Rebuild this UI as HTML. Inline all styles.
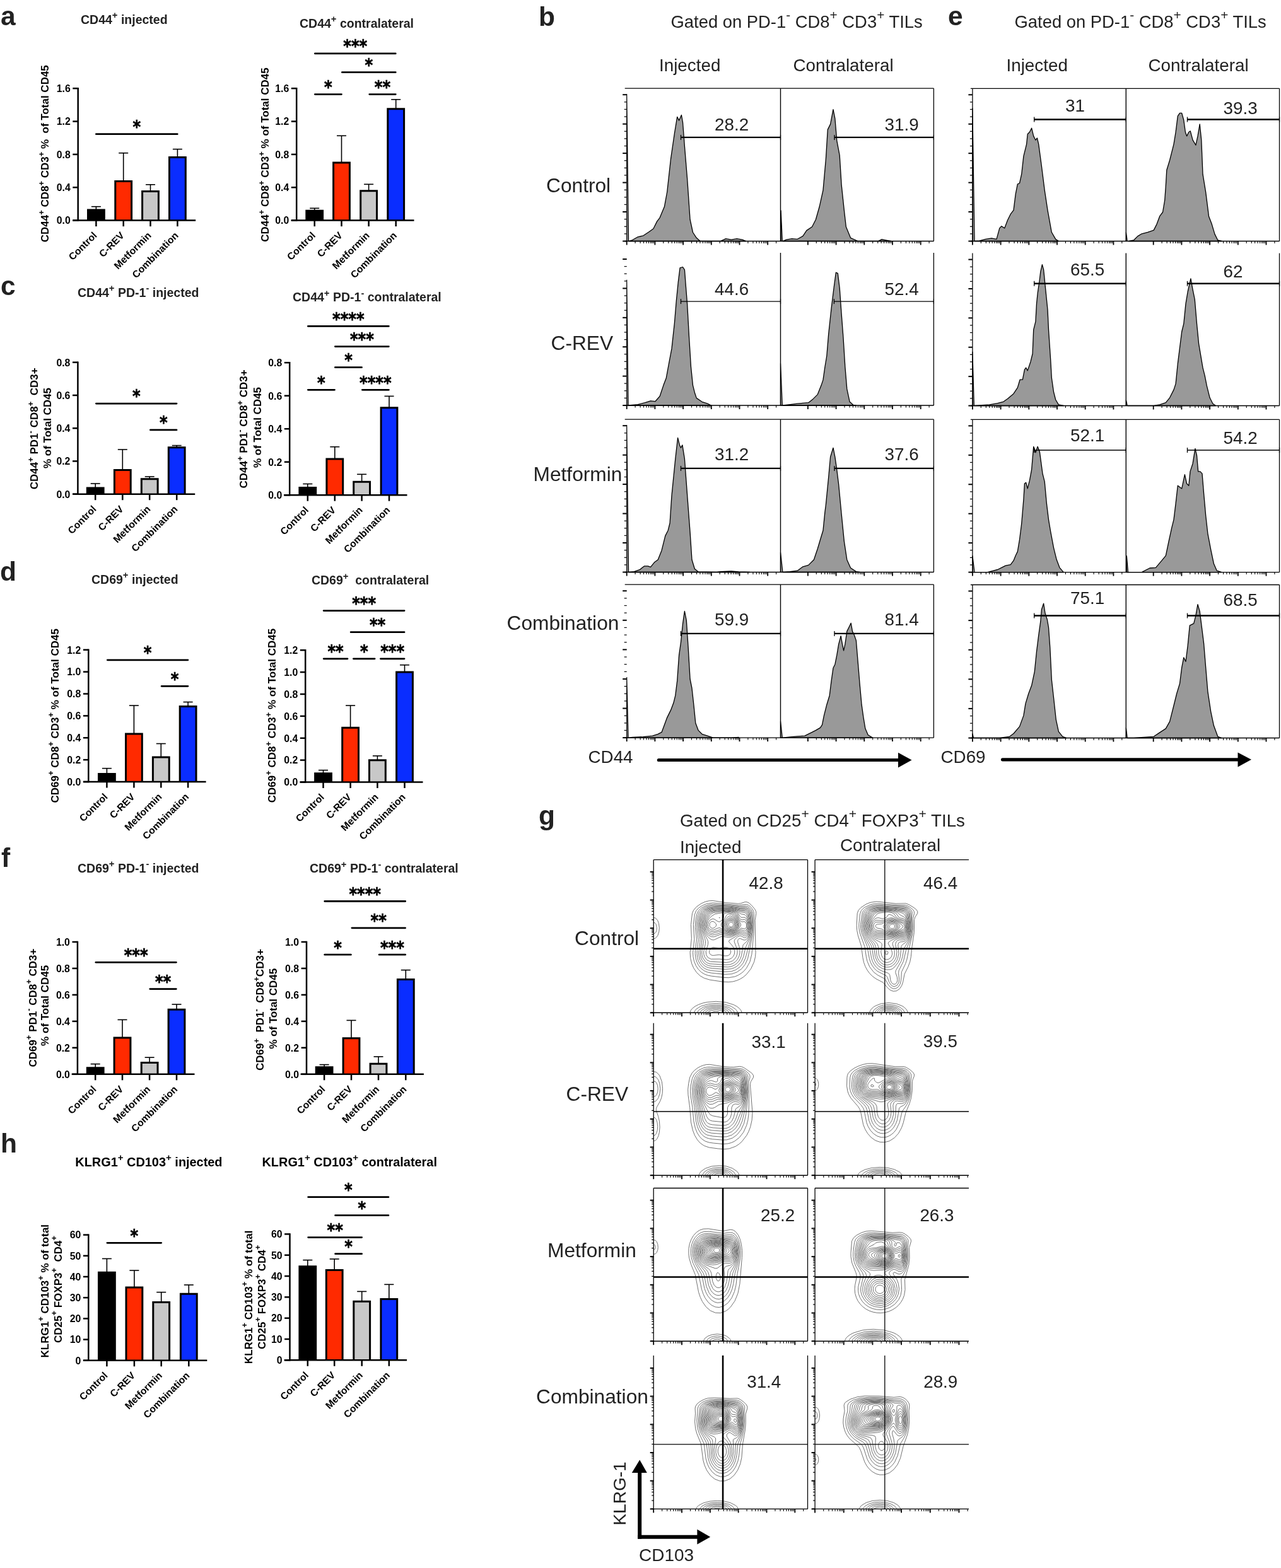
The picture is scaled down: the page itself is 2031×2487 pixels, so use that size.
<!DOCTYPE html><html><head><meta charset="utf-8"><title>Figure</title>
<style>html,body{margin:0;padding:0;background:#fff;}svg{display:block;}text{font-family:"Liberation Sans", Arial, sans-serif;white-space:pre;}</style></head><body>
<svg width="2031" height="2487" viewBox="0 0 2031 2487">
<rect width="2031" height="2487" fill="#fff"/>
<line x1="152.40" y1="327.70" x2="152.40" y2="335.00" stroke="#000" stroke-width="1.6" stroke-linecap="butt"/>
<line x1="144.90" y1="327.70" x2="159.90" y2="327.70" stroke="#000" stroke-width="1.6" stroke-linecap="butt"/>
<path d="M139.50,349.60 V333.00 H165.30 V349.60" fill="#000000" stroke="#000" stroke-width="3.0" stroke-linejoin="miter"/>
<line x1="195.70" y1="242.70" x2="195.70" y2="289.50" stroke="#000" stroke-width="1.6" stroke-linecap="butt"/>
<line x1="188.20" y1="242.70" x2="203.20" y2="242.70" stroke="#000" stroke-width="1.6" stroke-linecap="butt"/>
<path d="M182.80,349.60 V287.50 H208.60 V349.60" fill="#ff2a00" stroke="#000" stroke-width="3.0" stroke-linejoin="miter"/>
<line x1="238.50" y1="292.80" x2="238.50" y2="305.60" stroke="#000" stroke-width="1.6" stroke-linecap="butt"/>
<line x1="231.00" y1="292.80" x2="246.00" y2="292.80" stroke="#000" stroke-width="1.6" stroke-linecap="butt"/>
<path d="M225.60,349.60 V303.60 H251.40 V349.60" fill="#c8c8c8" stroke="#000" stroke-width="3.0" stroke-linejoin="miter"/>
<line x1="281.40" y1="236.60" x2="281.40" y2="251.50" stroke="#000" stroke-width="1.6" stroke-linecap="butt"/>
<line x1="273.90" y1="236.60" x2="288.90" y2="236.60" stroke="#000" stroke-width="1.6" stroke-linecap="butt"/>
<path d="M268.50,349.60 V249.50 H294.30 V349.60" fill="#0a2dff" stroke="#000" stroke-width="3.0" stroke-linejoin="miter"/>
<line x1="123.70" y1="139.00" x2="123.70" y2="350.80" stroke="#000" stroke-width="2.5" stroke-linecap="butt"/>
<line x1="115.30" y1="349.60" x2="310.20" y2="349.60" stroke="#000" stroke-width="2.5" stroke-linecap="butt"/>
<line x1="115.30" y1="349.60" x2="123.70" y2="349.60" stroke="#000" stroke-width="2.5" stroke-linecap="butt"/>
<text x="111.70" y="355.40" font-size="15.8" font-weight="bold" fill="#000" text-anchor="end">0.0</text>
<line x1="115.30" y1="297.25" x2="123.70" y2="297.25" stroke="#000" stroke-width="2.5" stroke-linecap="butt"/>
<text x="111.70" y="303.05" font-size="15.8" font-weight="bold" fill="#000" text-anchor="end">0.4</text>
<line x1="115.30" y1="244.90" x2="123.70" y2="244.90" stroke="#000" stroke-width="2.5" stroke-linecap="butt"/>
<text x="111.70" y="250.70" font-size="15.8" font-weight="bold" fill="#000" text-anchor="end">0.8</text>
<line x1="115.30" y1="192.55" x2="123.70" y2="192.55" stroke="#000" stroke-width="2.5" stroke-linecap="butt"/>
<text x="111.70" y="198.35" font-size="15.8" font-weight="bold" fill="#000" text-anchor="end">1.2</text>
<line x1="115.30" y1="140.20" x2="123.70" y2="140.20" stroke="#000" stroke-width="2.5" stroke-linecap="butt"/>
<text x="111.70" y="146.00" font-size="15.8" font-weight="bold" fill="#000" text-anchor="end">1.6</text>
<line x1="152.40" y1="349.60" x2="152.40" y2="359.10" stroke="#000" stroke-width="2.5" stroke-linecap="butt"/>
<text x="154.70" y="374.40" font-size="15.7" font-weight="bold" fill="#000" text-anchor="end" transform="rotate(-45 154.70 374.40)">Control</text>
<line x1="195.70" y1="349.60" x2="195.70" y2="359.10" stroke="#000" stroke-width="2.5" stroke-linecap="butt"/>
<text x="198.00" y="374.40" font-size="15.7" font-weight="bold" fill="#000" text-anchor="end" transform="rotate(-45 198.00 374.40)">C-REV</text>
<line x1="238.50" y1="349.60" x2="238.50" y2="359.10" stroke="#000" stroke-width="2.5" stroke-linecap="butt"/>
<text x="240.80" y="374.40" font-size="15.7" font-weight="bold" fill="#000" text-anchor="end" transform="rotate(-45 240.80 374.40)">Metformin</text>
<line x1="281.40" y1="349.60" x2="281.40" y2="359.10" stroke="#000" stroke-width="2.5" stroke-linecap="butt"/>
<text x="283.70" y="374.40" font-size="15.7" font-weight="bold" fill="#000" text-anchor="end" transform="rotate(-45 283.70 374.40)">Combination</text>
<line x1="152.40" y1="212.70" x2="281.20" y2="212.70" stroke="#000" stroke-width="2.8" stroke-linecap="round"/>
<text x="216.80" y="211.00" style="font-family:'DejaVu Sans',sans-serif" font-size="27.5" font-weight="bold" text-anchor="middle" textLength="12.65" lengthAdjust="spacingAndGlyphs" stroke="#000" stroke-width="0.7">*</text>
<text x="128.00" y="37.50" font-size="19.5" font-weight="bold" fill="#222" text-anchor="start">CD44<tspan dy="-8.58" font-size="14.82">+</tspan><tspan dy="8.58">​</tspan> injected</text>
<text x="77.40" y="243.75" font-size="17.0" font-weight="bold" fill="#000" text-anchor="middle" transform="rotate(-90 77.40 243.75)">CD44<tspan dy="-7.48" font-size="12.92">+</tspan><tspan dy="7.48">​</tspan> CD8<tspan dy="-7.48" font-size="12.92">+</tspan><tspan dy="7.48">​</tspan> CD3<tspan dy="-7.48" font-size="12.92">+</tspan><tspan dy="7.48">​</tspan> %  of Total CD45</text>
<line x1="498.70" y1="330.30" x2="498.70" y2="336.20" stroke="#000" stroke-width="1.6" stroke-linecap="butt"/>
<line x1="491.20" y1="330.30" x2="506.20" y2="330.30" stroke="#000" stroke-width="1.6" stroke-linecap="butt"/>
<path d="M485.80,349.60 V334.20 H511.60 V349.60" fill="#000000" stroke="#000" stroke-width="3.0" stroke-linejoin="miter"/>
<line x1="541.50" y1="215.30" x2="541.50" y2="260.00" stroke="#000" stroke-width="1.6" stroke-linecap="butt"/>
<line x1="534.00" y1="215.30" x2="549.00" y2="215.30" stroke="#000" stroke-width="1.6" stroke-linecap="butt"/>
<path d="M528.60,349.60 V258.00 H554.40 V349.60" fill="#ff2a00" stroke="#000" stroke-width="3.0" stroke-linejoin="miter"/>
<line x1="584.60" y1="292.30" x2="584.60" y2="304.70" stroke="#000" stroke-width="1.6" stroke-linecap="butt"/>
<line x1="577.10" y1="292.30" x2="592.10" y2="292.30" stroke="#000" stroke-width="1.6" stroke-linecap="butt"/>
<path d="M571.70,349.60 V302.70 H597.50 V349.60" fill="#c8c8c8" stroke="#000" stroke-width="3.0" stroke-linejoin="miter"/>
<line x1="627.70" y1="157.80" x2="627.70" y2="174.80" stroke="#000" stroke-width="1.6" stroke-linecap="butt"/>
<line x1="620.20" y1="157.80" x2="635.20" y2="157.80" stroke="#000" stroke-width="1.6" stroke-linecap="butt"/>
<path d="M614.80,349.60 V172.80 H640.60 V349.60" fill="#0a2dff" stroke="#000" stroke-width="3.0" stroke-linejoin="miter"/>
<line x1="470.20" y1="139.00" x2="470.20" y2="350.80" stroke="#000" stroke-width="2.5" stroke-linecap="butt"/>
<line x1="461.70" y1="349.60" x2="656.50" y2="349.60" stroke="#000" stroke-width="2.5" stroke-linecap="butt"/>
<line x1="461.80" y1="349.60" x2="470.20" y2="349.60" stroke="#000" stroke-width="2.5" stroke-linecap="butt"/>
<text x="458.20" y="355.40" font-size="15.8" font-weight="bold" fill="#000" text-anchor="end">0.0</text>
<line x1="461.80" y1="297.25" x2="470.20" y2="297.25" stroke="#000" stroke-width="2.5" stroke-linecap="butt"/>
<text x="458.20" y="303.05" font-size="15.8" font-weight="bold" fill="#000" text-anchor="end">0.4</text>
<line x1="461.80" y1="244.90" x2="470.20" y2="244.90" stroke="#000" stroke-width="2.5" stroke-linecap="butt"/>
<text x="458.20" y="250.70" font-size="15.8" font-weight="bold" fill="#000" text-anchor="end">0.8</text>
<line x1="461.80" y1="192.55" x2="470.20" y2="192.55" stroke="#000" stroke-width="2.5" stroke-linecap="butt"/>
<text x="458.20" y="198.35" font-size="15.8" font-weight="bold" fill="#000" text-anchor="end">1.2</text>
<line x1="461.80" y1="140.20" x2="470.20" y2="140.20" stroke="#000" stroke-width="2.5" stroke-linecap="butt"/>
<text x="458.20" y="146.00" font-size="15.8" font-weight="bold" fill="#000" text-anchor="end">1.6</text>
<line x1="498.70" y1="349.60" x2="498.70" y2="359.10" stroke="#000" stroke-width="2.5" stroke-linecap="butt"/>
<text x="501.00" y="374.40" font-size="15.7" font-weight="bold" fill="#000" text-anchor="end" transform="rotate(-45 501.00 374.40)">Control</text>
<line x1="541.50" y1="349.60" x2="541.50" y2="359.10" stroke="#000" stroke-width="2.5" stroke-linecap="butt"/>
<text x="543.80" y="374.40" font-size="15.7" font-weight="bold" fill="#000" text-anchor="end" transform="rotate(-45 543.80 374.40)">C-REV</text>
<line x1="584.60" y1="349.60" x2="584.60" y2="359.10" stroke="#000" stroke-width="2.5" stroke-linecap="butt"/>
<text x="586.90" y="374.40" font-size="15.7" font-weight="bold" fill="#000" text-anchor="end" transform="rotate(-45 586.90 374.40)">Metformin</text>
<line x1="627.70" y1="349.60" x2="627.70" y2="359.10" stroke="#000" stroke-width="2.5" stroke-linecap="butt"/>
<text x="630.00" y="374.40" font-size="15.7" font-weight="bold" fill="#000" text-anchor="end" transform="rotate(-45 630.00 374.40)">Combination</text>
<line x1="499.40" y1="84.90" x2="627.20" y2="84.90" stroke="#000" stroke-width="2.8" stroke-linecap="round"/>
<text x="563.30" y="83.20" style="font-family:'DejaVu Sans',sans-serif" font-size="27.5" font-weight="bold" text-anchor="middle" textLength="37.95" lengthAdjust="spacingAndGlyphs" stroke="#000" stroke-width="0.7">***</text>
<line x1="542.40" y1="114.70" x2="627.20" y2="114.70" stroke="#000" stroke-width="2.8" stroke-linecap="round"/>
<text x="584.80" y="113.00" style="font-family:'DejaVu Sans',sans-serif" font-size="27.5" font-weight="bold" text-anchor="middle" textLength="12.65" lengthAdjust="spacingAndGlyphs" stroke="#000" stroke-width="0.7">*</text>
<line x1="499.40" y1="149.60" x2="541.40" y2="149.60" stroke="#000" stroke-width="2.8" stroke-linecap="round"/>
<text x="520.40" y="147.90" style="font-family:'DejaVu Sans',sans-serif" font-size="27.5" font-weight="bold" text-anchor="middle" textLength="12.65" lengthAdjust="spacingAndGlyphs" stroke="#000" stroke-width="0.7">*</text>
<line x1="585.80" y1="149.60" x2="627.20" y2="149.60" stroke="#000" stroke-width="2.8" stroke-linecap="round"/>
<text x="606.50" y="147.90" style="font-family:'DejaVu Sans',sans-serif" font-size="27.5" font-weight="bold" text-anchor="middle" textLength="25.30" lengthAdjust="spacingAndGlyphs" stroke="#000" stroke-width="0.7">**</text>
<text x="475.00" y="43.50" font-size="19.5" font-weight="bold" fill="#222" text-anchor="start">CD44<tspan dy="-8.58" font-size="14.82">+</tspan><tspan dy="8.58">​</tspan> contralateral</text>
<text x="426.10" y="245.50" font-size="17.0" font-weight="bold" fill="#000" text-anchor="middle" transform="rotate(-90 426.10 245.50)">CD44<tspan dy="-7.48" font-size="12.92">+</tspan><tspan dy="7.48">​</tspan> CD8<tspan dy="-7.48" font-size="12.92">+</tspan><tspan dy="7.48">​</tspan> CD3<tspan dy="-7.48" font-size="12.92">+</tspan><tspan dy="7.48">​</tspan> % of Total CD45</text>
<line x1="151.20" y1="767.00" x2="151.20" y2="775.90" stroke="#000" stroke-width="1.6" stroke-linecap="butt"/>
<line x1="143.70" y1="767.00" x2="158.70" y2="767.00" stroke="#000" stroke-width="1.6" stroke-linecap="butt"/>
<path d="M138.30,783.70 V773.90 H164.10 V783.70" fill="#000000" stroke="#000" stroke-width="3.0" stroke-linejoin="miter"/>
<line x1="194.30" y1="713.00" x2="194.30" y2="747.50" stroke="#000" stroke-width="1.6" stroke-linecap="butt"/>
<line x1="186.80" y1="713.00" x2="201.80" y2="713.00" stroke="#000" stroke-width="1.6" stroke-linecap="butt"/>
<path d="M181.40,783.70 V745.50 H207.20 V783.70" fill="#ff2a00" stroke="#000" stroke-width="3.0" stroke-linejoin="miter"/>
<line x1="237.20" y1="756.00" x2="237.20" y2="761.80" stroke="#000" stroke-width="1.6" stroke-linecap="butt"/>
<line x1="229.70" y1="756.00" x2="244.70" y2="756.00" stroke="#000" stroke-width="1.6" stroke-linecap="butt"/>
<path d="M224.30,783.70 V759.80 H250.10 V783.70" fill="#c8c8c8" stroke="#000" stroke-width="3.0" stroke-linejoin="miter"/>
<line x1="280.20" y1="706.60" x2="280.20" y2="711.70" stroke="#000" stroke-width="1.6" stroke-linecap="butt"/>
<line x1="272.70" y1="706.60" x2="287.70" y2="706.60" stroke="#000" stroke-width="1.6" stroke-linecap="butt"/>
<path d="M267.30,783.70 V709.70 H293.10 V783.70" fill="#0a2dff" stroke="#000" stroke-width="3.0" stroke-linejoin="miter"/>
<line x1="123.40" y1="573.50" x2="123.40" y2="784.90" stroke="#000" stroke-width="2.5" stroke-linecap="butt"/>
<line x1="115.00" y1="783.70" x2="309.20" y2="783.70" stroke="#000" stroke-width="2.5" stroke-linecap="butt"/>
<line x1="115.00" y1="783.70" x2="123.40" y2="783.70" stroke="#000" stroke-width="2.5" stroke-linecap="butt"/>
<text x="111.40" y="789.50" font-size="15.8" font-weight="bold" fill="#000" text-anchor="end">0.0</text>
<line x1="115.00" y1="731.45" x2="123.40" y2="731.45" stroke="#000" stroke-width="2.5" stroke-linecap="butt"/>
<text x="111.40" y="737.25" font-size="15.8" font-weight="bold" fill="#000" text-anchor="end">0.2</text>
<line x1="115.00" y1="679.20" x2="123.40" y2="679.20" stroke="#000" stroke-width="2.5" stroke-linecap="butt"/>
<text x="111.40" y="685.00" font-size="15.8" font-weight="bold" fill="#000" text-anchor="end">0.4</text>
<line x1="115.00" y1="626.95" x2="123.40" y2="626.95" stroke="#000" stroke-width="2.5" stroke-linecap="butt"/>
<text x="111.40" y="632.75" font-size="15.8" font-weight="bold" fill="#000" text-anchor="end">0.6</text>
<line x1="115.00" y1="574.70" x2="123.40" y2="574.70" stroke="#000" stroke-width="2.5" stroke-linecap="butt"/>
<text x="111.40" y="580.50" font-size="15.8" font-weight="bold" fill="#000" text-anchor="end">0.8</text>
<line x1="151.20" y1="783.70" x2="151.20" y2="793.20" stroke="#000" stroke-width="2.5" stroke-linecap="butt"/>
<text x="153.50" y="808.50" font-size="15.7" font-weight="bold" fill="#000" text-anchor="end" transform="rotate(-45 153.50 808.50)">Control</text>
<line x1="194.30" y1="783.70" x2="194.30" y2="793.20" stroke="#000" stroke-width="2.5" stroke-linecap="butt"/>
<text x="196.60" y="808.50" font-size="15.7" font-weight="bold" fill="#000" text-anchor="end" transform="rotate(-45 196.60 808.50)">C-REV</text>
<line x1="237.20" y1="783.70" x2="237.20" y2="793.20" stroke="#000" stroke-width="2.5" stroke-linecap="butt"/>
<text x="239.50" y="808.50" font-size="15.7" font-weight="bold" fill="#000" text-anchor="end" transform="rotate(-45 239.50 808.50)">Metformin</text>
<line x1="280.20" y1="783.70" x2="280.20" y2="793.20" stroke="#000" stroke-width="2.5" stroke-linecap="butt"/>
<text x="282.50" y="808.50" font-size="15.7" font-weight="bold" fill="#000" text-anchor="end" transform="rotate(-45 282.50 808.50)">Combination</text>
<line x1="152.40" y1="640.10" x2="280.00" y2="640.10" stroke="#000" stroke-width="2.8" stroke-linecap="round"/>
<text x="216.20" y="638.40" style="font-family:'DejaVu Sans',sans-serif" font-size="27.5" font-weight="bold" text-anchor="middle" textLength="12.65" lengthAdjust="spacingAndGlyphs" stroke="#000" stroke-width="0.7">*</text>
<line x1="238.40" y1="681.90" x2="280.00" y2="681.90" stroke="#000" stroke-width="2.8" stroke-linecap="round"/>
<text x="259.20" y="680.20" style="font-family:'DejaVu Sans',sans-serif" font-size="27.5" font-weight="bold" text-anchor="middle" textLength="12.65" lengthAdjust="spacingAndGlyphs" stroke="#000" stroke-width="0.7">*</text>
<text x="123.00" y="471.00" font-size="19.5" font-weight="bold" fill="#222" text-anchor="start">CD44<tspan dy="-8.58" font-size="14.82">+</tspan><tspan dy="8.58">​</tspan> PD-1<tspan dy="-8.58" font-size="14.82">-</tspan><tspan dy="8.58">​</tspan> injected</text>
<text x="60.00" y="679.80" font-size="17.0" font-weight="bold" fill="#000" text-anchor="middle" transform="rotate(-90 60.00 679.80)">CD44<tspan dy="-7.48" font-size="12.92">+</tspan><tspan dy="7.48">​</tspan> PD1<tspan dy="-7.48" font-size="12.92">-</tspan><tspan dy="7.48">​</tspan> CD8<tspan dy="-7.48" font-size="12.92">+</tspan><tspan dy="7.48">​</tspan>  CD3+</text>
<text x="80.90" y="679.00" font-size="17.0" font-weight="bold" fill="#000" text-anchor="middle" transform="rotate(-90 80.90 679.00)">% of Total CD45</text>
<line x1="487.80" y1="767.50" x2="487.80" y2="775.40" stroke="#000" stroke-width="1.6" stroke-linecap="butt"/>
<line x1="480.30" y1="767.50" x2="495.30" y2="767.50" stroke="#000" stroke-width="1.6" stroke-linecap="butt"/>
<path d="M474.90,785.20 V773.40 H500.70 V785.20" fill="#000000" stroke="#000" stroke-width="3.0" stroke-linejoin="miter"/>
<line x1="530.80" y1="708.70" x2="530.80" y2="729.90" stroke="#000" stroke-width="1.6" stroke-linecap="butt"/>
<line x1="523.30" y1="708.70" x2="538.30" y2="708.70" stroke="#000" stroke-width="1.6" stroke-linecap="butt"/>
<path d="M517.90,785.20 V727.90 H543.70 V785.20" fill="#ff2a00" stroke="#000" stroke-width="3.0" stroke-linejoin="miter"/>
<line x1="573.60" y1="752.30" x2="573.60" y2="766.20" stroke="#000" stroke-width="1.6" stroke-linecap="butt"/>
<line x1="566.10" y1="752.30" x2="581.10" y2="752.30" stroke="#000" stroke-width="1.6" stroke-linecap="butt"/>
<path d="M560.70,785.20 V764.20 H586.50 V785.20" fill="#c8c8c8" stroke="#000" stroke-width="3.0" stroke-linejoin="miter"/>
<line x1="617.00" y1="628.40" x2="617.00" y2="648.80" stroke="#000" stroke-width="1.6" stroke-linecap="butt"/>
<line x1="609.50" y1="628.40" x2="624.50" y2="628.40" stroke="#000" stroke-width="1.6" stroke-linecap="butt"/>
<path d="M604.10,785.20 V646.80 H629.90 V785.20" fill="#0a2dff" stroke="#000" stroke-width="3.0" stroke-linejoin="miter"/>
<line x1="459.20" y1="574.00" x2="459.20" y2="786.40" stroke="#000" stroke-width="2.5" stroke-linecap="butt"/>
<line x1="450.00" y1="785.20" x2="645.50" y2="785.20" stroke="#000" stroke-width="2.5" stroke-linecap="butt"/>
<line x1="450.80" y1="785.20" x2="459.20" y2="785.20" stroke="#000" stroke-width="2.5" stroke-linecap="butt"/>
<text x="447.20" y="791.00" font-size="15.8" font-weight="bold" fill="#000" text-anchor="end">0.0</text>
<line x1="450.80" y1="732.70" x2="459.20" y2="732.70" stroke="#000" stroke-width="2.5" stroke-linecap="butt"/>
<text x="447.20" y="738.50" font-size="15.8" font-weight="bold" fill="#000" text-anchor="end">0.2</text>
<line x1="450.80" y1="680.20" x2="459.20" y2="680.20" stroke="#000" stroke-width="2.5" stroke-linecap="butt"/>
<text x="447.20" y="686.00" font-size="15.8" font-weight="bold" fill="#000" text-anchor="end">0.4</text>
<line x1="450.80" y1="627.70" x2="459.20" y2="627.70" stroke="#000" stroke-width="2.5" stroke-linecap="butt"/>
<text x="447.20" y="633.50" font-size="15.8" font-weight="bold" fill="#000" text-anchor="end">0.6</text>
<line x1="450.80" y1="575.20" x2="459.20" y2="575.20" stroke="#000" stroke-width="2.5" stroke-linecap="butt"/>
<text x="447.20" y="581.00" font-size="15.8" font-weight="bold" fill="#000" text-anchor="end">0.8</text>
<line x1="487.80" y1="785.20" x2="487.80" y2="794.70" stroke="#000" stroke-width="2.5" stroke-linecap="butt"/>
<text x="490.10" y="810.00" font-size="15.7" font-weight="bold" fill="#000" text-anchor="end" transform="rotate(-45 490.10 810.00)">Control</text>
<line x1="530.80" y1="785.20" x2="530.80" y2="794.70" stroke="#000" stroke-width="2.5" stroke-linecap="butt"/>
<text x="533.10" y="810.00" font-size="15.7" font-weight="bold" fill="#000" text-anchor="end" transform="rotate(-45 533.10 810.00)">C-REV</text>
<line x1="573.60" y1="785.20" x2="573.60" y2="794.70" stroke="#000" stroke-width="2.5" stroke-linecap="butt"/>
<text x="575.90" y="810.00" font-size="15.7" font-weight="bold" fill="#000" text-anchor="end" transform="rotate(-45 575.90 810.00)">Metformin</text>
<line x1="617.00" y1="785.20" x2="617.00" y2="794.70" stroke="#000" stroke-width="2.5" stroke-linecap="butt"/>
<text x="619.30" y="810.00" font-size="15.7" font-weight="bold" fill="#000" text-anchor="end" transform="rotate(-45 619.30 810.00)">Combination</text>
<line x1="488.40" y1="517.40" x2="616.30" y2="517.40" stroke="#000" stroke-width="2.8" stroke-linecap="round"/>
<text x="552.35" y="515.70" style="font-family:'DejaVu Sans',sans-serif" font-size="27.5" font-weight="bold" text-anchor="middle" textLength="50.60" lengthAdjust="spacingAndGlyphs" stroke="#000" stroke-width="0.7">****</text>
<line x1="531.40" y1="549.60" x2="616.30" y2="549.60" stroke="#000" stroke-width="2.8" stroke-linecap="round"/>
<text x="573.85" y="547.90" style="font-family:'DejaVu Sans',sans-serif" font-size="27.5" font-weight="bold" text-anchor="middle" textLength="37.95" lengthAdjust="spacingAndGlyphs" stroke="#000" stroke-width="0.7">***</text>
<line x1="531.40" y1="582.70" x2="573.50" y2="582.70" stroke="#000" stroke-width="2.8" stroke-linecap="round"/>
<text x="552.45" y="581.00" style="font-family:'DejaVu Sans',sans-serif" font-size="27.5" font-weight="bold" text-anchor="middle" textLength="12.65" lengthAdjust="spacingAndGlyphs" stroke="#000" stroke-width="0.7">*</text>
<line x1="488.40" y1="618.30" x2="530.40" y2="618.30" stroke="#000" stroke-width="2.8" stroke-linecap="round"/>
<text x="509.40" y="616.60" style="font-family:'DejaVu Sans',sans-serif" font-size="27.5" font-weight="bold" text-anchor="middle" textLength="12.65" lengthAdjust="spacingAndGlyphs" stroke="#000" stroke-width="0.7">*</text>
<line x1="574.40" y1="618.30" x2="616.30" y2="618.30" stroke="#000" stroke-width="2.8" stroke-linecap="round"/>
<text x="595.35" y="616.60" style="font-family:'DejaVu Sans',sans-serif" font-size="27.5" font-weight="bold" text-anchor="middle" textLength="50.60" lengthAdjust="spacingAndGlyphs" stroke="#000" stroke-width="0.7">****</text>
<text x="464.00" y="478.40" font-size="19.5" font-weight="bold" fill="#222" text-anchor="start">CD44<tspan dy="-8.58" font-size="14.82">+</tspan><tspan dy="8.58">​</tspan> PD-1<tspan dy="-8.58" font-size="14.82">-</tspan><tspan dy="8.58">​</tspan> contralateral</text>
<text x="392.20" y="680.45" font-size="17.0" font-weight="bold" fill="#000" text-anchor="middle" transform="rotate(-90 392.20 680.45)">CD44<tspan dy="-7.48" font-size="12.92">+</tspan><tspan dy="7.48">​</tspan> PD1<tspan dy="-7.48" font-size="12.92">-</tspan><tspan dy="7.48">​</tspan> CD8<tspan dy="-7.48" font-size="12.92">+</tspan><tspan dy="7.48">​</tspan> CD3+</text>
<text x="414.20" y="678.00" font-size="17.0" font-weight="bold" fill="#000" text-anchor="middle" transform="rotate(-90 414.20 678.00)">% of Total CD45</text>
<line x1="169.40" y1="1218.70" x2="169.40" y2="1229.50" stroke="#000" stroke-width="1.6" stroke-linecap="butt"/>
<line x1="161.90" y1="1218.70" x2="176.90" y2="1218.70" stroke="#000" stroke-width="1.6" stroke-linecap="butt"/>
<path d="M156.50,1240.00 V1227.50 H182.30 V1240.00" fill="#000000" stroke="#000" stroke-width="3.0" stroke-linejoin="miter"/>
<line x1="212.40" y1="1119.00" x2="212.40" y2="1166.10" stroke="#000" stroke-width="1.6" stroke-linecap="butt"/>
<line x1="204.90" y1="1119.00" x2="219.90" y2="1119.00" stroke="#000" stroke-width="1.6" stroke-linecap="butt"/>
<path d="M199.50,1240.00 V1164.10 H225.30 V1240.00" fill="#ff2a00" stroke="#000" stroke-width="3.0" stroke-linejoin="miter"/>
<line x1="255.30" y1="1179.50" x2="255.30" y2="1202.90" stroke="#000" stroke-width="1.6" stroke-linecap="butt"/>
<line x1="247.80" y1="1179.50" x2="262.80" y2="1179.50" stroke="#000" stroke-width="1.6" stroke-linecap="butt"/>
<path d="M242.40,1240.00 V1200.90 H268.20 V1240.00" fill="#c8c8c8" stroke="#000" stroke-width="3.0" stroke-linejoin="miter"/>
<line x1="298.10" y1="1113.50" x2="298.10" y2="1122.50" stroke="#000" stroke-width="1.6" stroke-linecap="butt"/>
<line x1="290.60" y1="1113.50" x2="305.60" y2="1113.50" stroke="#000" stroke-width="1.6" stroke-linecap="butt"/>
<path d="M285.20,1240.00 V1120.50 H311.00 V1240.00" fill="#0a2dff" stroke="#000" stroke-width="3.0" stroke-linejoin="miter"/>
<line x1="140.30" y1="1029.50" x2="140.30" y2="1241.20" stroke="#000" stroke-width="2.5" stroke-linecap="butt"/>
<line x1="131.90" y1="1240.00" x2="326.60" y2="1240.00" stroke="#000" stroke-width="2.5" stroke-linecap="butt"/>
<line x1="131.90" y1="1240.00" x2="140.30" y2="1240.00" stroke="#000" stroke-width="2.5" stroke-linecap="butt"/>
<text x="128.30" y="1245.80" font-size="15.8" font-weight="bold" fill="#000" text-anchor="end">0.0</text>
<line x1="131.90" y1="1205.12" x2="140.30" y2="1205.12" stroke="#000" stroke-width="2.5" stroke-linecap="butt"/>
<text x="128.30" y="1210.92" font-size="15.8" font-weight="bold" fill="#000" text-anchor="end">0.2</text>
<line x1="131.90" y1="1170.23" x2="140.30" y2="1170.23" stroke="#000" stroke-width="2.5" stroke-linecap="butt"/>
<text x="128.30" y="1176.03" font-size="15.8" font-weight="bold" fill="#000" text-anchor="end">0.4</text>
<line x1="131.90" y1="1135.35" x2="140.30" y2="1135.35" stroke="#000" stroke-width="2.5" stroke-linecap="butt"/>
<text x="128.30" y="1141.15" font-size="15.8" font-weight="bold" fill="#000" text-anchor="end">0.6</text>
<line x1="131.90" y1="1100.47" x2="140.30" y2="1100.47" stroke="#000" stroke-width="2.5" stroke-linecap="butt"/>
<text x="128.30" y="1106.27" font-size="15.8" font-weight="bold" fill="#000" text-anchor="end">0.8</text>
<line x1="131.90" y1="1065.58" x2="140.30" y2="1065.58" stroke="#000" stroke-width="2.5" stroke-linecap="butt"/>
<text x="128.30" y="1071.38" font-size="15.8" font-weight="bold" fill="#000" text-anchor="end">1.0</text>
<line x1="131.90" y1="1030.70" x2="140.30" y2="1030.70" stroke="#000" stroke-width="2.5" stroke-linecap="butt"/>
<text x="128.30" y="1036.50" font-size="15.8" font-weight="bold" fill="#000" text-anchor="end">1.2</text>
<line x1="169.40" y1="1240.00" x2="169.40" y2="1249.50" stroke="#000" stroke-width="2.5" stroke-linecap="butt"/>
<text x="171.70" y="1264.80" font-size="15.7" font-weight="bold" fill="#000" text-anchor="end" transform="rotate(-45 171.70 1264.80)">Control</text>
<line x1="212.40" y1="1240.00" x2="212.40" y2="1249.50" stroke="#000" stroke-width="2.5" stroke-linecap="butt"/>
<text x="214.70" y="1264.80" font-size="15.7" font-weight="bold" fill="#000" text-anchor="end" transform="rotate(-45 214.70 1264.80)">C-REV</text>
<line x1="255.30" y1="1240.00" x2="255.30" y2="1249.50" stroke="#000" stroke-width="2.5" stroke-linecap="butt"/>
<text x="257.60" y="1264.80" font-size="15.7" font-weight="bold" fill="#000" text-anchor="end" transform="rotate(-45 257.60 1264.80)">Metformin</text>
<line x1="298.10" y1="1240.00" x2="298.10" y2="1249.50" stroke="#000" stroke-width="2.5" stroke-linecap="butt"/>
<text x="300.40" y="1264.80" font-size="15.7" font-weight="bold" fill="#000" text-anchor="end" transform="rotate(-45 300.40 1264.80)">Combination</text>
<line x1="170.30" y1="1046.80" x2="297.90" y2="1046.80" stroke="#000" stroke-width="2.8" stroke-linecap="round"/>
<text x="234.10" y="1045.10" style="font-family:'DejaVu Sans',sans-serif" font-size="27.5" font-weight="bold" text-anchor="middle" textLength="12.65" lengthAdjust="spacingAndGlyphs" stroke="#000" stroke-width="0.7">*</text>
<line x1="256.20" y1="1088.30" x2="297.90" y2="1088.30" stroke="#000" stroke-width="2.8" stroke-linecap="round"/>
<text x="277.05" y="1086.60" style="font-family:'DejaVu Sans',sans-serif" font-size="27.5" font-weight="bold" text-anchor="middle" textLength="12.65" lengthAdjust="spacingAndGlyphs" stroke="#000" stroke-width="0.7">*</text>
<text x="145.00" y="926.00" font-size="19.5" font-weight="bold" fill="#222" text-anchor="start">CD69<tspan dy="-8.58" font-size="14.82">+</tspan><tspan dy="8.58">​</tspan> injected</text>
<text x="92.70" y="1135.30" font-size="17.0" font-weight="bold" fill="#000" text-anchor="middle" transform="rotate(-90 92.70 1135.30)">CD69<tspan dy="-7.48" font-size="12.92">+</tspan><tspan dy="7.48">​</tspan> CD8<tspan dy="-7.48" font-size="12.92">+</tspan><tspan dy="7.48">​</tspan> CD3<tspan dy="-7.48" font-size="12.92">+</tspan><tspan dy="7.48">​</tspan> % of Total CD45</text>
<line x1="512.50" y1="1221.60" x2="512.50" y2="1228.80" stroke="#000" stroke-width="1.6" stroke-linecap="butt"/>
<line x1="505.00" y1="1221.60" x2="520.00" y2="1221.60" stroke="#000" stroke-width="1.6" stroke-linecap="butt"/>
<path d="M499.60,1240.50 V1226.80 H525.40 V1240.50" fill="#000000" stroke="#000" stroke-width="3.0" stroke-linejoin="miter"/>
<line x1="555.60" y1="1119.00" x2="555.60" y2="1156.20" stroke="#000" stroke-width="1.6" stroke-linecap="butt"/>
<line x1="548.10" y1="1119.00" x2="563.10" y2="1119.00" stroke="#000" stroke-width="1.6" stroke-linecap="butt"/>
<path d="M542.70,1240.50 V1154.20 H568.50 V1240.50" fill="#ff2a00" stroke="#000" stroke-width="3.0" stroke-linejoin="miter"/>
<line x1="598.40" y1="1198.90" x2="598.40" y2="1207.70" stroke="#000" stroke-width="1.6" stroke-linecap="butt"/>
<line x1="590.90" y1="1198.90" x2="605.90" y2="1198.90" stroke="#000" stroke-width="1.6" stroke-linecap="butt"/>
<path d="M585.50,1240.50 V1205.70 H611.30 V1240.50" fill="#c8c8c8" stroke="#000" stroke-width="3.0" stroke-linejoin="miter"/>
<line x1="641.50" y1="1054.70" x2="641.50" y2="1067.90" stroke="#000" stroke-width="1.6" stroke-linecap="butt"/>
<line x1="634.00" y1="1054.70" x2="649.00" y2="1054.70" stroke="#000" stroke-width="1.6" stroke-linecap="butt"/>
<path d="M628.60,1240.50 V1065.90 H654.40 V1240.50" fill="#0a2dff" stroke="#000" stroke-width="3.0" stroke-linejoin="miter"/>
<line x1="484.20" y1="1030.00" x2="484.20" y2="1241.70" stroke="#000" stroke-width="2.5" stroke-linecap="butt"/>
<line x1="475.50" y1="1240.50" x2="670.50" y2="1240.50" stroke="#000" stroke-width="2.5" stroke-linecap="butt"/>
<line x1="475.80" y1="1240.50" x2="484.20" y2="1240.50" stroke="#000" stroke-width="2.5" stroke-linecap="butt"/>
<text x="472.20" y="1246.30" font-size="15.8" font-weight="bold" fill="#000" text-anchor="end">0.0</text>
<line x1="475.80" y1="1205.62" x2="484.20" y2="1205.62" stroke="#000" stroke-width="2.5" stroke-linecap="butt"/>
<text x="472.20" y="1211.42" font-size="15.8" font-weight="bold" fill="#000" text-anchor="end">0.2</text>
<line x1="475.80" y1="1170.73" x2="484.20" y2="1170.73" stroke="#000" stroke-width="2.5" stroke-linecap="butt"/>
<text x="472.20" y="1176.53" font-size="15.8" font-weight="bold" fill="#000" text-anchor="end">0.4</text>
<line x1="475.80" y1="1135.85" x2="484.20" y2="1135.85" stroke="#000" stroke-width="2.5" stroke-linecap="butt"/>
<text x="472.20" y="1141.65" font-size="15.8" font-weight="bold" fill="#000" text-anchor="end">0.6</text>
<line x1="475.80" y1="1100.97" x2="484.20" y2="1100.97" stroke="#000" stroke-width="2.5" stroke-linecap="butt"/>
<text x="472.20" y="1106.77" font-size="15.8" font-weight="bold" fill="#000" text-anchor="end">0.8</text>
<line x1="475.80" y1="1066.08" x2="484.20" y2="1066.08" stroke="#000" stroke-width="2.5" stroke-linecap="butt"/>
<text x="472.20" y="1071.88" font-size="15.8" font-weight="bold" fill="#000" text-anchor="end">1.0</text>
<line x1="475.80" y1="1031.20" x2="484.20" y2="1031.20" stroke="#000" stroke-width="2.5" stroke-linecap="butt"/>
<text x="472.20" y="1037.00" font-size="15.8" font-weight="bold" fill="#000" text-anchor="end">1.2</text>
<line x1="512.50" y1="1240.50" x2="512.50" y2="1250.00" stroke="#000" stroke-width="2.5" stroke-linecap="butt"/>
<text x="514.80" y="1265.30" font-size="15.7" font-weight="bold" fill="#000" text-anchor="end" transform="rotate(-45 514.80 1265.30)">Control</text>
<line x1="555.60" y1="1240.50" x2="555.60" y2="1250.00" stroke="#000" stroke-width="2.5" stroke-linecap="butt"/>
<text x="557.90" y="1265.30" font-size="15.7" font-weight="bold" fill="#000" text-anchor="end" transform="rotate(-45 557.90 1265.30)">C-REV</text>
<line x1="598.40" y1="1240.50" x2="598.40" y2="1250.00" stroke="#000" stroke-width="2.5" stroke-linecap="butt"/>
<text x="600.70" y="1265.30" font-size="15.7" font-weight="bold" fill="#000" text-anchor="end" transform="rotate(-45 600.70 1265.30)">Metformin</text>
<line x1="641.50" y1="1240.50" x2="641.50" y2="1250.00" stroke="#000" stroke-width="2.5" stroke-linecap="butt"/>
<text x="643.80" y="1265.30" font-size="15.7" font-weight="bold" fill="#000" text-anchor="end" transform="rotate(-45 643.80 1265.30)">Combination</text>
<line x1="513.20" y1="968.60" x2="641.00" y2="968.60" stroke="#000" stroke-width="2.8" stroke-linecap="round"/>
<text x="577.10" y="966.90" style="font-family:'DejaVu Sans',sans-serif" font-size="27.5" font-weight="bold" text-anchor="middle" textLength="37.95" lengthAdjust="spacingAndGlyphs" stroke="#000" stroke-width="0.7">***</text>
<line x1="556.20" y1="1002.70" x2="641.00" y2="1002.70" stroke="#000" stroke-width="2.8" stroke-linecap="round"/>
<text x="598.60" y="1001.00" style="font-family:'DejaVu Sans',sans-serif" font-size="27.5" font-weight="bold" text-anchor="middle" textLength="25.30" lengthAdjust="spacingAndGlyphs" stroke="#000" stroke-width="0.7">**</text>
<line x1="513.20" y1="1044.80" x2="551.00" y2="1044.80" stroke="#000" stroke-width="2.8" stroke-linecap="round"/>
<text x="532.10" y="1043.10" style="font-family:'DejaVu Sans',sans-serif" font-size="27.5" font-weight="bold" text-anchor="middle" textLength="25.30" lengthAdjust="spacingAndGlyphs" stroke="#000" stroke-width="0.7">**</text>
<line x1="560.40" y1="1044.80" x2="594.10" y2="1044.80" stroke="#000" stroke-width="2.8" stroke-linecap="round"/>
<text x="577.25" y="1043.10" style="font-family:'DejaVu Sans',sans-serif" font-size="27.5" font-weight="bold" text-anchor="middle" textLength="12.65" lengthAdjust="spacingAndGlyphs" stroke="#000" stroke-width="0.7">*</text>
<line x1="603.40" y1="1044.80" x2="641.00" y2="1044.80" stroke="#000" stroke-width="2.8" stroke-linecap="round"/>
<text x="622.20" y="1043.10" style="font-family:'DejaVu Sans',sans-serif" font-size="27.5" font-weight="bold" text-anchor="middle" textLength="37.95" lengthAdjust="spacingAndGlyphs" stroke="#000" stroke-width="0.7">***</text>
<text x="493.90" y="927.20" font-size="19.5" font-weight="bold" fill="#222" text-anchor="start">CD69<tspan dy="-8.58" font-size="14.82">+</tspan><tspan dy="8.58">​</tspan>  contralateral</text>
<text x="437.00" y="1135.00" font-size="17.0" font-weight="bold" fill="#000" text-anchor="middle" transform="rotate(-90 437.00 1135.00)">CD69<tspan dy="-7.48" font-size="12.92">+</tspan><tspan dy="7.48">​</tspan> CD8<tspan dy="-7.48" font-size="12.92">+</tspan><tspan dy="7.48">​</tspan> CD3<tspan dy="-7.48" font-size="12.92">+</tspan><tspan dy="7.48">​</tspan> % of Total CD45</text>
<line x1="151.20" y1="1687.60" x2="151.20" y2="1695.70" stroke="#000" stroke-width="1.6" stroke-linecap="butt"/>
<line x1="143.70" y1="1687.60" x2="158.70" y2="1687.60" stroke="#000" stroke-width="1.6" stroke-linecap="butt"/>
<path d="M138.30,1703.80 V1693.70 H164.10 V1703.80" fill="#000000" stroke="#000" stroke-width="3.0" stroke-linejoin="miter"/>
<line x1="194.00" y1="1617.40" x2="194.00" y2="1648.00" stroke="#000" stroke-width="1.6" stroke-linecap="butt"/>
<line x1="186.50" y1="1617.40" x2="201.50" y2="1617.40" stroke="#000" stroke-width="1.6" stroke-linecap="butt"/>
<path d="M181.10,1703.80 V1646.00 H206.90 V1703.80" fill="#ff2a00" stroke="#000" stroke-width="3.0" stroke-linejoin="miter"/>
<line x1="237.10" y1="1677.20" x2="237.10" y2="1687.50" stroke="#000" stroke-width="1.6" stroke-linecap="butt"/>
<line x1="229.60" y1="1677.20" x2="244.60" y2="1677.20" stroke="#000" stroke-width="1.6" stroke-linecap="butt"/>
<path d="M224.20,1703.80 V1685.50 H250.00 V1703.80" fill="#c8c8c8" stroke="#000" stroke-width="3.0" stroke-linejoin="miter"/>
<line x1="280.00" y1="1593.00" x2="280.00" y2="1603.30" stroke="#000" stroke-width="1.6" stroke-linecap="butt"/>
<line x1="272.50" y1="1593.00" x2="287.50" y2="1593.00" stroke="#000" stroke-width="1.6" stroke-linecap="butt"/>
<path d="M267.10,1703.80 V1601.30 H292.90 V1703.80" fill="#0a2dff" stroke="#000" stroke-width="3.0" stroke-linejoin="miter"/>
<line x1="122.90" y1="1492.80" x2="122.90" y2="1705.00" stroke="#000" stroke-width="2.5" stroke-linecap="butt"/>
<line x1="113.70" y1="1703.80" x2="308.50" y2="1703.80" stroke="#000" stroke-width="2.5" stroke-linecap="butt"/>
<line x1="114.50" y1="1703.80" x2="122.90" y2="1703.80" stroke="#000" stroke-width="2.5" stroke-linecap="butt"/>
<text x="110.90" y="1709.60" font-size="15.8" font-weight="bold" fill="#000" text-anchor="end">0.0</text>
<line x1="114.50" y1="1661.84" x2="122.90" y2="1661.84" stroke="#000" stroke-width="2.5" stroke-linecap="butt"/>
<text x="110.90" y="1667.64" font-size="15.8" font-weight="bold" fill="#000" text-anchor="end">0.2</text>
<line x1="114.50" y1="1619.88" x2="122.90" y2="1619.88" stroke="#000" stroke-width="2.5" stroke-linecap="butt"/>
<text x="110.90" y="1625.68" font-size="15.8" font-weight="bold" fill="#000" text-anchor="end">0.4</text>
<line x1="114.50" y1="1577.92" x2="122.90" y2="1577.92" stroke="#000" stroke-width="2.5" stroke-linecap="butt"/>
<text x="110.90" y="1583.72" font-size="15.8" font-weight="bold" fill="#000" text-anchor="end">0.6</text>
<line x1="114.50" y1="1535.96" x2="122.90" y2="1535.96" stroke="#000" stroke-width="2.5" stroke-linecap="butt"/>
<text x="110.90" y="1541.76" font-size="15.8" font-weight="bold" fill="#000" text-anchor="end">0.8</text>
<line x1="114.50" y1="1494.00" x2="122.90" y2="1494.00" stroke="#000" stroke-width="2.5" stroke-linecap="butt"/>
<text x="110.90" y="1499.80" font-size="15.8" font-weight="bold" fill="#000" text-anchor="end">1.0</text>
<line x1="151.20" y1="1703.80" x2="151.20" y2="1713.30" stroke="#000" stroke-width="2.5" stroke-linecap="butt"/>
<text x="153.50" y="1728.60" font-size="15.7" font-weight="bold" fill="#000" text-anchor="end" transform="rotate(-45 153.50 1728.60)">Control</text>
<line x1="194.00" y1="1703.80" x2="194.00" y2="1713.30" stroke="#000" stroke-width="2.5" stroke-linecap="butt"/>
<text x="196.30" y="1728.60" font-size="15.7" font-weight="bold" fill="#000" text-anchor="end" transform="rotate(-45 196.30 1728.60)">C-REV</text>
<line x1="237.10" y1="1703.80" x2="237.10" y2="1713.30" stroke="#000" stroke-width="2.5" stroke-linecap="butt"/>
<text x="239.40" y="1728.60" font-size="15.7" font-weight="bold" fill="#000" text-anchor="end" transform="rotate(-45 239.40 1728.60)">Metformin</text>
<line x1="280.00" y1="1703.80" x2="280.00" y2="1713.30" stroke="#000" stroke-width="2.5" stroke-linecap="butt"/>
<text x="282.30" y="1728.60" font-size="15.7" font-weight="bold" fill="#000" text-anchor="end" transform="rotate(-45 282.30 1728.60)">Combination</text>
<line x1="151.90" y1="1526.30" x2="279.30" y2="1526.30" stroke="#000" stroke-width="2.8" stroke-linecap="round"/>
<text x="215.60" y="1524.60" style="font-family:'DejaVu Sans',sans-serif" font-size="27.5" font-weight="bold" text-anchor="middle" textLength="37.95" lengthAdjust="spacingAndGlyphs" stroke="#000" stroke-width="0.7">***</text>
<line x1="237.80" y1="1568.60" x2="279.30" y2="1568.60" stroke="#000" stroke-width="2.8" stroke-linecap="round"/>
<text x="258.55" y="1566.90" style="font-family:'DejaVu Sans',sans-serif" font-size="27.5" font-weight="bold" text-anchor="middle" textLength="25.30" lengthAdjust="spacingAndGlyphs" stroke="#000" stroke-width="0.7">**</text>
<text x="123.00" y="1383.70" font-size="19.5" font-weight="bold" fill="#222" text-anchor="start">CD69<tspan dy="-8.58" font-size="14.82">+</tspan><tspan dy="8.58">​</tspan> PD-1<tspan dy="-8.58" font-size="14.82">-</tspan><tspan dy="8.58">​</tspan> injected</text>
<text x="57.60" y="1598.55" font-size="17.0" font-weight="bold" fill="#000" text-anchor="middle" transform="rotate(-90 57.60 1598.55)">CD69<tspan dy="-7.48" font-size="12.92">+</tspan><tspan dy="7.48">​</tspan> PD1<tspan dy="-7.48" font-size="12.92">-</tspan><tspan dy="7.48">​</tspan> CD8<tspan dy="-7.48" font-size="12.92">+</tspan><tspan dy="7.48">​</tspan> CD3+</text>
<text x="77.20" y="1594.80" font-size="17.0" font-weight="bold" fill="#000" text-anchor="middle" transform="rotate(-90 77.20 1594.80)">% of Total CD45</text>
<line x1="514.10" y1="1688.60" x2="514.10" y2="1694.70" stroke="#000" stroke-width="1.6" stroke-linecap="butt"/>
<line x1="506.60" y1="1688.60" x2="521.60" y2="1688.60" stroke="#000" stroke-width="1.6" stroke-linecap="butt"/>
<path d="M501.20,1703.80 V1692.70 H527.00 V1703.80" fill="#000000" stroke="#000" stroke-width="3.0" stroke-linejoin="miter"/>
<line x1="557.00" y1="1618.40" x2="557.00" y2="1648.80" stroke="#000" stroke-width="1.6" stroke-linecap="butt"/>
<line x1="549.50" y1="1618.40" x2="564.50" y2="1618.40" stroke="#000" stroke-width="1.6" stroke-linecap="butt"/>
<path d="M544.10,1703.80 V1646.80 H569.90 V1703.80" fill="#ff2a00" stroke="#000" stroke-width="3.0" stroke-linejoin="miter"/>
<line x1="600.00" y1="1676.00" x2="600.00" y2="1689.20" stroke="#000" stroke-width="1.6" stroke-linecap="butt"/>
<line x1="592.50" y1="1676.00" x2="607.50" y2="1676.00" stroke="#000" stroke-width="1.6" stroke-linecap="butt"/>
<path d="M587.10,1703.80 V1687.20 H612.90 V1703.80" fill="#c8c8c8" stroke="#000" stroke-width="3.0" stroke-linejoin="miter"/>
<line x1="643.30" y1="1538.60" x2="643.30" y2="1555.40" stroke="#000" stroke-width="1.6" stroke-linecap="butt"/>
<line x1="635.80" y1="1538.60" x2="650.80" y2="1538.60" stroke="#000" stroke-width="1.6" stroke-linecap="butt"/>
<path d="M630.40,1703.80 V1553.40 H656.20 V1703.80" fill="#0a2dff" stroke="#000" stroke-width="3.0" stroke-linejoin="miter"/>
<line x1="486.00" y1="1492.80" x2="486.00" y2="1705.00" stroke="#000" stroke-width="2.5" stroke-linecap="butt"/>
<line x1="476.60" y1="1703.80" x2="671.90" y2="1703.80" stroke="#000" stroke-width="2.5" stroke-linecap="butt"/>
<line x1="477.60" y1="1703.80" x2="486.00" y2="1703.80" stroke="#000" stroke-width="2.5" stroke-linecap="butt"/>
<text x="474.00" y="1709.60" font-size="15.8" font-weight="bold" fill="#000" text-anchor="end">0.0</text>
<line x1="477.60" y1="1661.84" x2="486.00" y2="1661.84" stroke="#000" stroke-width="2.5" stroke-linecap="butt"/>
<text x="474.00" y="1667.64" font-size="15.8" font-weight="bold" fill="#000" text-anchor="end">0.2</text>
<line x1="477.60" y1="1619.88" x2="486.00" y2="1619.88" stroke="#000" stroke-width="2.5" stroke-linecap="butt"/>
<text x="474.00" y="1625.68" font-size="15.8" font-weight="bold" fill="#000" text-anchor="end">0.4</text>
<line x1="477.60" y1="1577.92" x2="486.00" y2="1577.92" stroke="#000" stroke-width="2.5" stroke-linecap="butt"/>
<text x="474.00" y="1583.72" font-size="15.8" font-weight="bold" fill="#000" text-anchor="end">0.6</text>
<line x1="477.60" y1="1535.96" x2="486.00" y2="1535.96" stroke="#000" stroke-width="2.5" stroke-linecap="butt"/>
<text x="474.00" y="1541.76" font-size="15.8" font-weight="bold" fill="#000" text-anchor="end">0.8</text>
<line x1="477.60" y1="1494.00" x2="486.00" y2="1494.00" stroke="#000" stroke-width="2.5" stroke-linecap="butt"/>
<text x="474.00" y="1499.80" font-size="15.8" font-weight="bold" fill="#000" text-anchor="end">1.0</text>
<line x1="514.10" y1="1703.80" x2="514.10" y2="1713.30" stroke="#000" stroke-width="2.5" stroke-linecap="butt"/>
<text x="516.40" y="1728.60" font-size="15.7" font-weight="bold" fill="#000" text-anchor="end" transform="rotate(-45 516.40 1728.60)">Control</text>
<line x1="557.00" y1="1703.80" x2="557.00" y2="1713.30" stroke="#000" stroke-width="2.5" stroke-linecap="butt"/>
<text x="559.30" y="1728.60" font-size="15.7" font-weight="bold" fill="#000" text-anchor="end" transform="rotate(-45 559.30 1728.60)">C-REV</text>
<line x1="600.00" y1="1703.80" x2="600.00" y2="1713.30" stroke="#000" stroke-width="2.5" stroke-linecap="butt"/>
<text x="602.30" y="1728.60" font-size="15.7" font-weight="bold" fill="#000" text-anchor="end" transform="rotate(-45 602.30 1728.60)">Metformin</text>
<line x1="643.30" y1="1703.80" x2="643.30" y2="1713.30" stroke="#000" stroke-width="2.5" stroke-linecap="butt"/>
<text x="645.60" y="1728.60" font-size="15.7" font-weight="bold" fill="#000" text-anchor="end" transform="rotate(-45 645.60 1728.60)">Combination</text>
<line x1="514.80" y1="1429.50" x2="642.60" y2="1429.50" stroke="#000" stroke-width="2.8" stroke-linecap="round"/>
<text x="578.70" y="1427.80" style="font-family:'DejaVu Sans',sans-serif" font-size="27.5" font-weight="bold" text-anchor="middle" textLength="50.60" lengthAdjust="spacingAndGlyphs" stroke="#000" stroke-width="0.7">****</text>
<line x1="557.90" y1="1471.80" x2="642.60" y2="1471.80" stroke="#000" stroke-width="2.8" stroke-linecap="round"/>
<text x="600.25" y="1470.10" style="font-family:'DejaVu Sans',sans-serif" font-size="27.5" font-weight="bold" text-anchor="middle" textLength="25.30" lengthAdjust="spacingAndGlyphs" stroke="#000" stroke-width="0.7">**</text>
<line x1="514.80" y1="1514.20" x2="556.30" y2="1514.20" stroke="#000" stroke-width="2.8" stroke-linecap="round"/>
<text x="535.55" y="1512.50" style="font-family:'DejaVu Sans',sans-serif" font-size="27.5" font-weight="bold" text-anchor="middle" textLength="12.65" lengthAdjust="spacingAndGlyphs" stroke="#000" stroke-width="0.7">*</text>
<line x1="601.20" y1="1514.20" x2="642.60" y2="1514.20" stroke="#000" stroke-width="2.8" stroke-linecap="round"/>
<text x="621.90" y="1512.50" style="font-family:'DejaVu Sans',sans-serif" font-size="27.5" font-weight="bold" text-anchor="middle" textLength="37.95" lengthAdjust="spacingAndGlyphs" stroke="#000" stroke-width="0.7">***</text>
<text x="491.00" y="1384.40" font-size="19.5" font-weight="bold" fill="#222" text-anchor="start">CD69<tspan dy="-8.58" font-size="14.82">+</tspan><tspan dy="8.58">​</tspan> PD-1<tspan dy="-8.58" font-size="14.82">-</tspan><tspan dy="8.58">​</tspan> contralateral</text>
<text x="418.50" y="1601.60" font-size="17.0" font-weight="bold" fill="#000" text-anchor="middle" transform="rotate(-90 418.50 1601.60)">CD69<tspan dy="-7.48" font-size="12.92">+</tspan><tspan dy="7.48">​</tspan>  PD1<tspan dy="-7.48" font-size="12.92">-</tspan><tspan dy="7.48">​</tspan>  CD8<tspan dy="-7.48" font-size="12.92">+</tspan><tspan dy="7.48">​</tspan>CD3+</text>
<text x="439.40" y="1599.80" font-size="17.0" font-weight="bold" fill="#000" text-anchor="middle" transform="rotate(-90 439.40 1599.80)">% of Total CD45</text>
<line x1="169.40" y1="1996.40" x2="169.40" y2="2020.20" stroke="#000" stroke-width="1.6" stroke-linecap="butt"/>
<line x1="161.90" y1="1996.40" x2="176.90" y2="1996.40" stroke="#000" stroke-width="1.6" stroke-linecap="butt"/>
<path d="M156.50,2157.80 V2018.20 H182.30 V2157.80" fill="#000000" stroke="#000" stroke-width="3.0" stroke-linejoin="miter"/>
<line x1="212.90" y1="2015.00" x2="212.90" y2="2043.90" stroke="#000" stroke-width="1.6" stroke-linecap="butt"/>
<line x1="205.40" y1="2015.00" x2="220.40" y2="2015.00" stroke="#000" stroke-width="1.6" stroke-linecap="butt"/>
<path d="M200.00,2157.80 V2041.90 H225.80 V2157.80" fill="#ff2a00" stroke="#000" stroke-width="3.0" stroke-linejoin="miter"/>
<line x1="255.70" y1="2049.60" x2="255.70" y2="2067.60" stroke="#000" stroke-width="1.6" stroke-linecap="butt"/>
<line x1="248.20" y1="2049.60" x2="263.20" y2="2049.60" stroke="#000" stroke-width="1.6" stroke-linecap="butt"/>
<path d="M242.80,2157.80 V2065.60 H268.60 V2157.80" fill="#c8c8c8" stroke="#000" stroke-width="3.0" stroke-linejoin="miter"/>
<line x1="299.30" y1="2038.00" x2="299.30" y2="2054.30" stroke="#000" stroke-width="1.6" stroke-linecap="butt"/>
<line x1="291.80" y1="2038.00" x2="306.80" y2="2038.00" stroke="#000" stroke-width="1.6" stroke-linecap="butt"/>
<path d="M286.40,2157.80 V2052.30 H312.20 V2157.80" fill="#0a2dff" stroke="#000" stroke-width="3.0" stroke-linejoin="miter"/>
<line x1="140.30" y1="1957.40" x2="140.30" y2="2159.00" stroke="#000" stroke-width="2.5" stroke-linecap="butt"/>
<line x1="131.90" y1="2157.80" x2="328.30" y2="2157.80" stroke="#000" stroke-width="2.5" stroke-linecap="butt"/>
<line x1="131.90" y1="2157.80" x2="140.30" y2="2157.80" stroke="#000" stroke-width="2.5" stroke-linecap="butt"/>
<text x="128.30" y="2163.60" font-size="15.8" font-weight="bold" fill="#000" text-anchor="end">0</text>
<line x1="131.90" y1="2124.60" x2="140.30" y2="2124.60" stroke="#000" stroke-width="2.5" stroke-linecap="butt"/>
<text x="128.30" y="2130.40" font-size="15.8" font-weight="bold" fill="#000" text-anchor="end">10</text>
<line x1="131.90" y1="2091.40" x2="140.30" y2="2091.40" stroke="#000" stroke-width="2.5" stroke-linecap="butt"/>
<text x="128.30" y="2097.20" font-size="15.8" font-weight="bold" fill="#000" text-anchor="end">20</text>
<line x1="131.90" y1="2058.20" x2="140.30" y2="2058.20" stroke="#000" stroke-width="2.5" stroke-linecap="butt"/>
<text x="128.30" y="2064.00" font-size="15.8" font-weight="bold" fill="#000" text-anchor="end">30</text>
<line x1="131.90" y1="2025.00" x2="140.30" y2="2025.00" stroke="#000" stroke-width="2.5" stroke-linecap="butt"/>
<text x="128.30" y="2030.80" font-size="15.8" font-weight="bold" fill="#000" text-anchor="end">40</text>
<line x1="131.90" y1="1991.80" x2="140.30" y2="1991.80" stroke="#000" stroke-width="2.5" stroke-linecap="butt"/>
<text x="128.30" y="1997.60" font-size="15.8" font-weight="bold" fill="#000" text-anchor="end">50</text>
<line x1="131.90" y1="1958.60" x2="140.30" y2="1958.60" stroke="#000" stroke-width="2.5" stroke-linecap="butt"/>
<text x="128.30" y="1964.40" font-size="15.8" font-weight="bold" fill="#000" text-anchor="end">60</text>
<line x1="169.40" y1="2157.80" x2="169.40" y2="2167.30" stroke="#000" stroke-width="2.5" stroke-linecap="butt"/>
<text x="171.70" y="2182.60" font-size="15.7" font-weight="bold" fill="#000" text-anchor="end" transform="rotate(-45 171.70 2182.60)">Control</text>
<line x1="212.90" y1="2157.80" x2="212.90" y2="2167.30" stroke="#000" stroke-width="2.5" stroke-linecap="butt"/>
<text x="215.20" y="2182.60" font-size="15.7" font-weight="bold" fill="#000" text-anchor="end" transform="rotate(-45 215.20 2182.60)">C-REV</text>
<line x1="255.70" y1="2157.80" x2="255.70" y2="2167.30" stroke="#000" stroke-width="2.5" stroke-linecap="butt"/>
<text x="258.00" y="2182.60" font-size="15.7" font-weight="bold" fill="#000" text-anchor="end" transform="rotate(-45 258.00 2182.60)">Metformin</text>
<line x1="299.30" y1="2157.80" x2="299.30" y2="2167.30" stroke="#000" stroke-width="2.5" stroke-linecap="butt"/>
<text x="301.60" y="2182.60" font-size="15.7" font-weight="bold" fill="#000" text-anchor="end" transform="rotate(-45 301.60 2182.60)">Combination</text>
<line x1="170.00" y1="1971.30" x2="255.60" y2="1971.30" stroke="#000" stroke-width="2.8" stroke-linecap="round"/>
<text x="212.80" y="1969.60" style="font-family:'DejaVu Sans',sans-serif" font-size="27.5" font-weight="bold" text-anchor="middle" textLength="12.65" lengthAdjust="spacingAndGlyphs" stroke="#000" stroke-width="0.7">*</text>
<text x="119.30" y="1850.10" font-size="19.9" font-weight="bold" fill="#000" text-anchor="start">KLRG1<tspan dy="-8.76" font-size="15.12">+</tspan><tspan dy="8.76">​</tspan> CD103<tspan dy="-8.76" font-size="15.12">+</tspan><tspan dy="8.76">​</tspan> injected</text>
<text x="76.90" y="2047.70" font-size="17.0" font-weight="bold" fill="#000" text-anchor="middle" transform="rotate(-90 76.90 2047.70)">KLRG1<tspan dy="-7.48" font-size="12.92">+</tspan><tspan dy="7.48">​</tspan> CD103<tspan dy="-7.48" font-size="12.92">+</tspan><tspan dy="7.48">​</tspan> % of total</text>
<text x="97.80" y="2045.00" font-size="17.0" font-weight="bold" fill="#000" text-anchor="middle" transform="rotate(-90 97.80 2045.00)">CD25<tspan dy="-7.48" font-size="12.92">+</tspan><tspan dy="7.48">​</tspan> FOXP3<tspan dy="-7.48" font-size="12.92">+</tspan><tspan dy="7.48">​</tspan>  CD4<tspan dy="-7.48" font-size="12.92">+</tspan><tspan dy="7.48">​</tspan></text>
<line x1="487.80" y1="1998.60" x2="487.80" y2="2010.80" stroke="#000" stroke-width="1.6" stroke-linecap="butt"/>
<line x1="480.30" y1="1998.60" x2="495.30" y2="1998.60" stroke="#000" stroke-width="1.6" stroke-linecap="butt"/>
<path d="M474.90,2157.30 V2008.80 H500.70 V2157.30" fill="#000000" stroke="#000" stroke-width="3.0" stroke-linejoin="miter"/>
<line x1="530.20" y1="1996.90" x2="530.20" y2="2016.60" stroke="#000" stroke-width="1.6" stroke-linecap="butt"/>
<line x1="522.70" y1="1996.90" x2="537.70" y2="1996.90" stroke="#000" stroke-width="1.6" stroke-linecap="butt"/>
<path d="M517.30,2157.30 V2014.60 H543.10 V2157.30" fill="#ff2a00" stroke="#000" stroke-width="3.0" stroke-linejoin="miter"/>
<line x1="573.70" y1="2048.40" x2="573.70" y2="2066.20" stroke="#000" stroke-width="1.6" stroke-linecap="butt"/>
<line x1="566.20" y1="2048.40" x2="581.20" y2="2048.40" stroke="#000" stroke-width="1.6" stroke-linecap="butt"/>
<path d="M560.80,2157.30 V2064.20 H586.60 V2157.30" fill="#c8c8c8" stroke="#000" stroke-width="3.0" stroke-linejoin="miter"/>
<line x1="616.80" y1="2037.30" x2="616.80" y2="2062.50" stroke="#000" stroke-width="1.6" stroke-linecap="butt"/>
<line x1="609.30" y1="2037.30" x2="624.30" y2="2037.30" stroke="#000" stroke-width="1.6" stroke-linecap="butt"/>
<path d="M603.90,2157.30 V2060.50 H629.70 V2157.30" fill="#0a2dff" stroke="#000" stroke-width="3.0" stroke-linejoin="miter"/>
<line x1="459.50" y1="1956.20" x2="459.50" y2="2158.50" stroke="#000" stroke-width="2.5" stroke-linecap="butt"/>
<line x1="450.60" y1="2157.30" x2="645.10" y2="2157.30" stroke="#000" stroke-width="2.5" stroke-linecap="butt"/>
<line x1="451.10" y1="2157.30" x2="459.50" y2="2157.30" stroke="#000" stroke-width="2.5" stroke-linecap="butt"/>
<text x="447.50" y="2163.10" font-size="15.8" font-weight="bold" fill="#000" text-anchor="end">0</text>
<line x1="451.10" y1="2123.98" x2="459.50" y2="2123.98" stroke="#000" stroke-width="2.5" stroke-linecap="butt"/>
<text x="447.50" y="2129.78" font-size="15.8" font-weight="bold" fill="#000" text-anchor="end">10</text>
<line x1="451.10" y1="2090.67" x2="459.50" y2="2090.67" stroke="#000" stroke-width="2.5" stroke-linecap="butt"/>
<text x="447.50" y="2096.47" font-size="15.8" font-weight="bold" fill="#000" text-anchor="end">20</text>
<line x1="451.10" y1="2057.35" x2="459.50" y2="2057.35" stroke="#000" stroke-width="2.5" stroke-linecap="butt"/>
<text x="447.50" y="2063.15" font-size="15.8" font-weight="bold" fill="#000" text-anchor="end">30</text>
<line x1="451.10" y1="2024.03" x2="459.50" y2="2024.03" stroke="#000" stroke-width="2.5" stroke-linecap="butt"/>
<text x="447.50" y="2029.83" font-size="15.8" font-weight="bold" fill="#000" text-anchor="end">40</text>
<line x1="451.10" y1="1990.72" x2="459.50" y2="1990.72" stroke="#000" stroke-width="2.5" stroke-linecap="butt"/>
<text x="447.50" y="1996.52" font-size="15.8" font-weight="bold" fill="#000" text-anchor="end">50</text>
<line x1="451.10" y1="1957.40" x2="459.50" y2="1957.40" stroke="#000" stroke-width="2.5" stroke-linecap="butt"/>
<text x="447.50" y="1963.20" font-size="15.8" font-weight="bold" fill="#000" text-anchor="end">60</text>
<line x1="487.80" y1="2157.30" x2="487.80" y2="2166.80" stroke="#000" stroke-width="2.5" stroke-linecap="butt"/>
<text x="490.10" y="2182.10" font-size="15.7" font-weight="bold" fill="#000" text-anchor="end" transform="rotate(-45 490.10 2182.10)">Control</text>
<line x1="530.20" y1="2157.30" x2="530.20" y2="2166.80" stroke="#000" stroke-width="2.5" stroke-linecap="butt"/>
<text x="532.50" y="2182.10" font-size="15.7" font-weight="bold" fill="#000" text-anchor="end" transform="rotate(-45 532.50 2182.10)">C-REV</text>
<line x1="573.70" y1="2157.30" x2="573.70" y2="2166.80" stroke="#000" stroke-width="2.5" stroke-linecap="butt"/>
<text x="576.00" y="2182.10" font-size="15.7" font-weight="bold" fill="#000" text-anchor="end" transform="rotate(-45 576.00 2182.10)">Metformin</text>
<line x1="616.80" y1="2157.30" x2="616.80" y2="2166.80" stroke="#000" stroke-width="2.5" stroke-linecap="butt"/>
<text x="619.10" y="2182.10" font-size="15.7" font-weight="bold" fill="#000" text-anchor="end" transform="rotate(-45 619.10 2182.10)">Combination</text>
<line x1="488.70" y1="1898.70" x2="615.90" y2="1898.70" stroke="#000" stroke-width="2.8" stroke-linecap="round"/>
<text x="552.30" y="1897.00" style="font-family:'DejaVu Sans',sans-serif" font-size="27.5" font-weight="bold" text-anchor="middle" textLength="12.65" lengthAdjust="spacingAndGlyphs" stroke="#000" stroke-width="0.7">*</text>
<line x1="531.60" y1="1927.70" x2="615.90" y2="1927.70" stroke="#000" stroke-width="2.8" stroke-linecap="round"/>
<text x="573.75" y="1926.00" style="font-family:'DejaVu Sans',sans-serif" font-size="27.5" font-weight="bold" text-anchor="middle" textLength="12.65" lengthAdjust="spacingAndGlyphs" stroke="#000" stroke-width="0.7">*</text>
<line x1="488.70" y1="1962.60" x2="573.60" y2="1962.60" stroke="#000" stroke-width="2.8" stroke-linecap="round"/>
<text x="531.15" y="1960.90" style="font-family:'DejaVu Sans',sans-serif" font-size="27.5" font-weight="bold" text-anchor="middle" textLength="25.30" lengthAdjust="spacingAndGlyphs" stroke="#000" stroke-width="0.7">**</text>
<line x1="531.60" y1="1988.70" x2="573.60" y2="1988.70" stroke="#000" stroke-width="2.8" stroke-linecap="round"/>
<text x="552.60" y="1987.00" style="font-family:'DejaVu Sans',sans-serif" font-size="27.5" font-weight="bold" text-anchor="middle" textLength="12.65" lengthAdjust="spacingAndGlyphs" stroke="#000" stroke-width="0.7">*</text>
<text x="415.50" y="1850.10" font-size="19.9" font-weight="bold" fill="#000" text-anchor="start">KLRG1<tspan dy="-8.76" font-size="15.12">+</tspan><tspan dy="8.76">​</tspan> CD103<tspan dy="-8.76" font-size="15.12">+</tspan><tspan dy="8.76">​</tspan> contralateral</text>
<text x="399.70" y="2057.35" font-size="17.0" font-weight="bold" fill="#000" text-anchor="middle" transform="rotate(-90 399.70 2057.35)">KLRG1<tspan dy="-7.48" font-size="12.92">+</tspan><tspan dy="7.48">​</tspan> CD103<tspan dy="-7.48" font-size="12.92">+</tspan><tspan dy="7.48">​</tspan> % of total</text>
<text x="420.60" y="2057.35" font-size="17.0" font-weight="bold" fill="#000" text-anchor="middle" transform="rotate(-90 420.60 2057.35)">CD25<tspan dy="-7.48" font-size="12.92">+</tspan><tspan dy="7.48">​</tspan> FOXP3<tspan dy="-7.48" font-size="12.92">+</tspan><tspan dy="7.48">​</tspan> CD4<tspan dy="-7.48" font-size="12.92">+</tspan><tspan dy="7.48">​</tspan></text>
<path d="M993.7,148.9 L996.6,382.5 L993.7,382.5 Z" fill="#999" stroke="#000" stroke-width="1.2"/>
<path d="M996.6,382.5 L996.6,382.5 L1002.5,380.8 L1011.2,375.8 L1019.9,373.8 L1028.6,368.0 L1035.9,362.7 L1041.7,351.1 L1046.1,345.3 L1053.4,327.8 L1057.7,304.5 L1063.5,252.2 L1069.4,211.5 L1073.7,185.3 L1076.6,191.1 L1080.4,182.4 L1082.5,194.0 L1085.4,231.8 L1089.7,284.2 L1094.1,348.2 L1098.5,368.5 L1104.3,377.3 L1110.1,382.5 L1142.1,382.5 L1150.8,378.7 L1159.5,380.2 L1168.3,378.7 L1177.0,380.2 L1182.8,382.5 L1182.8,382.5 Z" fill="#999" stroke="#000" stroke-width="1.3" stroke-linejoin="round"/>
<path d="M1238.1,333.6 L1240.4,382.5 L1238.1,382.5 Z" fill="#999" stroke="#000" stroke-width="1.2"/>
<path d="M1241.0,382.5 L1241.0,382.5 L1246.8,380.2 L1255.5,378.7 L1264.3,379.3 L1273.0,374.4 L1278.8,365.6 L1287.5,359.8 L1293.4,348.2 L1299.2,327.8 L1305.0,301.6 L1309.4,252.2 L1312.3,205.6 L1316.6,196.9 L1321.0,173.6 L1323.9,188.2 L1326.8,223.1 L1331.2,246.4 L1334.1,292.9 L1338.4,333.6 L1341.4,359.8 L1348.6,377.3 L1360.3,382.5 L1392.3,382.5 L1398.1,379.6 L1403.9,380.8 L1412.6,382.5 L1412.6,382.5 Z" fill="#999" stroke="#000" stroke-width="1.3" stroke-linejoin="round"/>
<line x1="990.70" y1="140.20" x2="1480.40" y2="140.20" stroke="#000" stroke-width="1.3" stroke-linecap="butt"/>
<line x1="990.70" y1="382.50" x2="1480.40" y2="382.50" stroke="#000" stroke-width="1.4" stroke-linecap="butt"/>
<line x1="1237.50" y1="140.20" x2="1237.50" y2="382.50" stroke="#000" stroke-width="1.4" stroke-linecap="butt"/>
<line x1="1480.40" y1="140.20" x2="1480.40" y2="382.50" stroke="#000" stroke-width="1.3" stroke-linecap="butt"/>
<line x1="987.20" y1="382.50" x2="993.70" y2="382.50" stroke="#000" stroke-width="2.0" stroke-linecap="butt"/>
<line x1="989.70" y1="370.88" x2="993.70" y2="370.88" stroke="#000" stroke-width="1.2" stroke-linecap="butt"/>
<line x1="989.70" y1="359.27" x2="993.70" y2="359.27" stroke="#000" stroke-width="1.2" stroke-linecap="butt"/>
<line x1="989.70" y1="347.65" x2="993.70" y2="347.65" stroke="#000" stroke-width="1.2" stroke-linecap="butt"/>
<line x1="987.20" y1="336.04" x2="993.70" y2="336.04" stroke="#000" stroke-width="2.0" stroke-linecap="butt"/>
<line x1="989.70" y1="324.43" x2="993.70" y2="324.43" stroke="#000" stroke-width="1.2" stroke-linecap="butt"/>
<line x1="989.70" y1="312.81" x2="993.70" y2="312.81" stroke="#000" stroke-width="1.2" stroke-linecap="butt"/>
<line x1="989.70" y1="301.20" x2="993.70" y2="301.20" stroke="#000" stroke-width="1.2" stroke-linecap="butt"/>
<line x1="987.20" y1="289.58" x2="993.70" y2="289.58" stroke="#000" stroke-width="2.0" stroke-linecap="butt"/>
<line x1="989.70" y1="277.96" x2="993.70" y2="277.96" stroke="#000" stroke-width="1.2" stroke-linecap="butt"/>
<line x1="989.70" y1="266.35" x2="993.70" y2="266.35" stroke="#000" stroke-width="1.2" stroke-linecap="butt"/>
<line x1="989.70" y1="254.73" x2="993.70" y2="254.73" stroke="#000" stroke-width="1.2" stroke-linecap="butt"/>
<line x1="987.20" y1="243.12" x2="993.70" y2="243.12" stroke="#000" stroke-width="2.0" stroke-linecap="butt"/>
<line x1="989.70" y1="231.50" x2="993.70" y2="231.50" stroke="#000" stroke-width="1.2" stroke-linecap="butt"/>
<line x1="989.70" y1="219.89" x2="993.70" y2="219.89" stroke="#000" stroke-width="1.2" stroke-linecap="butt"/>
<line x1="989.70" y1="208.27" x2="993.70" y2="208.27" stroke="#000" stroke-width="1.2" stroke-linecap="butt"/>
<line x1="987.20" y1="196.66" x2="993.70" y2="196.66" stroke="#000" stroke-width="2.0" stroke-linecap="butt"/>
<line x1="989.70" y1="185.04" x2="993.70" y2="185.04" stroke="#000" stroke-width="1.2" stroke-linecap="butt"/>
<line x1="989.70" y1="173.43" x2="993.70" y2="173.43" stroke="#000" stroke-width="1.2" stroke-linecap="butt"/>
<line x1="989.70" y1="161.81" x2="993.70" y2="161.81" stroke="#000" stroke-width="1.2" stroke-linecap="butt"/>
<line x1="987.20" y1="150.20" x2="993.70" y2="150.20" stroke="#000" stroke-width="2.0" stroke-linecap="butt"/>
<line x1="993.70" y1="382.50" x2="993.70" y2="388.50" stroke="#000" stroke-width="1.8" stroke-linecap="butt"/>
<line x1="1007.11" y1="382.50" x2="1007.11" y2="386.00" stroke="#000" stroke-width="1.1" stroke-linecap="butt"/>
<line x1="1015.16" y1="382.50" x2="1015.16" y2="386.00" stroke="#000" stroke-width="1.1" stroke-linecap="butt"/>
<line x1="1020.52" y1="382.50" x2="1020.52" y2="386.00" stroke="#000" stroke-width="1.1" stroke-linecap="butt"/>
<line x1="1024.99" y1="382.50" x2="1024.99" y2="386.00" stroke="#000" stroke-width="1.1" stroke-linecap="butt"/>
<line x1="1028.57" y1="382.50" x2="1028.57" y2="386.00" stroke="#000" stroke-width="1.1" stroke-linecap="butt"/>
<line x1="1031.70" y1="382.50" x2="1031.70" y2="386.00" stroke="#000" stroke-width="1.1" stroke-linecap="butt"/>
<line x1="1033.93" y1="382.50" x2="1033.93" y2="386.00" stroke="#000" stroke-width="1.1" stroke-linecap="butt"/>
<line x1="1036.17" y1="382.50" x2="1036.17" y2="386.00" stroke="#000" stroke-width="1.1" stroke-linecap="butt"/>
<line x1="1038.40" y1="382.50" x2="1038.40" y2="388.50" stroke="#000" stroke-width="1.8" stroke-linecap="butt"/>
<line x1="1051.81" y1="382.50" x2="1051.81" y2="386.00" stroke="#000" stroke-width="1.1" stroke-linecap="butt"/>
<line x1="1059.86" y1="382.50" x2="1059.86" y2="386.00" stroke="#000" stroke-width="1.1" stroke-linecap="butt"/>
<line x1="1065.22" y1="382.50" x2="1065.22" y2="386.00" stroke="#000" stroke-width="1.1" stroke-linecap="butt"/>
<line x1="1069.69" y1="382.50" x2="1069.69" y2="386.00" stroke="#000" stroke-width="1.1" stroke-linecap="butt"/>
<line x1="1073.27" y1="382.50" x2="1073.27" y2="386.00" stroke="#000" stroke-width="1.1" stroke-linecap="butt"/>
<line x1="1076.40" y1="382.50" x2="1076.40" y2="386.00" stroke="#000" stroke-width="1.1" stroke-linecap="butt"/>
<line x1="1078.63" y1="382.50" x2="1078.63" y2="386.00" stroke="#000" stroke-width="1.1" stroke-linecap="butt"/>
<line x1="1080.87" y1="382.50" x2="1080.87" y2="386.00" stroke="#000" stroke-width="1.1" stroke-linecap="butt"/>
<line x1="1083.10" y1="382.50" x2="1083.10" y2="388.50" stroke="#000" stroke-width="1.8" stroke-linecap="butt"/>
<line x1="1096.51" y1="382.50" x2="1096.51" y2="386.00" stroke="#000" stroke-width="1.1" stroke-linecap="butt"/>
<line x1="1104.56" y1="382.50" x2="1104.56" y2="386.00" stroke="#000" stroke-width="1.1" stroke-linecap="butt"/>
<line x1="1109.92" y1="382.50" x2="1109.92" y2="386.00" stroke="#000" stroke-width="1.1" stroke-linecap="butt"/>
<line x1="1114.39" y1="382.50" x2="1114.39" y2="386.00" stroke="#000" stroke-width="1.1" stroke-linecap="butt"/>
<line x1="1117.97" y1="382.50" x2="1117.97" y2="386.00" stroke="#000" stroke-width="1.1" stroke-linecap="butt"/>
<line x1="1121.10" y1="382.50" x2="1121.10" y2="386.00" stroke="#000" stroke-width="1.1" stroke-linecap="butt"/>
<line x1="1123.33" y1="382.50" x2="1123.33" y2="386.00" stroke="#000" stroke-width="1.1" stroke-linecap="butt"/>
<line x1="1125.57" y1="382.50" x2="1125.57" y2="386.00" stroke="#000" stroke-width="1.1" stroke-linecap="butt"/>
<line x1="1127.80" y1="382.50" x2="1127.80" y2="388.50" stroke="#000" stroke-width="1.8" stroke-linecap="butt"/>
<line x1="1141.21" y1="382.50" x2="1141.21" y2="386.00" stroke="#000" stroke-width="1.1" stroke-linecap="butt"/>
<line x1="1149.26" y1="382.50" x2="1149.26" y2="386.00" stroke="#000" stroke-width="1.1" stroke-linecap="butt"/>
<line x1="1154.62" y1="382.50" x2="1154.62" y2="386.00" stroke="#000" stroke-width="1.1" stroke-linecap="butt"/>
<line x1="1159.09" y1="382.50" x2="1159.09" y2="386.00" stroke="#000" stroke-width="1.1" stroke-linecap="butt"/>
<line x1="1162.67" y1="382.50" x2="1162.67" y2="386.00" stroke="#000" stroke-width="1.1" stroke-linecap="butt"/>
<line x1="1165.80" y1="382.50" x2="1165.80" y2="386.00" stroke="#000" stroke-width="1.1" stroke-linecap="butt"/>
<line x1="1168.03" y1="382.50" x2="1168.03" y2="386.00" stroke="#000" stroke-width="1.1" stroke-linecap="butt"/>
<line x1="1170.27" y1="382.50" x2="1170.27" y2="386.00" stroke="#000" stroke-width="1.1" stroke-linecap="butt"/>
<line x1="1172.50" y1="382.50" x2="1172.50" y2="388.50" stroke="#000" stroke-width="1.8" stroke-linecap="butt"/>
<line x1="1185.91" y1="382.50" x2="1185.91" y2="386.00" stroke="#000" stroke-width="1.1" stroke-linecap="butt"/>
<line x1="1193.96" y1="382.50" x2="1193.96" y2="386.00" stroke="#000" stroke-width="1.1" stroke-linecap="butt"/>
<line x1="1199.32" y1="382.50" x2="1199.32" y2="386.00" stroke="#000" stroke-width="1.1" stroke-linecap="butt"/>
<line x1="1203.79" y1="382.50" x2="1203.79" y2="386.00" stroke="#000" stroke-width="1.1" stroke-linecap="butt"/>
<line x1="1207.37" y1="382.50" x2="1207.37" y2="386.00" stroke="#000" stroke-width="1.1" stroke-linecap="butt"/>
<line x1="1210.50" y1="382.50" x2="1210.50" y2="386.00" stroke="#000" stroke-width="1.1" stroke-linecap="butt"/>
<line x1="1212.73" y1="382.50" x2="1212.73" y2="386.00" stroke="#000" stroke-width="1.1" stroke-linecap="butt"/>
<line x1="1214.97" y1="382.50" x2="1214.97" y2="386.00" stroke="#000" stroke-width="1.1" stroke-linecap="butt"/>
<line x1="1217.20" y1="382.50" x2="1217.20" y2="388.50" stroke="#000" stroke-width="1.8" stroke-linecap="butt"/>
<line x1="1230.61" y1="382.50" x2="1230.61" y2="386.00" stroke="#000" stroke-width="1.1" stroke-linecap="butt"/>
<line x1="1280.90" y1="382.50" x2="1280.90" y2="388.50" stroke="#000" stroke-width="1.8" stroke-linecap="butt"/>
<line x1="1294.31" y1="382.50" x2="1294.31" y2="386.00" stroke="#000" stroke-width="1.1" stroke-linecap="butt"/>
<line x1="1302.36" y1="382.50" x2="1302.36" y2="386.00" stroke="#000" stroke-width="1.1" stroke-linecap="butt"/>
<line x1="1307.72" y1="382.50" x2="1307.72" y2="386.00" stroke="#000" stroke-width="1.1" stroke-linecap="butt"/>
<line x1="1312.19" y1="382.50" x2="1312.19" y2="386.00" stroke="#000" stroke-width="1.1" stroke-linecap="butt"/>
<line x1="1315.77" y1="382.50" x2="1315.77" y2="386.00" stroke="#000" stroke-width="1.1" stroke-linecap="butt"/>
<line x1="1318.90" y1="382.50" x2="1318.90" y2="386.00" stroke="#000" stroke-width="1.1" stroke-linecap="butt"/>
<line x1="1321.13" y1="382.50" x2="1321.13" y2="386.00" stroke="#000" stroke-width="1.1" stroke-linecap="butt"/>
<line x1="1323.37" y1="382.50" x2="1323.37" y2="386.00" stroke="#000" stroke-width="1.1" stroke-linecap="butt"/>
<line x1="1325.60" y1="382.50" x2="1325.60" y2="388.50" stroke="#000" stroke-width="1.8" stroke-linecap="butt"/>
<line x1="1339.01" y1="382.50" x2="1339.01" y2="386.00" stroke="#000" stroke-width="1.1" stroke-linecap="butt"/>
<line x1="1347.06" y1="382.50" x2="1347.06" y2="386.00" stroke="#000" stroke-width="1.1" stroke-linecap="butt"/>
<line x1="1352.42" y1="382.50" x2="1352.42" y2="386.00" stroke="#000" stroke-width="1.1" stroke-linecap="butt"/>
<line x1="1356.89" y1="382.50" x2="1356.89" y2="386.00" stroke="#000" stroke-width="1.1" stroke-linecap="butt"/>
<line x1="1360.47" y1="382.50" x2="1360.47" y2="386.00" stroke="#000" stroke-width="1.1" stroke-linecap="butt"/>
<line x1="1363.60" y1="382.50" x2="1363.60" y2="386.00" stroke="#000" stroke-width="1.1" stroke-linecap="butt"/>
<line x1="1365.83" y1="382.50" x2="1365.83" y2="386.00" stroke="#000" stroke-width="1.1" stroke-linecap="butt"/>
<line x1="1368.07" y1="382.50" x2="1368.07" y2="386.00" stroke="#000" stroke-width="1.1" stroke-linecap="butt"/>
<line x1="1370.30" y1="382.50" x2="1370.30" y2="388.50" stroke="#000" stroke-width="1.8" stroke-linecap="butt"/>
<line x1="1383.71" y1="382.50" x2="1383.71" y2="386.00" stroke="#000" stroke-width="1.1" stroke-linecap="butt"/>
<line x1="1391.76" y1="382.50" x2="1391.76" y2="386.00" stroke="#000" stroke-width="1.1" stroke-linecap="butt"/>
<line x1="1397.12" y1="382.50" x2="1397.12" y2="386.00" stroke="#000" stroke-width="1.1" stroke-linecap="butt"/>
<line x1="1401.59" y1="382.50" x2="1401.59" y2="386.00" stroke="#000" stroke-width="1.1" stroke-linecap="butt"/>
<line x1="1405.17" y1="382.50" x2="1405.17" y2="386.00" stroke="#000" stroke-width="1.1" stroke-linecap="butt"/>
<line x1="1408.30" y1="382.50" x2="1408.30" y2="386.00" stroke="#000" stroke-width="1.1" stroke-linecap="butt"/>
<line x1="1410.53" y1="382.50" x2="1410.53" y2="386.00" stroke="#000" stroke-width="1.1" stroke-linecap="butt"/>
<line x1="1412.77" y1="382.50" x2="1412.77" y2="386.00" stroke="#000" stroke-width="1.1" stroke-linecap="butt"/>
<line x1="1415.00" y1="382.50" x2="1415.00" y2="388.50" stroke="#000" stroke-width="1.8" stroke-linecap="butt"/>
<line x1="1428.41" y1="382.50" x2="1428.41" y2="386.00" stroke="#000" stroke-width="1.1" stroke-linecap="butt"/>
<line x1="1436.46" y1="382.50" x2="1436.46" y2="386.00" stroke="#000" stroke-width="1.1" stroke-linecap="butt"/>
<line x1="1441.82" y1="382.50" x2="1441.82" y2="386.00" stroke="#000" stroke-width="1.1" stroke-linecap="butt"/>
<line x1="1446.29" y1="382.50" x2="1446.29" y2="386.00" stroke="#000" stroke-width="1.1" stroke-linecap="butt"/>
<line x1="1449.87" y1="382.50" x2="1449.87" y2="386.00" stroke="#000" stroke-width="1.1" stroke-linecap="butt"/>
<line x1="1453.00" y1="382.50" x2="1453.00" y2="386.00" stroke="#000" stroke-width="1.1" stroke-linecap="butt"/>
<line x1="1455.23" y1="382.50" x2="1455.23" y2="386.00" stroke="#000" stroke-width="1.1" stroke-linecap="butt"/>
<line x1="1457.47" y1="382.50" x2="1457.47" y2="386.00" stroke="#000" stroke-width="1.1" stroke-linecap="butt"/>
<line x1="1459.70" y1="382.50" x2="1459.70" y2="388.50" stroke="#000" stroke-width="1.8" stroke-linecap="butt"/>
<line x1="1473.11" y1="382.50" x2="1473.11" y2="386.00" stroke="#000" stroke-width="1.1" stroke-linecap="butt"/>
<line x1="1079.50" y1="217.90" x2="1237.50" y2="217.90" stroke="#000" stroke-width="2.4" stroke-linecap="butt"/>
<line x1="1079.50" y1="213.90" x2="1079.50" y2="221.90" stroke="#000" stroke-width="1.3" stroke-linecap="butt"/>
<line x1="1237.50" y1="213.90" x2="1237.50" y2="221.90" stroke="#000" stroke-width="1.3" stroke-linecap="butt"/>
<line x1="1323.00" y1="217.90" x2="1480.40" y2="217.90" stroke="#000" stroke-width="2.4" stroke-linecap="butt"/>
<line x1="1323.00" y1="213.90" x2="1323.00" y2="221.90" stroke="#000" stroke-width="1.3" stroke-linecap="butt"/>
<line x1="1480.40" y1="213.90" x2="1480.40" y2="221.90" stroke="#000" stroke-width="1.3" stroke-linecap="butt"/>
<text x="1133.00" y="207.10" font-size="27.8" font-weight="normal" fill="#222" text-anchor="start">28.2</text>
<text x="1402.50" y="207.10" font-size="27.8" font-weight="normal" fill="#222" text-anchor="start">31.9</text>
<path d="M993.7,443.8 L996.1,643.0 L993.7,643.0 Z" fill="#999" stroke="#000" stroke-width="1.2"/>
<path d="M996.1,643.0 L996.1,643.0 L1011.2,641.6 L1022.8,638.7 L1031.5,635.8 L1038.8,636.7 L1046.1,628.5 L1051.9,611.1 L1056.3,599.4 L1060.6,576.2 L1065.0,552.9 L1069.4,512.2 L1072.3,477.3 L1075.2,448.2 L1078.1,424.9 L1082.5,423.5 L1085.4,427.8 L1087.4,454.0 L1089.7,483.1 L1092.6,535.5 L1095.5,582.0 L1098.5,611.1 L1101.4,622.7 L1104.3,631.4 L1113.0,637.3 L1121.7,640.2 L1127.5,643.0 L1127.5,643.0 Z" fill="#999" stroke="#000" stroke-width="1.3" stroke-linejoin="round"/>
<path d="M1237.5,576.2 L1240.4,643.0 L1237.5,643.0 Z" fill="#999" stroke="#000" stroke-width="1.2"/>
<path d="M1241.0,643.0 L1241.0,643.0 L1252.6,641.6 L1264.3,640.2 L1281.7,638.7 L1289.0,632.9 L1296.3,625.6 L1302.1,611.1 L1305.0,602.4 L1307.9,582.0 L1310.8,564.5 L1313.7,529.6 L1318.1,488.9 L1322.4,454.0 L1325.4,432.2 L1328.3,433.6 L1331.2,456.9 L1334.1,497.6 L1337.0,535.5 L1339.9,582.0 L1342.8,616.9 L1347.2,637.3 L1353.0,642.5 L1357.4,643.0 L1357.4,643.0 Z" fill="#999" stroke="#000" stroke-width="1.3" stroke-linejoin="round"/>
<line x1="990.70" y1="643.00" x2="1480.40" y2="643.00" stroke="#000" stroke-width="1.4" stroke-linecap="butt"/>
<line x1="1237.50" y1="401.00" x2="1237.50" y2="643.00" stroke="#000" stroke-width="1.4" stroke-linecap="butt"/>
<line x1="1480.40" y1="401.00" x2="1480.40" y2="643.00" stroke="#000" stroke-width="1.3" stroke-linecap="butt"/>
<line x1="987.20" y1="643.00" x2="993.70" y2="643.00" stroke="#000" stroke-width="2.0" stroke-linecap="butt"/>
<line x1="989.70" y1="631.40" x2="993.70" y2="631.40" stroke="#000" stroke-width="1.2" stroke-linecap="butt"/>
<line x1="989.70" y1="619.80" x2="993.70" y2="619.80" stroke="#000" stroke-width="1.2" stroke-linecap="butt"/>
<line x1="989.70" y1="608.20" x2="993.70" y2="608.20" stroke="#000" stroke-width="1.2" stroke-linecap="butt"/>
<line x1="987.20" y1="596.60" x2="993.70" y2="596.60" stroke="#000" stroke-width="2.0" stroke-linecap="butt"/>
<line x1="989.70" y1="585.00" x2="993.70" y2="585.00" stroke="#000" stroke-width="1.2" stroke-linecap="butt"/>
<line x1="989.70" y1="573.40" x2="993.70" y2="573.40" stroke="#000" stroke-width="1.2" stroke-linecap="butt"/>
<line x1="989.70" y1="561.80" x2="993.70" y2="561.80" stroke="#000" stroke-width="1.2" stroke-linecap="butt"/>
<line x1="987.20" y1="550.20" x2="993.70" y2="550.20" stroke="#000" stroke-width="2.0" stroke-linecap="butt"/>
<line x1="989.70" y1="538.60" x2="993.70" y2="538.60" stroke="#000" stroke-width="1.2" stroke-linecap="butt"/>
<line x1="989.70" y1="527.00" x2="993.70" y2="527.00" stroke="#000" stroke-width="1.2" stroke-linecap="butt"/>
<line x1="989.70" y1="515.40" x2="993.70" y2="515.40" stroke="#000" stroke-width="1.2" stroke-linecap="butt"/>
<line x1="987.20" y1="503.80" x2="993.70" y2="503.80" stroke="#000" stroke-width="2.0" stroke-linecap="butt"/>
<line x1="989.70" y1="492.20" x2="993.70" y2="492.20" stroke="#000" stroke-width="1.2" stroke-linecap="butt"/>
<line x1="989.70" y1="480.60" x2="993.70" y2="480.60" stroke="#000" stroke-width="1.2" stroke-linecap="butt"/>
<line x1="989.70" y1="469.00" x2="993.70" y2="469.00" stroke="#000" stroke-width="1.2" stroke-linecap="butt"/>
<line x1="987.20" y1="457.40" x2="993.70" y2="457.40" stroke="#000" stroke-width="2.0" stroke-linecap="butt"/>
<line x1="989.70" y1="445.80" x2="993.70" y2="445.80" stroke="#000" stroke-width="1.2" stroke-linecap="butt"/>
<line x1="989.70" y1="434.20" x2="993.70" y2="434.20" stroke="#000" stroke-width="1.2" stroke-linecap="butt"/>
<line x1="989.70" y1="422.60" x2="993.70" y2="422.60" stroke="#000" stroke-width="1.2" stroke-linecap="butt"/>
<line x1="987.20" y1="411.00" x2="993.70" y2="411.00" stroke="#000" stroke-width="2.0" stroke-linecap="butt"/>
<line x1="993.70" y1="643.00" x2="993.70" y2="649.00" stroke="#000" stroke-width="1.8" stroke-linecap="butt"/>
<line x1="1007.11" y1="643.00" x2="1007.11" y2="646.50" stroke="#000" stroke-width="1.1" stroke-linecap="butt"/>
<line x1="1015.16" y1="643.00" x2="1015.16" y2="646.50" stroke="#000" stroke-width="1.1" stroke-linecap="butt"/>
<line x1="1020.52" y1="643.00" x2="1020.52" y2="646.50" stroke="#000" stroke-width="1.1" stroke-linecap="butt"/>
<line x1="1024.99" y1="643.00" x2="1024.99" y2="646.50" stroke="#000" stroke-width="1.1" stroke-linecap="butt"/>
<line x1="1028.57" y1="643.00" x2="1028.57" y2="646.50" stroke="#000" stroke-width="1.1" stroke-linecap="butt"/>
<line x1="1031.70" y1="643.00" x2="1031.70" y2="646.50" stroke="#000" stroke-width="1.1" stroke-linecap="butt"/>
<line x1="1033.93" y1="643.00" x2="1033.93" y2="646.50" stroke="#000" stroke-width="1.1" stroke-linecap="butt"/>
<line x1="1036.17" y1="643.00" x2="1036.17" y2="646.50" stroke="#000" stroke-width="1.1" stroke-linecap="butt"/>
<line x1="1038.40" y1="643.00" x2="1038.40" y2="649.00" stroke="#000" stroke-width="1.8" stroke-linecap="butt"/>
<line x1="1051.81" y1="643.00" x2="1051.81" y2="646.50" stroke="#000" stroke-width="1.1" stroke-linecap="butt"/>
<line x1="1059.86" y1="643.00" x2="1059.86" y2="646.50" stroke="#000" stroke-width="1.1" stroke-linecap="butt"/>
<line x1="1065.22" y1="643.00" x2="1065.22" y2="646.50" stroke="#000" stroke-width="1.1" stroke-linecap="butt"/>
<line x1="1069.69" y1="643.00" x2="1069.69" y2="646.50" stroke="#000" stroke-width="1.1" stroke-linecap="butt"/>
<line x1="1073.27" y1="643.00" x2="1073.27" y2="646.50" stroke="#000" stroke-width="1.1" stroke-linecap="butt"/>
<line x1="1076.40" y1="643.00" x2="1076.40" y2="646.50" stroke="#000" stroke-width="1.1" stroke-linecap="butt"/>
<line x1="1078.63" y1="643.00" x2="1078.63" y2="646.50" stroke="#000" stroke-width="1.1" stroke-linecap="butt"/>
<line x1="1080.87" y1="643.00" x2="1080.87" y2="646.50" stroke="#000" stroke-width="1.1" stroke-linecap="butt"/>
<line x1="1083.10" y1="643.00" x2="1083.10" y2="649.00" stroke="#000" stroke-width="1.8" stroke-linecap="butt"/>
<line x1="1096.51" y1="643.00" x2="1096.51" y2="646.50" stroke="#000" stroke-width="1.1" stroke-linecap="butt"/>
<line x1="1104.56" y1="643.00" x2="1104.56" y2="646.50" stroke="#000" stroke-width="1.1" stroke-linecap="butt"/>
<line x1="1109.92" y1="643.00" x2="1109.92" y2="646.50" stroke="#000" stroke-width="1.1" stroke-linecap="butt"/>
<line x1="1114.39" y1="643.00" x2="1114.39" y2="646.50" stroke="#000" stroke-width="1.1" stroke-linecap="butt"/>
<line x1="1117.97" y1="643.00" x2="1117.97" y2="646.50" stroke="#000" stroke-width="1.1" stroke-linecap="butt"/>
<line x1="1121.10" y1="643.00" x2="1121.10" y2="646.50" stroke="#000" stroke-width="1.1" stroke-linecap="butt"/>
<line x1="1123.33" y1="643.00" x2="1123.33" y2="646.50" stroke="#000" stroke-width="1.1" stroke-linecap="butt"/>
<line x1="1125.57" y1="643.00" x2="1125.57" y2="646.50" stroke="#000" stroke-width="1.1" stroke-linecap="butt"/>
<line x1="1127.80" y1="643.00" x2="1127.80" y2="649.00" stroke="#000" stroke-width="1.8" stroke-linecap="butt"/>
<line x1="1141.21" y1="643.00" x2="1141.21" y2="646.50" stroke="#000" stroke-width="1.1" stroke-linecap="butt"/>
<line x1="1149.26" y1="643.00" x2="1149.26" y2="646.50" stroke="#000" stroke-width="1.1" stroke-linecap="butt"/>
<line x1="1154.62" y1="643.00" x2="1154.62" y2="646.50" stroke="#000" stroke-width="1.1" stroke-linecap="butt"/>
<line x1="1159.09" y1="643.00" x2="1159.09" y2="646.50" stroke="#000" stroke-width="1.1" stroke-linecap="butt"/>
<line x1="1162.67" y1="643.00" x2="1162.67" y2="646.50" stroke="#000" stroke-width="1.1" stroke-linecap="butt"/>
<line x1="1165.80" y1="643.00" x2="1165.80" y2="646.50" stroke="#000" stroke-width="1.1" stroke-linecap="butt"/>
<line x1="1168.03" y1="643.00" x2="1168.03" y2="646.50" stroke="#000" stroke-width="1.1" stroke-linecap="butt"/>
<line x1="1170.27" y1="643.00" x2="1170.27" y2="646.50" stroke="#000" stroke-width="1.1" stroke-linecap="butt"/>
<line x1="1172.50" y1="643.00" x2="1172.50" y2="649.00" stroke="#000" stroke-width="1.8" stroke-linecap="butt"/>
<line x1="1185.91" y1="643.00" x2="1185.91" y2="646.50" stroke="#000" stroke-width="1.1" stroke-linecap="butt"/>
<line x1="1193.96" y1="643.00" x2="1193.96" y2="646.50" stroke="#000" stroke-width="1.1" stroke-linecap="butt"/>
<line x1="1199.32" y1="643.00" x2="1199.32" y2="646.50" stroke="#000" stroke-width="1.1" stroke-linecap="butt"/>
<line x1="1203.79" y1="643.00" x2="1203.79" y2="646.50" stroke="#000" stroke-width="1.1" stroke-linecap="butt"/>
<line x1="1207.37" y1="643.00" x2="1207.37" y2="646.50" stroke="#000" stroke-width="1.1" stroke-linecap="butt"/>
<line x1="1210.50" y1="643.00" x2="1210.50" y2="646.50" stroke="#000" stroke-width="1.1" stroke-linecap="butt"/>
<line x1="1212.73" y1="643.00" x2="1212.73" y2="646.50" stroke="#000" stroke-width="1.1" stroke-linecap="butt"/>
<line x1="1214.97" y1="643.00" x2="1214.97" y2="646.50" stroke="#000" stroke-width="1.1" stroke-linecap="butt"/>
<line x1="1217.20" y1="643.00" x2="1217.20" y2="649.00" stroke="#000" stroke-width="1.8" stroke-linecap="butt"/>
<line x1="1230.61" y1="643.00" x2="1230.61" y2="646.50" stroke="#000" stroke-width="1.1" stroke-linecap="butt"/>
<line x1="1280.90" y1="643.00" x2="1280.90" y2="649.00" stroke="#000" stroke-width="1.8" stroke-linecap="butt"/>
<line x1="1294.31" y1="643.00" x2="1294.31" y2="646.50" stroke="#000" stroke-width="1.1" stroke-linecap="butt"/>
<line x1="1302.36" y1="643.00" x2="1302.36" y2="646.50" stroke="#000" stroke-width="1.1" stroke-linecap="butt"/>
<line x1="1307.72" y1="643.00" x2="1307.72" y2="646.50" stroke="#000" stroke-width="1.1" stroke-linecap="butt"/>
<line x1="1312.19" y1="643.00" x2="1312.19" y2="646.50" stroke="#000" stroke-width="1.1" stroke-linecap="butt"/>
<line x1="1315.77" y1="643.00" x2="1315.77" y2="646.50" stroke="#000" stroke-width="1.1" stroke-linecap="butt"/>
<line x1="1318.90" y1="643.00" x2="1318.90" y2="646.50" stroke="#000" stroke-width="1.1" stroke-linecap="butt"/>
<line x1="1321.13" y1="643.00" x2="1321.13" y2="646.50" stroke="#000" stroke-width="1.1" stroke-linecap="butt"/>
<line x1="1323.37" y1="643.00" x2="1323.37" y2="646.50" stroke="#000" stroke-width="1.1" stroke-linecap="butt"/>
<line x1="1325.60" y1="643.00" x2="1325.60" y2="649.00" stroke="#000" stroke-width="1.8" stroke-linecap="butt"/>
<line x1="1339.01" y1="643.00" x2="1339.01" y2="646.50" stroke="#000" stroke-width="1.1" stroke-linecap="butt"/>
<line x1="1347.06" y1="643.00" x2="1347.06" y2="646.50" stroke="#000" stroke-width="1.1" stroke-linecap="butt"/>
<line x1="1352.42" y1="643.00" x2="1352.42" y2="646.50" stroke="#000" stroke-width="1.1" stroke-linecap="butt"/>
<line x1="1356.89" y1="643.00" x2="1356.89" y2="646.50" stroke="#000" stroke-width="1.1" stroke-linecap="butt"/>
<line x1="1360.47" y1="643.00" x2="1360.47" y2="646.50" stroke="#000" stroke-width="1.1" stroke-linecap="butt"/>
<line x1="1363.60" y1="643.00" x2="1363.60" y2="646.50" stroke="#000" stroke-width="1.1" stroke-linecap="butt"/>
<line x1="1365.83" y1="643.00" x2="1365.83" y2="646.50" stroke="#000" stroke-width="1.1" stroke-linecap="butt"/>
<line x1="1368.07" y1="643.00" x2="1368.07" y2="646.50" stroke="#000" stroke-width="1.1" stroke-linecap="butt"/>
<line x1="1370.30" y1="643.00" x2="1370.30" y2="649.00" stroke="#000" stroke-width="1.8" stroke-linecap="butt"/>
<line x1="1383.71" y1="643.00" x2="1383.71" y2="646.50" stroke="#000" stroke-width="1.1" stroke-linecap="butt"/>
<line x1="1391.76" y1="643.00" x2="1391.76" y2="646.50" stroke="#000" stroke-width="1.1" stroke-linecap="butt"/>
<line x1="1397.12" y1="643.00" x2="1397.12" y2="646.50" stroke="#000" stroke-width="1.1" stroke-linecap="butt"/>
<line x1="1401.59" y1="643.00" x2="1401.59" y2="646.50" stroke="#000" stroke-width="1.1" stroke-linecap="butt"/>
<line x1="1405.17" y1="643.00" x2="1405.17" y2="646.50" stroke="#000" stroke-width="1.1" stroke-linecap="butt"/>
<line x1="1408.30" y1="643.00" x2="1408.30" y2="646.50" stroke="#000" stroke-width="1.1" stroke-linecap="butt"/>
<line x1="1410.53" y1="643.00" x2="1410.53" y2="646.50" stroke="#000" stroke-width="1.1" stroke-linecap="butt"/>
<line x1="1412.77" y1="643.00" x2="1412.77" y2="646.50" stroke="#000" stroke-width="1.1" stroke-linecap="butt"/>
<line x1="1415.00" y1="643.00" x2="1415.00" y2="649.00" stroke="#000" stroke-width="1.8" stroke-linecap="butt"/>
<line x1="1428.41" y1="643.00" x2="1428.41" y2="646.50" stroke="#000" stroke-width="1.1" stroke-linecap="butt"/>
<line x1="1436.46" y1="643.00" x2="1436.46" y2="646.50" stroke="#000" stroke-width="1.1" stroke-linecap="butt"/>
<line x1="1441.82" y1="643.00" x2="1441.82" y2="646.50" stroke="#000" stroke-width="1.1" stroke-linecap="butt"/>
<line x1="1446.29" y1="643.00" x2="1446.29" y2="646.50" stroke="#000" stroke-width="1.1" stroke-linecap="butt"/>
<line x1="1449.87" y1="643.00" x2="1449.87" y2="646.50" stroke="#000" stroke-width="1.1" stroke-linecap="butt"/>
<line x1="1453.00" y1="643.00" x2="1453.00" y2="646.50" stroke="#000" stroke-width="1.1" stroke-linecap="butt"/>
<line x1="1455.23" y1="643.00" x2="1455.23" y2="646.50" stroke="#000" stroke-width="1.1" stroke-linecap="butt"/>
<line x1="1457.47" y1="643.00" x2="1457.47" y2="646.50" stroke="#000" stroke-width="1.1" stroke-linecap="butt"/>
<line x1="1459.70" y1="643.00" x2="1459.70" y2="649.00" stroke="#000" stroke-width="1.8" stroke-linecap="butt"/>
<line x1="1473.11" y1="643.00" x2="1473.11" y2="646.50" stroke="#000" stroke-width="1.1" stroke-linecap="butt"/>
<line x1="1079.50" y1="478.10" x2="1237.50" y2="478.10" stroke="#000" stroke-width="1.4" stroke-linecap="butt"/>
<line x1="1079.50" y1="474.10" x2="1079.50" y2="482.10" stroke="#000" stroke-width="1.3" stroke-linecap="butt"/>
<line x1="1237.50" y1="474.10" x2="1237.50" y2="482.10" stroke="#000" stroke-width="1.3" stroke-linecap="butt"/>
<line x1="1322.40" y1="478.10" x2="1480.40" y2="478.10" stroke="#000" stroke-width="1.4" stroke-linecap="butt"/>
<line x1="1322.40" y1="474.10" x2="1322.40" y2="482.10" stroke="#000" stroke-width="1.3" stroke-linecap="butt"/>
<line x1="1480.40" y1="474.10" x2="1480.40" y2="482.10" stroke="#000" stroke-width="1.3" stroke-linecap="butt"/>
<text x="1133.00" y="468.00" font-size="27.8" font-weight="normal" fill="#222" text-anchor="start">44.6</text>
<text x="1402.50" y="468.00" font-size="27.8" font-weight="normal" fill="#222" text-anchor="start">52.4</text>
<path d="M993.7,673.9 L996.6,907.5 L993.7,907.5 Z" fill="#999" stroke="#000" stroke-width="1.2"/>
<path d="M996.6,907.5 L996.6,907.5 L1005.4,906.6 L1014.1,903.7 L1021.4,897.9 L1027.2,897.9 L1031.5,899.4 L1037.4,892.1 L1043.2,887.7 L1049.0,873.2 L1054.8,849.9 L1059.2,841.2 L1062.1,829.5 L1065.0,785.9 L1067.9,756.8 L1070.8,727.7 L1074.6,694.3 L1077.5,705.9 L1079.5,710.3 L1081.9,705.9 L1085.4,727.7 L1089.7,785.9 L1094.1,844.1 L1097.0,887.7 L1101.4,902.3 L1107.2,906.9 L1136.3,907.5 L1142.1,906.6 L1159.5,905.8 L1171.2,906.9 L1188.6,907.5 L1188.6,907.5 Z" fill="#999" stroke="#000" stroke-width="1.3" stroke-linejoin="round"/>
<path d="M1237.5,876.1 L1241.0,907.5 L1237.5,907.5 Z" fill="#999" stroke="#000" stroke-width="1.2"/>
<path d="M1241.0,907.5 L1241.0,907.5 L1252.6,906.6 L1264.3,905.2 L1273.0,898.8 L1281.7,896.4 L1290.4,887.7 L1296.3,870.3 L1300.6,855.7 L1305.0,841.2 L1307.9,812.1 L1309.4,800.5 L1313.7,756.8 L1316.6,724.8 L1321.0,710.3 L1323.9,724.8 L1326.8,745.2 L1329.7,768.5 L1334.1,815.0 L1338.4,858.6 L1342.8,887.7 L1348.6,900.8 L1357.4,906.6 L1363.2,907.5 L1363.2,907.5 Z" fill="#999" stroke="#000" stroke-width="1.3" stroke-linejoin="round"/>
<line x1="990.70" y1="665.20" x2="1480.40" y2="665.20" stroke="#000" stroke-width="1.3" stroke-linecap="butt"/>
<line x1="990.70" y1="907.50" x2="1480.40" y2="907.50" stroke="#000" stroke-width="1.4" stroke-linecap="butt"/>
<line x1="1237.50" y1="665.20" x2="1237.50" y2="907.50" stroke="#000" stroke-width="1.4" stroke-linecap="butt"/>
<line x1="1480.40" y1="665.20" x2="1480.40" y2="907.50" stroke="#000" stroke-width="1.3" stroke-linecap="butt"/>
<line x1="987.20" y1="907.50" x2="993.70" y2="907.50" stroke="#000" stroke-width="2.0" stroke-linecap="butt"/>
<line x1="989.70" y1="895.88" x2="993.70" y2="895.88" stroke="#000" stroke-width="1.2" stroke-linecap="butt"/>
<line x1="989.70" y1="884.27" x2="993.70" y2="884.27" stroke="#000" stroke-width="1.2" stroke-linecap="butt"/>
<line x1="989.70" y1="872.65" x2="993.70" y2="872.65" stroke="#000" stroke-width="1.2" stroke-linecap="butt"/>
<line x1="987.20" y1="861.04" x2="993.70" y2="861.04" stroke="#000" stroke-width="2.0" stroke-linecap="butt"/>
<line x1="989.70" y1="849.42" x2="993.70" y2="849.42" stroke="#000" stroke-width="1.2" stroke-linecap="butt"/>
<line x1="989.70" y1="837.81" x2="993.70" y2="837.81" stroke="#000" stroke-width="1.2" stroke-linecap="butt"/>
<line x1="989.70" y1="826.19" x2="993.70" y2="826.19" stroke="#000" stroke-width="1.2" stroke-linecap="butt"/>
<line x1="987.20" y1="814.58" x2="993.70" y2="814.58" stroke="#000" stroke-width="2.0" stroke-linecap="butt"/>
<line x1="989.70" y1="802.97" x2="993.70" y2="802.97" stroke="#000" stroke-width="1.2" stroke-linecap="butt"/>
<line x1="989.70" y1="791.35" x2="993.70" y2="791.35" stroke="#000" stroke-width="1.2" stroke-linecap="butt"/>
<line x1="989.70" y1="779.74" x2="993.70" y2="779.74" stroke="#000" stroke-width="1.2" stroke-linecap="butt"/>
<line x1="987.20" y1="768.12" x2="993.70" y2="768.12" stroke="#000" stroke-width="2.0" stroke-linecap="butt"/>
<line x1="989.70" y1="756.50" x2="993.70" y2="756.50" stroke="#000" stroke-width="1.2" stroke-linecap="butt"/>
<line x1="989.70" y1="744.89" x2="993.70" y2="744.89" stroke="#000" stroke-width="1.2" stroke-linecap="butt"/>
<line x1="989.70" y1="733.27" x2="993.70" y2="733.27" stroke="#000" stroke-width="1.2" stroke-linecap="butt"/>
<line x1="987.20" y1="721.66" x2="993.70" y2="721.66" stroke="#000" stroke-width="2.0" stroke-linecap="butt"/>
<line x1="989.70" y1="710.05" x2="993.70" y2="710.05" stroke="#000" stroke-width="1.2" stroke-linecap="butt"/>
<line x1="989.70" y1="698.43" x2="993.70" y2="698.43" stroke="#000" stroke-width="1.2" stroke-linecap="butt"/>
<line x1="989.70" y1="686.82" x2="993.70" y2="686.82" stroke="#000" stroke-width="1.2" stroke-linecap="butt"/>
<line x1="987.20" y1="675.20" x2="993.70" y2="675.20" stroke="#000" stroke-width="2.0" stroke-linecap="butt"/>
<line x1="993.70" y1="907.50" x2="993.70" y2="913.50" stroke="#000" stroke-width="1.8" stroke-linecap="butt"/>
<line x1="1007.11" y1="907.50" x2="1007.11" y2="911.00" stroke="#000" stroke-width="1.1" stroke-linecap="butt"/>
<line x1="1015.16" y1="907.50" x2="1015.16" y2="911.00" stroke="#000" stroke-width="1.1" stroke-linecap="butt"/>
<line x1="1020.52" y1="907.50" x2="1020.52" y2="911.00" stroke="#000" stroke-width="1.1" stroke-linecap="butt"/>
<line x1="1024.99" y1="907.50" x2="1024.99" y2="911.00" stroke="#000" stroke-width="1.1" stroke-linecap="butt"/>
<line x1="1028.57" y1="907.50" x2="1028.57" y2="911.00" stroke="#000" stroke-width="1.1" stroke-linecap="butt"/>
<line x1="1031.70" y1="907.50" x2="1031.70" y2="911.00" stroke="#000" stroke-width="1.1" stroke-linecap="butt"/>
<line x1="1033.93" y1="907.50" x2="1033.93" y2="911.00" stroke="#000" stroke-width="1.1" stroke-linecap="butt"/>
<line x1="1036.17" y1="907.50" x2="1036.17" y2="911.00" stroke="#000" stroke-width="1.1" stroke-linecap="butt"/>
<line x1="1038.40" y1="907.50" x2="1038.40" y2="913.50" stroke="#000" stroke-width="1.8" stroke-linecap="butt"/>
<line x1="1051.81" y1="907.50" x2="1051.81" y2="911.00" stroke="#000" stroke-width="1.1" stroke-linecap="butt"/>
<line x1="1059.86" y1="907.50" x2="1059.86" y2="911.00" stroke="#000" stroke-width="1.1" stroke-linecap="butt"/>
<line x1="1065.22" y1="907.50" x2="1065.22" y2="911.00" stroke="#000" stroke-width="1.1" stroke-linecap="butt"/>
<line x1="1069.69" y1="907.50" x2="1069.69" y2="911.00" stroke="#000" stroke-width="1.1" stroke-linecap="butt"/>
<line x1="1073.27" y1="907.50" x2="1073.27" y2="911.00" stroke="#000" stroke-width="1.1" stroke-linecap="butt"/>
<line x1="1076.40" y1="907.50" x2="1076.40" y2="911.00" stroke="#000" stroke-width="1.1" stroke-linecap="butt"/>
<line x1="1078.63" y1="907.50" x2="1078.63" y2="911.00" stroke="#000" stroke-width="1.1" stroke-linecap="butt"/>
<line x1="1080.87" y1="907.50" x2="1080.87" y2="911.00" stroke="#000" stroke-width="1.1" stroke-linecap="butt"/>
<line x1="1083.10" y1="907.50" x2="1083.10" y2="913.50" stroke="#000" stroke-width="1.8" stroke-linecap="butt"/>
<line x1="1096.51" y1="907.50" x2="1096.51" y2="911.00" stroke="#000" stroke-width="1.1" stroke-linecap="butt"/>
<line x1="1104.56" y1="907.50" x2="1104.56" y2="911.00" stroke="#000" stroke-width="1.1" stroke-linecap="butt"/>
<line x1="1109.92" y1="907.50" x2="1109.92" y2="911.00" stroke="#000" stroke-width="1.1" stroke-linecap="butt"/>
<line x1="1114.39" y1="907.50" x2="1114.39" y2="911.00" stroke="#000" stroke-width="1.1" stroke-linecap="butt"/>
<line x1="1117.97" y1="907.50" x2="1117.97" y2="911.00" stroke="#000" stroke-width="1.1" stroke-linecap="butt"/>
<line x1="1121.10" y1="907.50" x2="1121.10" y2="911.00" stroke="#000" stroke-width="1.1" stroke-linecap="butt"/>
<line x1="1123.33" y1="907.50" x2="1123.33" y2="911.00" stroke="#000" stroke-width="1.1" stroke-linecap="butt"/>
<line x1="1125.57" y1="907.50" x2="1125.57" y2="911.00" stroke="#000" stroke-width="1.1" stroke-linecap="butt"/>
<line x1="1127.80" y1="907.50" x2="1127.80" y2="913.50" stroke="#000" stroke-width="1.8" stroke-linecap="butt"/>
<line x1="1141.21" y1="907.50" x2="1141.21" y2="911.00" stroke="#000" stroke-width="1.1" stroke-linecap="butt"/>
<line x1="1149.26" y1="907.50" x2="1149.26" y2="911.00" stroke="#000" stroke-width="1.1" stroke-linecap="butt"/>
<line x1="1154.62" y1="907.50" x2="1154.62" y2="911.00" stroke="#000" stroke-width="1.1" stroke-linecap="butt"/>
<line x1="1159.09" y1="907.50" x2="1159.09" y2="911.00" stroke="#000" stroke-width="1.1" stroke-linecap="butt"/>
<line x1="1162.67" y1="907.50" x2="1162.67" y2="911.00" stroke="#000" stroke-width="1.1" stroke-linecap="butt"/>
<line x1="1165.80" y1="907.50" x2="1165.80" y2="911.00" stroke="#000" stroke-width="1.1" stroke-linecap="butt"/>
<line x1="1168.03" y1="907.50" x2="1168.03" y2="911.00" stroke="#000" stroke-width="1.1" stroke-linecap="butt"/>
<line x1="1170.27" y1="907.50" x2="1170.27" y2="911.00" stroke="#000" stroke-width="1.1" stroke-linecap="butt"/>
<line x1="1172.50" y1="907.50" x2="1172.50" y2="913.50" stroke="#000" stroke-width="1.8" stroke-linecap="butt"/>
<line x1="1185.91" y1="907.50" x2="1185.91" y2="911.00" stroke="#000" stroke-width="1.1" stroke-linecap="butt"/>
<line x1="1193.96" y1="907.50" x2="1193.96" y2="911.00" stroke="#000" stroke-width="1.1" stroke-linecap="butt"/>
<line x1="1199.32" y1="907.50" x2="1199.32" y2="911.00" stroke="#000" stroke-width="1.1" stroke-linecap="butt"/>
<line x1="1203.79" y1="907.50" x2="1203.79" y2="911.00" stroke="#000" stroke-width="1.1" stroke-linecap="butt"/>
<line x1="1207.37" y1="907.50" x2="1207.37" y2="911.00" stroke="#000" stroke-width="1.1" stroke-linecap="butt"/>
<line x1="1210.50" y1="907.50" x2="1210.50" y2="911.00" stroke="#000" stroke-width="1.1" stroke-linecap="butt"/>
<line x1="1212.73" y1="907.50" x2="1212.73" y2="911.00" stroke="#000" stroke-width="1.1" stroke-linecap="butt"/>
<line x1="1214.97" y1="907.50" x2="1214.97" y2="911.00" stroke="#000" stroke-width="1.1" stroke-linecap="butt"/>
<line x1="1217.20" y1="907.50" x2="1217.20" y2="913.50" stroke="#000" stroke-width="1.8" stroke-linecap="butt"/>
<line x1="1230.61" y1="907.50" x2="1230.61" y2="911.00" stroke="#000" stroke-width="1.1" stroke-linecap="butt"/>
<line x1="1280.90" y1="907.50" x2="1280.90" y2="913.50" stroke="#000" stroke-width="1.8" stroke-linecap="butt"/>
<line x1="1294.31" y1="907.50" x2="1294.31" y2="911.00" stroke="#000" stroke-width="1.1" stroke-linecap="butt"/>
<line x1="1302.36" y1="907.50" x2="1302.36" y2="911.00" stroke="#000" stroke-width="1.1" stroke-linecap="butt"/>
<line x1="1307.72" y1="907.50" x2="1307.72" y2="911.00" stroke="#000" stroke-width="1.1" stroke-linecap="butt"/>
<line x1="1312.19" y1="907.50" x2="1312.19" y2="911.00" stroke="#000" stroke-width="1.1" stroke-linecap="butt"/>
<line x1="1315.77" y1="907.50" x2="1315.77" y2="911.00" stroke="#000" stroke-width="1.1" stroke-linecap="butt"/>
<line x1="1318.90" y1="907.50" x2="1318.90" y2="911.00" stroke="#000" stroke-width="1.1" stroke-linecap="butt"/>
<line x1="1321.13" y1="907.50" x2="1321.13" y2="911.00" stroke="#000" stroke-width="1.1" stroke-linecap="butt"/>
<line x1="1323.37" y1="907.50" x2="1323.37" y2="911.00" stroke="#000" stroke-width="1.1" stroke-linecap="butt"/>
<line x1="1325.60" y1="907.50" x2="1325.60" y2="913.50" stroke="#000" stroke-width="1.8" stroke-linecap="butt"/>
<line x1="1339.01" y1="907.50" x2="1339.01" y2="911.00" stroke="#000" stroke-width="1.1" stroke-linecap="butt"/>
<line x1="1347.06" y1="907.50" x2="1347.06" y2="911.00" stroke="#000" stroke-width="1.1" stroke-linecap="butt"/>
<line x1="1352.42" y1="907.50" x2="1352.42" y2="911.00" stroke="#000" stroke-width="1.1" stroke-linecap="butt"/>
<line x1="1356.89" y1="907.50" x2="1356.89" y2="911.00" stroke="#000" stroke-width="1.1" stroke-linecap="butt"/>
<line x1="1360.47" y1="907.50" x2="1360.47" y2="911.00" stroke="#000" stroke-width="1.1" stroke-linecap="butt"/>
<line x1="1363.60" y1="907.50" x2="1363.60" y2="911.00" stroke="#000" stroke-width="1.1" stroke-linecap="butt"/>
<line x1="1365.83" y1="907.50" x2="1365.83" y2="911.00" stroke="#000" stroke-width="1.1" stroke-linecap="butt"/>
<line x1="1368.07" y1="907.50" x2="1368.07" y2="911.00" stroke="#000" stroke-width="1.1" stroke-linecap="butt"/>
<line x1="1370.30" y1="907.50" x2="1370.30" y2="913.50" stroke="#000" stroke-width="1.8" stroke-linecap="butt"/>
<line x1="1383.71" y1="907.50" x2="1383.71" y2="911.00" stroke="#000" stroke-width="1.1" stroke-linecap="butt"/>
<line x1="1391.76" y1="907.50" x2="1391.76" y2="911.00" stroke="#000" stroke-width="1.1" stroke-linecap="butt"/>
<line x1="1397.12" y1="907.50" x2="1397.12" y2="911.00" stroke="#000" stroke-width="1.1" stroke-linecap="butt"/>
<line x1="1401.59" y1="907.50" x2="1401.59" y2="911.00" stroke="#000" stroke-width="1.1" stroke-linecap="butt"/>
<line x1="1405.17" y1="907.50" x2="1405.17" y2="911.00" stroke="#000" stroke-width="1.1" stroke-linecap="butt"/>
<line x1="1408.30" y1="907.50" x2="1408.30" y2="911.00" stroke="#000" stroke-width="1.1" stroke-linecap="butt"/>
<line x1="1410.53" y1="907.50" x2="1410.53" y2="911.00" stroke="#000" stroke-width="1.1" stroke-linecap="butt"/>
<line x1="1412.77" y1="907.50" x2="1412.77" y2="911.00" stroke="#000" stroke-width="1.1" stroke-linecap="butt"/>
<line x1="1415.00" y1="907.50" x2="1415.00" y2="913.50" stroke="#000" stroke-width="1.8" stroke-linecap="butt"/>
<line x1="1428.41" y1="907.50" x2="1428.41" y2="911.00" stroke="#000" stroke-width="1.1" stroke-linecap="butt"/>
<line x1="1436.46" y1="907.50" x2="1436.46" y2="911.00" stroke="#000" stroke-width="1.1" stroke-linecap="butt"/>
<line x1="1441.82" y1="907.50" x2="1441.82" y2="911.00" stroke="#000" stroke-width="1.1" stroke-linecap="butt"/>
<line x1="1446.29" y1="907.50" x2="1446.29" y2="911.00" stroke="#000" stroke-width="1.1" stroke-linecap="butt"/>
<line x1="1449.87" y1="907.50" x2="1449.87" y2="911.00" stroke="#000" stroke-width="1.1" stroke-linecap="butt"/>
<line x1="1453.00" y1="907.50" x2="1453.00" y2="911.00" stroke="#000" stroke-width="1.1" stroke-linecap="butt"/>
<line x1="1455.23" y1="907.50" x2="1455.23" y2="911.00" stroke="#000" stroke-width="1.1" stroke-linecap="butt"/>
<line x1="1457.47" y1="907.50" x2="1457.47" y2="911.00" stroke="#000" stroke-width="1.1" stroke-linecap="butt"/>
<line x1="1459.70" y1="907.50" x2="1459.70" y2="913.50" stroke="#000" stroke-width="1.8" stroke-linecap="butt"/>
<line x1="1473.11" y1="907.50" x2="1473.11" y2="911.00" stroke="#000" stroke-width="1.1" stroke-linecap="butt"/>
<line x1="1079.50" y1="742.90" x2="1237.50" y2="742.90" stroke="#000" stroke-width="2.4" stroke-linecap="butt"/>
<line x1="1079.50" y1="738.90" x2="1079.50" y2="746.90" stroke="#000" stroke-width="1.3" stroke-linecap="butt"/>
<line x1="1237.50" y1="738.90" x2="1237.50" y2="746.90" stroke="#000" stroke-width="1.3" stroke-linecap="butt"/>
<line x1="1323.00" y1="742.90" x2="1480.40" y2="742.90" stroke="#000" stroke-width="2.4" stroke-linecap="butt"/>
<line x1="1323.00" y1="738.90" x2="1323.00" y2="746.90" stroke="#000" stroke-width="1.3" stroke-linecap="butt"/>
<line x1="1480.40" y1="738.90" x2="1480.40" y2="746.90" stroke="#000" stroke-width="1.3" stroke-linecap="butt"/>
<text x="1133.00" y="730.00" font-size="27.8" font-weight="normal" fill="#222" text-anchor="start">31.2</text>
<text x="1402.50" y="730.00" font-size="27.8" font-weight="normal" fill="#222" text-anchor="start">37.6</text>
<path d="M993.7,1074.1 L996.1,1170.1 L993.7,1170.1 Z" fill="#999" stroke="#000" stroke-width="1.2"/>
<path d="M996.6,1170.1 L996.6,1170.1 L1002.5,1169.5 L1019.9,1168.6 L1034.5,1167.2 L1043.2,1164.3 L1049.0,1161.4 L1053.4,1149.7 L1057.7,1138.1 L1063.5,1126.4 L1067.9,1114.8 L1070.8,1103.2 L1073.7,1079.9 L1076.6,1039.2 L1079.5,1018.8 L1082.5,989.7 L1085.4,969.4 L1088.3,983.9 L1091.2,1027.5 L1094.1,1077.0 L1097.0,1091.5 L1099.9,1117.7 L1102.8,1146.8 L1107.2,1158.4 L1113.0,1164.3 L1121.7,1167.2 L1130.5,1170.1 L1159.5,1170.1 L1171.2,1169.5 L1171.2,1170.1 Z" fill="#999" stroke="#000" stroke-width="1.3" stroke-linejoin="round"/>
<path d="M1237.5,1143.9 L1240.4,1170.1 L1237.5,1170.1 Z" fill="#999" stroke="#000" stroke-width="1.2"/>
<path d="M1241.0,1170.1 L1241.0,1170.1 L1252.6,1168.9 L1264.3,1167.8 L1275.9,1167.2 L1287.5,1161.4 L1293.4,1158.4 L1300.6,1154.1 L1303.5,1149.7 L1306.4,1135.2 L1310.8,1117.7 L1315.2,1103.2 L1318.1,1079.9 L1321.0,1059.5 L1323.9,1053.7 L1326.8,1039.2 L1329.7,1021.7 L1333.2,1008.6 L1335.5,1021.7 L1337.6,1031.9 L1339.9,1021.7 L1342.8,1001.4 L1345.7,995.5 L1349.2,988.3 L1351.5,1001.4 L1354.4,1007.2 L1357.4,1015.9 L1360.3,1050.8 L1363.2,1085.7 L1366.1,1117.7 L1369.0,1138.1 L1371.9,1155.5 L1376.3,1165.7 L1383.5,1170.1 L1383.5,1170.1 Z" fill="#999" stroke="#000" stroke-width="1.3" stroke-linejoin="round"/>
<line x1="990.70" y1="927.20" x2="1480.40" y2="927.20" stroke="#000" stroke-width="1.3" stroke-linecap="butt"/>
<line x1="990.70" y1="1170.10" x2="1480.40" y2="1170.10" stroke="#000" stroke-width="1.4" stroke-linecap="butt"/>
<line x1="1237.50" y1="927.20" x2="1237.50" y2="1170.10" stroke="#000" stroke-width="1.4" stroke-linecap="butt"/>
<line x1="1480.40" y1="927.20" x2="1480.40" y2="1170.10" stroke="#000" stroke-width="1.3" stroke-linecap="butt"/>
<line x1="987.20" y1="1170.10" x2="993.70" y2="1170.10" stroke="#000" stroke-width="2.0" stroke-linecap="butt"/>
<line x1="989.70" y1="1158.45" x2="993.70" y2="1158.45" stroke="#000" stroke-width="1.2" stroke-linecap="butt"/>
<line x1="989.70" y1="1146.81" x2="993.70" y2="1146.81" stroke="#000" stroke-width="1.2" stroke-linecap="butt"/>
<line x1="989.70" y1="1135.16" x2="993.70" y2="1135.16" stroke="#000" stroke-width="1.2" stroke-linecap="butt"/>
<line x1="987.20" y1="1123.52" x2="993.70" y2="1123.52" stroke="#000" stroke-width="2.0" stroke-linecap="butt"/>
<line x1="989.70" y1="1111.88" x2="993.70" y2="1111.88" stroke="#000" stroke-width="1.2" stroke-linecap="butt"/>
<line x1="989.70" y1="1100.23" x2="993.70" y2="1100.23" stroke="#000" stroke-width="1.2" stroke-linecap="butt"/>
<line x1="989.70" y1="1088.59" x2="993.70" y2="1088.59" stroke="#000" stroke-width="1.2" stroke-linecap="butt"/>
<line x1="987.20" y1="1076.94" x2="993.70" y2="1076.94" stroke="#000" stroke-width="2.0" stroke-linecap="butt"/>
<line x1="989.70" y1="1065.30" x2="993.70" y2="1065.30" stroke="#000" stroke-width="1.2" stroke-linecap="butt"/>
<line x1="989.70" y1="1053.65" x2="993.70" y2="1053.65" stroke="#000" stroke-width="1.2" stroke-linecap="butt"/>
<line x1="989.70" y1="1042.01" x2="993.70" y2="1042.01" stroke="#000" stroke-width="1.2" stroke-linecap="butt"/>
<line x1="987.20" y1="1030.36" x2="993.70" y2="1030.36" stroke="#000" stroke-width="2.0" stroke-linecap="butt"/>
<line x1="989.70" y1="1018.71" x2="993.70" y2="1018.71" stroke="#000" stroke-width="1.2" stroke-linecap="butt"/>
<line x1="989.70" y1="1007.07" x2="993.70" y2="1007.07" stroke="#000" stroke-width="1.2" stroke-linecap="butt"/>
<line x1="989.70" y1="995.42" x2="993.70" y2="995.42" stroke="#000" stroke-width="1.2" stroke-linecap="butt"/>
<line x1="987.20" y1="983.78" x2="993.70" y2="983.78" stroke="#000" stroke-width="2.0" stroke-linecap="butt"/>
<line x1="989.70" y1="972.13" x2="993.70" y2="972.13" stroke="#000" stroke-width="1.2" stroke-linecap="butt"/>
<line x1="989.70" y1="960.49" x2="993.70" y2="960.49" stroke="#000" stroke-width="1.2" stroke-linecap="butt"/>
<line x1="989.70" y1="948.85" x2="993.70" y2="948.85" stroke="#000" stroke-width="1.2" stroke-linecap="butt"/>
<line x1="987.20" y1="937.20" x2="993.70" y2="937.20" stroke="#000" stroke-width="2.0" stroke-linecap="butt"/>
<line x1="993.70" y1="1170.10" x2="993.70" y2="1176.10" stroke="#000" stroke-width="1.8" stroke-linecap="butt"/>
<line x1="1007.11" y1="1170.10" x2="1007.11" y2="1173.60" stroke="#000" stroke-width="1.1" stroke-linecap="butt"/>
<line x1="1015.16" y1="1170.10" x2="1015.16" y2="1173.60" stroke="#000" stroke-width="1.1" stroke-linecap="butt"/>
<line x1="1020.52" y1="1170.10" x2="1020.52" y2="1173.60" stroke="#000" stroke-width="1.1" stroke-linecap="butt"/>
<line x1="1024.99" y1="1170.10" x2="1024.99" y2="1173.60" stroke="#000" stroke-width="1.1" stroke-linecap="butt"/>
<line x1="1028.57" y1="1170.10" x2="1028.57" y2="1173.60" stroke="#000" stroke-width="1.1" stroke-linecap="butt"/>
<line x1="1031.70" y1="1170.10" x2="1031.70" y2="1173.60" stroke="#000" stroke-width="1.1" stroke-linecap="butt"/>
<line x1="1033.93" y1="1170.10" x2="1033.93" y2="1173.60" stroke="#000" stroke-width="1.1" stroke-linecap="butt"/>
<line x1="1036.17" y1="1170.10" x2="1036.17" y2="1173.60" stroke="#000" stroke-width="1.1" stroke-linecap="butt"/>
<line x1="1038.40" y1="1170.10" x2="1038.40" y2="1176.10" stroke="#000" stroke-width="1.8" stroke-linecap="butt"/>
<line x1="1051.81" y1="1170.10" x2="1051.81" y2="1173.60" stroke="#000" stroke-width="1.1" stroke-linecap="butt"/>
<line x1="1059.86" y1="1170.10" x2="1059.86" y2="1173.60" stroke="#000" stroke-width="1.1" stroke-linecap="butt"/>
<line x1="1065.22" y1="1170.10" x2="1065.22" y2="1173.60" stroke="#000" stroke-width="1.1" stroke-linecap="butt"/>
<line x1="1069.69" y1="1170.10" x2="1069.69" y2="1173.60" stroke="#000" stroke-width="1.1" stroke-linecap="butt"/>
<line x1="1073.27" y1="1170.10" x2="1073.27" y2="1173.60" stroke="#000" stroke-width="1.1" stroke-linecap="butt"/>
<line x1="1076.40" y1="1170.10" x2="1076.40" y2="1173.60" stroke="#000" stroke-width="1.1" stroke-linecap="butt"/>
<line x1="1078.63" y1="1170.10" x2="1078.63" y2="1173.60" stroke="#000" stroke-width="1.1" stroke-linecap="butt"/>
<line x1="1080.87" y1="1170.10" x2="1080.87" y2="1173.60" stroke="#000" stroke-width="1.1" stroke-linecap="butt"/>
<line x1="1083.10" y1="1170.10" x2="1083.10" y2="1176.10" stroke="#000" stroke-width="1.8" stroke-linecap="butt"/>
<line x1="1096.51" y1="1170.10" x2="1096.51" y2="1173.60" stroke="#000" stroke-width="1.1" stroke-linecap="butt"/>
<line x1="1104.56" y1="1170.10" x2="1104.56" y2="1173.60" stroke="#000" stroke-width="1.1" stroke-linecap="butt"/>
<line x1="1109.92" y1="1170.10" x2="1109.92" y2="1173.60" stroke="#000" stroke-width="1.1" stroke-linecap="butt"/>
<line x1="1114.39" y1="1170.10" x2="1114.39" y2="1173.60" stroke="#000" stroke-width="1.1" stroke-linecap="butt"/>
<line x1="1117.97" y1="1170.10" x2="1117.97" y2="1173.60" stroke="#000" stroke-width="1.1" stroke-linecap="butt"/>
<line x1="1121.10" y1="1170.10" x2="1121.10" y2="1173.60" stroke="#000" stroke-width="1.1" stroke-linecap="butt"/>
<line x1="1123.33" y1="1170.10" x2="1123.33" y2="1173.60" stroke="#000" stroke-width="1.1" stroke-linecap="butt"/>
<line x1="1125.57" y1="1170.10" x2="1125.57" y2="1173.60" stroke="#000" stroke-width="1.1" stroke-linecap="butt"/>
<line x1="1127.80" y1="1170.10" x2="1127.80" y2="1176.10" stroke="#000" stroke-width="1.8" stroke-linecap="butt"/>
<line x1="1141.21" y1="1170.10" x2="1141.21" y2="1173.60" stroke="#000" stroke-width="1.1" stroke-linecap="butt"/>
<line x1="1149.26" y1="1170.10" x2="1149.26" y2="1173.60" stroke="#000" stroke-width="1.1" stroke-linecap="butt"/>
<line x1="1154.62" y1="1170.10" x2="1154.62" y2="1173.60" stroke="#000" stroke-width="1.1" stroke-linecap="butt"/>
<line x1="1159.09" y1="1170.10" x2="1159.09" y2="1173.60" stroke="#000" stroke-width="1.1" stroke-linecap="butt"/>
<line x1="1162.67" y1="1170.10" x2="1162.67" y2="1173.60" stroke="#000" stroke-width="1.1" stroke-linecap="butt"/>
<line x1="1165.80" y1="1170.10" x2="1165.80" y2="1173.60" stroke="#000" stroke-width="1.1" stroke-linecap="butt"/>
<line x1="1168.03" y1="1170.10" x2="1168.03" y2="1173.60" stroke="#000" stroke-width="1.1" stroke-linecap="butt"/>
<line x1="1170.27" y1="1170.10" x2="1170.27" y2="1173.60" stroke="#000" stroke-width="1.1" stroke-linecap="butt"/>
<line x1="1172.50" y1="1170.10" x2="1172.50" y2="1176.10" stroke="#000" stroke-width="1.8" stroke-linecap="butt"/>
<line x1="1185.91" y1="1170.10" x2="1185.91" y2="1173.60" stroke="#000" stroke-width="1.1" stroke-linecap="butt"/>
<line x1="1193.96" y1="1170.10" x2="1193.96" y2="1173.60" stroke="#000" stroke-width="1.1" stroke-linecap="butt"/>
<line x1="1199.32" y1="1170.10" x2="1199.32" y2="1173.60" stroke="#000" stroke-width="1.1" stroke-linecap="butt"/>
<line x1="1203.79" y1="1170.10" x2="1203.79" y2="1173.60" stroke="#000" stroke-width="1.1" stroke-linecap="butt"/>
<line x1="1207.37" y1="1170.10" x2="1207.37" y2="1173.60" stroke="#000" stroke-width="1.1" stroke-linecap="butt"/>
<line x1="1210.50" y1="1170.10" x2="1210.50" y2="1173.60" stroke="#000" stroke-width="1.1" stroke-linecap="butt"/>
<line x1="1212.73" y1="1170.10" x2="1212.73" y2="1173.60" stroke="#000" stroke-width="1.1" stroke-linecap="butt"/>
<line x1="1214.97" y1="1170.10" x2="1214.97" y2="1173.60" stroke="#000" stroke-width="1.1" stroke-linecap="butt"/>
<line x1="1217.20" y1="1170.10" x2="1217.20" y2="1176.10" stroke="#000" stroke-width="1.8" stroke-linecap="butt"/>
<line x1="1230.61" y1="1170.10" x2="1230.61" y2="1173.60" stroke="#000" stroke-width="1.1" stroke-linecap="butt"/>
<line x1="1280.90" y1="1170.10" x2="1280.90" y2="1176.10" stroke="#000" stroke-width="1.8" stroke-linecap="butt"/>
<line x1="1294.31" y1="1170.10" x2="1294.31" y2="1173.60" stroke="#000" stroke-width="1.1" stroke-linecap="butt"/>
<line x1="1302.36" y1="1170.10" x2="1302.36" y2="1173.60" stroke="#000" stroke-width="1.1" stroke-linecap="butt"/>
<line x1="1307.72" y1="1170.10" x2="1307.72" y2="1173.60" stroke="#000" stroke-width="1.1" stroke-linecap="butt"/>
<line x1="1312.19" y1="1170.10" x2="1312.19" y2="1173.60" stroke="#000" stroke-width="1.1" stroke-linecap="butt"/>
<line x1="1315.77" y1="1170.10" x2="1315.77" y2="1173.60" stroke="#000" stroke-width="1.1" stroke-linecap="butt"/>
<line x1="1318.90" y1="1170.10" x2="1318.90" y2="1173.60" stroke="#000" stroke-width="1.1" stroke-linecap="butt"/>
<line x1="1321.13" y1="1170.10" x2="1321.13" y2="1173.60" stroke="#000" stroke-width="1.1" stroke-linecap="butt"/>
<line x1="1323.37" y1="1170.10" x2="1323.37" y2="1173.60" stroke="#000" stroke-width="1.1" stroke-linecap="butt"/>
<line x1="1325.60" y1="1170.10" x2="1325.60" y2="1176.10" stroke="#000" stroke-width="1.8" stroke-linecap="butt"/>
<line x1="1339.01" y1="1170.10" x2="1339.01" y2="1173.60" stroke="#000" stroke-width="1.1" stroke-linecap="butt"/>
<line x1="1347.06" y1="1170.10" x2="1347.06" y2="1173.60" stroke="#000" stroke-width="1.1" stroke-linecap="butt"/>
<line x1="1352.42" y1="1170.10" x2="1352.42" y2="1173.60" stroke="#000" stroke-width="1.1" stroke-linecap="butt"/>
<line x1="1356.89" y1="1170.10" x2="1356.89" y2="1173.60" stroke="#000" stroke-width="1.1" stroke-linecap="butt"/>
<line x1="1360.47" y1="1170.10" x2="1360.47" y2="1173.60" stroke="#000" stroke-width="1.1" stroke-linecap="butt"/>
<line x1="1363.60" y1="1170.10" x2="1363.60" y2="1173.60" stroke="#000" stroke-width="1.1" stroke-linecap="butt"/>
<line x1="1365.83" y1="1170.10" x2="1365.83" y2="1173.60" stroke="#000" stroke-width="1.1" stroke-linecap="butt"/>
<line x1="1368.07" y1="1170.10" x2="1368.07" y2="1173.60" stroke="#000" stroke-width="1.1" stroke-linecap="butt"/>
<line x1="1370.30" y1="1170.10" x2="1370.30" y2="1176.10" stroke="#000" stroke-width="1.8" stroke-linecap="butt"/>
<line x1="1383.71" y1="1170.10" x2="1383.71" y2="1173.60" stroke="#000" stroke-width="1.1" stroke-linecap="butt"/>
<line x1="1391.76" y1="1170.10" x2="1391.76" y2="1173.60" stroke="#000" stroke-width="1.1" stroke-linecap="butt"/>
<line x1="1397.12" y1="1170.10" x2="1397.12" y2="1173.60" stroke="#000" stroke-width="1.1" stroke-linecap="butt"/>
<line x1="1401.59" y1="1170.10" x2="1401.59" y2="1173.60" stroke="#000" stroke-width="1.1" stroke-linecap="butt"/>
<line x1="1405.17" y1="1170.10" x2="1405.17" y2="1173.60" stroke="#000" stroke-width="1.1" stroke-linecap="butt"/>
<line x1="1408.30" y1="1170.10" x2="1408.30" y2="1173.60" stroke="#000" stroke-width="1.1" stroke-linecap="butt"/>
<line x1="1410.53" y1="1170.10" x2="1410.53" y2="1173.60" stroke="#000" stroke-width="1.1" stroke-linecap="butt"/>
<line x1="1412.77" y1="1170.10" x2="1412.77" y2="1173.60" stroke="#000" stroke-width="1.1" stroke-linecap="butt"/>
<line x1="1415.00" y1="1170.10" x2="1415.00" y2="1176.10" stroke="#000" stroke-width="1.8" stroke-linecap="butt"/>
<line x1="1428.41" y1="1170.10" x2="1428.41" y2="1173.60" stroke="#000" stroke-width="1.1" stroke-linecap="butt"/>
<line x1="1436.46" y1="1170.10" x2="1436.46" y2="1173.60" stroke="#000" stroke-width="1.1" stroke-linecap="butt"/>
<line x1="1441.82" y1="1170.10" x2="1441.82" y2="1173.60" stroke="#000" stroke-width="1.1" stroke-linecap="butt"/>
<line x1="1446.29" y1="1170.10" x2="1446.29" y2="1173.60" stroke="#000" stroke-width="1.1" stroke-linecap="butt"/>
<line x1="1449.87" y1="1170.10" x2="1449.87" y2="1173.60" stroke="#000" stroke-width="1.1" stroke-linecap="butt"/>
<line x1="1453.00" y1="1170.10" x2="1453.00" y2="1173.60" stroke="#000" stroke-width="1.1" stroke-linecap="butt"/>
<line x1="1455.23" y1="1170.10" x2="1455.23" y2="1173.60" stroke="#000" stroke-width="1.1" stroke-linecap="butt"/>
<line x1="1457.47" y1="1170.10" x2="1457.47" y2="1173.60" stroke="#000" stroke-width="1.1" stroke-linecap="butt"/>
<line x1="1459.70" y1="1170.10" x2="1459.70" y2="1176.10" stroke="#000" stroke-width="1.8" stroke-linecap="butt"/>
<line x1="1473.11" y1="1170.10" x2="1473.11" y2="1173.60" stroke="#000" stroke-width="1.1" stroke-linecap="butt"/>
<line x1="1079.50" y1="1004.90" x2="1237.50" y2="1004.90" stroke="#000" stroke-width="2.4" stroke-linecap="butt"/>
<line x1="1079.50" y1="1000.90" x2="1079.50" y2="1008.90" stroke="#000" stroke-width="1.3" stroke-linecap="butt"/>
<line x1="1237.50" y1="1000.90" x2="1237.50" y2="1008.90" stroke="#000" stroke-width="1.3" stroke-linecap="butt"/>
<line x1="1323.00" y1="1004.90" x2="1480.40" y2="1004.90" stroke="#000" stroke-width="2.4" stroke-linecap="butt"/>
<line x1="1323.00" y1="1000.90" x2="1323.00" y2="1008.90" stroke="#000" stroke-width="1.3" stroke-linecap="butt"/>
<line x1="1480.40" y1="1000.90" x2="1480.40" y2="1008.90" stroke="#000" stroke-width="1.3" stroke-linecap="butt"/>
<text x="1133.00" y="992.00" font-size="27.8" font-weight="normal" fill="#222" text-anchor="start">59.9</text>
<text x="1402.50" y="992.00" font-size="27.8" font-weight="normal" fill="#222" text-anchor="start">81.4</text>
<path d="M1541.9,171.4 L1545.1,382.5 L1541.9,382.5 Z" fill="#999" stroke="#000" stroke-width="1.2"/>
<path d="M1545.1,382.5 L1545.1,382.5 L1553.0,381.9 L1562.5,379.4 L1572.1,377.8 L1580.0,379.4 L1584.8,361.9 L1587.9,358.7 L1592.7,361.9 L1597.5,349.2 L1602.2,339.7 L1607.0,333.3 L1610.2,307.9 L1613.3,292.1 L1616.5,290.5 L1619.7,276.2 L1622.9,247.6 L1627.6,228.6 L1629.2,212.7 L1632.4,209.5 L1635.6,203.2 L1638.7,215.9 L1641.9,222.2 L1644.4,219.0 L1646.7,228.6 L1651.4,263.5 L1656.2,301.6 L1661.0,333.3 L1667.3,368.3 L1673.7,379.4 L1678.4,382.5 L1678.4,382.5 Z" fill="#999" stroke="#000" stroke-width="1.3" stroke-linejoin="round"/>
<path d="M1785.4,368.3 L1787.3,382.5 L1785.4,382.5 Z" fill="#999" stroke="#000" stroke-width="1.2"/>
<path d="M1789.5,382.5 L1789.5,382.5 L1797.5,381.0 L1803.8,374.6 L1810.2,370.8 L1819.7,368.3 L1829.2,365.1 L1834.0,355.6 L1838.7,342.9 L1843.5,336.5 L1846.7,317.5 L1848.3,295.2 L1849.8,269.8 L1854.6,254.0 L1857.8,241.3 L1861.0,228.6 L1864.1,209.5 L1867.3,184.1 L1870.5,179.4 L1873.7,179.4 L1876.8,190.5 L1879.4,209.5 L1881.6,215.9 L1884.8,209.5 L1887.3,207.9 L1891.1,222.2 L1895.9,230.2 L1899.0,215.9 L1902.2,196.8 L1904.8,222.2 L1907.0,276.2 L1911.7,304.8 L1916.5,342.9 L1921.3,355.6 L1926.0,371.4 L1930.8,381.0 L1937.1,382.5 L1937.1,382.5 Z" fill="#999" stroke="#000" stroke-width="1.3" stroke-linejoin="round"/>
<line x1="1538.90" y1="140.30" x2="2028.50" y2="140.30" stroke="#000" stroke-width="1.3" stroke-linecap="butt"/>
<line x1="1538.90" y1="382.50" x2="2028.50" y2="382.50" stroke="#000" stroke-width="1.4" stroke-linecap="butt"/>
<line x1="1785.30" y1="140.30" x2="1785.30" y2="382.50" stroke="#000" stroke-width="1.4" stroke-linecap="butt"/>
<line x1="2028.50" y1="140.30" x2="2028.50" y2="382.50" stroke="#000" stroke-width="1.3" stroke-linecap="butt"/>
<line x1="1541.90" y1="140.30" x2="1541.90" y2="382.50" stroke="#000" stroke-width="1.3" stroke-linecap="butt"/>
<line x1="1535.40" y1="382.50" x2="1541.90" y2="382.50" stroke="#000" stroke-width="2.0" stroke-linecap="butt"/>
<line x1="1537.90" y1="370.89" x2="1541.90" y2="370.89" stroke="#000" stroke-width="1.2" stroke-linecap="butt"/>
<line x1="1537.90" y1="359.28" x2="1541.90" y2="359.28" stroke="#000" stroke-width="1.2" stroke-linecap="butt"/>
<line x1="1537.90" y1="347.67" x2="1541.90" y2="347.67" stroke="#000" stroke-width="1.2" stroke-linecap="butt"/>
<line x1="1535.40" y1="336.06" x2="1541.90" y2="336.06" stroke="#000" stroke-width="2.0" stroke-linecap="butt"/>
<line x1="1537.90" y1="324.45" x2="1541.90" y2="324.45" stroke="#000" stroke-width="1.2" stroke-linecap="butt"/>
<line x1="1537.90" y1="312.84" x2="1541.90" y2="312.84" stroke="#000" stroke-width="1.2" stroke-linecap="butt"/>
<line x1="1537.90" y1="301.23" x2="1541.90" y2="301.23" stroke="#000" stroke-width="1.2" stroke-linecap="butt"/>
<line x1="1535.40" y1="289.62" x2="1541.90" y2="289.62" stroke="#000" stroke-width="2.0" stroke-linecap="butt"/>
<line x1="1537.90" y1="278.01" x2="1541.90" y2="278.01" stroke="#000" stroke-width="1.2" stroke-linecap="butt"/>
<line x1="1537.90" y1="266.40" x2="1541.90" y2="266.40" stroke="#000" stroke-width="1.2" stroke-linecap="butt"/>
<line x1="1537.90" y1="254.79" x2="1541.90" y2="254.79" stroke="#000" stroke-width="1.2" stroke-linecap="butt"/>
<line x1="1535.40" y1="243.18" x2="1541.90" y2="243.18" stroke="#000" stroke-width="2.0" stroke-linecap="butt"/>
<line x1="1537.90" y1="231.57" x2="1541.90" y2="231.57" stroke="#000" stroke-width="1.2" stroke-linecap="butt"/>
<line x1="1537.90" y1="219.96" x2="1541.90" y2="219.96" stroke="#000" stroke-width="1.2" stroke-linecap="butt"/>
<line x1="1537.90" y1="208.35" x2="1541.90" y2="208.35" stroke="#000" stroke-width="1.2" stroke-linecap="butt"/>
<line x1="1535.40" y1="196.74" x2="1541.90" y2="196.74" stroke="#000" stroke-width="2.0" stroke-linecap="butt"/>
<line x1="1537.90" y1="185.13" x2="1541.90" y2="185.13" stroke="#000" stroke-width="1.2" stroke-linecap="butt"/>
<line x1="1537.90" y1="173.52" x2="1541.90" y2="173.52" stroke="#000" stroke-width="1.2" stroke-linecap="butt"/>
<line x1="1537.90" y1="161.91" x2="1541.90" y2="161.91" stroke="#000" stroke-width="1.2" stroke-linecap="butt"/>
<line x1="1535.40" y1="150.30" x2="1541.90" y2="150.30" stroke="#000" stroke-width="2.0" stroke-linecap="butt"/>
<line x1="1541.90" y1="382.50" x2="1541.90" y2="388.50" stroke="#000" stroke-width="1.8" stroke-linecap="butt"/>
<line x1="1555.31" y1="382.50" x2="1555.31" y2="386.00" stroke="#000" stroke-width="1.1" stroke-linecap="butt"/>
<line x1="1563.36" y1="382.50" x2="1563.36" y2="386.00" stroke="#000" stroke-width="1.1" stroke-linecap="butt"/>
<line x1="1568.72" y1="382.50" x2="1568.72" y2="386.00" stroke="#000" stroke-width="1.1" stroke-linecap="butt"/>
<line x1="1573.19" y1="382.50" x2="1573.19" y2="386.00" stroke="#000" stroke-width="1.1" stroke-linecap="butt"/>
<line x1="1576.77" y1="382.50" x2="1576.77" y2="386.00" stroke="#000" stroke-width="1.1" stroke-linecap="butt"/>
<line x1="1579.90" y1="382.50" x2="1579.90" y2="386.00" stroke="#000" stroke-width="1.1" stroke-linecap="butt"/>
<line x1="1582.13" y1="382.50" x2="1582.13" y2="386.00" stroke="#000" stroke-width="1.1" stroke-linecap="butt"/>
<line x1="1584.37" y1="382.50" x2="1584.37" y2="386.00" stroke="#000" stroke-width="1.1" stroke-linecap="butt"/>
<line x1="1586.60" y1="382.50" x2="1586.60" y2="388.50" stroke="#000" stroke-width="1.8" stroke-linecap="butt"/>
<line x1="1600.01" y1="382.50" x2="1600.01" y2="386.00" stroke="#000" stroke-width="1.1" stroke-linecap="butt"/>
<line x1="1608.06" y1="382.50" x2="1608.06" y2="386.00" stroke="#000" stroke-width="1.1" stroke-linecap="butt"/>
<line x1="1613.42" y1="382.50" x2="1613.42" y2="386.00" stroke="#000" stroke-width="1.1" stroke-linecap="butt"/>
<line x1="1617.89" y1="382.50" x2="1617.89" y2="386.00" stroke="#000" stroke-width="1.1" stroke-linecap="butt"/>
<line x1="1621.47" y1="382.50" x2="1621.47" y2="386.00" stroke="#000" stroke-width="1.1" stroke-linecap="butt"/>
<line x1="1624.60" y1="382.50" x2="1624.60" y2="386.00" stroke="#000" stroke-width="1.1" stroke-linecap="butt"/>
<line x1="1626.83" y1="382.50" x2="1626.83" y2="386.00" stroke="#000" stroke-width="1.1" stroke-linecap="butt"/>
<line x1="1629.07" y1="382.50" x2="1629.07" y2="386.00" stroke="#000" stroke-width="1.1" stroke-linecap="butt"/>
<line x1="1631.30" y1="382.50" x2="1631.30" y2="388.50" stroke="#000" stroke-width="1.8" stroke-linecap="butt"/>
<line x1="1644.71" y1="382.50" x2="1644.71" y2="386.00" stroke="#000" stroke-width="1.1" stroke-linecap="butt"/>
<line x1="1652.76" y1="382.50" x2="1652.76" y2="386.00" stroke="#000" stroke-width="1.1" stroke-linecap="butt"/>
<line x1="1658.12" y1="382.50" x2="1658.12" y2="386.00" stroke="#000" stroke-width="1.1" stroke-linecap="butt"/>
<line x1="1662.59" y1="382.50" x2="1662.59" y2="386.00" stroke="#000" stroke-width="1.1" stroke-linecap="butt"/>
<line x1="1666.17" y1="382.50" x2="1666.17" y2="386.00" stroke="#000" stroke-width="1.1" stroke-linecap="butt"/>
<line x1="1669.30" y1="382.50" x2="1669.30" y2="386.00" stroke="#000" stroke-width="1.1" stroke-linecap="butt"/>
<line x1="1671.53" y1="382.50" x2="1671.53" y2="386.00" stroke="#000" stroke-width="1.1" stroke-linecap="butt"/>
<line x1="1673.77" y1="382.50" x2="1673.77" y2="386.00" stroke="#000" stroke-width="1.1" stroke-linecap="butt"/>
<line x1="1676.00" y1="382.50" x2="1676.00" y2="388.50" stroke="#000" stroke-width="1.8" stroke-linecap="butt"/>
<line x1="1689.41" y1="382.50" x2="1689.41" y2="386.00" stroke="#000" stroke-width="1.1" stroke-linecap="butt"/>
<line x1="1697.46" y1="382.50" x2="1697.46" y2="386.00" stroke="#000" stroke-width="1.1" stroke-linecap="butt"/>
<line x1="1702.82" y1="382.50" x2="1702.82" y2="386.00" stroke="#000" stroke-width="1.1" stroke-linecap="butt"/>
<line x1="1707.29" y1="382.50" x2="1707.29" y2="386.00" stroke="#000" stroke-width="1.1" stroke-linecap="butt"/>
<line x1="1710.87" y1="382.50" x2="1710.87" y2="386.00" stroke="#000" stroke-width="1.1" stroke-linecap="butt"/>
<line x1="1714.00" y1="382.50" x2="1714.00" y2="386.00" stroke="#000" stroke-width="1.1" stroke-linecap="butt"/>
<line x1="1716.23" y1="382.50" x2="1716.23" y2="386.00" stroke="#000" stroke-width="1.1" stroke-linecap="butt"/>
<line x1="1718.47" y1="382.50" x2="1718.47" y2="386.00" stroke="#000" stroke-width="1.1" stroke-linecap="butt"/>
<line x1="1720.70" y1="382.50" x2="1720.70" y2="388.50" stroke="#000" stroke-width="1.8" stroke-linecap="butt"/>
<line x1="1734.11" y1="382.50" x2="1734.11" y2="386.00" stroke="#000" stroke-width="1.1" stroke-linecap="butt"/>
<line x1="1742.16" y1="382.50" x2="1742.16" y2="386.00" stroke="#000" stroke-width="1.1" stroke-linecap="butt"/>
<line x1="1747.52" y1="382.50" x2="1747.52" y2="386.00" stroke="#000" stroke-width="1.1" stroke-linecap="butt"/>
<line x1="1751.99" y1="382.50" x2="1751.99" y2="386.00" stroke="#000" stroke-width="1.1" stroke-linecap="butt"/>
<line x1="1755.57" y1="382.50" x2="1755.57" y2="386.00" stroke="#000" stroke-width="1.1" stroke-linecap="butt"/>
<line x1="1758.70" y1="382.50" x2="1758.70" y2="386.00" stroke="#000" stroke-width="1.1" stroke-linecap="butt"/>
<line x1="1760.93" y1="382.50" x2="1760.93" y2="386.00" stroke="#000" stroke-width="1.1" stroke-linecap="butt"/>
<line x1="1763.17" y1="382.50" x2="1763.17" y2="386.00" stroke="#000" stroke-width="1.1" stroke-linecap="butt"/>
<line x1="1765.40" y1="382.50" x2="1765.40" y2="388.50" stroke="#000" stroke-width="1.8" stroke-linecap="butt"/>
<line x1="1778.81" y1="382.50" x2="1778.81" y2="386.00" stroke="#000" stroke-width="1.1" stroke-linecap="butt"/>
<line x1="1828.70" y1="382.50" x2="1828.70" y2="388.50" stroke="#000" stroke-width="1.8" stroke-linecap="butt"/>
<line x1="1842.11" y1="382.50" x2="1842.11" y2="386.00" stroke="#000" stroke-width="1.1" stroke-linecap="butt"/>
<line x1="1850.16" y1="382.50" x2="1850.16" y2="386.00" stroke="#000" stroke-width="1.1" stroke-linecap="butt"/>
<line x1="1855.52" y1="382.50" x2="1855.52" y2="386.00" stroke="#000" stroke-width="1.1" stroke-linecap="butt"/>
<line x1="1859.99" y1="382.50" x2="1859.99" y2="386.00" stroke="#000" stroke-width="1.1" stroke-linecap="butt"/>
<line x1="1863.57" y1="382.50" x2="1863.57" y2="386.00" stroke="#000" stroke-width="1.1" stroke-linecap="butt"/>
<line x1="1866.70" y1="382.50" x2="1866.70" y2="386.00" stroke="#000" stroke-width="1.1" stroke-linecap="butt"/>
<line x1="1868.93" y1="382.50" x2="1868.93" y2="386.00" stroke="#000" stroke-width="1.1" stroke-linecap="butt"/>
<line x1="1871.17" y1="382.50" x2="1871.17" y2="386.00" stroke="#000" stroke-width="1.1" stroke-linecap="butt"/>
<line x1="1873.40" y1="382.50" x2="1873.40" y2="388.50" stroke="#000" stroke-width="1.8" stroke-linecap="butt"/>
<line x1="1886.81" y1="382.50" x2="1886.81" y2="386.00" stroke="#000" stroke-width="1.1" stroke-linecap="butt"/>
<line x1="1894.86" y1="382.50" x2="1894.86" y2="386.00" stroke="#000" stroke-width="1.1" stroke-linecap="butt"/>
<line x1="1900.22" y1="382.50" x2="1900.22" y2="386.00" stroke="#000" stroke-width="1.1" stroke-linecap="butt"/>
<line x1="1904.69" y1="382.50" x2="1904.69" y2="386.00" stroke="#000" stroke-width="1.1" stroke-linecap="butt"/>
<line x1="1908.27" y1="382.50" x2="1908.27" y2="386.00" stroke="#000" stroke-width="1.1" stroke-linecap="butt"/>
<line x1="1911.40" y1="382.50" x2="1911.40" y2="386.00" stroke="#000" stroke-width="1.1" stroke-linecap="butt"/>
<line x1="1913.63" y1="382.50" x2="1913.63" y2="386.00" stroke="#000" stroke-width="1.1" stroke-linecap="butt"/>
<line x1="1915.87" y1="382.50" x2="1915.87" y2="386.00" stroke="#000" stroke-width="1.1" stroke-linecap="butt"/>
<line x1="1918.10" y1="382.50" x2="1918.10" y2="388.50" stroke="#000" stroke-width="1.8" stroke-linecap="butt"/>
<line x1="1931.51" y1="382.50" x2="1931.51" y2="386.00" stroke="#000" stroke-width="1.1" stroke-linecap="butt"/>
<line x1="1939.56" y1="382.50" x2="1939.56" y2="386.00" stroke="#000" stroke-width="1.1" stroke-linecap="butt"/>
<line x1="1944.92" y1="382.50" x2="1944.92" y2="386.00" stroke="#000" stroke-width="1.1" stroke-linecap="butt"/>
<line x1="1949.39" y1="382.50" x2="1949.39" y2="386.00" stroke="#000" stroke-width="1.1" stroke-linecap="butt"/>
<line x1="1952.97" y1="382.50" x2="1952.97" y2="386.00" stroke="#000" stroke-width="1.1" stroke-linecap="butt"/>
<line x1="1956.10" y1="382.50" x2="1956.10" y2="386.00" stroke="#000" stroke-width="1.1" stroke-linecap="butt"/>
<line x1="1958.33" y1="382.50" x2="1958.33" y2="386.00" stroke="#000" stroke-width="1.1" stroke-linecap="butt"/>
<line x1="1960.57" y1="382.50" x2="1960.57" y2="386.00" stroke="#000" stroke-width="1.1" stroke-linecap="butt"/>
<line x1="1962.80" y1="382.50" x2="1962.80" y2="388.50" stroke="#000" stroke-width="1.8" stroke-linecap="butt"/>
<line x1="1976.21" y1="382.50" x2="1976.21" y2="386.00" stroke="#000" stroke-width="1.1" stroke-linecap="butt"/>
<line x1="1984.26" y1="382.50" x2="1984.26" y2="386.00" stroke="#000" stroke-width="1.1" stroke-linecap="butt"/>
<line x1="1989.62" y1="382.50" x2="1989.62" y2="386.00" stroke="#000" stroke-width="1.1" stroke-linecap="butt"/>
<line x1="1994.09" y1="382.50" x2="1994.09" y2="386.00" stroke="#000" stroke-width="1.1" stroke-linecap="butt"/>
<line x1="1997.67" y1="382.50" x2="1997.67" y2="386.00" stroke="#000" stroke-width="1.1" stroke-linecap="butt"/>
<line x1="2000.80" y1="382.50" x2="2000.80" y2="386.00" stroke="#000" stroke-width="1.1" stroke-linecap="butt"/>
<line x1="2003.03" y1="382.50" x2="2003.03" y2="386.00" stroke="#000" stroke-width="1.1" stroke-linecap="butt"/>
<line x1="2005.27" y1="382.50" x2="2005.27" y2="386.00" stroke="#000" stroke-width="1.1" stroke-linecap="butt"/>
<line x1="2007.50" y1="382.50" x2="2007.50" y2="388.50" stroke="#000" stroke-width="1.8" stroke-linecap="butt"/>
<line x1="2020.91" y1="382.50" x2="2020.91" y2="386.00" stroke="#000" stroke-width="1.1" stroke-linecap="butt"/>
<line x1="1639.70" y1="189.50" x2="1785.30" y2="189.50" stroke="#000" stroke-width="2.4" stroke-linecap="butt"/>
<line x1="1639.70" y1="185.50" x2="1639.70" y2="193.50" stroke="#000" stroke-width="1.3" stroke-linecap="butt"/>
<line x1="1785.30" y1="185.50" x2="1785.30" y2="193.50" stroke="#000" stroke-width="1.3" stroke-linecap="butt"/>
<line x1="1882.50" y1="189.50" x2="2028.50" y2="189.50" stroke="#000" stroke-width="2.4" stroke-linecap="butt"/>
<line x1="1882.50" y1="185.50" x2="1882.50" y2="193.50" stroke="#000" stroke-width="1.3" stroke-linecap="butt"/>
<line x1="2028.50" y1="185.50" x2="2028.50" y2="193.50" stroke="#000" stroke-width="1.3" stroke-linecap="butt"/>
<text x="1689.00" y="177.10" font-size="27.8" font-weight="normal" fill="#222" text-anchor="start">31</text>
<text x="1939.50" y="181.00" font-size="27.8" font-weight="normal" fill="#222" text-anchor="start">39.3</text>
<path d="M1541.9,557.8 L1544.4,643.5 L1541.9,643.5 Z" fill="#999" stroke="#000" stroke-width="1.2"/>
<path d="M1544.4,643.5 L1544.4,643.5 L1568.9,641.9 L1581.6,639.7 L1591.1,637.1 L1597.5,632.4 L1607.0,624.4 L1613.3,614.9 L1617.1,602.2 L1621.3,602.2 L1624.4,586.3 L1626.7,583.2 L1629.2,587.9 L1634.0,573.7 L1637.1,561.0 L1638.7,522.9 L1641.9,510.2 L1643.5,481.6 L1645.1,465.7 L1648.3,443.5 L1649.8,430.8 L1652.4,419.7 L1654.6,427.6 L1657.8,459.4 L1661.0,491.1 L1662.5,522.9 L1665.7,570.5 L1667.3,599.0 L1670.5,621.3 L1673.7,634.0 L1678.4,641.9 L1686.3,643.5 L1686.3,643.5 Z" fill="#999" stroke="#000" stroke-width="1.3" stroke-linejoin="round"/>
<path d="M1785.4,634.0 L1787.3,643.5 L1785.4,643.5 Z" fill="#999" stroke="#000" stroke-width="1.2"/>
<path d="M1787.9,643.5 L1787.9,643.5 L1829.2,643.5 L1838.7,641.9 L1848.3,638.7 L1854.6,630.8 L1861.0,618.1 L1864.1,608.6 L1867.3,576.8 L1870.5,551.4 L1873.7,526.0 L1876.8,513.3 L1880.0,481.6 L1883.2,462.5 L1887.9,441.9 L1891.1,459.4 L1894.3,475.2 L1897.5,513.3 L1900.6,545.1 L1903.8,564.1 L1907.0,583.2 L1910.2,595.9 L1913.3,611.7 L1918.1,630.8 L1922.9,640.3 L1927.6,643.5 L1927.6,643.5 Z" fill="#999" stroke="#000" stroke-width="1.3" stroke-linejoin="round"/>
<line x1="1538.90" y1="643.50" x2="2028.50" y2="643.50" stroke="#000" stroke-width="1.4" stroke-linecap="butt"/>
<line x1="1785.30" y1="401.60" x2="1785.30" y2="643.50" stroke="#000" stroke-width="1.4" stroke-linecap="butt"/>
<line x1="2028.50" y1="401.60" x2="2028.50" y2="643.50" stroke="#000" stroke-width="1.3" stroke-linecap="butt"/>
<line x1="1541.90" y1="401.60" x2="1541.90" y2="643.50" stroke="#000" stroke-width="1.3" stroke-linecap="butt"/>
<line x1="1535.40" y1="643.50" x2="1541.90" y2="643.50" stroke="#000" stroke-width="2.0" stroke-linecap="butt"/>
<line x1="1537.90" y1="631.90" x2="1541.90" y2="631.90" stroke="#000" stroke-width="1.2" stroke-linecap="butt"/>
<line x1="1537.90" y1="620.31" x2="1541.90" y2="620.31" stroke="#000" stroke-width="1.2" stroke-linecap="butt"/>
<line x1="1537.90" y1="608.72" x2="1541.90" y2="608.72" stroke="#000" stroke-width="1.2" stroke-linecap="butt"/>
<line x1="1535.40" y1="597.12" x2="1541.90" y2="597.12" stroke="#000" stroke-width="2.0" stroke-linecap="butt"/>
<line x1="1537.90" y1="585.52" x2="1541.90" y2="585.52" stroke="#000" stroke-width="1.2" stroke-linecap="butt"/>
<line x1="1537.90" y1="573.93" x2="1541.90" y2="573.93" stroke="#000" stroke-width="1.2" stroke-linecap="butt"/>
<line x1="1537.90" y1="562.34" x2="1541.90" y2="562.34" stroke="#000" stroke-width="1.2" stroke-linecap="butt"/>
<line x1="1535.40" y1="550.74" x2="1541.90" y2="550.74" stroke="#000" stroke-width="2.0" stroke-linecap="butt"/>
<line x1="1537.90" y1="539.14" x2="1541.90" y2="539.14" stroke="#000" stroke-width="1.2" stroke-linecap="butt"/>
<line x1="1537.90" y1="527.55" x2="1541.90" y2="527.55" stroke="#000" stroke-width="1.2" stroke-linecap="butt"/>
<line x1="1537.90" y1="515.96" x2="1541.90" y2="515.96" stroke="#000" stroke-width="1.2" stroke-linecap="butt"/>
<line x1="1535.40" y1="504.36" x2="1541.90" y2="504.36" stroke="#000" stroke-width="2.0" stroke-linecap="butt"/>
<line x1="1537.90" y1="492.76" x2="1541.90" y2="492.76" stroke="#000" stroke-width="1.2" stroke-linecap="butt"/>
<line x1="1537.90" y1="481.17" x2="1541.90" y2="481.17" stroke="#000" stroke-width="1.2" stroke-linecap="butt"/>
<line x1="1537.90" y1="469.58" x2="1541.90" y2="469.58" stroke="#000" stroke-width="1.2" stroke-linecap="butt"/>
<line x1="1535.40" y1="457.98" x2="1541.90" y2="457.98" stroke="#000" stroke-width="2.0" stroke-linecap="butt"/>
<line x1="1537.90" y1="446.38" x2="1541.90" y2="446.38" stroke="#000" stroke-width="1.2" stroke-linecap="butt"/>
<line x1="1537.90" y1="434.79" x2="1541.90" y2="434.79" stroke="#000" stroke-width="1.2" stroke-linecap="butt"/>
<line x1="1537.90" y1="423.20" x2="1541.90" y2="423.20" stroke="#000" stroke-width="1.2" stroke-linecap="butt"/>
<line x1="1535.40" y1="411.60" x2="1541.90" y2="411.60" stroke="#000" stroke-width="2.0" stroke-linecap="butt"/>
<line x1="1541.90" y1="643.50" x2="1541.90" y2="649.50" stroke="#000" stroke-width="1.8" stroke-linecap="butt"/>
<line x1="1555.31" y1="643.50" x2="1555.31" y2="647.00" stroke="#000" stroke-width="1.1" stroke-linecap="butt"/>
<line x1="1563.36" y1="643.50" x2="1563.36" y2="647.00" stroke="#000" stroke-width="1.1" stroke-linecap="butt"/>
<line x1="1568.72" y1="643.50" x2="1568.72" y2="647.00" stroke="#000" stroke-width="1.1" stroke-linecap="butt"/>
<line x1="1573.19" y1="643.50" x2="1573.19" y2="647.00" stroke="#000" stroke-width="1.1" stroke-linecap="butt"/>
<line x1="1576.77" y1="643.50" x2="1576.77" y2="647.00" stroke="#000" stroke-width="1.1" stroke-linecap="butt"/>
<line x1="1579.90" y1="643.50" x2="1579.90" y2="647.00" stroke="#000" stroke-width="1.1" stroke-linecap="butt"/>
<line x1="1582.13" y1="643.50" x2="1582.13" y2="647.00" stroke="#000" stroke-width="1.1" stroke-linecap="butt"/>
<line x1="1584.37" y1="643.50" x2="1584.37" y2="647.00" stroke="#000" stroke-width="1.1" stroke-linecap="butt"/>
<line x1="1586.60" y1="643.50" x2="1586.60" y2="649.50" stroke="#000" stroke-width="1.8" stroke-linecap="butt"/>
<line x1="1600.01" y1="643.50" x2="1600.01" y2="647.00" stroke="#000" stroke-width="1.1" stroke-linecap="butt"/>
<line x1="1608.06" y1="643.50" x2="1608.06" y2="647.00" stroke="#000" stroke-width="1.1" stroke-linecap="butt"/>
<line x1="1613.42" y1="643.50" x2="1613.42" y2="647.00" stroke="#000" stroke-width="1.1" stroke-linecap="butt"/>
<line x1="1617.89" y1="643.50" x2="1617.89" y2="647.00" stroke="#000" stroke-width="1.1" stroke-linecap="butt"/>
<line x1="1621.47" y1="643.50" x2="1621.47" y2="647.00" stroke="#000" stroke-width="1.1" stroke-linecap="butt"/>
<line x1="1624.60" y1="643.50" x2="1624.60" y2="647.00" stroke="#000" stroke-width="1.1" stroke-linecap="butt"/>
<line x1="1626.83" y1="643.50" x2="1626.83" y2="647.00" stroke="#000" stroke-width="1.1" stroke-linecap="butt"/>
<line x1="1629.07" y1="643.50" x2="1629.07" y2="647.00" stroke="#000" stroke-width="1.1" stroke-linecap="butt"/>
<line x1="1631.30" y1="643.50" x2="1631.30" y2="649.50" stroke="#000" stroke-width="1.8" stroke-linecap="butt"/>
<line x1="1644.71" y1="643.50" x2="1644.71" y2="647.00" stroke="#000" stroke-width="1.1" stroke-linecap="butt"/>
<line x1="1652.76" y1="643.50" x2="1652.76" y2="647.00" stroke="#000" stroke-width="1.1" stroke-linecap="butt"/>
<line x1="1658.12" y1="643.50" x2="1658.12" y2="647.00" stroke="#000" stroke-width="1.1" stroke-linecap="butt"/>
<line x1="1662.59" y1="643.50" x2="1662.59" y2="647.00" stroke="#000" stroke-width="1.1" stroke-linecap="butt"/>
<line x1="1666.17" y1="643.50" x2="1666.17" y2="647.00" stroke="#000" stroke-width="1.1" stroke-linecap="butt"/>
<line x1="1669.30" y1="643.50" x2="1669.30" y2="647.00" stroke="#000" stroke-width="1.1" stroke-linecap="butt"/>
<line x1="1671.53" y1="643.50" x2="1671.53" y2="647.00" stroke="#000" stroke-width="1.1" stroke-linecap="butt"/>
<line x1="1673.77" y1="643.50" x2="1673.77" y2="647.00" stroke="#000" stroke-width="1.1" stroke-linecap="butt"/>
<line x1="1676.00" y1="643.50" x2="1676.00" y2="649.50" stroke="#000" stroke-width="1.8" stroke-linecap="butt"/>
<line x1="1689.41" y1="643.50" x2="1689.41" y2="647.00" stroke="#000" stroke-width="1.1" stroke-linecap="butt"/>
<line x1="1697.46" y1="643.50" x2="1697.46" y2="647.00" stroke="#000" stroke-width="1.1" stroke-linecap="butt"/>
<line x1="1702.82" y1="643.50" x2="1702.82" y2="647.00" stroke="#000" stroke-width="1.1" stroke-linecap="butt"/>
<line x1="1707.29" y1="643.50" x2="1707.29" y2="647.00" stroke="#000" stroke-width="1.1" stroke-linecap="butt"/>
<line x1="1710.87" y1="643.50" x2="1710.87" y2="647.00" stroke="#000" stroke-width="1.1" stroke-linecap="butt"/>
<line x1="1714.00" y1="643.50" x2="1714.00" y2="647.00" stroke="#000" stroke-width="1.1" stroke-linecap="butt"/>
<line x1="1716.23" y1="643.50" x2="1716.23" y2="647.00" stroke="#000" stroke-width="1.1" stroke-linecap="butt"/>
<line x1="1718.47" y1="643.50" x2="1718.47" y2="647.00" stroke="#000" stroke-width="1.1" stroke-linecap="butt"/>
<line x1="1720.70" y1="643.50" x2="1720.70" y2="649.50" stroke="#000" stroke-width="1.8" stroke-linecap="butt"/>
<line x1="1734.11" y1="643.50" x2="1734.11" y2="647.00" stroke="#000" stroke-width="1.1" stroke-linecap="butt"/>
<line x1="1742.16" y1="643.50" x2="1742.16" y2="647.00" stroke="#000" stroke-width="1.1" stroke-linecap="butt"/>
<line x1="1747.52" y1="643.50" x2="1747.52" y2="647.00" stroke="#000" stroke-width="1.1" stroke-linecap="butt"/>
<line x1="1751.99" y1="643.50" x2="1751.99" y2="647.00" stroke="#000" stroke-width="1.1" stroke-linecap="butt"/>
<line x1="1755.57" y1="643.50" x2="1755.57" y2="647.00" stroke="#000" stroke-width="1.1" stroke-linecap="butt"/>
<line x1="1758.70" y1="643.50" x2="1758.70" y2="647.00" stroke="#000" stroke-width="1.1" stroke-linecap="butt"/>
<line x1="1760.93" y1="643.50" x2="1760.93" y2="647.00" stroke="#000" stroke-width="1.1" stroke-linecap="butt"/>
<line x1="1763.17" y1="643.50" x2="1763.17" y2="647.00" stroke="#000" stroke-width="1.1" stroke-linecap="butt"/>
<line x1="1765.40" y1="643.50" x2="1765.40" y2="649.50" stroke="#000" stroke-width="1.8" stroke-linecap="butt"/>
<line x1="1778.81" y1="643.50" x2="1778.81" y2="647.00" stroke="#000" stroke-width="1.1" stroke-linecap="butt"/>
<line x1="1828.70" y1="643.50" x2="1828.70" y2="649.50" stroke="#000" stroke-width="1.8" stroke-linecap="butt"/>
<line x1="1842.11" y1="643.50" x2="1842.11" y2="647.00" stroke="#000" stroke-width="1.1" stroke-linecap="butt"/>
<line x1="1850.16" y1="643.50" x2="1850.16" y2="647.00" stroke="#000" stroke-width="1.1" stroke-linecap="butt"/>
<line x1="1855.52" y1="643.50" x2="1855.52" y2="647.00" stroke="#000" stroke-width="1.1" stroke-linecap="butt"/>
<line x1="1859.99" y1="643.50" x2="1859.99" y2="647.00" stroke="#000" stroke-width="1.1" stroke-linecap="butt"/>
<line x1="1863.57" y1="643.50" x2="1863.57" y2="647.00" stroke="#000" stroke-width="1.1" stroke-linecap="butt"/>
<line x1="1866.70" y1="643.50" x2="1866.70" y2="647.00" stroke="#000" stroke-width="1.1" stroke-linecap="butt"/>
<line x1="1868.93" y1="643.50" x2="1868.93" y2="647.00" stroke="#000" stroke-width="1.1" stroke-linecap="butt"/>
<line x1="1871.17" y1="643.50" x2="1871.17" y2="647.00" stroke="#000" stroke-width="1.1" stroke-linecap="butt"/>
<line x1="1873.40" y1="643.50" x2="1873.40" y2="649.50" stroke="#000" stroke-width="1.8" stroke-linecap="butt"/>
<line x1="1886.81" y1="643.50" x2="1886.81" y2="647.00" stroke="#000" stroke-width="1.1" stroke-linecap="butt"/>
<line x1="1894.86" y1="643.50" x2="1894.86" y2="647.00" stroke="#000" stroke-width="1.1" stroke-linecap="butt"/>
<line x1="1900.22" y1="643.50" x2="1900.22" y2="647.00" stroke="#000" stroke-width="1.1" stroke-linecap="butt"/>
<line x1="1904.69" y1="643.50" x2="1904.69" y2="647.00" stroke="#000" stroke-width="1.1" stroke-linecap="butt"/>
<line x1="1908.27" y1="643.50" x2="1908.27" y2="647.00" stroke="#000" stroke-width="1.1" stroke-linecap="butt"/>
<line x1="1911.40" y1="643.50" x2="1911.40" y2="647.00" stroke="#000" stroke-width="1.1" stroke-linecap="butt"/>
<line x1="1913.63" y1="643.50" x2="1913.63" y2="647.00" stroke="#000" stroke-width="1.1" stroke-linecap="butt"/>
<line x1="1915.87" y1="643.50" x2="1915.87" y2="647.00" stroke="#000" stroke-width="1.1" stroke-linecap="butt"/>
<line x1="1918.10" y1="643.50" x2="1918.10" y2="649.50" stroke="#000" stroke-width="1.8" stroke-linecap="butt"/>
<line x1="1931.51" y1="643.50" x2="1931.51" y2="647.00" stroke="#000" stroke-width="1.1" stroke-linecap="butt"/>
<line x1="1939.56" y1="643.50" x2="1939.56" y2="647.00" stroke="#000" stroke-width="1.1" stroke-linecap="butt"/>
<line x1="1944.92" y1="643.50" x2="1944.92" y2="647.00" stroke="#000" stroke-width="1.1" stroke-linecap="butt"/>
<line x1="1949.39" y1="643.50" x2="1949.39" y2="647.00" stroke="#000" stroke-width="1.1" stroke-linecap="butt"/>
<line x1="1952.97" y1="643.50" x2="1952.97" y2="647.00" stroke="#000" stroke-width="1.1" stroke-linecap="butt"/>
<line x1="1956.10" y1="643.50" x2="1956.10" y2="647.00" stroke="#000" stroke-width="1.1" stroke-linecap="butt"/>
<line x1="1958.33" y1="643.50" x2="1958.33" y2="647.00" stroke="#000" stroke-width="1.1" stroke-linecap="butt"/>
<line x1="1960.57" y1="643.50" x2="1960.57" y2="647.00" stroke="#000" stroke-width="1.1" stroke-linecap="butt"/>
<line x1="1962.80" y1="643.50" x2="1962.80" y2="649.50" stroke="#000" stroke-width="1.8" stroke-linecap="butt"/>
<line x1="1976.21" y1="643.50" x2="1976.21" y2="647.00" stroke="#000" stroke-width="1.1" stroke-linecap="butt"/>
<line x1="1984.26" y1="643.50" x2="1984.26" y2="647.00" stroke="#000" stroke-width="1.1" stroke-linecap="butt"/>
<line x1="1989.62" y1="643.50" x2="1989.62" y2="647.00" stroke="#000" stroke-width="1.1" stroke-linecap="butt"/>
<line x1="1994.09" y1="643.50" x2="1994.09" y2="647.00" stroke="#000" stroke-width="1.1" stroke-linecap="butt"/>
<line x1="1997.67" y1="643.50" x2="1997.67" y2="647.00" stroke="#000" stroke-width="1.1" stroke-linecap="butt"/>
<line x1="2000.80" y1="643.50" x2="2000.80" y2="647.00" stroke="#000" stroke-width="1.1" stroke-linecap="butt"/>
<line x1="2003.03" y1="643.50" x2="2003.03" y2="647.00" stroke="#000" stroke-width="1.1" stroke-linecap="butt"/>
<line x1="2005.27" y1="643.50" x2="2005.27" y2="647.00" stroke="#000" stroke-width="1.1" stroke-linecap="butt"/>
<line x1="2007.50" y1="643.50" x2="2007.50" y2="649.50" stroke="#000" stroke-width="1.8" stroke-linecap="butt"/>
<line x1="2020.91" y1="643.50" x2="2020.91" y2="647.00" stroke="#000" stroke-width="1.1" stroke-linecap="butt"/>
<line x1="1639.70" y1="449.80" x2="1785.30" y2="449.80" stroke="#000" stroke-width="2.4" stroke-linecap="butt"/>
<line x1="1639.70" y1="445.80" x2="1639.70" y2="453.80" stroke="#000" stroke-width="1.3" stroke-linecap="butt"/>
<line x1="1785.30" y1="445.80" x2="1785.30" y2="453.80" stroke="#000" stroke-width="1.3" stroke-linecap="butt"/>
<line x1="1882.50" y1="449.80" x2="2028.50" y2="449.80" stroke="#000" stroke-width="2.4" stroke-linecap="butt"/>
<line x1="1882.50" y1="445.80" x2="1882.50" y2="453.80" stroke="#000" stroke-width="1.3" stroke-linecap="butt"/>
<line x1="2028.50" y1="445.80" x2="2028.50" y2="453.80" stroke="#000" stroke-width="1.3" stroke-linecap="butt"/>
<text x="1697.00" y="436.50" font-size="27.8" font-weight="normal" fill="#222" text-anchor="start">65.5</text>
<text x="1939.50" y="439.70" font-size="27.8" font-weight="normal" fill="#222" text-anchor="start">62</text>
<path d="M1541.9,881.3 L1545.1,907.6 L1541.9,907.6 Z" fill="#999" stroke="#000" stroke-width="1.2"/>
<path d="M1545.1,907.6 L1545.1,907.6 L1565.7,907.6 L1581.6,903.5 L1587.9,900.3 L1594.3,897.1 L1602.2,895.6 L1607.0,889.2 L1610.2,881.3 L1613.3,874.9 L1616.5,855.9 L1619.7,830.5 L1622.9,792.4 L1624.4,767.0 L1626.7,765.4 L1629.2,774.9 L1632.4,762.2 L1635.6,744.8 L1638.7,708.3 L1641.9,717.8 L1645.1,708.3 L1648.3,716.2 L1653.0,751.1 L1656.2,763.8 L1659.4,798.7 L1662.5,824.1 L1665.7,843.2 L1670.5,868.6 L1675.2,887.6 L1680.0,900.3 L1686.3,907.6 L1686.3,907.6 Z" fill="#999" stroke="#000" stroke-width="1.3" stroke-linejoin="round"/>
<path d="M1786.3,881.3 L1788.6,907.6 L1786.3,907.6 Z" fill="#999" stroke="#000" stroke-width="1.2"/>
<path d="M1788.6,907.6 L1788.6,907.6 L1810.2,907.6 L1822.9,901.0 L1832.4,900.3 L1841.9,889.2 L1848.3,881.3 L1853.0,859.0 L1857.8,836.8 L1861.0,824.1 L1864.1,798.7 L1867.3,770.2 L1873.7,774.9 L1878.4,752.7 L1881.6,767.0 L1884.8,770.2 L1887.0,747.9 L1891.1,735.2 L1894.9,711.4 L1897.5,722.5 L1899.7,747.9 L1902.9,747.9 L1906.0,751.1 L1908.6,782.9 L1911.7,817.8 L1914.9,846.3 L1919.7,871.7 L1924.4,894.0 L1929.2,905.1 L1937.1,907.6 L1937.1,907.6 Z" fill="#999" stroke="#000" stroke-width="1.3" stroke-linejoin="round"/>
<line x1="1538.90" y1="665.40" x2="2028.50" y2="665.40" stroke="#000" stroke-width="1.3" stroke-linecap="butt"/>
<line x1="1538.90" y1="907.60" x2="2028.50" y2="907.60" stroke="#000" stroke-width="1.4" stroke-linecap="butt"/>
<line x1="1785.30" y1="665.40" x2="1785.30" y2="907.60" stroke="#000" stroke-width="1.4" stroke-linecap="butt"/>
<line x1="2028.50" y1="665.40" x2="2028.50" y2="907.60" stroke="#000" stroke-width="1.3" stroke-linecap="butt"/>
<line x1="1541.90" y1="665.40" x2="1541.90" y2="907.60" stroke="#000" stroke-width="1.3" stroke-linecap="butt"/>
<line x1="1535.40" y1="907.60" x2="1541.90" y2="907.60" stroke="#000" stroke-width="2.0" stroke-linecap="butt"/>
<line x1="1537.90" y1="895.99" x2="1541.90" y2="895.99" stroke="#000" stroke-width="1.2" stroke-linecap="butt"/>
<line x1="1537.90" y1="884.38" x2="1541.90" y2="884.38" stroke="#000" stroke-width="1.2" stroke-linecap="butt"/>
<line x1="1537.90" y1="872.77" x2="1541.90" y2="872.77" stroke="#000" stroke-width="1.2" stroke-linecap="butt"/>
<line x1="1535.40" y1="861.16" x2="1541.90" y2="861.16" stroke="#000" stroke-width="2.0" stroke-linecap="butt"/>
<line x1="1537.90" y1="849.55" x2="1541.90" y2="849.55" stroke="#000" stroke-width="1.2" stroke-linecap="butt"/>
<line x1="1537.90" y1="837.94" x2="1541.90" y2="837.94" stroke="#000" stroke-width="1.2" stroke-linecap="butt"/>
<line x1="1537.90" y1="826.33" x2="1541.90" y2="826.33" stroke="#000" stroke-width="1.2" stroke-linecap="butt"/>
<line x1="1535.40" y1="814.72" x2="1541.90" y2="814.72" stroke="#000" stroke-width="2.0" stroke-linecap="butt"/>
<line x1="1537.90" y1="803.11" x2="1541.90" y2="803.11" stroke="#000" stroke-width="1.2" stroke-linecap="butt"/>
<line x1="1537.90" y1="791.50" x2="1541.90" y2="791.50" stroke="#000" stroke-width="1.2" stroke-linecap="butt"/>
<line x1="1537.90" y1="779.89" x2="1541.90" y2="779.89" stroke="#000" stroke-width="1.2" stroke-linecap="butt"/>
<line x1="1535.40" y1="768.28" x2="1541.90" y2="768.28" stroke="#000" stroke-width="2.0" stroke-linecap="butt"/>
<line x1="1537.90" y1="756.67" x2="1541.90" y2="756.67" stroke="#000" stroke-width="1.2" stroke-linecap="butt"/>
<line x1="1537.90" y1="745.06" x2="1541.90" y2="745.06" stroke="#000" stroke-width="1.2" stroke-linecap="butt"/>
<line x1="1537.90" y1="733.45" x2="1541.90" y2="733.45" stroke="#000" stroke-width="1.2" stroke-linecap="butt"/>
<line x1="1535.40" y1="721.84" x2="1541.90" y2="721.84" stroke="#000" stroke-width="2.0" stroke-linecap="butt"/>
<line x1="1537.90" y1="710.23" x2="1541.90" y2="710.23" stroke="#000" stroke-width="1.2" stroke-linecap="butt"/>
<line x1="1537.90" y1="698.62" x2="1541.90" y2="698.62" stroke="#000" stroke-width="1.2" stroke-linecap="butt"/>
<line x1="1537.90" y1="687.01" x2="1541.90" y2="687.01" stroke="#000" stroke-width="1.2" stroke-linecap="butt"/>
<line x1="1535.40" y1="675.40" x2="1541.90" y2="675.40" stroke="#000" stroke-width="2.0" stroke-linecap="butt"/>
<line x1="1541.90" y1="907.60" x2="1541.90" y2="913.60" stroke="#000" stroke-width="1.8" stroke-linecap="butt"/>
<line x1="1555.31" y1="907.60" x2="1555.31" y2="911.10" stroke="#000" stroke-width="1.1" stroke-linecap="butt"/>
<line x1="1563.36" y1="907.60" x2="1563.36" y2="911.10" stroke="#000" stroke-width="1.1" stroke-linecap="butt"/>
<line x1="1568.72" y1="907.60" x2="1568.72" y2="911.10" stroke="#000" stroke-width="1.1" stroke-linecap="butt"/>
<line x1="1573.19" y1="907.60" x2="1573.19" y2="911.10" stroke="#000" stroke-width="1.1" stroke-linecap="butt"/>
<line x1="1576.77" y1="907.60" x2="1576.77" y2="911.10" stroke="#000" stroke-width="1.1" stroke-linecap="butt"/>
<line x1="1579.90" y1="907.60" x2="1579.90" y2="911.10" stroke="#000" stroke-width="1.1" stroke-linecap="butt"/>
<line x1="1582.13" y1="907.60" x2="1582.13" y2="911.10" stroke="#000" stroke-width="1.1" stroke-linecap="butt"/>
<line x1="1584.37" y1="907.60" x2="1584.37" y2="911.10" stroke="#000" stroke-width="1.1" stroke-linecap="butt"/>
<line x1="1586.60" y1="907.60" x2="1586.60" y2="913.60" stroke="#000" stroke-width="1.8" stroke-linecap="butt"/>
<line x1="1600.01" y1="907.60" x2="1600.01" y2="911.10" stroke="#000" stroke-width="1.1" stroke-linecap="butt"/>
<line x1="1608.06" y1="907.60" x2="1608.06" y2="911.10" stroke="#000" stroke-width="1.1" stroke-linecap="butt"/>
<line x1="1613.42" y1="907.60" x2="1613.42" y2="911.10" stroke="#000" stroke-width="1.1" stroke-linecap="butt"/>
<line x1="1617.89" y1="907.60" x2="1617.89" y2="911.10" stroke="#000" stroke-width="1.1" stroke-linecap="butt"/>
<line x1="1621.47" y1="907.60" x2="1621.47" y2="911.10" stroke="#000" stroke-width="1.1" stroke-linecap="butt"/>
<line x1="1624.60" y1="907.60" x2="1624.60" y2="911.10" stroke="#000" stroke-width="1.1" stroke-linecap="butt"/>
<line x1="1626.83" y1="907.60" x2="1626.83" y2="911.10" stroke="#000" stroke-width="1.1" stroke-linecap="butt"/>
<line x1="1629.07" y1="907.60" x2="1629.07" y2="911.10" stroke="#000" stroke-width="1.1" stroke-linecap="butt"/>
<line x1="1631.30" y1="907.60" x2="1631.30" y2="913.60" stroke="#000" stroke-width="1.8" stroke-linecap="butt"/>
<line x1="1644.71" y1="907.60" x2="1644.71" y2="911.10" stroke="#000" stroke-width="1.1" stroke-linecap="butt"/>
<line x1="1652.76" y1="907.60" x2="1652.76" y2="911.10" stroke="#000" stroke-width="1.1" stroke-linecap="butt"/>
<line x1="1658.12" y1="907.60" x2="1658.12" y2="911.10" stroke="#000" stroke-width="1.1" stroke-linecap="butt"/>
<line x1="1662.59" y1="907.60" x2="1662.59" y2="911.10" stroke="#000" stroke-width="1.1" stroke-linecap="butt"/>
<line x1="1666.17" y1="907.60" x2="1666.17" y2="911.10" stroke="#000" stroke-width="1.1" stroke-linecap="butt"/>
<line x1="1669.30" y1="907.60" x2="1669.30" y2="911.10" stroke="#000" stroke-width="1.1" stroke-linecap="butt"/>
<line x1="1671.53" y1="907.60" x2="1671.53" y2="911.10" stroke="#000" stroke-width="1.1" stroke-linecap="butt"/>
<line x1="1673.77" y1="907.60" x2="1673.77" y2="911.10" stroke="#000" stroke-width="1.1" stroke-linecap="butt"/>
<line x1="1676.00" y1="907.60" x2="1676.00" y2="913.60" stroke="#000" stroke-width="1.8" stroke-linecap="butt"/>
<line x1="1689.41" y1="907.60" x2="1689.41" y2="911.10" stroke="#000" stroke-width="1.1" stroke-linecap="butt"/>
<line x1="1697.46" y1="907.60" x2="1697.46" y2="911.10" stroke="#000" stroke-width="1.1" stroke-linecap="butt"/>
<line x1="1702.82" y1="907.60" x2="1702.82" y2="911.10" stroke="#000" stroke-width="1.1" stroke-linecap="butt"/>
<line x1="1707.29" y1="907.60" x2="1707.29" y2="911.10" stroke="#000" stroke-width="1.1" stroke-linecap="butt"/>
<line x1="1710.87" y1="907.60" x2="1710.87" y2="911.10" stroke="#000" stroke-width="1.1" stroke-linecap="butt"/>
<line x1="1714.00" y1="907.60" x2="1714.00" y2="911.10" stroke="#000" stroke-width="1.1" stroke-linecap="butt"/>
<line x1="1716.23" y1="907.60" x2="1716.23" y2="911.10" stroke="#000" stroke-width="1.1" stroke-linecap="butt"/>
<line x1="1718.47" y1="907.60" x2="1718.47" y2="911.10" stroke="#000" stroke-width="1.1" stroke-linecap="butt"/>
<line x1="1720.70" y1="907.60" x2="1720.70" y2="913.60" stroke="#000" stroke-width="1.8" stroke-linecap="butt"/>
<line x1="1734.11" y1="907.60" x2="1734.11" y2="911.10" stroke="#000" stroke-width="1.1" stroke-linecap="butt"/>
<line x1="1742.16" y1="907.60" x2="1742.16" y2="911.10" stroke="#000" stroke-width="1.1" stroke-linecap="butt"/>
<line x1="1747.52" y1="907.60" x2="1747.52" y2="911.10" stroke="#000" stroke-width="1.1" stroke-linecap="butt"/>
<line x1="1751.99" y1="907.60" x2="1751.99" y2="911.10" stroke="#000" stroke-width="1.1" stroke-linecap="butt"/>
<line x1="1755.57" y1="907.60" x2="1755.57" y2="911.10" stroke="#000" stroke-width="1.1" stroke-linecap="butt"/>
<line x1="1758.70" y1="907.60" x2="1758.70" y2="911.10" stroke="#000" stroke-width="1.1" stroke-linecap="butt"/>
<line x1="1760.93" y1="907.60" x2="1760.93" y2="911.10" stroke="#000" stroke-width="1.1" stroke-linecap="butt"/>
<line x1="1763.17" y1="907.60" x2="1763.17" y2="911.10" stroke="#000" stroke-width="1.1" stroke-linecap="butt"/>
<line x1="1765.40" y1="907.60" x2="1765.40" y2="913.60" stroke="#000" stroke-width="1.8" stroke-linecap="butt"/>
<line x1="1778.81" y1="907.60" x2="1778.81" y2="911.10" stroke="#000" stroke-width="1.1" stroke-linecap="butt"/>
<line x1="1828.70" y1="907.60" x2="1828.70" y2="913.60" stroke="#000" stroke-width="1.8" stroke-linecap="butt"/>
<line x1="1842.11" y1="907.60" x2="1842.11" y2="911.10" stroke="#000" stroke-width="1.1" stroke-linecap="butt"/>
<line x1="1850.16" y1="907.60" x2="1850.16" y2="911.10" stroke="#000" stroke-width="1.1" stroke-linecap="butt"/>
<line x1="1855.52" y1="907.60" x2="1855.52" y2="911.10" stroke="#000" stroke-width="1.1" stroke-linecap="butt"/>
<line x1="1859.99" y1="907.60" x2="1859.99" y2="911.10" stroke="#000" stroke-width="1.1" stroke-linecap="butt"/>
<line x1="1863.57" y1="907.60" x2="1863.57" y2="911.10" stroke="#000" stroke-width="1.1" stroke-linecap="butt"/>
<line x1="1866.70" y1="907.60" x2="1866.70" y2="911.10" stroke="#000" stroke-width="1.1" stroke-linecap="butt"/>
<line x1="1868.93" y1="907.60" x2="1868.93" y2="911.10" stroke="#000" stroke-width="1.1" stroke-linecap="butt"/>
<line x1="1871.17" y1="907.60" x2="1871.17" y2="911.10" stroke="#000" stroke-width="1.1" stroke-linecap="butt"/>
<line x1="1873.40" y1="907.60" x2="1873.40" y2="913.60" stroke="#000" stroke-width="1.8" stroke-linecap="butt"/>
<line x1="1886.81" y1="907.60" x2="1886.81" y2="911.10" stroke="#000" stroke-width="1.1" stroke-linecap="butt"/>
<line x1="1894.86" y1="907.60" x2="1894.86" y2="911.10" stroke="#000" stroke-width="1.1" stroke-linecap="butt"/>
<line x1="1900.22" y1="907.60" x2="1900.22" y2="911.10" stroke="#000" stroke-width="1.1" stroke-linecap="butt"/>
<line x1="1904.69" y1="907.60" x2="1904.69" y2="911.10" stroke="#000" stroke-width="1.1" stroke-linecap="butt"/>
<line x1="1908.27" y1="907.60" x2="1908.27" y2="911.10" stroke="#000" stroke-width="1.1" stroke-linecap="butt"/>
<line x1="1911.40" y1="907.60" x2="1911.40" y2="911.10" stroke="#000" stroke-width="1.1" stroke-linecap="butt"/>
<line x1="1913.63" y1="907.60" x2="1913.63" y2="911.10" stroke="#000" stroke-width="1.1" stroke-linecap="butt"/>
<line x1="1915.87" y1="907.60" x2="1915.87" y2="911.10" stroke="#000" stroke-width="1.1" stroke-linecap="butt"/>
<line x1="1918.10" y1="907.60" x2="1918.10" y2="913.60" stroke="#000" stroke-width="1.8" stroke-linecap="butt"/>
<line x1="1931.51" y1="907.60" x2="1931.51" y2="911.10" stroke="#000" stroke-width="1.1" stroke-linecap="butt"/>
<line x1="1939.56" y1="907.60" x2="1939.56" y2="911.10" stroke="#000" stroke-width="1.1" stroke-linecap="butt"/>
<line x1="1944.92" y1="907.60" x2="1944.92" y2="911.10" stroke="#000" stroke-width="1.1" stroke-linecap="butt"/>
<line x1="1949.39" y1="907.60" x2="1949.39" y2="911.10" stroke="#000" stroke-width="1.1" stroke-linecap="butt"/>
<line x1="1952.97" y1="907.60" x2="1952.97" y2="911.10" stroke="#000" stroke-width="1.1" stroke-linecap="butt"/>
<line x1="1956.10" y1="907.60" x2="1956.10" y2="911.10" stroke="#000" stroke-width="1.1" stroke-linecap="butt"/>
<line x1="1958.33" y1="907.60" x2="1958.33" y2="911.10" stroke="#000" stroke-width="1.1" stroke-linecap="butt"/>
<line x1="1960.57" y1="907.60" x2="1960.57" y2="911.10" stroke="#000" stroke-width="1.1" stroke-linecap="butt"/>
<line x1="1962.80" y1="907.60" x2="1962.80" y2="913.60" stroke="#000" stroke-width="1.8" stroke-linecap="butt"/>
<line x1="1976.21" y1="907.60" x2="1976.21" y2="911.10" stroke="#000" stroke-width="1.1" stroke-linecap="butt"/>
<line x1="1984.26" y1="907.60" x2="1984.26" y2="911.10" stroke="#000" stroke-width="1.1" stroke-linecap="butt"/>
<line x1="1989.62" y1="907.60" x2="1989.62" y2="911.10" stroke="#000" stroke-width="1.1" stroke-linecap="butt"/>
<line x1="1994.09" y1="907.60" x2="1994.09" y2="911.10" stroke="#000" stroke-width="1.1" stroke-linecap="butt"/>
<line x1="1997.67" y1="907.60" x2="1997.67" y2="911.10" stroke="#000" stroke-width="1.1" stroke-linecap="butt"/>
<line x1="2000.80" y1="907.60" x2="2000.80" y2="911.10" stroke="#000" stroke-width="1.1" stroke-linecap="butt"/>
<line x1="2003.03" y1="907.60" x2="2003.03" y2="911.10" stroke="#000" stroke-width="1.1" stroke-linecap="butt"/>
<line x1="2005.27" y1="907.60" x2="2005.27" y2="911.10" stroke="#000" stroke-width="1.1" stroke-linecap="butt"/>
<line x1="2007.50" y1="907.60" x2="2007.50" y2="913.60" stroke="#000" stroke-width="1.8" stroke-linecap="butt"/>
<line x1="2020.91" y1="907.60" x2="2020.91" y2="911.10" stroke="#000" stroke-width="1.1" stroke-linecap="butt"/>
<line x1="1639.70" y1="714.00" x2="1785.30" y2="714.00" stroke="#000" stroke-width="1.4" stroke-linecap="butt"/>
<line x1="1639.70" y1="710.00" x2="1639.70" y2="718.00" stroke="#000" stroke-width="1.3" stroke-linecap="butt"/>
<line x1="1785.30" y1="710.00" x2="1785.30" y2="718.00" stroke="#000" stroke-width="1.3" stroke-linecap="butt"/>
<line x1="1882.50" y1="714.00" x2="2028.50" y2="714.00" stroke="#000" stroke-width="1.4" stroke-linecap="butt"/>
<line x1="1882.50" y1="710.00" x2="1882.50" y2="718.00" stroke="#000" stroke-width="1.3" stroke-linecap="butt"/>
<line x1="2028.50" y1="710.00" x2="2028.50" y2="718.00" stroke="#000" stroke-width="1.3" stroke-linecap="butt"/>
<text x="1697.00" y="700.30" font-size="27.8" font-weight="normal" fill="#222" text-anchor="start">52.1</text>
<text x="1939.50" y="703.50" font-size="27.8" font-weight="normal" fill="#222" text-anchor="start">54.2</text>
<path d="M1541.9,1163.5 L1543.5,1170.5 L1541.9,1170.5 Z" fill="#999" stroke="#000" stroke-width="1.2"/>
<path d="M1543.5,1170.5 L1543.5,1170.5 L1584.8,1170.5 L1600.6,1168.3 L1607.0,1163.5 L1616.5,1152.4 L1622.9,1134.9 L1626.0,1115.9 L1630.8,1100.0 L1635.6,1087.3 L1640.3,1065.1 L1643.5,1033.3 L1646.7,1007.9 L1649.8,985.7 L1651.4,966.7 L1654.6,957.1 L1657.1,973.0 L1660.3,982.5 L1662.5,995.2 L1664.8,1027.0 L1667.3,1077.8 L1670.5,1106.3 L1674.3,1141.3 L1678.4,1160.3 L1684.8,1168.3 L1691.1,1170.5 L1691.1,1170.5 Z" fill="#999" stroke="#000" stroke-width="1.3" stroke-linejoin="round"/>
<path d="M1785.4,1154.0 L1787.3,1170.5 L1785.4,1170.5 Z" fill="#999" stroke="#000" stroke-width="1.2"/>
<path d="M1787.3,1170.5 L1787.3,1170.5 L1797.5,1170.5 L1829.2,1168.3 L1838.7,1161.9 L1848.3,1155.6 L1854.6,1144.4 L1861.0,1119.0 L1865.7,1100.0 L1870.5,1084.1 L1873.7,1058.7 L1876.8,1042.9 L1880.0,1049.2 L1883.2,1023.8 L1886.3,992.1 L1892.7,988.9 L1895.9,976.2 L1899.0,958.7 L1902.2,969.8 L1905.4,995.2 L1908.6,1020.6 L1911.7,1058.7 L1914.9,1096.8 L1919.7,1128.6 L1924.4,1150.8 L1930.8,1168.3 L1937.1,1170.5 L1937.1,1170.5 Z" fill="#999" stroke="#000" stroke-width="1.3" stroke-linejoin="round"/>
<line x1="1538.90" y1="927.50" x2="2028.50" y2="927.50" stroke="#000" stroke-width="1.3" stroke-linecap="butt"/>
<line x1="1538.90" y1="1170.50" x2="2028.50" y2="1170.50" stroke="#000" stroke-width="1.4" stroke-linecap="butt"/>
<line x1="1785.30" y1="927.50" x2="1785.30" y2="1170.50" stroke="#000" stroke-width="1.4" stroke-linecap="butt"/>
<line x1="2028.50" y1="927.50" x2="2028.50" y2="1170.50" stroke="#000" stroke-width="1.3" stroke-linecap="butt"/>
<line x1="1541.90" y1="927.50" x2="1541.90" y2="1170.50" stroke="#000" stroke-width="1.3" stroke-linecap="butt"/>
<line x1="1535.40" y1="1170.50" x2="1541.90" y2="1170.50" stroke="#000" stroke-width="2.0" stroke-linecap="butt"/>
<line x1="1537.90" y1="1158.85" x2="1541.90" y2="1158.85" stroke="#000" stroke-width="1.2" stroke-linecap="butt"/>
<line x1="1537.90" y1="1147.20" x2="1541.90" y2="1147.20" stroke="#000" stroke-width="1.2" stroke-linecap="butt"/>
<line x1="1537.90" y1="1135.55" x2="1541.90" y2="1135.55" stroke="#000" stroke-width="1.2" stroke-linecap="butt"/>
<line x1="1535.40" y1="1123.90" x2="1541.90" y2="1123.90" stroke="#000" stroke-width="2.0" stroke-linecap="butt"/>
<line x1="1537.90" y1="1112.25" x2="1541.90" y2="1112.25" stroke="#000" stroke-width="1.2" stroke-linecap="butt"/>
<line x1="1537.90" y1="1100.60" x2="1541.90" y2="1100.60" stroke="#000" stroke-width="1.2" stroke-linecap="butt"/>
<line x1="1537.90" y1="1088.95" x2="1541.90" y2="1088.95" stroke="#000" stroke-width="1.2" stroke-linecap="butt"/>
<line x1="1535.40" y1="1077.30" x2="1541.90" y2="1077.30" stroke="#000" stroke-width="2.0" stroke-linecap="butt"/>
<line x1="1537.90" y1="1065.65" x2="1541.90" y2="1065.65" stroke="#000" stroke-width="1.2" stroke-linecap="butt"/>
<line x1="1537.90" y1="1054.00" x2="1541.90" y2="1054.00" stroke="#000" stroke-width="1.2" stroke-linecap="butt"/>
<line x1="1537.90" y1="1042.35" x2="1541.90" y2="1042.35" stroke="#000" stroke-width="1.2" stroke-linecap="butt"/>
<line x1="1535.40" y1="1030.70" x2="1541.90" y2="1030.70" stroke="#000" stroke-width="2.0" stroke-linecap="butt"/>
<line x1="1537.90" y1="1019.05" x2="1541.90" y2="1019.05" stroke="#000" stroke-width="1.2" stroke-linecap="butt"/>
<line x1="1537.90" y1="1007.40" x2="1541.90" y2="1007.40" stroke="#000" stroke-width="1.2" stroke-linecap="butt"/>
<line x1="1537.90" y1="995.75" x2="1541.90" y2="995.75" stroke="#000" stroke-width="1.2" stroke-linecap="butt"/>
<line x1="1535.40" y1="984.10" x2="1541.90" y2="984.10" stroke="#000" stroke-width="2.0" stroke-linecap="butt"/>
<line x1="1537.90" y1="972.45" x2="1541.90" y2="972.45" stroke="#000" stroke-width="1.2" stroke-linecap="butt"/>
<line x1="1537.90" y1="960.80" x2="1541.90" y2="960.80" stroke="#000" stroke-width="1.2" stroke-linecap="butt"/>
<line x1="1537.90" y1="949.15" x2="1541.90" y2="949.15" stroke="#000" stroke-width="1.2" stroke-linecap="butt"/>
<line x1="1535.40" y1="937.50" x2="1541.90" y2="937.50" stroke="#000" stroke-width="2.0" stroke-linecap="butt"/>
<line x1="1541.90" y1="1170.50" x2="1541.90" y2="1176.50" stroke="#000" stroke-width="1.8" stroke-linecap="butt"/>
<line x1="1555.31" y1="1170.50" x2="1555.31" y2="1174.00" stroke="#000" stroke-width="1.1" stroke-linecap="butt"/>
<line x1="1563.36" y1="1170.50" x2="1563.36" y2="1174.00" stroke="#000" stroke-width="1.1" stroke-linecap="butt"/>
<line x1="1568.72" y1="1170.50" x2="1568.72" y2="1174.00" stroke="#000" stroke-width="1.1" stroke-linecap="butt"/>
<line x1="1573.19" y1="1170.50" x2="1573.19" y2="1174.00" stroke="#000" stroke-width="1.1" stroke-linecap="butt"/>
<line x1="1576.77" y1="1170.50" x2="1576.77" y2="1174.00" stroke="#000" stroke-width="1.1" stroke-linecap="butt"/>
<line x1="1579.90" y1="1170.50" x2="1579.90" y2="1174.00" stroke="#000" stroke-width="1.1" stroke-linecap="butt"/>
<line x1="1582.13" y1="1170.50" x2="1582.13" y2="1174.00" stroke="#000" stroke-width="1.1" stroke-linecap="butt"/>
<line x1="1584.37" y1="1170.50" x2="1584.37" y2="1174.00" stroke="#000" stroke-width="1.1" stroke-linecap="butt"/>
<line x1="1586.60" y1="1170.50" x2="1586.60" y2="1176.50" stroke="#000" stroke-width="1.8" stroke-linecap="butt"/>
<line x1="1600.01" y1="1170.50" x2="1600.01" y2="1174.00" stroke="#000" stroke-width="1.1" stroke-linecap="butt"/>
<line x1="1608.06" y1="1170.50" x2="1608.06" y2="1174.00" stroke="#000" stroke-width="1.1" stroke-linecap="butt"/>
<line x1="1613.42" y1="1170.50" x2="1613.42" y2="1174.00" stroke="#000" stroke-width="1.1" stroke-linecap="butt"/>
<line x1="1617.89" y1="1170.50" x2="1617.89" y2="1174.00" stroke="#000" stroke-width="1.1" stroke-linecap="butt"/>
<line x1="1621.47" y1="1170.50" x2="1621.47" y2="1174.00" stroke="#000" stroke-width="1.1" stroke-linecap="butt"/>
<line x1="1624.60" y1="1170.50" x2="1624.60" y2="1174.00" stroke="#000" stroke-width="1.1" stroke-linecap="butt"/>
<line x1="1626.83" y1="1170.50" x2="1626.83" y2="1174.00" stroke="#000" stroke-width="1.1" stroke-linecap="butt"/>
<line x1="1629.07" y1="1170.50" x2="1629.07" y2="1174.00" stroke="#000" stroke-width="1.1" stroke-linecap="butt"/>
<line x1="1631.30" y1="1170.50" x2="1631.30" y2="1176.50" stroke="#000" stroke-width="1.8" stroke-linecap="butt"/>
<line x1="1644.71" y1="1170.50" x2="1644.71" y2="1174.00" stroke="#000" stroke-width="1.1" stroke-linecap="butt"/>
<line x1="1652.76" y1="1170.50" x2="1652.76" y2="1174.00" stroke="#000" stroke-width="1.1" stroke-linecap="butt"/>
<line x1="1658.12" y1="1170.50" x2="1658.12" y2="1174.00" stroke="#000" stroke-width="1.1" stroke-linecap="butt"/>
<line x1="1662.59" y1="1170.50" x2="1662.59" y2="1174.00" stroke="#000" stroke-width="1.1" stroke-linecap="butt"/>
<line x1="1666.17" y1="1170.50" x2="1666.17" y2="1174.00" stroke="#000" stroke-width="1.1" stroke-linecap="butt"/>
<line x1="1669.30" y1="1170.50" x2="1669.30" y2="1174.00" stroke="#000" stroke-width="1.1" stroke-linecap="butt"/>
<line x1="1671.53" y1="1170.50" x2="1671.53" y2="1174.00" stroke="#000" stroke-width="1.1" stroke-linecap="butt"/>
<line x1="1673.77" y1="1170.50" x2="1673.77" y2="1174.00" stroke="#000" stroke-width="1.1" stroke-linecap="butt"/>
<line x1="1676.00" y1="1170.50" x2="1676.00" y2="1176.50" stroke="#000" stroke-width="1.8" stroke-linecap="butt"/>
<line x1="1689.41" y1="1170.50" x2="1689.41" y2="1174.00" stroke="#000" stroke-width="1.1" stroke-linecap="butt"/>
<line x1="1697.46" y1="1170.50" x2="1697.46" y2="1174.00" stroke="#000" stroke-width="1.1" stroke-linecap="butt"/>
<line x1="1702.82" y1="1170.50" x2="1702.82" y2="1174.00" stroke="#000" stroke-width="1.1" stroke-linecap="butt"/>
<line x1="1707.29" y1="1170.50" x2="1707.29" y2="1174.00" stroke="#000" stroke-width="1.1" stroke-linecap="butt"/>
<line x1="1710.87" y1="1170.50" x2="1710.87" y2="1174.00" stroke="#000" stroke-width="1.1" stroke-linecap="butt"/>
<line x1="1714.00" y1="1170.50" x2="1714.00" y2="1174.00" stroke="#000" stroke-width="1.1" stroke-linecap="butt"/>
<line x1="1716.23" y1="1170.50" x2="1716.23" y2="1174.00" stroke="#000" stroke-width="1.1" stroke-linecap="butt"/>
<line x1="1718.47" y1="1170.50" x2="1718.47" y2="1174.00" stroke="#000" stroke-width="1.1" stroke-linecap="butt"/>
<line x1="1720.70" y1="1170.50" x2="1720.70" y2="1176.50" stroke="#000" stroke-width="1.8" stroke-linecap="butt"/>
<line x1="1734.11" y1="1170.50" x2="1734.11" y2="1174.00" stroke="#000" stroke-width="1.1" stroke-linecap="butt"/>
<line x1="1742.16" y1="1170.50" x2="1742.16" y2="1174.00" stroke="#000" stroke-width="1.1" stroke-linecap="butt"/>
<line x1="1747.52" y1="1170.50" x2="1747.52" y2="1174.00" stroke="#000" stroke-width="1.1" stroke-linecap="butt"/>
<line x1="1751.99" y1="1170.50" x2="1751.99" y2="1174.00" stroke="#000" stroke-width="1.1" stroke-linecap="butt"/>
<line x1="1755.57" y1="1170.50" x2="1755.57" y2="1174.00" stroke="#000" stroke-width="1.1" stroke-linecap="butt"/>
<line x1="1758.70" y1="1170.50" x2="1758.70" y2="1174.00" stroke="#000" stroke-width="1.1" stroke-linecap="butt"/>
<line x1="1760.93" y1="1170.50" x2="1760.93" y2="1174.00" stroke="#000" stroke-width="1.1" stroke-linecap="butt"/>
<line x1="1763.17" y1="1170.50" x2="1763.17" y2="1174.00" stroke="#000" stroke-width="1.1" stroke-linecap="butt"/>
<line x1="1765.40" y1="1170.50" x2="1765.40" y2="1176.50" stroke="#000" stroke-width="1.8" stroke-linecap="butt"/>
<line x1="1778.81" y1="1170.50" x2="1778.81" y2="1174.00" stroke="#000" stroke-width="1.1" stroke-linecap="butt"/>
<line x1="1828.70" y1="1170.50" x2="1828.70" y2="1176.50" stroke="#000" stroke-width="1.8" stroke-linecap="butt"/>
<line x1="1842.11" y1="1170.50" x2="1842.11" y2="1174.00" stroke="#000" stroke-width="1.1" stroke-linecap="butt"/>
<line x1="1850.16" y1="1170.50" x2="1850.16" y2="1174.00" stroke="#000" stroke-width="1.1" stroke-linecap="butt"/>
<line x1="1855.52" y1="1170.50" x2="1855.52" y2="1174.00" stroke="#000" stroke-width="1.1" stroke-linecap="butt"/>
<line x1="1859.99" y1="1170.50" x2="1859.99" y2="1174.00" stroke="#000" stroke-width="1.1" stroke-linecap="butt"/>
<line x1="1863.57" y1="1170.50" x2="1863.57" y2="1174.00" stroke="#000" stroke-width="1.1" stroke-linecap="butt"/>
<line x1="1866.70" y1="1170.50" x2="1866.70" y2="1174.00" stroke="#000" stroke-width="1.1" stroke-linecap="butt"/>
<line x1="1868.93" y1="1170.50" x2="1868.93" y2="1174.00" stroke="#000" stroke-width="1.1" stroke-linecap="butt"/>
<line x1="1871.17" y1="1170.50" x2="1871.17" y2="1174.00" stroke="#000" stroke-width="1.1" stroke-linecap="butt"/>
<line x1="1873.40" y1="1170.50" x2="1873.40" y2="1176.50" stroke="#000" stroke-width="1.8" stroke-linecap="butt"/>
<line x1="1886.81" y1="1170.50" x2="1886.81" y2="1174.00" stroke="#000" stroke-width="1.1" stroke-linecap="butt"/>
<line x1="1894.86" y1="1170.50" x2="1894.86" y2="1174.00" stroke="#000" stroke-width="1.1" stroke-linecap="butt"/>
<line x1="1900.22" y1="1170.50" x2="1900.22" y2="1174.00" stroke="#000" stroke-width="1.1" stroke-linecap="butt"/>
<line x1="1904.69" y1="1170.50" x2="1904.69" y2="1174.00" stroke="#000" stroke-width="1.1" stroke-linecap="butt"/>
<line x1="1908.27" y1="1170.50" x2="1908.27" y2="1174.00" stroke="#000" stroke-width="1.1" stroke-linecap="butt"/>
<line x1="1911.40" y1="1170.50" x2="1911.40" y2="1174.00" stroke="#000" stroke-width="1.1" stroke-linecap="butt"/>
<line x1="1913.63" y1="1170.50" x2="1913.63" y2="1174.00" stroke="#000" stroke-width="1.1" stroke-linecap="butt"/>
<line x1="1915.87" y1="1170.50" x2="1915.87" y2="1174.00" stroke="#000" stroke-width="1.1" stroke-linecap="butt"/>
<line x1="1918.10" y1="1170.50" x2="1918.10" y2="1176.50" stroke="#000" stroke-width="1.8" stroke-linecap="butt"/>
<line x1="1931.51" y1="1170.50" x2="1931.51" y2="1174.00" stroke="#000" stroke-width="1.1" stroke-linecap="butt"/>
<line x1="1939.56" y1="1170.50" x2="1939.56" y2="1174.00" stroke="#000" stroke-width="1.1" stroke-linecap="butt"/>
<line x1="1944.92" y1="1170.50" x2="1944.92" y2="1174.00" stroke="#000" stroke-width="1.1" stroke-linecap="butt"/>
<line x1="1949.39" y1="1170.50" x2="1949.39" y2="1174.00" stroke="#000" stroke-width="1.1" stroke-linecap="butt"/>
<line x1="1952.97" y1="1170.50" x2="1952.97" y2="1174.00" stroke="#000" stroke-width="1.1" stroke-linecap="butt"/>
<line x1="1956.10" y1="1170.50" x2="1956.10" y2="1174.00" stroke="#000" stroke-width="1.1" stroke-linecap="butt"/>
<line x1="1958.33" y1="1170.50" x2="1958.33" y2="1174.00" stroke="#000" stroke-width="1.1" stroke-linecap="butt"/>
<line x1="1960.57" y1="1170.50" x2="1960.57" y2="1174.00" stroke="#000" stroke-width="1.1" stroke-linecap="butt"/>
<line x1="1962.80" y1="1170.50" x2="1962.80" y2="1176.50" stroke="#000" stroke-width="1.8" stroke-linecap="butt"/>
<line x1="1976.21" y1="1170.50" x2="1976.21" y2="1174.00" stroke="#000" stroke-width="1.1" stroke-linecap="butt"/>
<line x1="1984.26" y1="1170.50" x2="1984.26" y2="1174.00" stroke="#000" stroke-width="1.1" stroke-linecap="butt"/>
<line x1="1989.62" y1="1170.50" x2="1989.62" y2="1174.00" stroke="#000" stroke-width="1.1" stroke-linecap="butt"/>
<line x1="1994.09" y1="1170.50" x2="1994.09" y2="1174.00" stroke="#000" stroke-width="1.1" stroke-linecap="butt"/>
<line x1="1997.67" y1="1170.50" x2="1997.67" y2="1174.00" stroke="#000" stroke-width="1.1" stroke-linecap="butt"/>
<line x1="2000.80" y1="1170.50" x2="2000.80" y2="1174.00" stroke="#000" stroke-width="1.1" stroke-linecap="butt"/>
<line x1="2003.03" y1="1170.50" x2="2003.03" y2="1174.00" stroke="#000" stroke-width="1.1" stroke-linecap="butt"/>
<line x1="2005.27" y1="1170.50" x2="2005.27" y2="1174.00" stroke="#000" stroke-width="1.1" stroke-linecap="butt"/>
<line x1="2007.50" y1="1170.50" x2="2007.50" y2="1176.50" stroke="#000" stroke-width="1.8" stroke-linecap="butt"/>
<line x1="2020.91" y1="1170.50" x2="2020.91" y2="1174.00" stroke="#000" stroke-width="1.1" stroke-linecap="butt"/>
<line x1="1639.70" y1="976.50" x2="1785.30" y2="976.50" stroke="#000" stroke-width="2.4" stroke-linecap="butt"/>
<line x1="1639.70" y1="972.50" x2="1639.70" y2="980.50" stroke="#000" stroke-width="1.3" stroke-linecap="butt"/>
<line x1="1785.30" y1="972.50" x2="1785.30" y2="980.50" stroke="#000" stroke-width="1.3" stroke-linecap="butt"/>
<line x1="1882.50" y1="976.50" x2="2028.50" y2="976.50" stroke="#000" stroke-width="2.4" stroke-linecap="butt"/>
<line x1="1882.50" y1="972.50" x2="1882.50" y2="980.50" stroke="#000" stroke-width="1.3" stroke-linecap="butt"/>
<line x1="2028.50" y1="972.50" x2="2028.50" y2="980.50" stroke="#000" stroke-width="1.3" stroke-linecap="butt"/>
<text x="1697.00" y="958.40" font-size="27.8" font-weight="normal" fill="#222" text-anchor="start">75.1</text>
<text x="1939.50" y="960.60" font-size="27.8" font-weight="normal" fill="#222" text-anchor="start">68.5</text>
<text x="1063.50" y="43.50" font-size="27.4" font-weight="normal" fill="#222" text-anchor="start">Gated on PD-1<tspan dy="-12.06" font-size="20.82">-</tspan><tspan dy="12.06">​</tspan> CD8<tspan dy="-12.06" font-size="20.82">+</tspan><tspan dy="12.06">​</tspan> CD3<tspan dy="-12.06" font-size="20.82">+</tspan><tspan dy="12.06">​</tspan> TILs</text>
<text x="1608.50" y="43.50" font-size="27.4" font-weight="normal" fill="#222" text-anchor="start">Gated on PD-1<tspan dy="-12.06" font-size="20.82">-</tspan><tspan dy="12.06">​</tspan> CD8<tspan dy="-12.06" font-size="20.82">+</tspan><tspan dy="12.06">​</tspan> CD3<tspan dy="-12.06" font-size="20.82">+</tspan><tspan dy="12.06">​</tspan> TILs</text>
<text x="1045.00" y="112.60" font-size="27.8" font-weight="normal" fill="#222" text-anchor="start">Injected</text>
<text x="1257.50" y="112.60" font-size="27.8" font-weight="normal" fill="#222" text-anchor="start">Contralateral</text>
<text x="1595.50" y="112.60" font-size="27.8" font-weight="normal" fill="#222" text-anchor="start">Injected</text>
<text x="1820.50" y="112.60" font-size="27.8" font-weight="normal" fill="#222" text-anchor="start">Contralateral</text>
<text x="866.00" y="304.70" font-size="31.7" font-weight="normal" fill="#222" text-anchor="start">Control</text>
<text x="873.50" y="555.00" font-size="31.7" font-weight="normal" fill="#222" text-anchor="start">C-REV</text>
<text x="845.50" y="762.70" font-size="31.7" font-weight="normal" fill="#222" text-anchor="start">Metformin</text>
<text x="803.50" y="999.00" font-size="31.7" font-weight="normal" fill="#222" text-anchor="start">Combination</text>
<text x="932.50" y="1209.60" font-size="27.8" font-weight="normal" fill="#222" text-anchor="start">CD44</text>
<text x="1491.50" y="1209.50" font-size="27.8" font-weight="normal" fill="#222" text-anchor="start">CD69</text>
<line x1="1044.40" y1="1205.50" x2="1426.00" y2="1205.50" stroke="#000" stroke-width="5.2" stroke-linecap="round"/>
<path d="M1424,1193.7 L1445.6,1205.5 L1424,1217.4 Z" fill="#000"/>
<line x1="1589.50" y1="1204.80" x2="1966.00" y2="1204.80" stroke="#000" stroke-width="5.2" stroke-linecap="round"/>
<path d="M1962.5,1193.4 L1984,1204.8 L1962.5,1216.6 Z" fill="#000"/>
<path d="M1162.2,1556.9 1155.2,1557.6 1146.2,1557.2 1125.2,1554.1 1116.2,1551.3 1110.2,1547.8 1104.7,1542.7 1099.9,1535.7 1096.8,1528.7 1094.7,1519.7 1094.1,1510.7 1096.4,1488.7 1095.5,1466.7 1097.5,1448.7 1099.6,1443.7 1104.2,1438.4 1111.2,1433.4 1118.2,1430.2 1124.2,1428.8 1130.2,1428.5 1150.6,1431.7 1170.2,1433.3 1174.2,1432.9 1181.2,1430.6 1184.2,1430.7 1187.2,1432.0 1191.2,1435.5 1196.5,1441.7 1198.6,1445.7 1198.8,1448.7 1197.2,1459.7 1198.1,1510.7 1197.5,1517.7 1195.6,1525.7 1190.5,1536.7 1183.2,1545.8 1178.2,1550.0 1173.2,1553.0 1168.2,1555.2 1162.2,1556.9 M1036.2,1455.5 1039.2,1456.0 1042.6,1459.7 1044.5,1464.7 1045.3,1471.7 1044.8,1477.7 1042.9,1483.7 1040.2,1487.3 1038.2,1488.5 1036.2,1488.5 M1093.7,1606.7 1095.1,1602.7 1097.5,1599.7 1102.2,1596.0 1107.2,1593.5 1114.2,1591.0 1121.2,1589.5 1135.2,1588.3 1151.2,1589.9 1163.2,1593.6 1168.2,1596.3 1172.5,1599.7 1174.9,1602.7 1176.3,1606.7 M1155.2,1550.7 1147.2,1550.4 1128.2,1548.2 1122.2,1547.0 1117.2,1545.2 1112.2,1542.3 1107.2,1537.5 1103.4,1531.7 1100.5,1524.7 1099.0,1517.7 1098.6,1510.7 1100.9,1489.7 1099.3,1466.7 1101.4,1450.7 1103.7,1444.7 1107.1,1440.7 1113.2,1436.4 1120.2,1433.5 1130.2,1432.1 1171.2,1435.7 1183.2,1434.4 1186.2,1435.4 1190.2,1438.5 1192.9,1441.7 1194.9,1445.7 1195.4,1449.7 1195.0,1480.7 1191.9,1513.7 1188.9,1525.7 1183.4,1535.7 1179.2,1540.5 1175.2,1543.8 1170.2,1546.9 1165.2,1549.0 1155.2,1550.7 M1036.2,1463.4 1038.2,1463.6 1040.0,1465.7 1041.4,1471.7 1041.0,1475.7 1039.8,1478.7 1038.2,1480.4 1036.2,1480.6 M1100.3,1606.7 1101.4,1603.7 1103.7,1600.7 1111.2,1595.9 1123.2,1592.5 1135.2,1591.5 1147.2,1592.5 1159.2,1596.1 1166.3,1600.7 1168.6,1603.7 1169.7,1606.7 M1160.2,1544.8 1149.2,1545.4 1128.2,1543.3 1121.2,1541.8 1116.2,1539.6 1111.2,1535.7 1107.3,1530.7 1104.8,1525.7 1103.0,1519.7 1102.2,1512.7 1102.4,1505.7 1104.5,1489.7 1102.3,1470.7 1102.9,1459.7 1104.9,1449.7 1107.3,1444.7 1112.2,1440.0 1118.2,1436.9 1124.2,1435.1 1131.2,1434.5 1159.2,1436.1 1172.2,1437.5 1182.2,1436.9 1185.2,1437.7 1188.2,1439.6 1190.9,1442.7 1192.4,1445.7 1193.2,1449.7 1193.9,1466.7 1193.5,1477.7 1191.8,1489.7 1185.5,1520.7 1181.4,1529.7 1175.8,1536.7 1168.2,1542.0 1160.2,1544.8 M1105.4,1606.7 1106.7,1603.7 1108.4,1601.7 1115.2,1597.5 1124.2,1594.9 1135.2,1593.9 1146.2,1595.0 1155.2,1597.7 1161.6,1601.7 1163.3,1603.7 1164.6,1606.7 M1159.2,1540.8 1149.2,1541.3 1128.2,1539.5 1122.2,1538.3 1117.2,1536.1 1113.2,1533.0 1109.7,1528.7 1107.2,1523.7 1105.7,1518.7 1105.0,1512.7 1105.2,1506.7 1107.3,1490.7 1104.6,1471.7 1104.8,1461.7 1106.8,1451.7 1108.7,1446.7 1113.2,1441.8 1119.2,1438.4 1126.2,1436.6 1133.2,1436.1 1158.2,1437.2 1173.2,1439.0 1182.2,1438.8 1187.2,1441.0 1190.6,1445.7 1191.6,1449.7 1192.7,1465.7 1192.1,1478.7 1190.3,1488.7 1181.9,1519.7 1178.1,1527.7 1173.1,1533.7 1166.2,1538.5 1159.2,1540.8 M1109.5,1606.7 1112.0,1602.7 1118.2,1598.8 1126.2,1596.6 1135.2,1595.9 1144.2,1596.7 1152.2,1599.0 1158.0,1602.7 1160.5,1606.7 M1159.2,1536.7 1150.2,1537.4 1129.2,1535.9 1123.2,1534.9 1119.2,1533.3 1115.2,1530.4 1112.2,1526.9 1109.9,1522.7 1108.2,1516.7 1107.7,1510.7 1109.9,1494.7 1110.0,1489.7 1106.8,1472.7 1106.7,1462.7 1108.8,1452.7 1110.7,1447.7 1114.2,1443.4 1120.2,1439.9 1127.2,1438.0 1135.2,1437.6 1157.2,1438.2 1173.2,1440.4 1181.2,1440.4 1184.2,1441.2 1186.2,1442.4 1189.3,1446.7 1190.4,1451.7 1191.6,1469.7 1190.7,1479.7 1188.5,1488.7 1182.2,1502.7 1178.6,1517.7 1175.5,1524.7 1172.2,1529.1 1168.2,1532.7 1164.2,1535.0 1159.2,1536.7 M1113.7,1606.7 1116.2,1603.1 1121.2,1600.2 1128.2,1598.3 1135.2,1597.8 1142.2,1598.4 1149.2,1600.4 1154.2,1603.4 1156.3,1606.7 M1154.2,1533.8 1129.2,1532.6 1123.2,1531.5 1119.2,1529.6 1116.2,1527.2 1113.5,1523.7 1111.7,1519.7 1110.5,1514.7 1110.3,1509.7 1112.5,1495.7 1112.7,1490.7 1108.6,1472.7 1108.5,1462.7 1110.7,1452.7 1112.8,1447.7 1117.2,1443.2 1123.2,1440.3 1133.2,1438.8 1153.2,1439.0 1162.2,1439.7 1174.2,1441.8 1181.2,1442.0 1184.2,1443.0 1186.2,1444.5 1188.5,1448.7 1190.4,1462.7 1190.7,1470.7 1189.6,1479.7 1187.2,1487.7 1184.2,1493.0 1178.1,1498.7 1175.6,1515.7 1173.7,1520.7 1171.3,1524.7 1168.2,1528.1 1164.2,1531.0 1159.2,1533.0 1154.2,1533.8 M1117.6,1606.7 1119.9,1603.7 1123.5,1601.7 1129.2,1600.1 1135.2,1599.7 1141.2,1600.2 1146.5,1601.7 1150.1,1603.7 1152.4,1606.7 M1157.2,1529.9 1150.2,1530.3 1125.2,1528.7 1121.2,1527.2 1118.2,1525.0 1114.2,1519.0 1113.0,1514.7 1112.7,1509.7 1115.2,1495.7 1115.3,1491.7 1110.4,1473.7 1109.9,1463.7 1111.6,1455.7 1114.2,1448.7 1117.6,1444.7 1122.2,1442.0 1127.2,1440.6 1133.2,1439.8 1160.2,1440.3 1174.2,1443.1 1182.2,1443.8 1185.2,1445.7 1187.0,1448.7 1189.1,1459.7 1189.8,1467.7 1189.3,1475.7 1187.3,1483.7 1185.2,1488.0 1182.2,1490.8 1179.2,1491.0 1173.2,1488.4 1171.2,1489.2 1170.2,1490.4 1169.6,1492.7 1169.8,1494.7 1172.1,1501.7 1173.0,1506.7 1172.9,1511.7 1171.8,1516.7 1169.3,1521.7 1166.2,1525.3 1162.2,1528.1 1157.2,1529.9 M1121.7,1606.7 1123.4,1604.7 1127.2,1602.8 1135.2,1601.6 1143.2,1602.9 1146.6,1604.7 1148.3,1606.7 M1157.2,1525.8 1151.2,1526.5 1126.2,1525.2 1120.8,1522.7 1117.1,1517.7 1115.9,1513.7 1115.7,1509.7 1118.4,1496.7 1118.5,1492.7 1117.6,1488.7 1112.3,1474.7 1111.4,1469.7 1111.4,1464.7 1112.8,1457.7 1115.7,1449.7 1118.9,1445.7 1123.2,1443.1 1128.2,1441.6 1134.2,1440.9 1159.2,1441.1 1165.2,1442.1 1174.2,1444.6 1181.2,1445.4 1184.2,1447.2 1185.8,1449.7 1187.9,1458.7 1188.9,1466.7 1188.6,1473.7 1187.0,1480.7 1185.2,1484.6 1182.2,1487.3 1180.2,1487.3 1175.2,1484.6 1173.2,1484.2 1169.6,1485.7 1165.4,1489.7 1164.3,1491.7 1164.2,1493.7 1168.7,1505.7 1169.1,1509.7 1168.7,1513.7 1167.2,1517.7 1164.3,1521.7 1161.2,1524.1 1157.2,1525.8 M1127.5,1606.7 1131.1,1604.7 1135.2,1604.2 1139.2,1604.8 1142.5,1606.7 M1155.2,1521.8 1151.2,1522.1 1140.2,1521.1 1127.2,1521.2 1122.3,1518.7 1119.8,1514.7 1119.2,1508.7 1122.5,1497.7 1122.7,1493.7 1121.7,1490.7 1114.6,1476.7 1113.1,1470.7 1112.9,1465.7 1114.2,1458.7 1117.7,1449.7 1121.2,1445.9 1125.2,1443.7 1130.2,1442.4 1136.2,1441.8 1153.2,1441.6 1161.2,1442.2 1167.2,1443.7 1174.2,1446.4 1181.2,1447.6 1183.2,1449.0 1185.2,1452.7 1187.2,1460.4 1188.0,1466.7 1187.6,1473.7 1186.1,1479.7 1184.2,1482.9 1182.2,1484.3 1180.2,1484.3 1175.2,1481.7 1172.2,1481.8 1156.0,1491.7 1155.6,1493.7 1161.2,1500.1 1163.2,1503.2 1164.8,1509.7 1164.2,1513.7 1162.2,1517.5 1159.2,1520.2 1155.2,1521.8 M1132.2,1490.7 1130.2,1490.9 1127.2,1490.0 1122.2,1485.8 1117.3,1478.7 1114.8,1471.7 1114.4,1465.7 1115.5,1459.7 1119.1,1450.7 1122.6,1446.7 1127.2,1444.4 1133.2,1443.1 1158.2,1442.7 1166.9,1444.7 1175.2,1449.7 1181.2,1450.9 1183.2,1452.9 1186.2,1460.7 1187.1,1468.7 1186.2,1475.7 1185.0,1478.7 1183.2,1481.1 1180.2,1481.7 1176.2,1479.7 1173.2,1479.4 1160.2,1486.0 1155.2,1486.6 1146.2,1485.4 1143.2,1485.6 1132.2,1490.7 M1154.2,1515.8 1149.2,1516.1 1140.2,1514.3 1131.2,1515.4 1128.2,1515.1 1125.2,1512.7 1124.6,1510.7 1125.0,1507.7 1127.2,1504.2 1130.2,1502.5 1140.2,1503.9 1149.2,1502.6 1153.2,1502.9 1157.2,1505.4 1158.8,1509.7 1157.4,1513.7 1154.2,1515.8 M1132.2,1485.9 1127.2,1485.7 1122.2,1482.4 1118.1,1476.7 1115.9,1469.7 1116.2,1462.7 1118.7,1455.7 1121.9,1449.7 1126.2,1446.2 1130.7,1444.7 1137.2,1443.9 1153.2,1443.3 1161.2,1444.1 1166.2,1445.6 1169.4,1447.7 1173.5,1453.7 1175.2,1455.2 1181.2,1455.1 1184.2,1458.7 1185.9,1464.7 1186.0,1470.7 1184.4,1476.7 1182.2,1479.1 1180.2,1479.1 1176.2,1477.3 1174.2,1477.1 1164.2,1482.6 1160.2,1484.0 1155.2,1484.3 1143.2,1482.2 1140.2,1482.8 1132.2,1485.9 M1158.2,1482.7 1154.2,1482.5 1145.2,1479.9 1142.2,1479.6 1133.2,1482.5 1129.2,1483.0 1125.2,1481.8 1122.2,1479.5 1120.0,1476.7 1118.2,1472.9 1117.3,1465.7 1119.2,1458.5 1124.3,1449.7 1128.9,1446.7 1134.2,1445.4 1151.2,1444.3 1159.6,1444.7 1163.5,1445.7 1167.2,1447.8 1168.9,1449.7 1172.2,1456.0 1174.2,1458.2 1176.2,1458.9 1180.2,1458.4 1182.2,1459.2 1184.2,1462.6 1185.0,1467.7 1184.4,1472.7 1182.9,1475.7 1180.2,1476.6 1176.2,1474.9 1174.2,1474.9 1164.2,1481.2 1158.2,1482.7 M1161.2,1481.0 1154.2,1481.0 1142.2,1477.2 1139.2,1477.6 1130.2,1480.4 1127.2,1480.1 1124.2,1478.6 1120.2,1473.5 1118.8,1466.7 1120.2,1460.3 1125.5,1451.7 1128.2,1449.2 1131.2,1447.7 1145.7,1445.7 1158.2,1445.5 1162.2,1446.4 1165.2,1448.0 1167.5,1450.7 1171.2,1457.5 1174.2,1461.1 1176.2,1462.1 1180.2,1461.7 1182.2,1462.8 1183.4,1465.7 1183.5,1469.7 1182.3,1472.7 1181.2,1473.5 1175.2,1472.1 1166.2,1478.8 1161.2,1481.0 M1161.2,1479.8 1158.2,1480.2 1154.2,1479.7 1144.2,1475.4 1141.2,1474.7 1131.2,1477.8 1126.2,1477.2 1123.1,1474.7 1120.7,1469.7 1120.6,1464.7 1122.0,1460.7 1124.2,1457.3 1128.2,1453.0 1133.7,1449.7 1152.2,1446.4 1158.2,1446.6 1162.0,1447.7 1165.6,1450.7 1173.6,1463.7 1174.7,1466.7 1173.7,1469.7 1169.6,1474.7 1165.2,1478.2 1161.2,1479.8 M1141.4,1455.7 1140.2,1455.3 1140.0,1455.7 1141.4,1455.7 M1160.2,1478.9 1157.2,1479.0 1153.2,1478.1 1141.2,1471.6 1138.2,1472.0 1131.2,1475.2 1127.2,1474.9 1124.2,1472.7 1122.7,1469.7 1122.3,1466.7 1123.2,1462.8 1126.2,1458.9 1130.2,1457.3 1133.2,1458.2 1138.2,1461.7 1141.2,1462.1 1144.2,1460.0 1146.7,1456.7 1147.4,1454.7 1147.3,1450.7 1148.2,1449.4 1150.2,1448.4 1154.2,1447.7 1160.5,1448.7 1164.2,1451.7 1169.0,1458.7 1171.7,1463.7 1172.3,1466.7 1171.2,1470.7 1168.1,1474.7 1164.2,1477.6 1160.2,1478.9 M1160.2,1477.8 1155.2,1477.6 1150.8,1475.7 1145.8,1471.7 1143.3,1467.7 1143.8,1464.7 1149.3,1456.7 1151.8,1451.7 1153.2,1450.4 1155.2,1449.7 1159.2,1450.2 1162.2,1452.2 1168.2,1459.5 1170.6,1464.7 1170.6,1468.7 1168.5,1472.7 1165.2,1475.8 1160.2,1477.8 M1131.2,1472.1 1129.2,1472.3 1127.2,1471.6 1125.0,1468.7 1125.2,1464.7 1126.2,1463.0 1128.2,1461.6 1130.2,1461.4 1132.2,1462.1 1135.6,1465.7 1135.4,1468.7 1133.7,1470.7 1131.2,1472.1 M1160.2,1476.8 1156.2,1476.7 1151.4,1474.7 1148.0,1471.7 1146.0,1467.7 1146.7,1463.7 1149.2,1459.7 1154.2,1454.0 1157.2,1452.7 1161.2,1453.9 1165.2,1457.4 1168.3,1461.7 1169.6,1465.7 1169.0,1469.7 1167.2,1472.7 1164.2,1475.3 1160.2,1476.8 M1159.2,1475.8 1155.2,1475.2 1151.2,1472.9 1148.7,1469.7 1148.0,1466.7 1148.6,1463.7 1151.2,1459.7 1155.2,1456.3 1158.2,1455.4 1161.2,1456.1 1164.7,1458.7 1167.2,1462.0 1168.4,1465.7 1167.8,1469.7 1165.8,1472.7 1163.1,1474.7 1159.2,1475.8 M1162.2,1473.9 1159.2,1474.6 1155.2,1473.9 1151.9,1471.7 1150.0,1468.7 1149.8,1465.7 1150.9,1462.7 1153.2,1459.8 1156.2,1457.8 1159.2,1457.4 1162.2,1458.4 1164.9,1460.7 1166.7,1463.7 1167.2,1466.7 1166.5,1469.7 1165.2,1471.7 1162.2,1473.9 M1161.2,1473.0 1158.2,1473.3 1155.2,1472.4 1153.0,1470.7 1151.4,1467.7 1151.6,1464.7 1152.6,1462.7 1154.4,1460.7 1157.2,1459.2 1160.2,1459.2 1162.2,1460.0 1164.2,1461.8 1165.7,1464.7 1165.9,1467.7 1165.1,1469.7 1163.4,1471.7 1161.2,1473.0 M1160.2,1471.8 1156.2,1471.3 1154.1,1469.7 1153.1,1467.7 1153.1,1465.7 1154.2,1463.2 1156.2,1461.4 1158.2,1460.7 1160.2,1460.8 1162.2,1461.8 1163.9,1463.7 1164.6,1465.7 1164.5,1467.7 1163.5,1469.7 1160.2,1471.8 M1160.2,1470.1 1157.2,1469.9 1155.1,1467.7 1155.4,1464.7 1158.2,1462.6 1161.2,1463.2 1162.8,1465.7 1162.2,1468.7 1160.2,1470.1" fill="none" stroke="#6a6a6a" stroke-width="0.95"/>
<path d="M1421.1,1571.8 1416.1,1572.2 1411.1,1570.2 1407.2,1566.7 1400.1,1558.3 1389.1,1552.6 1383.1,1548.3 1378.6,1543.7 1375.0,1538.7 1371.8,1532.7 1369.6,1526.7 1367.9,1518.7 1365.6,1500.7 1360.3,1483.7 1358.7,1475.7 1358.2,1467.7 1359.2,1448.7 1361.1,1443.7 1365.1,1439.4 1373.1,1434.1 1380.1,1431.3 1390.1,1430.0 1420.1,1433.2 1436.1,1432.9 1441.1,1434.8 1449.0,1439.7 1452.8,1442.7 1454.8,1445.7 1454.7,1448.7 1450.9,1454.7 1449.6,1458.7 1449.4,1478.7 1446.1,1500.7 1444.3,1517.7 1442.7,1525.7 1439.7,1533.7 1434.1,1544.9 1431.6,1557.7 1429.5,1563.7 1426.0,1568.7 1421.1,1571.8 M1378.6,1606.7 1379.4,1603.7 1381.3,1600.7 1384.4,1597.7 1388.1,1595.3 1397.1,1591.9 1409.1,1590.5 1421.1,1592.0 1430.1,1595.4 1433.6,1597.7 1436.7,1600.7 1438.6,1603.7 1439.4,1606.7 M1420.1,1568.0 1416.1,1568.1 1412.1,1566.2 1408.9,1562.7 1404.4,1554.7 1402.1,1552.1 1391.1,1546.4 1385.1,1541.7 1378.9,1533.7 1375.0,1524.7 1373.4,1517.7 1371.1,1501.7 1362.9,1478.7 1361.9,1471.7 1361.8,1465.7 1363.5,1449.7 1365.3,1444.7 1367.7,1441.7 1371.1,1439.0 1380.1,1434.8 1386.1,1433.5 1392.1,1433.2 1423.1,1435.5 1435.1,1435.6 1439.1,1436.8 1443.1,1439.1 1447.4,1442.7 1449.3,1445.7 1449.5,1448.7 1447.3,1457.7 1447.7,1471.7 1446.8,1481.7 1440.9,1505.7 1437.9,1521.7 1435.6,1528.7 1429.4,1541.7 1428.6,1554.7 1427.2,1560.7 1424.1,1565.5 1420.1,1568.0 M1383.4,1606.7 1385.8,1601.7 1392.1,1597.0 1400.1,1594.2 1409.1,1593.3 1418.1,1594.3 1426.1,1597.1 1432.2,1601.7 1434.6,1606.7 M1418.1,1564.8 1415.1,1564.1 1412.1,1561.7 1409.7,1557.7 1407.1,1550.3 1405.2,1547.7 1391.1,1540.5 1386.8,1536.7 1383.0,1531.7 1380.4,1526.7 1378.4,1520.7 1374.9,1500.7 1366.0,1479.7 1364.6,1472.7 1364.4,1466.7 1367.3,1447.7 1368.8,1444.7 1372.1,1441.4 1376.1,1438.9 1381.1,1436.9 1387.1,1435.7 1394.1,1435.3 1434.1,1437.5 1438.1,1438.6 1441.7,1440.7 1444.8,1443.7 1446.3,1446.7 1445.5,1457.7 1446.2,1472.7 1444.6,1484.7 1442.2,1492.7 1436.8,1505.7 1432.4,1524.7 1425.0,1539.7 1424.6,1543.7 1425.7,1553.7 1424.9,1558.7 1422.1,1563.0 1418.1,1564.8 M1387.3,1606.7 1389.2,1602.7 1394.4,1598.7 1401.1,1596.3 1409.1,1595.5 1417.1,1596.4 1423.6,1598.7 1428.8,1602.7 1430.7,1606.7 M1419.1,1561.1 1416.1,1561.0 1413.1,1558.0 1411.9,1554.7 1410.8,1546.7 1409.7,1544.7 1407.1,1543.0 1399.1,1540.4 1394.1,1538.0 1390.0,1534.7 1385.9,1529.7 1383.3,1524.7 1381.7,1519.7 1378.3,1500.7 1370.6,1485.7 1367.9,1478.7 1366.7,1472.7 1366.5,1466.7 1369.4,1448.7 1370.9,1445.7 1373.6,1442.7 1377.1,1440.4 1382.1,1438.3 1388.1,1437.1 1395.1,1436.8 1433.1,1439.0 1437.1,1439.9 1440.1,1441.6 1442.4,1443.7 1444.1,1446.7 1445.1,1470.7 1443.7,1482.7 1440.2,1492.7 1433.1,1504.7 1430.8,1517.7 1428.7,1524.7 1420.1,1539.7 1419.8,1542.7 1422.3,1549.7 1422.9,1554.7 1421.8,1558.7 1419.1,1561.1 M1390.3,1606.7 1392.6,1602.7 1397.0,1599.7 1402.1,1598.0 1409.1,1597.2 1415.1,1597.8 1421.1,1599.8 1425.4,1602.7 1427.7,1606.7 M1412.1,1537.8 1406.1,1538.0 1399.1,1536.3 1393.2,1532.7 1389.1,1528.1 1386.6,1523.7 1384.8,1518.7 1382.7,1504.7 1381.3,1499.7 1372.9,1485.7 1369.6,1477.7 1368.5,1471.7 1368.4,1465.7 1371.8,1448.7 1373.5,1445.7 1376.1,1443.1 1380.1,1440.8 1384.1,1439.4 1391.1,1438.2 1399.1,1438.1 1433.1,1440.4 1436.1,1441.2 1439.1,1442.9 1441.1,1444.9 1442.4,1447.7 1444.1,1471.7 1443.3,1478.7 1441.5,1485.7 1439.3,1490.7 1437.1,1493.8 1430.4,1498.7 1429.0,1500.7 1427.5,1516.7 1426.2,1521.7 1423.9,1526.7 1418.1,1534.0 1415.1,1536.5 1412.1,1537.8 M1393.4,1606.7 1395.1,1603.7 1399.1,1601.0 1404.1,1599.4 1409.1,1599.0 1414.1,1599.5 1419.1,1601.1 1422.9,1603.7 1424.6,1606.7 M1410.1,1533.8 1405.1,1534.1 1399.6,1532.7 1395.1,1529.9 1391.3,1525.7 1387.7,1517.7 1385.7,1503.7 1384.5,1499.7 1382.4,1495.7 1374.4,1484.7 1371.0,1476.7 1370.0,1470.7 1370.0,1465.7 1373.5,1449.7 1375.0,1446.7 1378.0,1443.7 1385.1,1440.5 1393.1,1439.3 1404.1,1439.3 1432.1,1441.6 1435.1,1442.3 1438.1,1444.0 1439.7,1445.7 1441.0,1448.7 1443.2,1469.7 1442.7,1476.7 1441.0,1483.7 1438.1,1489.6 1435.1,1492.5 1432.1,1493.6 1427.1,1494.0 1424.6,1495.7 1423.8,1498.7 1424.9,1512.7 1423.2,1520.7 1421.1,1525.1 1418.1,1529.0 1414.1,1532.2 1410.1,1533.8 M1396.3,1606.7 1398.1,1604.1 1401.1,1602.2 1405.1,1601.0 1409.1,1600.6 1413.1,1601.0 1417.1,1602.3 1420.1,1604.3 1421.7,1606.7 M1411.1,1529.7 1406.1,1530.7 1401.1,1529.7 1397.1,1527.4 1393.7,1523.7 1391.5,1519.7 1390.2,1515.7 1388.7,1502.7 1387.4,1498.7 1385.6,1495.7 1376.4,1484.7 1372.6,1476.7 1371.5,1471.7 1371.5,1465.7 1375.0,1450.7 1378.1,1445.6 1381.1,1443.4 1385.1,1441.7 1390.1,1440.6 1397.1,1440.2 1418.1,1441.1 1434.1,1443.4 1437.8,1445.7 1439.5,1448.7 1442.4,1468.7 1442.0,1475.7 1440.3,1482.7 1438.1,1487.1 1435.1,1490.1 1432.1,1490.9 1425.1,1490.8 1423.1,1491.7 1420.9,1493.7 1419.7,1497.7 1421.9,1509.7 1421.1,1517.7 1419.5,1521.7 1417.1,1525.3 1414.1,1528.1 1411.1,1529.7 M1399.4,1606.7 1402.6,1603.7 1409.1,1602.3 1415.1,1603.5 1417.1,1604.7 1418.6,1606.7 M1410.1,1525.8 1406.1,1526.6 1402.1,1525.9 1399.1,1524.2 1396.1,1521.0 1394.4,1517.7 1393.2,1513.7 1392.5,1501.7 1391.3,1497.7 1389.0,1494.7 1379.1,1485.4 1375.9,1480.7 1373.9,1475.7 1372.9,1470.7 1373.0,1465.7 1377.0,1450.7 1378.5,1447.7 1380.4,1445.7 1387.1,1442.4 1399.1,1441.2 1418.1,1442.1 1433.1,1444.7 1436.4,1446.7 1438.1,1449.7 1440.8,1462.7 1441.5,1468.7 1441.1,1475.7 1439.5,1481.7 1437.3,1485.7 1435.1,1487.8 1432.1,1488.6 1427.1,1488.1 1424.1,1488.5 1419.6,1490.7 1416.3,1493.7 1415.3,1495.7 1415.2,1497.7 1418.1,1507.7 1418.2,1514.7 1417.1,1518.6 1415.3,1521.7 1413.1,1524.0 1410.1,1525.8 M1403.7,1606.7 1406.1,1605.2 1409.1,1604.7 1412.1,1605.3 1414.3,1606.7 M1408.1,1521.7 1405.1,1522.0 1402.1,1521.0 1399.5,1518.7 1397.8,1515.7 1396.7,1509.7 1398.3,1498.7 1397.9,1496.7 1396.0,1494.7 1386.1,1489.2 1381.1,1485.1 1377.1,1479.7 1374.8,1473.7 1374.2,1468.7 1374.7,1463.7 1379.1,1450.3 1380.7,1447.7 1383.0,1445.7 1389.1,1443.2 1398.1,1442.2 1412.1,1442.4 1419.1,1443.3 1432.1,1446.2 1434.7,1447.7 1436.2,1449.7 1439.7,1461.7 1440.7,1468.7 1440.4,1474.7 1438.8,1480.7 1436.1,1484.9 1433.1,1486.5 1427.1,1486.1 1423.1,1486.9 1412.6,1491.7 1408.6,1494.7 1408.2,1496.7 1413.4,1505.7 1414.6,1511.7 1414.3,1514.7 1413.0,1517.7 1411.1,1520.0 1408.1,1521.7 M1401.1,1489.7 1393.1,1489.3 1387.1,1487.3 1382.1,1483.7 1377.7,1477.7 1375.9,1471.7 1375.9,1464.7 1378.1,1457.6 1382.1,1448.7 1385.8,1445.7 1390.1,1444.2 1397.1,1443.3 1407.1,1443.2 1414.1,1443.6 1420.1,1444.7 1431.1,1448.3 1433.1,1449.5 1435.1,1452.4 1437.8,1458.7 1439.8,1466.7 1439.4,1475.7 1438.1,1479.8 1436.3,1482.7 1433.1,1484.7 1425.1,1484.7 1412.1,1489.0 1401.1,1489.7 M1407.1,1513.7 1405.1,1514.0 1403.8,1512.7 1403.5,1509.7 1405.1,1508.1 1407.1,1508.8 1408.1,1510.7 1407.1,1513.7 M1414.1,1486.7 1409.1,1487.1 1391.1,1486.3 1385.1,1483.9 1380.6,1479.7 1377.4,1472.7 1377.1,1465.7 1378.5,1460.7 1382.1,1452.6 1385.7,1447.7 1389.6,1445.7 1395.1,1444.6 1406.1,1444.2 1415.1,1444.8 1419.1,1445.7 1423.3,1447.7 1428.1,1451.8 1433.1,1454.2 1435.1,1456.4 1438.1,1462.6 1439.1,1468.7 1438.5,1475.7 1436.3,1480.7 1433.1,1483.0 1425.1,1483.2 1414.1,1486.7 M1416.1,1484.9 1410.1,1485.4 1401.1,1484.4 1391.1,1484.1 1386.1,1482.4 1381.8,1478.7 1378.8,1472.7 1378.5,1465.7 1381.1,1458.6 1385.1,1451.5 1387.5,1448.7 1391.6,1446.7 1397.1,1445.7 1408.1,1445.4 1415.1,1446.1 1420.7,1448.7 1425.1,1455.0 1427.1,1456.0 1432.1,1456.8 1435.1,1459.0 1437.1,1462.7 1438.3,1468.7 1437.8,1474.7 1436.1,1479.0 1433.1,1481.3 1426.1,1481.7 1416.1,1484.9 M1416.1,1483.7 1411.1,1484.1 1400.1,1482.3 1390.1,1481.9 1386.1,1480.4 1382.2,1476.7 1379.9,1470.7 1379.8,1466.7 1380.5,1463.7 1383.1,1458.6 1390.5,1449.7 1394.1,1448.2 1399.1,1447.4 1408.1,1446.9 1414.1,1447.6 1417.8,1449.7 1420.4,1453.7 1423.8,1456.7 1427.1,1458.2 1432.1,1459.0 1435.1,1461.2 1436.8,1464.7 1437.5,1469.7 1436.9,1474.7 1435.1,1478.2 1433.0,1479.7 1426.1,1480.3 1416.1,1483.7 M1415.1,1482.8 1410.1,1482.7 1399.1,1480.4 1391.1,1480.1 1386.1,1478.2 1383.1,1475.1 1381.4,1470.7 1381.5,1465.7 1383.2,1461.7 1386.1,1458.3 1390.1,1455.9 1393.1,1455.7 1399.1,1457.2 1402.4,1456.7 1405.9,1454.7 1408.1,1451.0 1410.1,1450.4 1413.1,1451.2 1425.1,1459.2 1432.1,1460.9 1434.1,1462.2 1436.0,1465.7 1436.6,1469.7 1436.1,1473.7 1434.1,1477.2 1432.1,1478.3 1426.1,1479.0 1415.1,1482.8 M1414.1,1481.8 1409.1,1481.4 1399.1,1478.5 1390.1,1477.8 1387.1,1476.6 1384.3,1473.7 1383.1,1470.7 1383.0,1466.7 1384.1,1463.7 1386.1,1461.3 1389.1,1459.6 1400.1,1460.0 1410.1,1456.1 1413.1,1455.6 1417.1,1456.4 1426.1,1461.2 1433.3,1463.7 1435.1,1466.7 1435.5,1469.7 1435.1,1472.8 1433.3,1475.7 1431.2,1476.7 1426.1,1477.6 1418.1,1481.0 1414.1,1481.8 M1414.1,1480.8 1408.1,1479.9 1399.1,1476.4 1391.1,1475.6 1388.4,1474.7 1386.2,1472.7 1385.2,1470.7 1385.0,1467.7 1385.6,1465.7 1387.1,1463.6 1389.1,1462.5 1399.1,1462.5 1410.1,1458.0 1414.1,1457.4 1419.1,1458.7 1426.1,1462.7 1431.3,1464.7 1433.1,1466.2 1434.0,1468.7 1434.1,1470.7 1433.4,1472.7 1432.1,1474.2 1426.1,1476.2 1419.1,1479.7 1414.1,1480.8 M1414.1,1479.7 1408.1,1478.7 1397.1,1473.2 1390.1,1471.9 1388.3,1469.7 1388.3,1467.7 1390.1,1465.9 1398.1,1465.3 1409.1,1459.8 1414.1,1458.8 1420.1,1460.4 1430.9,1467.7 1431.6,1469.7 1430.1,1472.2 1420.1,1478.2 1414.1,1479.7 M1418.1,1477.9 1413.1,1478.6 1407.0,1476.7 1404.1,1474.7 1401.3,1471.7 1400.5,1469.7 1401.1,1467.7 1405.0,1463.7 1411.1,1460.6 1416.1,1460.3 1420.1,1461.8 1424.9,1465.7 1426.4,1467.7 1426.9,1469.7 1424.4,1473.7 1418.1,1477.9 M1417.1,1477.0 1414.1,1477.5 1411.1,1477.0 1408.0,1475.7 1405.5,1473.7 1403.7,1470.7 1403.7,1468.7 1406.3,1464.7 1411.1,1461.9 1415.1,1461.4 1419.1,1462.6 1422.9,1465.7 1424.4,1468.7 1423.8,1471.7 1421.3,1474.7 1417.1,1477.0 M1417.1,1475.8 1414.1,1476.2 1411.1,1475.7 1407.0,1472.7 1406.0,1470.7 1405.9,1468.7 1406.7,1466.7 1408.6,1464.7 1412.1,1463.0 1415.1,1462.6 1418.1,1463.4 1421.1,1465.7 1422.5,1468.7 1422.1,1471.5 1420.1,1474.0 1417.1,1475.8 M1415.1,1474.8 1412.8,1474.7 1410.4,1473.7 1408.0,1470.7 1408.0,1468.7 1408.9,1466.7 1411.1,1464.9 1413.1,1464.1 1416.1,1464.2 1418.1,1465.0 1419.9,1466.7 1420.8,1468.7 1420.6,1470.7 1419.4,1472.7 1417.1,1474.3 1415.1,1474.8 M1416.1,1472.9 1412.3,1472.7 1410.3,1470.7 1410.2,1468.7 1412.1,1466.3 1415.3,1465.7 1417.1,1466.4 1418.4,1467.7 1418.6,1470.7 1416.1,1472.9" fill="none" stroke="#6a6a6a" stroke-width="0.95"/>
<path d="M1156.2,1821.9 1148.2,1822.7 1138.2,1821.9 1124.2,1820.0 1116.2,1817.2 1110.2,1813.0 1105.6,1807.8 1101.5,1800.8 1098.4,1792.8 1095.5,1779.8 1093.7,1756.8 1091.0,1736.8 1090.7,1727.8 1091.7,1718.8 1093.7,1708.8 1097.3,1701.8 1101.0,1697.8 1105.2,1694.5 1110.2,1691.6 1115.2,1689.6 1120.2,1688.5 1125.2,1688.3 1144.2,1691.4 1157.2,1692.5 1163.2,1692.6 1172.2,1691.4 1175.2,1691.7 1179.2,1693.3 1189.2,1700.1 1192.6,1702.8 1194.5,1705.8 1194.5,1708.8 1190.3,1715.8 1189.4,1719.8 1193.0,1764.8 1192.1,1776.8 1189.6,1787.8 1186.9,1794.8 1183.8,1800.8 1176.2,1810.7 1171.2,1815.1 1166.2,1818.3 1156.2,1821.9 M1036.2,1699.8 1039.2,1700.1 1041.2,1701.1 1044.1,1703.8 1046.2,1706.9 1049.4,1715.8 1050.6,1726.8 1050.1,1734.8 1048.5,1741.8 1046.5,1746.8 1041.4,1755.8 1040.3,1758.8 1040.5,1761.8 1043.7,1770.8 1045.5,1778.8 1046.1,1787.8 1045.4,1795.8 1043.9,1801.8 1041.4,1806.8 1039.2,1809.0 1036.2,1809.6 M1108.1,1863.8 1109.3,1860.8 1111.7,1857.8 1118.2,1853.3 1128.2,1849.9 1140.2,1848.7 1151.2,1849.7 1161.2,1853.0 1168.3,1857.8 1170.7,1860.8 1171.9,1863.8 M1154.2,1813.9 1146.2,1814.5 1131.2,1813.1 1124.2,1812.1 1118.2,1810.1 1113.2,1806.9 1109.2,1802.7 1105.4,1796.8 1102.5,1789.8 1099.8,1777.8 1098.0,1756.8 1095.0,1737.8 1094.5,1730.8 1094.9,1723.8 1097.5,1710.8 1100.8,1703.8 1107.2,1697.8 1115.2,1693.9 1121.2,1692.6 1126.2,1692.4 1160.2,1694.9 1174.2,1694.8 1178.2,1696.1 1182.6,1698.8 1187.0,1702.8 1188.9,1705.8 1189.1,1708.8 1187.2,1715.1 1186.8,1718.8 1187.7,1735.8 1187.0,1766.8 1185.8,1776.8 1183.7,1784.8 1178.8,1795.8 1172.2,1804.3 1164.2,1810.4 1159.2,1812.6 1154.2,1813.9 M1036.2,1707.4 1038.2,1707.5 1040.2,1708.4 1043.8,1712.8 1045.9,1718.8 1046.8,1726.8 1046.0,1734.8 1043.6,1741.8 1040.2,1746.1 1038.2,1747.1 1036.2,1747.2 M1036.2,1772.4 1038.2,1772.6 1040.6,1775.8 1042.1,1780.8 1042.7,1786.8 1042.2,1792.8 1040.6,1797.8 1038.2,1800.8 1036.2,1801.0 M1113.4,1863.8 1116.8,1858.8 1122.2,1855.2 1131.2,1852.4 1140.2,1851.6 1149.2,1852.4 1157.2,1854.9 1163.3,1858.8 1166.6,1863.8 M1152.2,1807.9 1145.2,1808.1 1129.2,1806.8 1123.2,1805.7 1119.2,1804.3 1115.2,1801.8 1111.2,1797.7 1108.1,1792.8 1105.6,1786.8 1103.4,1777.8 1101.2,1756.4 1097.9,1737.8 1097.7,1724.8 1100.5,1711.8 1103.2,1705.8 1108.2,1700.5 1116.2,1696.5 1121.2,1695.3 1127.2,1694.9 1173.2,1696.8 1177.2,1698.0 1180.4,1699.8 1183.7,1702.8 1185.5,1705.8 1186.0,1708.8 1185.0,1717.8 1185.8,1730.8 1185.5,1742.8 1182.7,1767.8 1179.6,1781.8 1175.0,1791.8 1168.6,1799.8 1161.2,1805.1 1152.2,1807.9 M1036.2,1714.8 1039.2,1715.5 1041.2,1718.0 1042.6,1721.8 1043.2,1726.8 1042.7,1731.8 1041.2,1736.1 1039.2,1738.6 1036.2,1739.3 M1117.7,1863.8 1120.5,1859.8 1125.2,1856.8 1132.2,1854.6 1140.2,1853.9 1147.2,1854.5 1154.2,1856.5 1159.5,1859.8 1162.3,1863.8 M1152.2,1802.9 1145.2,1803.2 1130.2,1802.1 1121.2,1800.2 1117.2,1798.0 1113.2,1794.2 1110.2,1789.6 1107.8,1783.8 1105.9,1775.8 1103.8,1756.8 1100.0,1736.8 1099.8,1725.8 1101.8,1715.8 1105.4,1706.8 1110.2,1701.7 1117.2,1698.3 1122.2,1697.1 1129.2,1696.7 1172.2,1698.3 1176.2,1699.3 1179.2,1701.0 1182.1,1703.8 1183.6,1706.8 1183.6,1717.8 1184.6,1730.8 1184.1,1741.8 1181.4,1758.8 1176.9,1777.8 1172.6,1787.8 1167.2,1795.0 1160.2,1800.3 1152.2,1802.9 M1121.1,1863.8 1123.3,1860.8 1128.2,1857.8 1134.2,1856.1 1140.2,1855.7 1146.2,1856.2 1152.2,1858.0 1156.7,1860.8 1158.9,1863.8 M1153.2,1797.8 1144.2,1798.4 1128.2,1797.2 1123.2,1796.1 1119.2,1794.3 1116.2,1791.8 1113.1,1787.8 1110.7,1782.8 1108.8,1775.8 1106.3,1756.8 1102.3,1738.8 1101.7,1726.8 1103.8,1716.8 1107.4,1707.8 1111.2,1703.5 1117.2,1700.2 1123.2,1698.7 1130.2,1698.2 1152.2,1698.4 1171.2,1699.7 1174.2,1700.2 1177.6,1701.8 1179.9,1703.8 1181.7,1706.8 1183.4,1728.8 1183.0,1739.8 1180.6,1752.8 1175.0,1771.8 1171.2,1781.9 1166.2,1789.7 1160.2,1795.0 1153.2,1797.8 M1124.6,1863.8 1127.2,1861.0 1130.2,1859.3 1135.2,1857.9 1140.2,1857.5 1145.2,1858.0 1150.2,1859.5 1153.2,1861.3 1155.4,1863.8 M1151.2,1793.8 1143.2,1794.0 1128.2,1792.8 1123.2,1791.7 1120.2,1790.2 1117.2,1787.7 1114.5,1783.8 1112.7,1779.8 1110.9,1772.8 1108.4,1755.8 1104.0,1737.8 1103.5,1726.8 1105.4,1717.8 1109.1,1708.8 1113.2,1704.2 1119.2,1701.2 1128.2,1699.6 1146.2,1699.3 1171.2,1701.0 1174.2,1701.7 1177.2,1703.3 1179.2,1705.3 1180.4,1707.8 1182.5,1732.8 1181.4,1742.8 1178.9,1752.8 1169.2,1777.6 1165.9,1783.8 1162.7,1787.8 1159.2,1790.7 1155.2,1792.7 1151.2,1793.8 M1128.1,1863.8 1130.2,1861.8 1133.2,1860.4 1140.2,1859.3 1147.2,1860.5 1149.8,1861.8 1151.9,1863.8 M1149.2,1789.9 1130.2,1788.8 1124.2,1787.7 1121.2,1786.2 1118.5,1783.8 1114.6,1776.8 1110.7,1756.8 1105.8,1738.8 1104.9,1727.8 1106.5,1719.8 1110.6,1709.8 1114.2,1705.6 1120.2,1702.3 1131.2,1700.6 1156.2,1700.6 1173.2,1702.7 1176.9,1704.8 1178.9,1707.8 1181.3,1724.8 1181.6,1731.8 1180.7,1740.8 1178.3,1749.8 1176.2,1754.5 1170.4,1763.8 1166.2,1775.8 1162.9,1781.8 1157.2,1787.2 1153.2,1789.1 1149.2,1789.9 M1132.1,1863.8 1135.8,1861.8 1140.2,1861.3 1144.2,1861.8 1147.9,1863.8 M1150.2,1784.9 1144.2,1785.2 1129.2,1783.8 1125.2,1782.9 1122.2,1781.3 1120.2,1779.3 1117.2,1773.8 1113.2,1756.8 1107.7,1739.8 1106.6,1733.8 1106.5,1728.8 1107.9,1720.8 1112.3,1710.8 1116.2,1706.2 1121.2,1703.6 1131.2,1701.8 1155.2,1701.5 1172.2,1703.9 1175.7,1705.8 1177.6,1708.8 1180.7,1729.8 1180.0,1738.8 1178.2,1746.0 1174.2,1753.1 1166.5,1758.8 1163.3,1771.8 1160.2,1778.3 1155.6,1782.8 1150.2,1784.9 M1148.2,1779.8 1129.2,1778.0 1126.2,1777.2 1123.2,1775.2 1120.2,1770.5 1115.8,1756.8 1110.3,1742.8 1108.0,1731.8 1108.2,1726.8 1109.3,1721.8 1112.2,1714.9 1115.3,1709.8 1118.4,1706.8 1122.2,1704.8 1133.2,1702.9 1147.2,1702.2 1155.2,1702.4 1172.2,1705.5 1174.3,1706.8 1176.3,1709.8 1179.2,1722.8 1179.9,1728.8 1179.4,1736.8 1177.3,1744.8 1175.2,1748.5 1172.2,1751.0 1170.2,1751.4 1165.2,1751.0 1161.8,1752.8 1160.0,1756.8 1159.7,1766.8 1158.0,1772.8 1154.2,1777.5 1151.2,1779.2 1148.2,1779.8 M1149.2,1772.0 1146.2,1772.6 1143.2,1772.3 1129.9,1769.8 1126.2,1768.1 1122.2,1762.7 1112.2,1743.3 1110.4,1737.8 1109.5,1732.8 1109.6,1727.8 1110.6,1722.8 1113.2,1716.7 1117.0,1710.8 1120.1,1707.8 1123.2,1706.2 1133.2,1704.2 1146.2,1703.2 1154.2,1703.3 1170.6,1706.8 1173.2,1708.3 1174.8,1710.8 1178.1,1721.8 1179.0,1727.8 1178.7,1735.8 1176.8,1742.8 1175.2,1745.6 1173.2,1747.5 1171.2,1748.2 1166.2,1747.4 1163.2,1747.6 1158.9,1749.8 1155.5,1752.8 1153.5,1756.8 1153.6,1764.8 1153.0,1767.8 1151.2,1770.7 1149.2,1772.0 M1129.2,1757.9 1126.2,1757.5 1124.2,1756.5 1119.2,1751.6 1114.2,1743.7 1111.5,1735.8 1110.9,1729.8 1111.8,1723.8 1114.2,1718.4 1118.8,1711.8 1122.2,1708.8 1127.2,1706.7 1148.2,1704.1 1158.2,1704.9 1171.3,1709.8 1173.2,1712.2 1176.2,1719.0 1178.2,1727.8 1178.2,1732.8 1177.3,1737.8 1176.2,1741.1 1174.2,1744.2 1171.2,1745.6 1166.2,1744.9 1163.2,1745.1 1152.2,1749.6 1142.2,1751.4 1138.9,1752.8 1133.2,1756.6 1129.2,1757.9 M1130.2,1751.2 1125.2,1751.6 1120.2,1748.7 1115.2,1741.8 1112.8,1734.8 1112.4,1728.8 1113.8,1722.8 1117.2,1717.1 1122.2,1711.9 1126.2,1709.5 1131.7,1707.8 1145.2,1705.5 1153.2,1705.2 1158.2,1706.2 1162.2,1707.8 1170.2,1713.3 1173.2,1716.2 1176.2,1722.1 1177.4,1729.8 1176.2,1738.1 1173.2,1742.6 1171.2,1743.3 1164.2,1742.9 1152.2,1746.8 1139.2,1746.7 1130.2,1751.2 M1130.2,1746.8 1125.2,1747.7 1121.2,1746.0 1117.2,1741.7 1114.6,1735.8 1113.8,1729.8 1115.1,1723.8 1118.2,1718.9 1122.2,1715.6 1125.2,1714.2 1128.2,1713.8 1134.2,1716.0 1136.2,1716.0 1137.7,1714.8 1137.7,1710.8 1139.7,1708.8 1145.7,1706.8 1153.2,1706.5 1157.2,1707.3 1160.2,1708.8 1165.2,1714.1 1171.2,1717.2 1174.2,1720.3 1176.2,1725.8 1176.5,1731.8 1175.2,1737.5 1172.4,1740.8 1164.2,1741.2 1156.2,1744.1 1152.2,1744.8 1138.2,1743.3 1130.2,1746.8 M1128.2,1744.0 1124.2,1744.2 1121.2,1742.8 1117.7,1738.8 1115.8,1733.8 1115.5,1728.8 1116.6,1724.8 1119.2,1720.8 1122.2,1718.7 1126.2,1717.9 1133.2,1720.1 1137.2,1719.9 1140.2,1718.1 1142.3,1715.8 1144.8,1709.8 1148.2,1708.2 1152.2,1707.9 1155.2,1708.4 1158.0,1709.8 1163.7,1715.8 1171.2,1719.5 1174.2,1723.0 1175.4,1726.8 1175.5,1731.8 1174.2,1736.5 1172.2,1738.7 1165.2,1739.4 1156.2,1742.6 1152.2,1743.2 1137.2,1740.4 1128.2,1744.0 M1157.2,1740.9 1153.2,1741.7 1149.2,1741.4 1139.2,1737.7 1136.2,1737.2 1127.2,1741.0 1123.2,1740.7 1120.2,1738.5 1118.1,1734.8 1117.3,1729.8 1118.2,1725.9 1120.4,1722.8 1124.2,1721.0 1127.2,1721.1 1134.2,1723.4 1137.2,1722.8 1142.5,1718.8 1149.2,1711.1 1152.2,1710.3 1154.6,1710.8 1164.2,1718.2 1172.2,1722.6 1174.0,1725.8 1174.5,1728.8 1174.2,1732.8 1172.2,1736.3 1170.2,1737.2 1165.2,1737.7 1157.2,1740.9 M1156.2,1740.0 1152.2,1740.4 1147.2,1739.4 1135.2,1732.5 1128.2,1737.0 1124.2,1737.5 1122.2,1736.5 1120.3,1733.8 1119.6,1730.8 1120.1,1727.8 1122.2,1724.9 1125.2,1724.0 1128.2,1724.7 1133.2,1727.5 1135.2,1727.7 1149.2,1715.1 1152.2,1713.8 1155.2,1714.1 1170.7,1723.8 1172.3,1725.8 1173.1,1728.8 1172.8,1731.8 1171.2,1734.3 1165.2,1736.1 1156.2,1740.0 M1156.2,1738.8 1151.2,1739.1 1146.2,1737.4 1141.7,1733.8 1139.7,1729.8 1140.7,1725.8 1143.7,1721.8 1148.2,1717.9 1152.2,1716.1 1156.2,1716.4 1160.2,1718.6 1169.4,1725.8 1170.9,1728.8 1170.5,1730.8 1169.2,1732.2 1156.2,1738.8 M1154.2,1737.9 1150.2,1737.5 1146.2,1735.6 1143.5,1732.8 1142.2,1728.8 1142.9,1725.8 1145.7,1721.8 1149.2,1719.1 1153.2,1717.7 1157.2,1718.5 1161.2,1721.0 1165.7,1725.8 1166.6,1728.8 1165.0,1731.8 1161.6,1734.8 1158.2,1736.8 1154.2,1737.9 M1157.2,1735.9 1153.2,1736.6 1149.5,1735.8 1146.5,1733.8 1144.5,1730.8 1144.2,1727.8 1145.2,1724.8 1147.7,1721.8 1151.2,1719.7 1154.2,1719.3 1158.2,1720.5 1162.1,1723.8 1163.8,1726.8 1163.7,1729.8 1162.6,1731.8 1160.2,1734.1 1157.2,1735.9 M1156.2,1734.8 1153.2,1735.2 1150.2,1734.5 1147.7,1732.8 1146.0,1729.8 1146.1,1726.8 1147.0,1724.8 1149.2,1722.4 1152.2,1720.9 1155.2,1720.8 1158.2,1722.0 1160.2,1723.8 1161.9,1726.8 1161.7,1729.8 1160.6,1731.8 1156.2,1734.8 M1156.2,1733.3 1153.2,1733.8 1151.2,1733.3 1148.2,1730.5 1147.7,1727.8 1148.2,1725.9 1151.2,1722.9 1153.2,1722.3 1156.2,1722.6 1158.2,1723.9 1159.7,1725.8 1160.2,1727.8 1159.9,1729.8 1158.5,1731.8 1156.2,1733.3 M1154.2,1732.0 1150.9,1730.8 1149.7,1727.8 1151.2,1725.1 1154.2,1724.0 1157.2,1725.4 1158.2,1727.8 1157.2,1730.5 1154.2,1732.0" fill="none" stroke="#6a6a6a" stroke-width="0.95"/>
<path d="M1402.1,1811.8 1395.1,1811.4 1388.1,1809.0 1381.1,1804.0 1375.6,1797.8 1371.5,1790.8 1368.7,1783.8 1364.7,1763.8 1363.1,1759.2 1360.3,1754.8 1349.1,1741.8 1345.7,1735.8 1343.9,1730.8 1342.6,1722.8 1342.9,1709.8 1343.4,1705.8 1344.6,1702.8 1348.0,1698.8 1354.1,1694.4 1360.1,1691.3 1368.1,1688.4 1375.1,1687.0 1383.1,1686.7 1419.1,1691.8 1433.1,1691.7 1437.1,1693.1 1442.9,1696.8 1447.5,1700.8 1449.4,1703.8 1449.4,1706.8 1447.1,1712.5 1446.4,1715.8 1446.3,1729.8 1444.5,1741.8 1441.8,1750.8 1436.0,1764.8 1432.2,1780.8 1429.4,1788.8 1424.4,1797.8 1418.1,1804.7 1410.1,1809.8 1402.1,1811.8 M1292.1,1710.6 1294.1,1710.6 1296.1,1712.7 1297.3,1715.8 1297.8,1719.8 1297.4,1723.8 1296.1,1727.3 1294.1,1729.4 1292.1,1729.4 M1359.9,1863.8 1361.8,1860.8 1364.1,1858.8 1371.1,1855.2 1382.1,1852.4 1395.1,1851.4 1407.1,1852.2 1418.1,1854.9 1425.9,1858.8 1428.1,1860.8 1430.1,1863.8 M1403.1,1803.9 1397.1,1803.9 1391.1,1802.1 1385.1,1798.3 1380.1,1792.9 1376.4,1786.8 1374.0,1780.8 1370.2,1761.8 1368.8,1757.8 1365.3,1752.8 1353.7,1740.8 1350.5,1735.8 1348.4,1730.8 1347.3,1725.8 1347.1,1720.8 1347.8,1708.8 1348.9,1704.8 1351.7,1700.8 1355.3,1697.8 1361.1,1694.5 1367.1,1692.2 1375.1,1690.5 1384.1,1690.0 1420.1,1694.1 1432.1,1694.4 1436.1,1695.7 1439.5,1697.8 1442.6,1700.8 1444.4,1703.8 1444.9,1706.8 1444.0,1714.8 1444.2,1730.8 1442.7,1739.8 1440.4,1746.8 1437.4,1752.8 1430.4,1762.8 1426.0,1780.8 1421.1,1791.2 1417.5,1795.8 1413.1,1799.7 1408.1,1802.5 1403.1,1803.9 M1292.1,1719.6 1293.1,1718.2 1293.8,1719.8 1293.1,1721.9 1292.1,1720.3 M1366.2,1863.8 1369.9,1859.8 1377.1,1856.4 1386.1,1854.5 1395.1,1853.9 1404.1,1854.5 1413.1,1856.5 1420.1,1859.8 1423.8,1863.8 M1401.1,1797.9 1396.1,1797.5 1391.1,1795.6 1387.1,1792.7 1383.1,1788.3 1380.3,1783.8 1377.9,1777.8 1374.7,1760.8 1372.8,1755.8 1369.7,1751.8 1357.0,1739.8 1353.7,1734.8 1351.6,1729.8 1350.5,1724.8 1350.4,1719.8 1351.5,1708.8 1352.8,1704.8 1354.9,1701.8 1358.5,1698.8 1368.1,1694.4 1377.1,1692.5 1386.1,1692.2 1421.1,1695.9 1431.1,1696.5 1435.1,1697.7 1438.1,1699.6 1440.3,1701.8 1441.8,1704.8 1442.8,1728.8 1441.7,1736.8 1439.5,1743.8 1435.1,1751.0 1432.1,1753.4 1427.3,1755.8 1425.7,1757.8 1422.4,1776.8 1420.1,1782.8 1417.1,1788.0 1413.9,1791.8 1410.1,1794.8 1406.1,1796.8 1401.1,1797.9 M1371.3,1863.8 1374.2,1860.8 1380.1,1858.1 1387.1,1856.5 1395.1,1856.0 1403.1,1856.5 1410.1,1858.1 1415.8,1860.8 1418.7,1863.8 M1401.1,1792.9 1397.1,1792.6 1393.1,1791.3 1389.1,1788.6 1385.7,1784.8 1383.2,1780.8 1381.2,1775.8 1378.3,1759.8 1376.5,1754.8 1373.2,1750.8 1360.1,1739.7 1356.5,1734.8 1354.2,1729.8 1353.1,1724.8 1352.9,1719.8 1354.0,1709.8 1355.2,1705.8 1357.1,1702.8 1360.1,1700.1 1368.1,1696.2 1377.1,1694.1 1387.1,1693.7 1430.1,1698.0 1433.1,1698.7 1436.1,1700.2 1438.1,1702.1 1439.8,1704.8 1440.6,1708.8 1441.8,1726.8 1440.9,1734.8 1438.7,1741.8 1436.1,1746.5 1433.1,1749.3 1430.1,1750.4 1423.1,1750.2 1421.2,1751.8 1420.4,1754.8 1419.9,1770.8 1416.7,1780.8 1413.5,1785.8 1410.1,1789.2 1406.1,1791.6 1401.1,1792.9 M1375.5,1863.8 1378.1,1861.4 1383.1,1859.2 1389.1,1858.0 1395.1,1857.7 1401.1,1858.0 1407.1,1859.3 1412.1,1861.5 1414.5,1863.8 M1400.1,1787.8 1396.1,1787.2 1393.2,1785.8 1388.1,1780.9 1384.3,1772.8 1382.1,1758.8 1380.3,1753.8 1376.8,1749.8 1363.1,1739.6 1359.1,1734.8 1356.6,1729.8 1355.5,1725.8 1355.2,1720.8 1356.2,1711.8 1357.4,1706.8 1361.1,1701.8 1365.1,1699.2 1369.1,1697.5 1376.1,1695.7 1384.1,1695.0 1408.1,1696.7 1432.1,1700.1 1436.1,1702.5 1438.2,1705.8 1440.3,1718.8 1440.7,1725.8 1439.9,1733.8 1437.6,1740.8 1435.1,1744.8 1432.1,1746.9 1429.1,1747.3 1422.1,1745.9 1419.5,1746.8 1417.3,1748.8 1415.9,1752.8 1416.5,1767.8 1414.2,1776.8 1411.2,1781.8 1408.1,1784.9 1404.1,1787.1 1400.1,1787.8 M1379.9,1863.8 1382.7,1861.8 1386.1,1860.5 1395.1,1859.4 1404.1,1860.6 1407.3,1861.8 1410.1,1863.8 M1404.1,1781.8 1401.1,1782.7 1398.1,1782.6 1395.1,1781.4 1391.9,1778.8 1389.2,1774.8 1387.7,1770.8 1385.7,1756.8 1384.1,1752.7 1380.3,1748.8 1366.1,1739.7 1362.1,1735.6 1359.2,1730.8 1357.8,1726.8 1357.2,1721.8 1359.0,1708.8 1360.2,1705.8 1362.1,1703.3 1368.1,1699.3 1375.1,1697.2 1383.1,1696.2 1406.1,1697.4 1431.1,1701.5 1435.0,1703.8 1436.9,1706.8 1438.9,1716.8 1439.8,1724.8 1439.3,1731.8 1437.2,1738.8 1435.1,1742.3 1432.1,1744.6 1429.1,1744.8 1424.1,1743.5 1421.1,1743.5 1417.6,1744.8 1413.8,1747.8 1412.5,1749.8 1411.8,1752.8 1413.0,1763.8 1412.1,1771.3 1409.0,1777.8 1404.1,1781.8 M1384.8,1863.8 1389.1,1861.9 1395.1,1861.3 1401.1,1862.0 1405.2,1863.8 M1401.1,1777.0 1398.1,1776.8 1396.1,1775.9 1392.6,1771.8 1390.8,1765.8 1390.0,1754.8 1388.1,1750.8 1384.2,1747.8 1373.1,1742.3 1368.1,1739.0 1363.1,1734.0 1360.2,1728.8 1359.2,1724.8 1359.0,1720.8 1361.0,1708.8 1363.9,1703.8 1370.3,1699.8 1376.1,1698.1 1384.1,1697.1 1407.1,1698.5 1430.2,1702.8 1433.8,1704.8 1435.7,1707.8 1438.2,1717.8 1438.9,1724.8 1438.4,1731.8 1436.5,1737.8 1434.1,1741.2 1432.1,1742.6 1429.1,1742.9 1423.1,1741.4 1420.1,1741.8 1413.5,1744.8 1409.2,1747.8 1407.7,1749.8 1407.2,1751.8 1408.9,1762.8 1408.4,1768.8 1407.1,1772.2 1405.2,1774.8 1401.1,1777.0 M1402.1,1746.8 1398.1,1747.7 1395.1,1747.6 1380.1,1743.2 1371.1,1738.9 1365.1,1733.7 1361.5,1726.8 1360.9,1719.8 1363.0,1708.8 1364.5,1705.8 1367.1,1703.2 1372.1,1700.4 1378.1,1698.8 1385.1,1698.1 1394.1,1698.3 1414.1,1700.6 1430.1,1704.7 1433.1,1706.8 1436.1,1713.7 1438.0,1723.8 1437.1,1732.8 1434.3,1738.8 1432.1,1740.6 1430.1,1741.0 1424.1,1739.7 1421.1,1739.9 1402.1,1746.8 M1406.1,1742.9 1395.1,1743.2 1382.1,1741.5 1374.1,1738.7 1368.1,1734.5 1364.1,1728.8 1362.5,1721.8 1364.7,1709.8 1367.6,1704.8 1372.0,1701.8 1378.1,1699.9 1385.1,1699.1 1395.1,1699.3 1406.1,1700.2 1414.1,1701.7 1429.1,1706.7 1432.1,1708.7 1435.6,1715.8 1437.2,1723.8 1436.7,1730.8 1434.1,1736.9 1431.1,1739.0 1422.1,1738.2 1406.1,1742.9 M1408.1,1740.9 1402.1,1741.1 1382.1,1739.5 1375.1,1737.3 1369.7,1733.8 1367.1,1730.8 1365.4,1727.8 1364.2,1721.8 1366.2,1710.8 1368.8,1705.8 1373.1,1702.7 1380.1,1700.6 1388.1,1699.9 1399.1,1700.4 1414.1,1702.8 1431.1,1710.9 1434.4,1715.8 1436.2,1722.8 1435.9,1729.8 1434.1,1734.8 1431.1,1737.3 1422.1,1736.9 1408.1,1740.9 M1412.1,1739.0 1405.1,1739.6 1394.1,1738.3 1383.1,1737.8 1377.1,1736.4 1372.1,1733.7 1367.7,1728.8 1365.9,1722.8 1367.0,1714.8 1368.5,1709.8 1370.1,1706.8 1374.1,1703.6 1381.1,1701.4 1390.1,1700.8 1403.1,1701.7 1409.8,1702.8 1415.1,1704.5 1423.7,1710.8 1431.1,1713.6 1434.1,1718.1 1435.4,1723.8 1435.0,1729.8 1433.1,1734.0 1430.1,1735.8 1423.1,1735.4 1412.1,1739.0 M1412.1,1737.9 1405.1,1738.3 1393.1,1736.3 1382.1,1735.9 1377.1,1734.6 1373.1,1732.4 1369.0,1727.8 1367.5,1721.8 1369.4,1712.8 1372.1,1707.0 1376.5,1703.8 1383.1,1702.1 1392.1,1701.8 1405.1,1703.0 1414.1,1705.5 1423.1,1713.1 1431.1,1716.0 1433.2,1718.8 1434.5,1723.8 1434.2,1728.8 1432.3,1732.8 1430.1,1734.1 1422.1,1734.3 1412.1,1737.9 M1412.1,1736.9 1406.1,1737.3 1393.1,1734.5 1381.1,1734.0 1377.1,1732.9 1374.1,1731.1 1370.4,1726.8 1369.2,1721.8 1370.3,1715.8 1373.7,1707.8 1378.1,1704.6 1385.1,1703.0 1394.1,1703.0 1406.1,1704.4 1413.1,1706.7 1422.1,1714.5 1429.1,1716.9 1431.1,1718.3 1432.7,1720.8 1433.5,1724.8 1433.0,1728.8 1431.1,1731.8 1429.1,1732.6 1423.1,1732.8 1412.1,1736.9 M1412.1,1736.0 1405.1,1736.1 1392.1,1732.6 1381.1,1732.2 1375.1,1729.7 1372.1,1726.2 1371.0,1721.8 1372.0,1716.8 1375.5,1708.8 1379.1,1705.8 1386.1,1704.1 1394.1,1704.2 1405.9,1705.8 1412.1,1708.2 1422.1,1716.2 1429.1,1719.1 1431.0,1720.8 1432.1,1723.5 1432.2,1725.8 1431.8,1727.8 1430.6,1729.8 1429.1,1730.6 1423.1,1731.4 1412.1,1736.0 M1413.1,1734.8 1406.1,1735.2 1392.1,1730.6 1382.1,1730.4 1377.1,1728.7 1374.2,1725.8 1373.1,1721.8 1374.1,1717.4 1377.9,1709.8 1381.5,1706.8 1387.1,1705.6 1392.9,1705.8 1406.1,1708.0 1413.1,1711.0 1423.1,1718.6 1428.1,1721.2 1429.8,1722.8 1430.3,1725.8 1429.1,1727.9 1424.1,1729.4 1417.1,1733.3 1413.1,1734.8 M1413.1,1733.9 1409.1,1734.5 1404.1,1733.7 1391.1,1727.9 1383.1,1728.1 1380.1,1727.6 1377.3,1725.8 1376.1,1724.0 1375.7,1721.8 1376.1,1719.6 1379.1,1715.1 1383.1,1711.1 1385.1,1710.0 1386.1,1710.0 1386.5,1710.8 1386.4,1712.8 1387.4,1714.8 1389.7,1716.8 1392.1,1717.5 1395.1,1716.7 1404.1,1711.4 1408.1,1711.1 1412.1,1712.3 1420.1,1717.8 1425.0,1722.8 1425.7,1724.8 1424.4,1726.8 1419.5,1730.8 1413.1,1733.9 M1413.1,1733.0 1408.1,1733.5 1402.0,1731.8 1395.2,1726.8 1393.7,1724.8 1393.5,1722.8 1398.3,1717.8 1404.1,1714.0 1409.1,1713.2 1414.1,1714.7 1420.5,1719.8 1422.4,1722.8 1422.7,1724.8 1421.9,1726.8 1419.2,1729.8 1413.1,1733.0 M1383.1,1723.9 1380.8,1722.8 1381.1,1720.8 1383.1,1720.4 1385.2,1721.8 1385.1,1723.0 1383.1,1723.9 M1413.1,1732.0 1410.1,1732.5 1406.1,1732.1 1402.8,1730.8 1400.0,1728.8 1397.7,1725.8 1397.3,1723.8 1399.2,1719.8 1403.1,1716.6 1408.1,1714.9 1413.1,1715.6 1417.1,1718.1 1420.2,1721.8 1420.8,1723.8 1420.5,1725.8 1417.4,1729.8 1413.1,1732.0 M1413.1,1731.0 1410.1,1731.5 1407.1,1731.2 1402.1,1728.7 1400.5,1726.8 1399.6,1723.8 1401.6,1719.8 1405.1,1717.3 1409.1,1716.2 1413.1,1716.9 1417.1,1719.7 1419.0,1722.8 1418.9,1725.8 1416.9,1728.8 1413.1,1731.0 M1413.1,1729.8 1408.1,1730.3 1403.3,1727.8 1402.0,1725.8 1401.6,1723.8 1402.3,1721.8 1403.9,1719.8 1407.1,1718.0 1410.1,1717.6 1413.1,1718.3 1416.1,1720.4 1417.5,1722.8 1417.4,1725.8 1416.1,1727.9 1413.1,1729.8 M1412.1,1728.9 1408.1,1729.0 1404.6,1726.8 1403.6,1723.8 1405.2,1720.8 1407.1,1719.6 1410.1,1719.0 1413.1,1719.7 1415.1,1721.4 1416.2,1723.8 1415.8,1725.8 1414.2,1727.8 1412.1,1728.9 M1412.1,1727.2 1409.1,1727.6 1407.1,1726.7 1406.1,1725.5 1405.8,1723.8 1406.9,1721.8 1410.1,1720.6 1413.2,1721.8 1414.1,1723.0 1414.3,1724.8 1412.1,1727.2" fill="none" stroke="#6a6a6a" stroke-width="0.95"/>
<path d="M1142.2,2082.5 1134.2,2082.2 1126.2,2078.8 1119.2,2072.6 1113.6,2064.5 1110.3,2057.5 1107.6,2049.5 1102.2,2021.5 1095.6,2005.5 1092.7,1995.5 1091.8,1987.5 1092.0,1980.5 1093.4,1972.5 1096.1,1965.5 1099.6,1959.5 1104.2,1954.6 1109.2,1951.2 1115.2,1949.2 1123.2,1948.9 1146.2,1952.5 1158.2,1950.3 1162.2,1950.9 1166.2,1953.4 1170.2,1958.5 1173.4,1965.5 1175.4,1973.5 1176.6,1983.5 1176.4,1994.5 1172.9,2036.5 1169.9,2051.5 1165.0,2063.5 1158.2,2073.2 1154.2,2077.0 1150.2,2079.7 1142.2,2082.5 M1036.2,1966.7 1039.2,1967.3 1041.2,1969.5 1042.8,1973.5 1043.3,1978.5 1042.8,1982.5 1041.2,1986.5 1039.2,1988.7 1036.2,1989.3 M1114.9,2127.5 1117.2,2123.1 1122.2,2119.3 1129.2,2116.8 1137.2,2115.9 1145.2,2116.8 1151.2,2118.9 1156.3,2122.5 1157.9,2124.5 1159.1,2127.5 M1140.2,2073.6 1134.2,2073.0 1128.2,2070.2 1122.8,2065.5 1117.8,2058.5 1115.0,2052.5 1112.6,2045.5 1107.7,2021.5 1098.8,2003.5 1096.1,1994.5 1095.2,1987.5 1095.4,1980.5 1096.8,1973.5 1099.2,1967.5 1102.3,1962.5 1106.2,1958.3 1111.2,1955.1 1116.2,1953.5 1124.2,1953.2 1147.2,1956.2 1157.2,1954.9 1161.2,1955.3 1165.2,1957.6 1168.2,1961.2 1170.9,1966.5 1172.9,1973.5 1174.2,1983.5 1173.7,1995.5 1169.2,2019.3 1166.9,2038.5 1164.5,2048.5 1160.2,2058.5 1154.2,2066.6 1147.2,2071.7 1140.2,2073.6 M1036.2,1974.2 1037.2,1973.9 1038.2,1974.5 1039.3,1978.5 1038.2,1981.5 1037.2,1982.1 1036.2,1981.8 M1120.0,2127.5 1122.2,2123.9 1126.2,2121.2 1131.2,2119.5 1137.2,2118.9 1143.2,2119.6 1148.2,2121.4 1152.2,2124.3 1154.0,2127.5 M1143.2,2065.8 1137.2,2066.3 1132.2,2064.8 1127.2,2061.4 1122.2,2055.4 1119.2,2049.8 1116.9,2043.5 1113.4,2025.5 1111.9,2020.5 1102.5,2004.5 1098.8,1994.5 1097.8,1988.5 1097.8,1982.5 1098.7,1976.5 1100.8,1970.5 1103.7,1965.5 1107.2,1961.6 1111.2,1958.7 1116.2,1956.9 1124.2,1956.3 1148.2,1958.9 1157.2,1958.2 1161.2,1958.7 1164.2,1960.5 1167.2,1964.1 1169.4,1968.5 1171.0,1973.5 1172.4,1984.5 1171.7,1995.5 1169.8,2004.5 1165.3,2019.5 1162.7,2036.5 1160.8,2044.5 1157.5,2052.5 1153.6,2058.5 1148.2,2063.5 1143.2,2065.8 M1124.5,2127.5 1126.2,2125.1 1129.2,2123.1 1133.2,2121.9 1137.2,2121.6 1141.2,2122.0 1145.2,2123.3 1148.2,2125.5 1149.5,2127.5 M1140.2,2060.6 1135.2,2060.0 1131.2,2058.1 1127.2,2054.6 1124.2,2050.5 1120.0,2040.5 1116.8,2024.5 1115.2,2019.5 1104.5,2003.5 1100.6,1993.5 1099.8,1988.5 1099.8,1982.5 1100.8,1976.5 1102.6,1971.5 1105.2,1967.1 1108.5,1963.5 1112.2,1960.9 1117.2,1959.1 1122.2,1958.5 1130.2,1958.7 1149.2,1960.9 1160.2,1961.0 1163.2,1962.5 1166.2,1965.9 1168.5,1970.5 1170.0,1975.5 1171.1,1985.5 1170.0,1996.5 1167.8,2004.5 1161.8,2019.5 1158.9,2036.5 1157.0,2043.5 1154.2,2049.8 1150.2,2055.3 1145.2,2059.1 1140.2,2060.6 M1128.9,2127.5 1132.2,2124.9 1137.2,2124.1 1142.2,2125.1 1145.1,2127.5 M1140.2,2054.6 1136.2,2054.3 1133.2,2053.0 1130.0,2050.5 1126.9,2046.5 1123.4,2038.5 1120.5,2023.5 1118.8,2018.5 1116.3,2014.5 1107.0,2003.5 1104.3,1998.5 1102.5,1993.5 1101.6,1988.5 1101.6,1982.5 1102.5,1977.5 1104.3,1972.5 1106.7,1968.5 1110.2,1964.9 1114.2,1962.5 1118.2,1961.2 1124.2,1960.5 1134.2,1960.6 1149.2,1962.8 1159.2,1963.1 1162.2,1964.4 1165.2,1967.5 1168.6,1975.5 1169.8,1985.5 1168.5,1996.5 1165.8,2004.5 1158.1,2018.5 1155.7,2033.5 1153.9,2040.5 1151.2,2046.3 1148.2,2050.3 1144.2,2053.4 1140.2,2054.6 M1141.2,2048.6 1138.2,2048.9 1135.2,2048.0 1132.2,2046.0 1130.1,2043.5 1126.4,2035.5 1123.8,2021.5 1122.5,2017.5 1119.6,2013.5 1112.2,2006.7 1108.6,2002.5 1105.7,1997.5 1104.0,1992.5 1103.2,1987.5 1103.2,1982.5 1104.2,1977.5 1105.7,1973.5 1108.2,1969.5 1111.2,1966.5 1114.2,1964.6 1118.2,1963.1 1125.2,1962.1 1135.2,1962.0 1150.2,1964.5 1159.2,1965.1 1162.2,1966.7 1164.2,1968.7 1167.4,1975.5 1168.4,1980.5 1168.7,1986.5 1168.1,1992.5 1166.6,1998.5 1163.2,2005.3 1156.1,2012.5 1154.2,2015.5 1152.2,2032.5 1149.2,2041.4 1145.2,2046.5 1141.2,2048.6 M1140.2,2042.5 1136.2,2042.0 1132.4,2038.5 1129.8,2032.5 1127.8,2019.5 1126.3,2015.5 1123.6,2012.5 1115.2,2006.7 1111.2,2003.0 1108.0,1998.5 1105.5,1992.5 1104.6,1983.5 1105.4,1978.5 1106.9,1974.5 1111.4,1968.5 1114.2,1966.5 1118.2,1964.8 1125.2,1963.6 1136.2,1963.3 1150.2,1965.9 1158.2,1966.6 1161.2,1967.9 1163.2,1969.8 1166.5,1976.5 1167.4,1981.5 1167.6,1987.5 1166.7,1993.5 1165.2,1998.4 1163.2,2002.1 1160.2,2005.4 1157.2,2007.1 1151.2,2008.5 1148.7,2010.5 1147.9,2013.5 1148.9,2024.5 1148.1,2032.5 1145.2,2039.0 1143.2,2041.1 1140.2,2042.5 M1137.2,2011.6 1134.2,2011.9 1118.2,2005.9 1112.2,2001.3 1108.3,1995.5 1106.1,1987.5 1106.2,1982.5 1107.0,1978.5 1108.7,1974.5 1110.8,1971.5 1116.2,1967.4 1121.2,1965.7 1127.2,1964.8 1134.2,1964.5 1140.2,1964.9 1159.2,1968.8 1162.2,1971.0 1164.5,1974.5 1166.3,1981.5 1166.4,1988.5 1164.8,1995.5 1162.2,2000.4 1160.2,2002.4 1157.2,2003.7 1150.2,2003.8 1147.2,2004.5 1143.6,2006.5 1137.2,2011.6 M1140.2,2031.5 1138.2,2031.8 1137.2,2031.2 1135.4,2027.5 1135.4,2022.5 1137.2,2018.6 1138.2,2018.5 1140.2,2019.9 1141.9,2023.5 1142.0,2028.5 1140.2,2031.5 M1136.2,2005.7 1129.2,2006.2 1122.2,2005.1 1116.2,2002.3 1112.0,1998.5 1108.7,1992.5 1107.5,1986.5 1108.2,1979.5 1111.2,1973.5 1114.2,1970.4 1119.2,1967.8 1132.2,1965.7 1141.2,1966.2 1157.2,1969.9 1160.2,1971.3 1162.2,1973.2 1164.0,1976.5 1165.5,1983.5 1164.8,1991.5 1162.2,1997.5 1160.2,1999.7 1158.2,2000.7 1148.2,2001.2 1136.2,2005.7 M1132.2,2003.5 1125.2,2003.4 1120.2,2002.2 1115.2,1999.4 1111.8,1995.5 1109.3,1989.5 1108.9,1983.5 1110.2,1978.1 1113.2,1973.4 1116.8,1970.5 1121.2,1968.6 1128.2,1967.2 1135.2,1966.6 1143.2,1967.7 1157.2,1971.6 1160.2,1973.2 1163.1,1977.5 1164.4,1983.5 1163.8,1990.5 1161.2,1996.1 1159.2,1997.8 1157.2,1998.6 1149.2,1998.8 1139.2,2002.3 1132.2,2003.5 M1132.2,2001.5 1125.2,2001.4 1120.2,2000.2 1115.6,1997.5 1112.3,1993.5 1110.5,1988.5 1110.4,1982.5 1112.0,1977.5 1115.1,1973.5 1118.2,1971.3 1123.2,1969.4 1130.2,1968.0 1136.2,1967.6 1144.2,1969.1 1157.2,1973.3 1160.2,1975.3 1162.5,1979.5 1163.3,1984.5 1162.5,1990.5 1160.2,1994.6 1157.2,1996.3 1150.2,1996.7 1139.2,2000.5 1132.2,2001.5 M1136.2,1999.6 1129.2,1999.9 1123.2,1999.3 1118.4,1997.5 1115.2,1994.9 1112.5,1990.5 1111.6,1985.5 1112.3,1980.5 1115.2,1975.4 1118.9,1972.5 1123.2,1970.7 1130.2,1969.0 1136.2,1968.5 1144.2,1970.1 1156.2,1974.7 1159.2,1976.6 1161.2,1979.7 1162.1,1984.5 1161.4,1989.5 1159.2,1993.0 1157.2,1994.1 1150.2,1995.0 1141.2,1998.4 1136.2,1999.6 M1139.2,1997.6 1133.2,1998.4 1126.2,1998.1 1121.2,1997.0 1117.0,1994.5 1114.1,1990.5 1113.0,1985.5 1113.8,1980.5 1116.2,1976.4 1119.8,1973.5 1124.2,1971.6 1130.2,1970.0 1136.2,1969.4 1144.2,1971.1 1158.2,1978.0 1160.2,1981.3 1160.7,1984.5 1160.2,1988.0 1158.8,1990.5 1156.2,1992.1 1150.2,1993.3 1139.2,1997.6 M1138.2,1996.6 1132.2,1997.1 1125.2,1996.4 1120.2,1994.7 1117.3,1992.5 1115.0,1988.5 1114.4,1984.5 1115.3,1980.5 1118.1,1976.5 1122.2,1973.7 1127.2,1971.7 1133.2,1970.5 1138.2,1970.4 1145.2,1972.5 1157.2,1979.9 1158.3,1981.5 1158.9,1984.5 1158.2,1987.4 1157.2,1988.7 1143.2,1995.0 1138.2,1996.6 M1137.2,1995.7 1132.2,1995.9 1126.2,1995.2 1122.2,1993.9 1118.7,1991.5 1116.7,1988.5 1116.0,1984.5 1117.0,1980.5 1119.1,1977.5 1123.2,1974.5 1128.2,1972.5 1133.2,1971.4 1138.2,1971.3 1145.2,1973.6 1154.4,1980.5 1155.7,1982.5 1156.0,1984.5 1154.2,1987.3 1143.9,1993.5 1137.2,1995.7 M1137.2,1994.6 1132.2,1994.7 1127.2,1994.0 1123.2,1992.6 1120.2,1990.6 1118.2,1987.6 1117.7,1984.5 1118.3,1981.5 1120.2,1978.5 1126.2,1974.4 1131.2,1972.7 1135.2,1972.1 1142.2,1973.1 1148.9,1977.5 1152.0,1981.5 1152.4,1983.5 1151.9,1985.5 1149.3,1988.5 1145.3,1991.5 1141.2,1993.5 1137.2,1994.6 M1136.2,1993.6 1130.2,1993.3 1124.2,1991.4 1120.8,1988.5 1119.5,1984.5 1120.6,1980.5 1124.7,1976.5 1130.2,1973.9 1136.2,1972.9 1141.2,1973.7 1145.2,1975.8 1148.8,1979.5 1150.0,1983.5 1148.9,1986.5 1145.2,1990.2 1141.2,1992.4 1136.2,1993.6 M1140.2,1991.6 1133.2,1992.4 1128.8,1991.5 1125.2,1989.9 1122.6,1987.5 1121.8,1985.5 1121.9,1982.5 1122.8,1980.5 1127.2,1976.6 1132.2,1974.5 1138.2,1974.0 1143.2,1975.8 1147.0,1979.5 1147.9,1981.5 1147.9,1984.5 1145.3,1988.5 1140.2,1991.6 M1139.2,1990.7 1136.2,1991.2 1132.2,1990.9 1126.4,1988.5 1124.6,1986.5 1123.9,1984.5 1125.1,1980.5 1129.2,1977.0 1134.2,1975.2 1139.2,1975.3 1143.2,1977.2 1145.9,1980.5 1146.2,1984.5 1143.3,1988.5 1139.2,1990.7 M1138.2,1989.6 1133.2,1989.7 1128.2,1987.5 1126.6,1985.5 1126.2,1983.5 1126.7,1981.5 1128.2,1979.5 1132.2,1977.0 1136.2,1976.1 1139.2,1976.5 1142.8,1978.5 1144.6,1981.5 1144.5,1984.5 1142.2,1987.7 1138.2,1989.6 M1136.2,1988.5 1131.2,1987.3 1129.2,1985.5 1128.6,1983.5 1129.1,1981.5 1131.2,1979.2 1134.2,1977.7 1137.2,1977.4 1140.2,1978.3 1141.7,1979.5 1142.9,1981.5 1143.0,1983.5 1141.2,1986.6 1139.2,1987.8 1136.2,1988.5 M1137.2,1986.7 1134.2,1986.5 1131.6,1984.5 1131.7,1981.5 1134.2,1979.5 1138.2,1979.3 1140.8,1981.5 1140.6,1984.5 1139.2,1985.9 1137.2,1986.7" fill="none" stroke="#6a6a6a" stroke-width="0.95"/>
<path d="M1396.1,2082.5 1390.1,2082.2 1384.1,2081.1 1378.1,2079.0 1373.1,2076.4 1368.1,2072.7 1363.9,2068.5 1360.3,2063.5 1357.8,2058.5 1355.7,2051.5 1355.1,2044.5 1355.6,2038.5 1358.1,2026.5 1358.1,2022.5 1357.0,2018.5 1350.9,2003.5 1349.1,1993.5 1349.0,1987.5 1350.5,1968.5 1353.2,1963.5 1358.1,1959.2 1366.1,1955.0 1373.1,1952.9 1382.1,1952.3 1415.1,1955.2 1426.1,1954.6 1430.1,1955.1 1434.1,1956.8 1440.5,1961.5 1443.9,1965.5 1444.6,1968.5 1441.7,1978.5 1442.0,1995.5 1440.8,2006.5 1434.5,2029.5 1435.0,2045.5 1433.6,2054.5 1431.3,2060.5 1428.4,2065.5 1424.3,2070.5 1420.1,2074.2 1415.1,2077.4 1409.1,2080.1 1402.1,2081.9 1396.1,2082.5 M1339.1,2127.5 1340.6,2123.5 1343.1,2120.5 1347.1,2117.3 1353.1,2114.1 1367.1,2109.9 1375.1,2108.8 1385.1,2108.3 1402.1,2109.8 1416.1,2113.7 1421.7,2116.5 1426.1,2119.7 1429.4,2123.5 1430.9,2127.5 M1403.1,2076.5 1397.1,2077.4 1390.1,2077.1 1383.1,2075.5 1377.1,2072.7 1372.1,2069.3 1367.1,2064.1 1363.6,2058.5 1361.4,2052.5 1360.6,2047.5 1360.6,2041.5 1363.8,2027.5 1363.9,2022.5 1362.6,2018.5 1357.0,2008.5 1354.3,2001.5 1352.7,1993.5 1352.8,1985.5 1354.7,1970.5 1356.7,1965.5 1359.5,1962.5 1363.1,1960.0 1371.1,1956.7 1377.1,1955.5 1384.1,1955.3 1416.1,1957.5 1428.1,1957.7 1432.1,1959.0 1435.8,1961.5 1438.6,1964.5 1440.0,1967.5 1439.4,1978.5 1440.1,1993.5 1439.5,2001.5 1436.2,2014.5 1428.8,2028.5 1429.6,2045.5 1428.0,2054.5 1424.7,2061.5 1418.8,2068.5 1411.1,2073.7 1403.1,2076.5 M1345.6,2127.5 1346.8,2124.5 1349.2,2121.5 1353.1,2118.5 1358.1,2116.0 1371.1,2112.3 1385.1,2111.2 1399.1,2112.4 1412.1,2116.0 1416.9,2118.5 1420.8,2121.5 1423.2,2124.5 1424.4,2127.5 M1397.1,2073.5 1387.1,2072.6 1378.1,2068.8 1371.0,2062.5 1366.3,2054.5 1364.8,2048.5 1364.7,2042.5 1369.1,2023.5 1367.4,2018.5 1358.9,2005.5 1355.9,1996.5 1355.5,1986.5 1358.4,1969.5 1360.6,1965.5 1365.1,1961.7 1371.1,1959.0 1377.1,1957.7 1385.1,1957.2 1399.1,1957.7 1429.1,1960.3 1434.5,1963.5 1436.1,1965.5 1437.4,1968.5 1438.5,1995.5 1437.7,2002.5 1436.3,2008.5 1434.1,2013.9 1431.1,2018.2 1429.1,2019.9 1426.1,2020.9 1424.1,2020.7 1418.1,2017.9 1416.7,2018.5 1416.1,2019.5 1416.6,2021.5 1422.0,2029.5 1424.5,2036.5 1425.5,2044.5 1424.3,2052.5 1420.5,2060.5 1414.1,2067.2 1406.1,2071.6 1397.1,2073.5 M1350.6,2127.5 1351.9,2124.5 1354.1,2122.1 1357.6,2119.5 1362.1,2117.4 1373.1,2114.4 1385.1,2113.4 1397.1,2114.4 1408.1,2117.4 1412.4,2119.5 1416.1,2122.2 1418.1,2124.5 1419.4,2127.5 M1397.1,2070.6 1388.1,2069.8 1380.1,2066.5 1373.3,2060.5 1369.3,2053.5 1367.9,2047.5 1367.9,2041.5 1369.3,2035.5 1373.2,2025.5 1373.6,2022.5 1372.0,2018.5 1365.1,2011.0 1362.1,2006.7 1358.3,1997.5 1357.5,1992.5 1357.6,1986.5 1360.7,1970.5 1362.8,1966.5 1367.1,1962.8 1373.1,1960.2 1379.1,1959.0 1401.1,1959.1 1428.1,1961.8 1433.1,1964.8 1435.5,1969.5 1437.5,1991.5 1437.0,1999.5 1435.8,2005.5 1433.1,2012.1 1431.1,2014.8 1429.1,2016.3 1427.1,2016.9 1425.1,2016.6 1420.1,2013.9 1417.1,2013.3 1413.7,2014.5 1410.3,2017.5 1409.7,2019.5 1410.4,2021.5 1417.9,2030.5 1420.9,2036.5 1422.3,2043.5 1421.6,2050.5 1418.8,2057.5 1413.1,2064.2 1405.1,2068.8 1397.1,2070.6 M1354.5,2127.5 1356.0,2124.5 1357.9,2122.5 1364.1,2118.9 1374.1,2116.1 1385.1,2115.2 1396.1,2116.1 1405.1,2118.6 1412.1,2122.5 1414.0,2124.5 1415.5,2127.5 M1398.1,2067.6 1391.1,2067.5 1384.1,2065.4 1378.1,2061.3 1373.5,2055.5 1371.0,2048.5 1371.1,2040.5 1373.0,2034.5 1379.0,2023.5 1379.7,2020.5 1378.4,2018.5 1370.1,2012.4 1365.3,2007.5 1361.7,2001.5 1359.9,1995.5 1359.4,1990.5 1359.7,1985.5 1363.7,1969.5 1365.6,1966.5 1368.1,1964.4 1372.1,1962.3 1377.1,1960.9 1386.1,1960.0 1400.1,1960.2 1426.1,1963.2 1431.1,1965.5 1432.7,1967.5 1433.8,1970.5 1436.1,1986.5 1436.4,1994.5 1435.0,2003.5 1432.1,2010.4 1430.1,2012.7 1427.1,2013.9 1425.1,2013.6 1419.1,2010.6 1416.1,2010.8 1404.7,2016.5 1402.6,2018.5 1403.2,2020.5 1413.1,2029.5 1417.1,2035.5 1419.2,2043.5 1418.9,2048.5 1417.9,2052.5 1414.5,2058.5 1410.1,2062.8 1404.1,2066.1 1398.1,2067.6 M1358.2,2127.5 1360.9,2123.5 1367.1,2119.9 1375.1,2117.7 1385.1,2116.9 1395.1,2117.7 1403.1,2120.0 1409.1,2123.5 1411.8,2127.5 M1399.1,2014.5 1385.1,2015.1 1378.1,2013.9 1374.1,2012.2 1370.1,2009.5 1367.0,2006.5 1364.3,2002.5 1362.5,1998.5 1361.3,1993.5 1361.7,1984.5 1366.0,1969.5 1368.3,1966.5 1371.1,1964.5 1376.1,1962.5 1382.1,1961.4 1402.1,1961.4 1426.1,1965.0 1429.1,1966.3 1431.1,1968.5 1432.3,1971.5 1434.7,1983.5 1435.5,1991.5 1434.4,2001.5 1431.5,2008.5 1429.1,2010.9 1427.1,2011.5 1425.1,2011.1 1420.1,2008.7 1417.1,2008.5 1406.1,2013.1 1399.1,2014.5 M1400.1,2064.7 1392.1,2065.1 1384.1,2062.5 1378.0,2057.5 1374.2,2050.5 1373.5,2046.5 1373.5,2042.5 1376.0,2034.5 1378.6,2030.5 1382.1,2026.6 1388.1,2023.1 1392.1,2022.5 1396.1,2022.8 1404.1,2025.8 1411.2,2031.5 1414.1,2035.5 1415.8,2039.5 1416.5,2043.5 1416.4,2047.5 1415.4,2051.5 1413.4,2055.5 1411.1,2058.5 1407.5,2061.5 1400.1,2064.7 M1361.6,2127.5 1364.1,2124.0 1369.1,2121.1 1376.1,2119.1 1385.1,2118.4 1393.1,2119.0 1400.1,2120.8 1405.2,2123.5 1408.4,2127.5 M1405.1,2011.7 1398.1,2012.4 1379.1,2011.5 1372.1,2008.6 1367.1,2003.8 1363.5,1996.5 1362.8,1992.5 1362.8,1987.5 1363.8,1982.5 1367.3,1971.5 1368.9,1968.5 1370.9,1966.5 1375.1,1964.2 1381.1,1962.7 1399.1,1962.2 1409.1,1963.3 1419.1,1966.0 1425.1,1966.9 1427.1,1967.5 1429.1,1969.2 1430.4,1971.5 1433.1,1981.0 1434.5,1989.5 1434.1,1998.5 1431.8,2005.5 1430.1,2007.9 1428.1,2009.2 1426.1,2009.3 1420.1,2006.8 1418.1,2006.6 1405.1,2011.7 M1399.1,2062.5 1392.1,2062.7 1385.1,2060.3 1379.5,2055.5 1376.5,2049.5 1376.0,2042.5 1378.4,2035.5 1383.1,2029.8 1389.1,2026.6 1396.1,2026.2 1400.1,2027.1 1404.1,2028.9 1410.1,2034.0 1413.5,2040.5 1413.9,2047.5 1412.8,2051.5 1411.2,2054.5 1406.1,2059.6 1399.1,2062.5 M1364.8,2127.5 1367.1,2124.5 1372.1,2121.8 1378.1,2120.3 1385.1,2119.8 1392.1,2120.4 1398.1,2121.9 1402.9,2124.5 1405.2,2127.5 M1402.1,2010.5 1378.1,2008.9 1372.1,2006.2 1367.6,2001.5 1365.6,1997.5 1364.6,1993.5 1364.7,1985.5 1369.6,1971.5 1371.6,1968.5 1374.0,1966.5 1379.0,1964.5 1385.1,1963.5 1395.1,1963.2 1404.1,1963.7 1412.1,1965.5 1417.7,1968.5 1419.5,1970.5 1419.7,1971.5 1417.9,1974.5 1418.1,1975.7 1419.1,1976.4 1420.1,1976.1 1421.1,1974.6 1421.6,1971.5 1423.1,1970.8 1426.1,1971.1 1428.1,1973.0 1432.1,1981.8 1433.6,1989.5 1433.1,1998.2 1430.8,2004.5 1429.1,2006.4 1427.1,2007.2 1420.1,2004.8 1418.1,2004.8 1408.1,2009.3 1402.1,2010.5 M1400.1,2059.6 1394.1,2060.4 1388.1,2059.0 1383.0,2055.5 1379.7,2050.5 1378.6,2044.5 1380.0,2038.5 1383.4,2033.5 1389.1,2029.9 1395.1,2029.1 1401.3,2030.5 1407.1,2034.5 1410.3,2039.5 1411.4,2045.5 1409.9,2051.5 1405.9,2056.5 1400.1,2059.6 M1368.4,2127.5 1370.1,2125.4 1374.1,2123.2 1379.1,2121.9 1385.1,2121.4 1391.1,2121.9 1396.1,2123.2 1400.1,2125.5 1401.6,2127.5 M1406.1,2008.6 1399.1,2009.2 1379.1,2007.1 1374.1,2005.2 1369.7,2001.5 1366.6,1995.5 1365.9,1991.5 1366.0,1987.5 1367.3,1982.5 1371.1,1973.5 1374.4,1968.5 1379.1,1966.0 1386.1,1964.7 1397.1,1964.4 1406.1,1965.3 1410.2,1966.5 1413.2,1968.5 1414.0,1970.5 1413.9,1975.5 1414.9,1977.5 1417.1,1979.6 1420.1,1980.4 1426.1,1977.1 1429.1,1978.9 1431.7,1984.5 1432.7,1990.5 1432.2,1997.5 1430.1,2003.0 1427.1,2005.1 1425.1,2004.9 1421.1,2003.1 1418.1,2003.0 1410.1,2007.2 1406.1,2008.6 M1398.1,2057.5 1393.1,2057.7 1388.1,2056.1 1384.1,2052.7 1381.9,2048.5 1381.4,2043.5 1383.0,2038.5 1386.6,2034.5 1391.1,2032.3 1396.1,2031.9 1401.3,2033.5 1405.3,2036.5 1408.1,2041.5 1408.6,2046.5 1406.8,2051.5 1403.1,2055.3 1398.1,2057.5 M1372.3,2127.5 1374.4,2125.5 1377.1,2124.3 1385.1,2123.1 1393.1,2124.3 1395.6,2125.5 1397.7,2127.5 M1405.1,2007.7 1398.1,2007.9 1379.1,2005.2 1374.1,2003.1 1370.3,1999.5 1368.7,1996.5 1367.6,1992.5 1368.0,1985.5 1374.3,1972.5 1377.9,1968.5 1383.1,1966.5 1389.1,1965.8 1398.1,1965.6 1405.1,1966.5 1407.9,1967.5 1410.1,1969.3 1411.8,1976.5 1417.1,1981.9 1420.1,1982.8 1426.1,1980.3 1428.1,1980.9 1429.1,1981.9 1431.1,1986.5 1431.8,1992.5 1431.1,1997.6 1429.1,2001.7 1426.1,2003.0 1421.1,2001.1 1419.1,2001.0 1410.1,2006.0 1405.1,2007.7 M1398.1,2054.6 1394.1,2055.0 1390.1,2053.9 1387.1,2051.8 1385.0,2048.5 1384.3,2044.5 1385.3,2040.5 1387.6,2037.5 1391.1,2035.4 1395.1,2034.8 1399.1,2035.6 1403.1,2038.4 1405.0,2041.5 1405.7,2045.5 1404.6,2049.5 1402.1,2052.5 1398.1,2054.6 M1377.1,2127.5 1381.1,2125.6 1385.1,2125.2 1389.1,2125.6 1392.9,2127.5 M1405.1,2006.7 1398.1,2006.8 1379.1,2003.4 1374.1,2001.0 1371.1,1997.7 1369.0,1991.5 1369.1,1988.0 1370.0,1984.5 1372.1,1980.5 1377.8,1972.5 1381.0,1969.5 1385.1,1968.0 1392.1,1967.2 1399.1,1967.2 1404.1,1968.2 1407.0,1970.5 1408.1,1974.5 1409.4,1976.5 1418.1,1984.5 1421.1,1985.1 1426.1,1982.9 1428.1,1983.7 1429.1,1984.9 1430.4,1988.5 1430.7,1993.5 1429.8,1997.5 1428.1,2000.2 1426.1,2000.8 1421.1,1998.9 1419.1,1998.9 1410.9,2004.5 1405.1,2006.7 M1396.1,2051.6 1393.4,2051.5 1391.1,2050.6 1389.1,2048.7 1388.0,2046.5 1388.0,2043.5 1388.8,2041.5 1390.8,2039.5 1393.1,2038.4 1396.1,2038.3 1399.1,2039.5 1401.1,2041.5 1401.9,2043.5 1401.9,2046.5 1401.1,2048.5 1399.0,2050.5 1396.1,2051.6 M1405.1,2005.7 1401.1,2006.0 1396.1,2005.4 1379.1,2001.5 1375.1,1999.5 1372.1,1996.0 1370.7,1991.5 1371.1,1986.5 1373.1,1982.4 1377.1,1978.3 1386.1,1973.5 1388.1,1971.5 1391.1,1970.4 1397.1,1969.8 1401.1,1971.0 1404.1,1974.5 1411.1,1980.0 1419.1,1987.6 1421.1,1988.1 1426.1,1985.7 1428.1,1986.8 1429.2,1989.5 1429.3,1993.5 1428.5,1996.5 1427.1,1998.0 1425.1,1998.1 1420.1,1996.0 1411.1,2003.3 1405.1,2005.7 M1406.1,2004.5 1402.1,2005.1 1397.1,2004.6 1380.1,1999.9 1377.1,1998.6 1374.1,1995.8 1372.7,1992.5 1372.5,1988.5 1374.0,1984.5 1376.9,1981.5 1380.1,1980.0 1389.1,1979.0 1398.1,1976.8 1403.1,1977.1 1408.1,1979.3 1412.1,1982.3 1415.9,1986.5 1417.7,1989.5 1418.3,1992.5 1416.6,1996.5 1413.2,2000.5 1410.1,2002.8 1406.1,2004.5 M1426.1,1994.2 1425.1,1993.9 1424.2,1992.5 1424.7,1990.5 1426.1,1989.8 1427.1,1991.1 1427.2,1992.5 1426.1,1994.2 M1406.1,2003.6 1402.1,2004.2 1397.1,2003.6 1379.1,1997.4 1376.6,1995.5 1374.8,1992.5 1374.5,1989.5 1375.4,1986.5 1377.1,1984.4 1380.1,1982.7 1398.1,1978.8 1403.1,1978.7 1408.1,1980.6 1412.0,1983.5 1414.5,1986.5 1416.0,1989.5 1416.5,1992.5 1415.6,1995.5 1412.9,1999.5 1410.1,2001.8 1406.1,2003.6 M1406.1,2002.7 1402.1,2003.3 1397.1,2002.6 1381.1,1995.8 1377.7,1992.5 1377.2,1989.5 1378.0,1987.5 1381.1,1985.2 1398.1,1980.2 1403.1,1980.0 1408.1,1981.7 1413.3,1986.5 1414.8,1989.5 1415.1,1992.5 1414.4,1995.5 1412.5,1998.5 1409.1,2001.4 1406.1,2002.7 M1406.1,2001.8 1400.1,2002.3 1393.1,2000.0 1383.0,1993.5 1381.6,1991.5 1381.7,1989.5 1385.5,1986.5 1397.1,1981.6 1402.1,1981.0 1407.1,1982.3 1410.1,1984.3 1412.1,1986.5 1413.6,1989.5 1414.0,1992.5 1413.3,1995.5 1411.3,1998.5 1409.1,2000.4 1406.1,2001.8 M1403.1,2001.5 1396.8,2000.5 1390.0,1996.5 1386.6,1992.5 1386.3,1990.5 1387.4,1988.5 1393.0,1984.5 1399.1,1982.3 1404.1,1982.3 1409.1,1984.6 1411.1,1986.7 1412.6,1989.5 1412.6,1994.5 1411.1,1997.3 1409.1,1999.3 1406.1,2000.9 1403.1,2001.5 M1403.1,2000.5 1399.1,2000.1 1395.2,1998.5 1391.4,1995.5 1389.7,1992.5 1389.6,1990.5 1391.5,1987.5 1394.1,1985.5 1398.1,1983.7 1402.1,1983.1 1406.1,1984.0 1409.6,1986.5 1411.4,1989.5 1411.7,1993.5 1410.4,1996.5 1407.1,1999.4 1403.1,2000.5 M1403.1,1999.5 1399.1,1999.0 1395.9,1997.5 1393.6,1995.5 1392.0,1992.5 1392.4,1989.5 1393.9,1987.5 1399.1,1984.7 1403.1,1984.3 1406.1,1985.2 1409.1,1987.5 1410.5,1990.5 1410.6,1993.5 1409.1,1996.5 1406.6,1998.5 1403.1,1999.5 M1406.1,1997.5 1401.1,1998.3 1396.7,1996.5 1394.8,1994.5 1394.0,1992.5 1394.1,1990.5 1395.2,1988.5 1397.8,1986.5 1401.1,1985.5 1404.1,1985.7 1407.1,1987.1 1409.0,1989.5 1409.5,1992.5 1408.4,1995.5 1406.1,1997.5 M1405.1,1996.6 1401.1,1997.0 1397.1,1994.8 1395.9,1991.5 1397.5,1988.5 1399.1,1987.4 1402.1,1986.7 1405.1,1987.4 1406.7,1988.5 1407.9,1990.5 1408.2,1992.5 1407.1,1995.0 1405.1,1996.6 M1403.1,1995.6 1400.1,1995.0 1398.1,1992.5 1398.4,1990.5 1401.1,1988.5 1404.1,1988.7 1405.4,1989.5 1406.4,1991.5 1405.4,1994.5 1403.1,1995.6" fill="none" stroke="#6a6a6a" stroke-width="0.95"/>
<path d="M1149.2,2348.9 1141.2,2349.0 1133.2,2345.9 1126.2,2340.1 1120.5,2331.9 1117.0,2323.9 1114.8,2315.9 1111.4,2289.9 1104.9,2273.9 1102.7,2265.9 1101.6,2254.9 1102.5,2241.9 1102.1,2233.9 1102.6,2230.9 1105.1,2226.9 1109.2,2223.4 1116.2,2219.6 1122.2,2217.7 1132.2,2217.0 1157.2,2218.2 1169.2,2217.9 1173.2,2219.4 1179.4,2223.9 1183.3,2227.9 1184.8,2230.9 1184.8,2233.9 1182.2,2242.9 1182.3,2256.9 1181.6,2266.9 1177.6,2289.9 1175.9,2311.9 1173.7,2321.9 1169.5,2331.9 1163.9,2339.9 1157.2,2345.7 1149.2,2348.9 M1103.7,2392.9 1105.5,2389.9 1107.5,2387.9 1115.2,2383.8 1125.2,2381.2 1137.2,2380.2 1149.2,2381.2 1158.2,2383.6 1166.5,2387.9 1168.5,2389.9 1170.3,2392.9 M1149.2,2341.9 1142.2,2342.2 1135.2,2339.6 1129.2,2334.7 1124.3,2327.9 1121.5,2321.9 1119.2,2313.9 1116.2,2289.9 1108.7,2273.9 1105.8,2264.9 1104.8,2252.9 1106.3,2233.9 1107.1,2230.9 1109.2,2227.8 1113.2,2224.5 1117.2,2222.4 1123.2,2220.5 1130.2,2219.6 1140.2,2219.4 1168.2,2220.7 1172.2,2222.1 1176.2,2224.9 1179.7,2228.9 1180.8,2231.9 1180.0,2241.9 1180.4,2254.9 1179.8,2264.9 1177.9,2274.9 1173.4,2290.9 1171.6,2308.9 1169.8,2317.9 1166.2,2326.9 1161.5,2333.9 1155.2,2339.4 1149.2,2341.9 M1109.6,2392.9 1112.9,2388.9 1119.2,2385.6 1128.2,2383.4 1137.2,2382.8 1146.2,2383.5 1155.2,2385.8 1161.1,2388.9 1164.4,2392.9 M1146.2,2337.0 1140.2,2336.3 1135.2,2333.8 1130.9,2329.9 1126.8,2323.9 1124.5,2318.9 1122.6,2311.9 1120.0,2288.9 1118.3,2284.9 1110.7,2271.9 1107.7,2261.9 1107.3,2250.9 1110.0,2231.9 1111.9,2228.9 1115.4,2225.9 1120.2,2223.6 1125.2,2222.2 1133.2,2221.3 1143.2,2221.0 1167.2,2222.7 1171.2,2224.0 1174.2,2226.0 1176.8,2228.9 1178.3,2232.9 1179.0,2254.9 1178.3,2263.9 1175.9,2274.9 1169.7,2290.9 1168.1,2307.9 1166.1,2316.9 1162.7,2324.9 1158.2,2330.9 1152.2,2335.3 1146.2,2337.0 M1114.3,2392.9 1116.9,2389.9 1122.2,2387.2 1129.2,2385.4 1137.2,2384.8 1145.2,2385.5 1152.2,2387.3 1157.1,2389.9 1159.7,2392.9 M1149.2,2332.2 1143.2,2332.7 1138.2,2331.1 1133.2,2327.2 1129.3,2321.9 1126.6,2315.9 1125.1,2309.9 1123.8,2291.9 1122.7,2286.9 1120.7,2282.9 1113.2,2272.2 1109.8,2262.9 1109.0,2251.9 1111.6,2234.9 1112.6,2231.9 1114.7,2228.9 1117.2,2226.9 1121.2,2224.9 1126.2,2223.5 1134.2,2222.5 1144.2,2222.2 1167.2,2224.3 1170.2,2225.3 1173.2,2227.3 1175.3,2229.9 1176.5,2232.9 1177.9,2253.9 1177.0,2264.9 1173.8,2275.9 1166.6,2288.9 1165.5,2305.9 1164.0,2313.9 1161.7,2319.9 1158.2,2325.6 1154.2,2329.6 1149.2,2332.2 M1118.1,2392.9 1121.2,2390.0 1125.2,2388.2 1131.2,2386.9 1137.2,2386.5 1143.2,2386.9 1149.2,2388.4 1153.2,2390.3 1155.9,2392.9 M1149.2,2328.0 1144.2,2328.7 1139.2,2327.3 1134.8,2323.9 1131.2,2318.9 1129.0,2313.9 1127.6,2307.9 1126.9,2289.9 1126.1,2285.9 1123.9,2281.9 1115.2,2271.6 1112.9,2266.9 1111.4,2261.9 1110.7,2256.9 1110.9,2250.9 1114.5,2232.9 1116.5,2229.9 1119.0,2227.9 1127.2,2224.7 1135.2,2223.7 1144.2,2223.4 1166.2,2225.7 1169.2,2226.7 1172.2,2228.7 1173.9,2230.9 1175.0,2233.9 1176.8,2253.9 1176.5,2260.9 1175.2,2267.9 1173.2,2273.5 1170.2,2278.3 1167.2,2280.8 1163.2,2282.8 1162.4,2283.9 1163.0,2301.9 1161.3,2312.9 1159.2,2318.1 1156.2,2322.8 1153.2,2325.7 1149.2,2328.0 M1122.2,2392.9 1124.6,2390.9 1128.2,2389.4 1137.2,2388.2 1146.2,2389.5 1149.4,2390.9 1151.8,2392.9 M1145.2,2325.0 1141.2,2324.2 1138.2,2322.6 1135.2,2319.6 1132.8,2315.9 1130.9,2310.9 1129.7,2304.9 1130.1,2287.9 1129.5,2283.9 1127.5,2280.9 1120.2,2274.8 1116.9,2270.9 1113.9,2264.9 1112.3,2257.9 1112.7,2248.9 1115.9,2234.9 1117.3,2231.9 1120.2,2229.0 1123.2,2227.3 1128.2,2225.8 1135.2,2224.7 1149.2,2224.7 1165.2,2227.0 1169.2,2228.3 1172.1,2230.9 1173.4,2233.9 1175.6,2248.9 1175.9,2256.9 1175.0,2263.9 1173.2,2270.1 1170.2,2275.2 1168.2,2276.8 1165.2,2277.3 1157.2,2271.9 1154.2,2272.9 1152.6,2274.9 1152.1,2276.9 1152.6,2278.9 1157.5,2286.9 1159.5,2292.9 1160.4,2299.9 1160.0,2306.9 1158.1,2313.9 1154.6,2319.9 1150.2,2323.6 1145.2,2325.0 M1126.5,2392.9 1130.2,2390.9 1137.2,2389.9 1143.2,2390.7 1147.5,2392.9 M1147.2,2321.0 1143.2,2321.1 1139.2,2319.3 1135.4,2314.9 1133.2,2309.9 1132.2,2304.9 1132.0,2298.9 1134.7,2283.9 1134.4,2280.9 1132.1,2278.9 1124.2,2275.2 1120.0,2271.9 1115.9,2265.9 1113.8,2258.9 1113.5,2253.9 1114.1,2248.9 1118.7,2232.9 1120.3,2230.9 1123.2,2228.8 1132.2,2226.1 1140.2,2225.3 1148.2,2225.4 1165.2,2228.4 1168.2,2229.4 1170.2,2230.9 1172.0,2233.9 1174.5,2246.9 1175.1,2254.9 1174.5,2261.9 1172.9,2267.9 1170.2,2272.6 1168.2,2274.2 1165.2,2274.3 1159.2,2269.4 1156.2,2268.8 1150.5,2271.9 1147.1,2274.9 1145.9,2276.9 1146.2,2278.9 1152.2,2285.1 1155.4,2289.9 1157.2,2294.9 1157.9,2300.9 1157.3,2307.9 1155.2,2313.9 1151.2,2318.9 1147.2,2321.0 M1132.4,2392.9 1137.2,2392.1 1141.6,2392.9 M1138.2,2273.9 1131.2,2274.5 1125.2,2273.0 1120.2,2269.4 1116.7,2263.9 1115.1,2257.9 1115.2,2250.9 1119.5,2235.9 1120.9,2232.9 1124.2,2229.9 1128.2,2228.2 1134.2,2226.8 1141.2,2226.1 1152.2,2227.0 1165.2,2230.0 1168.2,2231.5 1169.6,2232.9 1171.0,2235.9 1174.1,2251.9 1173.5,2261.9 1172.2,2266.4 1170.2,2269.9 1168.2,2271.6 1166.2,2271.8 1164.2,2270.9 1159.5,2266.9 1157.2,2266.3 1154.2,2267.2 1144.2,2272.2 1138.2,2273.9 M1146.2,2317.0 1142.2,2316.5 1138.8,2313.9 1136.2,2309.4 1134.9,2303.9 1135.2,2296.9 1137.0,2290.9 1140.0,2286.9 1143.2,2285.6 1147.2,2286.5 1151.2,2289.8 1153.6,2293.9 1155.0,2299.9 1154.7,2305.9 1153.1,2310.9 1150.2,2314.9 1146.2,2317.0 M1139.2,2271.0 1131.2,2271.9 1126.2,2271.1 1121.2,2267.9 1117.9,2262.9 1116.3,2256.9 1116.5,2250.9 1121.2,2236.5 1123.2,2232.9 1126.2,2230.4 1130.2,2228.8 1136.2,2227.5 1143.2,2227.0 1152.2,2228.0 1166.8,2232.9 1168.6,2234.9 1169.9,2237.9 1173.2,2250.9 1172.9,2259.9 1171.9,2263.9 1170.2,2267.4 1168.2,2269.2 1166.2,2269.4 1160.2,2265.0 1157.2,2264.3 1146.2,2269.2 1139.2,2271.0 M1146.2,2312.0 1143.2,2311.7 1141.2,2310.4 1139.2,2307.2 1138.2,2302.9 1138.4,2298.9 1139.7,2294.9 1141.2,2292.8 1144.2,2291.4 1147.2,2292.1 1149.2,2293.9 1150.9,2296.9 1151.7,2300.9 1151.5,2304.9 1150.5,2307.9 1148.2,2310.9 1146.2,2312.0 M1140.2,2268.9 1131.2,2269.8 1126.2,2269.0 1122.2,2266.5 1119.1,2261.9 1117.6,2255.9 1118.0,2249.9 1124.6,2233.9 1128.2,2230.9 1132.2,2229.3 1138.2,2228.2 1144.2,2227.9 1149.2,2228.3 1154.2,2229.7 1165.2,2235.1 1167.2,2237.1 1169.2,2240.6 1172.1,2249.9 1172.3,2257.9 1170.2,2264.9 1168.2,2266.9 1166.2,2267.2 1160.2,2262.9 1157.2,2262.5 1147.2,2267.3 1140.2,2268.9 M1134.2,2267.9 1128.2,2267.6 1124.2,2265.9 1120.7,2261.9 1119.0,2256.9 1119.0,2251.9 1120.3,2246.9 1125.5,2235.9 1128.2,2232.7 1132.2,2230.6 1138.2,2229.1 1144.2,2228.7 1150.2,2229.5 1155.8,2231.9 1158.2,2233.9 1161.2,2238.7 1166.2,2240.5 1168.2,2242.4 1170.7,2247.9 1171.6,2253.9 1170.6,2260.9 1168.2,2264.6 1167.2,2265.0 1165.2,2264.6 1161.2,2261.3 1158.2,2260.5 1146.2,2266.2 1134.2,2267.9 M1141.2,2266.0 1131.2,2266.3 1125.2,2264.5 1122.5,2261.9 1120.9,2258.9 1120.2,2254.9 1120.5,2250.9 1123.2,2244.0 1127.7,2235.9 1130.2,2233.2 1134.2,2231.1 1138.2,2230.1 1147.3,2229.9 1151.2,2230.9 1154.6,2232.9 1156.2,2234.9 1158.3,2240.9 1160.2,2243.1 1166.2,2243.8 1168.2,2245.5 1170.3,2250.9 1170.2,2257.9 1169.2,2260.9 1167.2,2262.7 1165.2,2262.3 1161.2,2259.0 1159.2,2258.3 1157.2,2258.9 1148.2,2264.3 1141.2,2266.0 M1140.2,2264.9 1130.2,2264.6 1125.2,2262.5 1122.1,2257.9 1121.5,2254.9 1121.8,2250.9 1124.2,2245.1 1130.0,2235.9 1131.9,2233.9 1135.2,2232.0 1139.2,2230.9 1147.2,2230.9 1150.5,2231.9 1153.3,2233.9 1157.2,2242.9 1160.2,2246.7 1162.2,2247.0 1165.2,2246.5 1167.2,2247.4 1169.2,2251.7 1169.2,2256.3 1168.2,2259.0 1166.2,2260.1 1161.2,2256.1 1159.2,2255.8 1149.2,2262.7 1145.2,2264.2 1140.2,2264.9 M1145.2,2263.2 1137.2,2263.8 1129.2,2262.7 1125.2,2260.2 1123.1,2255.9 1123.5,2249.9 1126.7,2243.9 1133.4,2234.9 1136.6,2232.9 1140.2,2231.9 1146.5,2231.9 1151.2,2234.1 1153.1,2236.9 1158.6,2249.9 1158.6,2251.9 1157.6,2253.9 1154.3,2257.9 1150.2,2261.1 1145.2,2263.2 M1166.2,2256.2 1164.4,2254.9 1163.6,2252.9 1164.2,2250.9 1165.2,2250.4 1166.5,2250.9 1167.4,2252.9 1167.2,2255.3 1166.2,2256.2 M1145.2,2262.2 1138.2,2262.7 1130.2,2261.4 1126.2,2258.7 1124.4,2253.9 1124.7,2250.9 1126.3,2246.9 1134.1,2236.9 1138.1,2233.9 1142.2,2232.9 1147.2,2233.5 1150.2,2235.4 1155.5,2245.9 1156.6,2249.9 1155.8,2253.9 1153.7,2256.9 1150.2,2260.0 1145.2,2262.2 M1145.2,2261.2 1138.2,2261.6 1131.2,2260.2 1127.8,2257.9 1126.0,2253.9 1126.9,2248.9 1130.2,2244.0 1137.2,2236.5 1142.2,2234.4 1146.2,2234.8 1149.2,2237.0 1153.4,2243.9 1155.1,2248.9 1154.8,2252.9 1153.2,2255.9 1150.1,2258.9 1145.2,2261.2 M1145.2,2260.2 1139.2,2260.6 1133.2,2259.4 1129.2,2256.9 1127.8,2253.9 1128.1,2249.9 1131.2,2244.9 1138.2,2238.1 1142.2,2236.4 1145.2,2236.6 1148.2,2238.5 1152.2,2244.1 1154.0,2248.9 1153.6,2252.9 1151.9,2255.9 1149.2,2258.4 1145.2,2260.2 M1145.2,2259.1 1140.2,2259.6 1134.2,2258.1 1131.0,2255.9 1129.7,2252.9 1130.4,2248.9 1133.2,2244.9 1138.2,2240.5 1142.2,2238.7 1145.2,2239.0 1148.2,2240.9 1151.3,2244.9 1152.8,2248.9 1152.7,2251.9 1151.3,2254.9 1148.2,2257.8 1145.2,2259.1 M1145.2,2258.0 1141.2,2258.4 1136.2,2257.4 1133.2,2255.4 1131.8,2252.9 1131.9,2249.9 1134.3,2245.9 1138.2,2242.5 1142.2,2240.8 1145.2,2241.1 1148.2,2243.0 1150.5,2245.9 1151.5,2248.9 1151.4,2251.9 1150.2,2254.5 1148.2,2256.5 1145.2,2258.0 M1144.2,2257.0 1140.2,2257.1 1137.2,2256.1 1134.4,2253.9 1133.7,2251.9 1134.2,2248.9 1136.2,2246.1 1139.2,2243.7 1142.2,2242.7 1145.2,2242.9 1147.2,2244.0 1149.2,2246.3 1150.2,2248.9 1150.1,2251.9 1149.1,2253.9 1147.2,2255.8 1144.2,2257.0 M1145.2,2255.3 1140.2,2255.6 1138.2,2254.8 1136.3,2252.9 1135.8,2250.9 1136.3,2248.9 1137.7,2246.9 1140.2,2245.1 1143.2,2244.3 1145.2,2244.7 1147.2,2246.1 1148.5,2247.9 1148.6,2251.9 1147.4,2253.9 1145.2,2255.3 M1144.2,2254.0 1140.8,2253.9 1138.4,2251.9 1138.7,2248.9 1141.2,2246.7 1144.2,2246.4 1146.2,2247.7 1146.9,2248.9 1146.7,2251.9 1144.2,2254.0" fill="none" stroke="#6a6a6a" stroke-width="0.95"/>
<path d="M1402.1,2339.0 1395.1,2339.2 1389.1,2337.7 1383.1,2334.3 1378.1,2329.9 1374.2,2324.9 1370.9,2318.9 1364.7,2300.9 1362.3,2295.9 1359.1,2292.3 1347.1,2281.9 1343.2,2276.9 1340.4,2271.9 1337.8,2263.9 1336.8,2256.9 1337.1,2249.9 1339.1,2237.9 1338.1,2228.9 1339.1,2225.9 1340.8,2223.9 1348.1,2219.3 1359.1,2215.7 1371.1,2214.1 1394.1,2214.3 1417.1,2216.3 1427.1,2215.4 1431.1,2216.3 1435.1,2218.7 1438.6,2221.9 1441.2,2225.9 1441.9,2228.9 1441.1,2237.9 1441.8,2253.9 1440.7,2265.9 1438.5,2275.9 1432.1,2293.9 1427.5,2312.9 1423.0,2322.9 1417.1,2330.7 1410.1,2336.1 1402.1,2339.0 M1292.1,2232.0 1295.1,2232.6 1297.2,2234.9 1298.8,2238.9 1299.6,2244.9 1298.9,2250.9 1297.3,2254.9 1295.1,2257.4 1292.1,2258.0 M1292.1,2306.7 1294.1,2306.8 1296.1,2308.5 1297.5,2311.9 1297.8,2314.9 1297.3,2318.9 1296.1,2321.5 1294.1,2323.2 1292.1,2323.3 M1362.1,2392.9 1365.7,2387.9 1373.1,2383.4 1383.1,2380.4 1395.1,2379.3 1407.1,2380.4 1417.1,2383.4 1424.3,2387.9 1427.9,2392.9 M1400.1,2332.0 1395.1,2331.9 1390.1,2330.4 1385.1,2327.5 1381.1,2323.8 1377.4,2318.9 1374.8,2313.9 1369.3,2296.9 1367.3,2292.9 1364.1,2289.5 1355.1,2283.2 1350.2,2278.9 1346.3,2273.9 1343.6,2268.9 1341.5,2261.9 1340.8,2254.9 1341.5,2247.9 1343.9,2237.9 1343.9,2228.9 1345.3,2225.9 1347.1,2224.0 1353.1,2220.5 1364.1,2217.4 1378.1,2216.2 1395.1,2216.4 1417.1,2218.8 1427.1,2218.7 1430.1,2219.4 1433.1,2221.1 1436.0,2223.9 1437.7,2226.9 1438.5,2230.9 1439.7,2254.9 1438.7,2264.9 1436.3,2273.9 1433.7,2279.9 1427.6,2289.9 1423.1,2308.9 1418.6,2318.9 1414.8,2323.9 1410.1,2328.1 1405.1,2330.8 1400.1,2332.0 M1292.1,2239.5 1294.1,2239.6 1295.0,2240.9 1295.9,2244.9 1295.1,2249.0 1294.1,2250.4 1292.1,2250.5 M1292.1,2314.1 1293.1,2313.2 1294.0,2314.9 1293.1,2316.8 1292.1,2315.9 M1368.1,2392.9 1371.3,2388.9 1378.1,2385.1 1386.1,2382.9 1395.1,2382.2 1404.1,2383.0 1412.1,2385.1 1418.7,2388.9 1421.9,2392.9 M1401.1,2326.0 1396.1,2326.2 1392.1,2325.3 1388.1,2323.2 1384.1,2319.8 1381.0,2315.9 1378.3,2310.9 1373.1,2294.0 1371.0,2289.9 1367.9,2286.9 1358.1,2281.1 1354.1,2278.1 1349.4,2272.9 1346.6,2267.9 1344.4,2260.9 1343.9,2253.9 1344.6,2247.9 1347.7,2236.9 1348.0,2229.9 1350.1,2225.8 1356.1,2221.9 1363.1,2219.6 1372.1,2218.3 1385.1,2217.7 1398.1,2218.2 1417.1,2221.0 1428.1,2221.5 1432.6,2223.9 1435.3,2227.9 1437.6,2242.9 1438.3,2251.9 1437.7,2260.9 1435.6,2269.9 1433.5,2274.9 1431.1,2278.4 1424.1,2283.8 1423.1,2285.2 1419.8,2304.9 1415.6,2314.9 1412.7,2318.9 1409.1,2322.3 1405.1,2324.8 1401.1,2326.0 M1372.9,2392.9 1376.1,2389.5 1381.1,2386.9 1387.1,2385.2 1395.1,2384.5 1403.1,2385.2 1409.1,2386.9 1414.1,2389.6 1417.1,2392.9 M1402.1,2321.1 1398.1,2321.7 1394.1,2321.2 1390.1,2319.4 1386.1,2316.2 1383.1,2312.3 1380.8,2307.9 1376.3,2291.9 1374.1,2287.3 1371.1,2284.7 1361.1,2279.8 1356.1,2276.5 1351.7,2271.9 1348.7,2266.9 1346.3,2257.9 1346.8,2248.9 1350.4,2237.9 1351.6,2228.9 1353.7,2225.9 1358.5,2222.9 1365.1,2220.8 1374.1,2219.4 1386.1,2219.0 1398.1,2219.4 1407.1,2220.6 1418.1,2223.0 1428.1,2223.7 1431.1,2225.4 1433.5,2228.9 1436.2,2241.9 1437.0,2249.9 1436.6,2259.9 1434.7,2267.9 1431.1,2274.6 1429.1,2276.5 1426.1,2277.5 1424.1,2277.1 1422.1,2275.9 1417.1,2269.5 1416.1,2269.1 1415.1,2269.9 1414.6,2273.9 1417.1,2282.9 1417.9,2289.9 1417.8,2296.9 1416.8,2302.9 1414.7,2308.9 1411.1,2314.8 1407.1,2318.6 1402.1,2321.1 M1376.9,2392.9 1380.1,2390.0 1384.1,2388.1 1389.1,2386.9 1395.1,2386.4 1401.1,2386.9 1406.1,2388.2 1410.1,2390.1 1413.1,2392.9 M1399.1,2317.0 1395.1,2316.7 1392.1,2315.5 1389.1,2313.4 1386.0,2309.9 1382.7,2302.9 1379.6,2288.9 1377.1,2284.1 1373.9,2281.9 1364.1,2278.4 1358.1,2275.0 1353.8,2270.9 1350.3,2264.9 1348.4,2256.9 1349.3,2247.9 1353.6,2236.9 1355.0,2228.9 1357.4,2225.9 1362.1,2223.3 1369.1,2221.4 1377.1,2220.5 1388.1,2220.1 1399.1,2220.7 1408.1,2222.2 1419.1,2225.6 1427.1,2226.0 1430.1,2227.8 1432.1,2231.0 1434.9,2241.9 1435.9,2249.9 1435.5,2258.9 1433.5,2266.9 1430.5,2271.9 1427.1,2273.7 1425.1,2273.2 1423.1,2271.6 1417.1,2262.4 1415.1,2262.6 1412.2,2265.9 1410.1,2269.9 1409.6,2272.9 1414.2,2288.9 1414.5,2295.9 1413.5,2301.9 1411.1,2307.9 1408.1,2312.2 1404.1,2315.4 1399.1,2317.0 M1417.7,2239.9 1418.5,2236.9 1418.0,2235.9 1416.1,2235.7 1415.1,2236.9 1415.2,2238.9 1416.1,2240.2 1417.7,2239.9 M1381.2,2392.9 1383.8,2390.9 1387.1,2389.5 1395.1,2388.4 1403.1,2389.6 1406.2,2390.9 1408.8,2392.9 M1401.1,2312.1 1397.1,2312.5 1394.1,2311.8 1391.1,2309.9 1388.1,2306.4 1385.2,2299.9 1383.0,2284.9 1381.1,2281.3 1378.1,2279.5 1367.1,2277.0 1361.1,2274.5 1355.6,2269.9 1351.9,2263.9 1350.2,2255.9 1351.3,2247.9 1356.2,2236.9 1358.0,2228.9 1359.6,2226.9 1363.1,2224.7 1372.1,2222.2 1386.1,2221.2 1400.1,2221.9 1410.1,2224.4 1414.6,2226.9 1416.1,2228.9 1415.4,2230.9 1412.3,2234.9 1411.8,2236.9 1412.1,2238.9 1414.1,2242.8 1417.1,2245.8 1419.1,2244.0 1421.0,2239.9 1421.9,2235.9 1422.0,2230.9 1422.5,2229.9 1424.7,2228.9 1427.1,2229.1 1429.1,2230.5 1431.1,2234.0 1433.7,2241.9 1434.9,2249.9 1434.5,2257.9 1432.8,2264.9 1430.1,2269.3 1428.1,2270.6 1426.1,2270.5 1423.1,2267.7 1419.1,2259.6 1417.1,2257.2 1415.1,2258.2 1408.0,2267.9 1405.8,2271.9 1405.5,2274.9 1410.6,2287.9 1411.3,2292.9 1411.0,2297.9 1409.6,2302.9 1407.5,2306.9 1404.9,2309.9 1401.1,2312.1 M1385.9,2392.9 1390.1,2391.1 1395.1,2390.5 1400.1,2391.1 1404.1,2392.9 M1401.1,2307.1 1397.1,2307.8 1394.1,2306.7 1391.1,2304.0 1389.3,2300.9 1387.6,2293.9 1388.4,2280.9 1387.3,2277.9 1383.1,2276.4 1371.1,2275.6 1364.1,2273.8 1358.1,2269.9 1355.6,2266.9 1353.4,2262.9 1351.9,2255.9 1353.1,2247.9 1358.9,2236.9 1360.9,2228.9 1362.8,2226.9 1366.1,2225.1 1377.1,2222.7 1393.1,2222.3 1405.1,2224.1 1409.4,2225.9 1411.6,2227.9 1411.9,2229.9 1409.8,2234.9 1409.6,2236.9 1414.5,2247.9 1415.0,2251.9 1413.8,2255.9 1411.6,2259.9 1401.5,2271.9 1399.9,2274.9 1400.7,2277.9 1406.2,2285.9 1407.9,2292.9 1407.5,2297.9 1406.1,2301.9 1404.1,2304.9 1401.1,2307.1 M1427.1,2268.0 1425.0,2266.9 1422.4,2262.9 1420.2,2256.9 1419.3,2251.9 1420.5,2245.9 1424.1,2237.1 1425.4,2234.9 1427.1,2233.9 1430.1,2236.5 1432.1,2240.8 1433.4,2245.9 1433.9,2251.9 1433.5,2257.9 1432.1,2263.2 1430.1,2266.6 1427.1,2268.0 M1379.1,2273.0 1370.1,2273.1 1363.1,2271.0 1358.0,2266.9 1354.7,2260.9 1353.8,2255.9 1354.4,2249.9 1356.5,2244.9 1362.0,2236.9 1363.7,2229.9 1365.3,2227.9 1368.7,2225.9 1373.1,2224.6 1380.1,2223.5 1395.1,2223.5 1402.1,2224.7 1406.1,2226.3 1408.6,2228.9 1407.3,2234.9 1407.5,2236.9 1411.6,2244.9 1412.8,2248.9 1412.6,2253.9 1410.5,2258.9 1405.1,2265.4 1397.1,2270.6 1391.1,2272.1 1379.1,2273.0 M1428.1,2265.0 1426.1,2264.6 1424.1,2262.3 1422.3,2257.9 1421.4,2252.9 1421.7,2248.9 1423.1,2244.0 1425.1,2240.2 1427.1,2238.6 1429.1,2239.3 1431.1,2242.4 1432.8,2250.9 1431.8,2259.9 1430.1,2263.5 1428.1,2265.0 M1400.1,2300.1 1398.1,2300.8 1396.1,2300.3 1394.1,2298.3 1393.1,2295.9 1392.7,2292.9 1393.2,2289.9 1394.1,2287.9 1396.1,2286.3 1398.1,2286.1 1400.1,2287.2 1402.4,2290.9 1402.7,2295.9 1402.0,2297.9 1400.1,2300.1 M1376.1,2271.0 1369.1,2270.9 1363.1,2268.8 1358.7,2264.9 1355.9,2258.9 1355.5,2253.9 1356.5,2248.9 1359.3,2243.9 1365.6,2236.9 1367.3,2229.9 1369.2,2227.9 1372.1,2226.5 1382.1,2224.5 1395.1,2224.6 1403.3,2226.9 1404.7,2227.9 1405.7,2229.9 1405.0,2234.9 1405.5,2236.9 1409.7,2243.9 1411.4,2248.9 1411.2,2253.9 1408.9,2258.9 1404.1,2264.3 1397.1,2268.2 1392.1,2269.4 1376.1,2271.0 M1428.1,2262.0 1426.1,2261.5 1424.9,2259.9 1423.0,2252.9 1424.1,2246.0 1425.1,2243.9 1427.1,2242.1 1429.1,2242.8 1430.1,2244.2 1431.6,2250.9 1430.9,2257.9 1430.1,2260.0 1428.1,2262.0 M1376.1,2269.0 1371.1,2269.2 1367.1,2268.5 1363.1,2266.6 1360.1,2263.7 1358.0,2259.9 1357.2,2255.9 1357.7,2250.9 1359.4,2246.9 1363.1,2242.5 1370.1,2236.9 1371.1,2234.9 1371.5,2229.9 1373.9,2227.9 1380.1,2226.1 1388.1,2225.4 1395.1,2225.9 1401.0,2227.9 1402.5,2229.9 1403.0,2235.9 1408.4,2243.9 1410.0,2247.9 1410.1,2252.9 1408.2,2257.9 1403.1,2263.4 1397.1,2266.5 1392.1,2267.6 1376.1,2269.0 M1428.1,2258.4 1427.1,2258.4 1426.1,2257.6 1424.8,2252.9 1425.1,2248.9 1427.1,2245.8 1428.1,2245.8 1429.1,2246.8 1430.2,2250.9 1429.7,2255.9 1428.1,2258.4 M1378.1,2267.0 1369.1,2267.0 1365.7,2265.9 1362.8,2263.9 1360.5,2260.9 1359.1,2256.9 1359.1,2252.9 1360.3,2248.9 1362.3,2245.9 1365.1,2243.3 1374.2,2237.9 1376.4,2235.9 1376.9,2233.9 1376.4,2230.9 1378.0,2228.9 1381.1,2227.7 1386.5,2226.9 1391.1,2226.9 1396.1,2227.9 1398.9,2229.9 1400.7,2235.9 1406.1,2242.3 1408.2,2245.9 1409.2,2250.9 1408.0,2255.9 1404.1,2261.1 1398.1,2264.7 1392.1,2266.1 1378.1,2267.0 M1392.1,2264.9 1373.1,2265.5 1368.4,2264.9 1365.1,2263.3 1363.1,2261.4 1361.6,2258.9 1360.8,2255.9 1361.4,2250.9 1364.1,2246.5 1368.1,2243.4 1380.7,2236.9 1383.4,2233.9 1383.7,2230.9 1384.8,2229.9 1387.1,2229.3 1391.1,2229.3 1394.1,2230.7 1396.8,2234.9 1405.3,2242.9 1407.1,2245.9 1408.1,2248.9 1408.1,2251.9 1407.4,2254.9 1404.1,2259.7 1399.1,2263.1 1392.1,2264.9 M1391.1,2263.9 1373.1,2263.7 1367.1,2262.2 1364.5,2259.9 1363.0,2256.9 1362.9,2252.9 1363.9,2249.9 1366.1,2247.1 1369.1,2244.9 1387.1,2236.4 1392.1,2235.8 1397.1,2237.5 1402.1,2240.9 1405.6,2244.9 1407.1,2248.9 1407.0,2252.9 1405.1,2257.0 1401.1,2260.9 1396.1,2263.1 1391.1,2263.9 M1390.1,2262.9 1374.1,2262.0 1369.1,2260.7 1366.7,2258.9 1365.4,2256.9 1365.0,2253.9 1365.8,2250.9 1368.1,2247.9 1371.1,2245.7 1386.1,2238.6 1392.1,2237.7 1398.1,2239.4 1402.1,2242.2 1405.1,2245.9 1406.2,2249.9 1405.7,2253.9 1403.2,2257.9 1400.1,2260.4 1395.1,2262.3 1390.1,2262.9 M1391.1,2261.9 1379.2,2260.9 1371.1,2259.0 1369.4,2257.9 1367.9,2255.9 1368.0,2251.9 1370.0,2248.9 1372.4,2246.9 1384.1,2240.7 1391.1,2239.0 1397.1,2240.1 1401.1,2242.5 1404.0,2245.9 1405.1,2248.9 1405.0,2252.9 1403.1,2256.6 1400.1,2259.3 1396.1,2261.1 1391.1,2261.9 M1392.1,2260.9 1384.1,2260.4 1374.4,2257.9 1371.1,2255.0 1371.0,2251.9 1372.2,2249.9 1375.3,2246.9 1384.1,2241.9 1391.1,2240.2 1397.1,2241.2 1400.1,2242.9 1402.9,2245.9 1404.2,2248.9 1404.0,2252.9 1402.4,2255.9 1400.1,2258.2 1396.1,2260.1 1392.1,2260.9 M1392.1,2260.0 1385.1,2259.5 1377.3,2256.9 1374.3,2253.9 1374.5,2250.9 1375.8,2248.9 1379.2,2245.9 1386.1,2242.2 1392.1,2241.2 1398.1,2242.7 1401.0,2244.9 1402.4,2246.9 1403.3,2249.9 1403.0,2252.9 1401.2,2255.9 1399.1,2257.8 1396.1,2259.2 1392.1,2260.0 M1392.1,2259.0 1385.1,2258.2 1379.7,2255.9 1377.4,2252.9 1377.4,2250.9 1378.5,2248.9 1383.1,2244.9 1389.1,2242.5 1394.1,2242.4 1399.1,2244.6 1401.1,2246.7 1402.1,2248.9 1402.1,2251.9 1401.4,2253.9 1398.1,2257.2 1392.1,2259.0 M1392.1,2257.9 1388.1,2257.7 1384.1,2256.4 1381.1,2254.4 1379.9,2251.9 1380.8,2248.9 1383.1,2246.5 1387.1,2244.2 1391.1,2243.3 1395.1,2243.7 1397.7,2244.9 1399.9,2246.9 1401.1,2249.9 1400.6,2252.9 1399.1,2255.0 1396.1,2257.0 1392.1,2257.9 M1395.1,2256.2 1390.1,2256.8 1384.5,2254.9 1382.3,2251.9 1383.0,2248.9 1385.1,2246.7 1389.1,2244.8 1393.1,2244.5 1397.1,2245.9 1399.5,2248.9 1399.6,2251.9 1398.1,2254.3 1395.1,2256.2 M1394.1,2255.2 1390.1,2255.5 1386.1,2253.9 1384.6,2251.9 1385.2,2248.9 1387.4,2246.9 1390.1,2245.8 1393.1,2245.7 1396.3,2246.9 1398.0,2248.9 1398.1,2251.9 1396.6,2253.9 1394.1,2255.2 M1393.1,2253.9 1390.1,2253.9 1388.1,2252.9 1387.0,2250.9 1387.8,2248.9 1391.1,2247.2 1395.1,2248.0 1396.4,2249.9 1396.1,2251.9 1393.1,2253.9" fill="none" stroke="#6a6a6a" stroke-width="0.95"/>
<line x1="1036.20" y1="1363.70" x2="1280.50" y2="1363.70" stroke="#000" stroke-width="1.3" stroke-linecap="butt"/>
<line x1="1036.20" y1="1363.70" x2="1036.20" y2="1606.30" stroke="#000" stroke-width="1.3" stroke-linecap="butt"/>
<line x1="1032.20" y1="1606.30" x2="1280.50" y2="1606.30" stroke="#000" stroke-width="1.4" stroke-linecap="butt"/>
<line x1="1280.50" y1="1363.70" x2="1280.50" y2="1606.30" stroke="#000" stroke-width="1.3" stroke-linecap="butt"/>
<line x1="1146.10" y1="1363.70" x2="1146.10" y2="1606.30" stroke="#000" stroke-width="2.6" stroke-linecap="butt"/>
<line x1="1036.20" y1="1504.70" x2="1280.50" y2="1504.70" stroke="#000" stroke-width="2.6" stroke-linecap="butt"/>
<line x1="1030.70" y1="1606.30" x2="1036.20" y2="1606.30" stroke="#000" stroke-width="2.0" stroke-linecap="butt"/>
<line x1="1033.20" y1="1592.89" x2="1036.20" y2="1592.89" stroke="#000" stroke-width="1.2" stroke-linecap="butt"/>
<line x1="1033.20" y1="1584.84" x2="1036.20" y2="1584.84" stroke="#000" stroke-width="1.2" stroke-linecap="butt"/>
<line x1="1033.20" y1="1579.48" x2="1036.20" y2="1579.48" stroke="#000" stroke-width="1.2" stroke-linecap="butt"/>
<line x1="1033.20" y1="1575.01" x2="1036.20" y2="1575.01" stroke="#000" stroke-width="1.2" stroke-linecap="butt"/>
<line x1="1033.20" y1="1571.43" x2="1036.20" y2="1571.43" stroke="#000" stroke-width="1.2" stroke-linecap="butt"/>
<line x1="1033.20" y1="1568.30" x2="1036.20" y2="1568.30" stroke="#000" stroke-width="1.2" stroke-linecap="butt"/>
<line x1="1033.20" y1="1566.07" x2="1036.20" y2="1566.07" stroke="#000" stroke-width="1.2" stroke-linecap="butt"/>
<line x1="1033.20" y1="1563.84" x2="1036.20" y2="1563.84" stroke="#000" stroke-width="1.2" stroke-linecap="butt"/>
<line x1="1030.70" y1="1561.60" x2="1036.20" y2="1561.60" stroke="#000" stroke-width="2.0" stroke-linecap="butt"/>
<line x1="1033.20" y1="1548.19" x2="1036.20" y2="1548.19" stroke="#000" stroke-width="1.2" stroke-linecap="butt"/>
<line x1="1033.20" y1="1540.14" x2="1036.20" y2="1540.14" stroke="#000" stroke-width="1.2" stroke-linecap="butt"/>
<line x1="1033.20" y1="1534.78" x2="1036.20" y2="1534.78" stroke="#000" stroke-width="1.2" stroke-linecap="butt"/>
<line x1="1033.20" y1="1530.31" x2="1036.20" y2="1530.31" stroke="#000" stroke-width="1.2" stroke-linecap="butt"/>
<line x1="1033.20" y1="1526.73" x2="1036.20" y2="1526.73" stroke="#000" stroke-width="1.2" stroke-linecap="butt"/>
<line x1="1033.20" y1="1523.61" x2="1036.20" y2="1523.61" stroke="#000" stroke-width="1.2" stroke-linecap="butt"/>
<line x1="1033.20" y1="1521.37" x2="1036.20" y2="1521.37" stroke="#000" stroke-width="1.2" stroke-linecap="butt"/>
<line x1="1033.20" y1="1519.13" x2="1036.20" y2="1519.13" stroke="#000" stroke-width="1.2" stroke-linecap="butt"/>
<line x1="1030.70" y1="1516.90" x2="1036.20" y2="1516.90" stroke="#000" stroke-width="2.0" stroke-linecap="butt"/>
<line x1="1033.20" y1="1503.49" x2="1036.20" y2="1503.49" stroke="#000" stroke-width="1.2" stroke-linecap="butt"/>
<line x1="1033.20" y1="1495.44" x2="1036.20" y2="1495.44" stroke="#000" stroke-width="1.2" stroke-linecap="butt"/>
<line x1="1033.20" y1="1490.08" x2="1036.20" y2="1490.08" stroke="#000" stroke-width="1.2" stroke-linecap="butt"/>
<line x1="1033.20" y1="1485.61" x2="1036.20" y2="1485.61" stroke="#000" stroke-width="1.2" stroke-linecap="butt"/>
<line x1="1033.20" y1="1482.03" x2="1036.20" y2="1482.03" stroke="#000" stroke-width="1.2" stroke-linecap="butt"/>
<line x1="1033.20" y1="1478.90" x2="1036.20" y2="1478.90" stroke="#000" stroke-width="1.2" stroke-linecap="butt"/>
<line x1="1033.20" y1="1476.67" x2="1036.20" y2="1476.67" stroke="#000" stroke-width="1.2" stroke-linecap="butt"/>
<line x1="1033.20" y1="1474.43" x2="1036.20" y2="1474.43" stroke="#000" stroke-width="1.2" stroke-linecap="butt"/>
<line x1="1030.70" y1="1472.20" x2="1036.20" y2="1472.20" stroke="#000" stroke-width="2.0" stroke-linecap="butt"/>
<line x1="1033.20" y1="1458.79" x2="1036.20" y2="1458.79" stroke="#000" stroke-width="1.2" stroke-linecap="butt"/>
<line x1="1033.20" y1="1450.74" x2="1036.20" y2="1450.74" stroke="#000" stroke-width="1.2" stroke-linecap="butt"/>
<line x1="1033.20" y1="1445.38" x2="1036.20" y2="1445.38" stroke="#000" stroke-width="1.2" stroke-linecap="butt"/>
<line x1="1033.20" y1="1440.91" x2="1036.20" y2="1440.91" stroke="#000" stroke-width="1.2" stroke-linecap="butt"/>
<line x1="1033.20" y1="1437.33" x2="1036.20" y2="1437.33" stroke="#000" stroke-width="1.2" stroke-linecap="butt"/>
<line x1="1033.20" y1="1434.20" x2="1036.20" y2="1434.20" stroke="#000" stroke-width="1.2" stroke-linecap="butt"/>
<line x1="1033.20" y1="1431.97" x2="1036.20" y2="1431.97" stroke="#000" stroke-width="1.2" stroke-linecap="butt"/>
<line x1="1033.20" y1="1429.74" x2="1036.20" y2="1429.74" stroke="#000" stroke-width="1.2" stroke-linecap="butt"/>
<line x1="1030.70" y1="1427.50" x2="1036.20" y2="1427.50" stroke="#000" stroke-width="2.0" stroke-linecap="butt"/>
<line x1="1033.20" y1="1414.09" x2="1036.20" y2="1414.09" stroke="#000" stroke-width="1.2" stroke-linecap="butt"/>
<line x1="1033.20" y1="1406.04" x2="1036.20" y2="1406.04" stroke="#000" stroke-width="1.2" stroke-linecap="butt"/>
<line x1="1033.20" y1="1400.68" x2="1036.20" y2="1400.68" stroke="#000" stroke-width="1.2" stroke-linecap="butt"/>
<line x1="1033.20" y1="1396.21" x2="1036.20" y2="1396.21" stroke="#000" stroke-width="1.2" stroke-linecap="butt"/>
<line x1="1033.20" y1="1392.63" x2="1036.20" y2="1392.63" stroke="#000" stroke-width="1.2" stroke-linecap="butt"/>
<line x1="1033.20" y1="1389.51" x2="1036.20" y2="1389.51" stroke="#000" stroke-width="1.2" stroke-linecap="butt"/>
<line x1="1033.20" y1="1387.27" x2="1036.20" y2="1387.27" stroke="#000" stroke-width="1.2" stroke-linecap="butt"/>
<line x1="1033.20" y1="1385.04" x2="1036.20" y2="1385.04" stroke="#000" stroke-width="1.2" stroke-linecap="butt"/>
<line x1="1030.70" y1="1382.80" x2="1036.20" y2="1382.80" stroke="#000" stroke-width="2.0" stroke-linecap="butt"/>
<line x1="1036.20" y1="1606.30" x2="1036.20" y2="1612.30" stroke="#000" stroke-width="1.8" stroke-linecap="butt"/>
<line x1="1049.65" y1="1606.30" x2="1049.65" y2="1609.80" stroke="#000" stroke-width="1.1" stroke-linecap="butt"/>
<line x1="1057.72" y1="1606.30" x2="1057.72" y2="1609.80" stroke="#000" stroke-width="1.1" stroke-linecap="butt"/>
<line x1="1063.10" y1="1606.30" x2="1063.10" y2="1609.80" stroke="#000" stroke-width="1.1" stroke-linecap="butt"/>
<line x1="1067.58" y1="1606.30" x2="1067.58" y2="1609.80" stroke="#000" stroke-width="1.1" stroke-linecap="butt"/>
<line x1="1071.16" y1="1606.30" x2="1071.16" y2="1609.80" stroke="#000" stroke-width="1.1" stroke-linecap="butt"/>
<line x1="1074.30" y1="1606.30" x2="1074.30" y2="1609.80" stroke="#000" stroke-width="1.1" stroke-linecap="butt"/>
<line x1="1076.54" y1="1606.30" x2="1076.54" y2="1609.80" stroke="#000" stroke-width="1.1" stroke-linecap="butt"/>
<line x1="1078.78" y1="1606.30" x2="1078.78" y2="1609.80" stroke="#000" stroke-width="1.1" stroke-linecap="butt"/>
<line x1="1081.03" y1="1606.30" x2="1081.03" y2="1612.30" stroke="#000" stroke-width="1.8" stroke-linecap="butt"/>
<line x1="1094.47" y1="1606.30" x2="1094.47" y2="1609.80" stroke="#000" stroke-width="1.1" stroke-linecap="butt"/>
<line x1="1102.54" y1="1606.30" x2="1102.54" y2="1609.80" stroke="#000" stroke-width="1.1" stroke-linecap="butt"/>
<line x1="1107.92" y1="1606.30" x2="1107.92" y2="1609.80" stroke="#000" stroke-width="1.1" stroke-linecap="butt"/>
<line x1="1112.40" y1="1606.30" x2="1112.40" y2="1609.80" stroke="#000" stroke-width="1.1" stroke-linecap="butt"/>
<line x1="1115.99" y1="1606.30" x2="1115.99" y2="1609.80" stroke="#000" stroke-width="1.1" stroke-linecap="butt"/>
<line x1="1119.13" y1="1606.30" x2="1119.13" y2="1609.80" stroke="#000" stroke-width="1.1" stroke-linecap="butt"/>
<line x1="1121.37" y1="1606.30" x2="1121.37" y2="1609.80" stroke="#000" stroke-width="1.1" stroke-linecap="butt"/>
<line x1="1123.61" y1="1606.30" x2="1123.61" y2="1609.80" stroke="#000" stroke-width="1.1" stroke-linecap="butt"/>
<line x1="1125.85" y1="1606.30" x2="1125.85" y2="1612.30" stroke="#000" stroke-width="1.8" stroke-linecap="butt"/>
<line x1="1139.30" y1="1606.30" x2="1139.30" y2="1609.80" stroke="#000" stroke-width="1.1" stroke-linecap="butt"/>
<line x1="1147.37" y1="1606.30" x2="1147.37" y2="1609.80" stroke="#000" stroke-width="1.1" stroke-linecap="butt"/>
<line x1="1152.75" y1="1606.30" x2="1152.75" y2="1609.80" stroke="#000" stroke-width="1.1" stroke-linecap="butt"/>
<line x1="1157.23" y1="1606.30" x2="1157.23" y2="1609.80" stroke="#000" stroke-width="1.1" stroke-linecap="butt"/>
<line x1="1160.82" y1="1606.30" x2="1160.82" y2="1609.80" stroke="#000" stroke-width="1.1" stroke-linecap="butt"/>
<line x1="1163.95" y1="1606.30" x2="1163.95" y2="1609.80" stroke="#000" stroke-width="1.1" stroke-linecap="butt"/>
<line x1="1166.19" y1="1606.30" x2="1166.19" y2="1609.80" stroke="#000" stroke-width="1.1" stroke-linecap="butt"/>
<line x1="1168.44" y1="1606.30" x2="1168.44" y2="1609.80" stroke="#000" stroke-width="1.1" stroke-linecap="butt"/>
<line x1="1170.68" y1="1606.30" x2="1170.68" y2="1612.30" stroke="#000" stroke-width="1.8" stroke-linecap="butt"/>
<line x1="1184.12" y1="1606.30" x2="1184.12" y2="1609.80" stroke="#000" stroke-width="1.1" stroke-linecap="butt"/>
<line x1="1192.19" y1="1606.30" x2="1192.19" y2="1609.80" stroke="#000" stroke-width="1.1" stroke-linecap="butt"/>
<line x1="1197.57" y1="1606.30" x2="1197.57" y2="1609.80" stroke="#000" stroke-width="1.1" stroke-linecap="butt"/>
<line x1="1202.06" y1="1606.30" x2="1202.06" y2="1609.80" stroke="#000" stroke-width="1.1" stroke-linecap="butt"/>
<line x1="1205.64" y1="1606.30" x2="1205.64" y2="1609.80" stroke="#000" stroke-width="1.1" stroke-linecap="butt"/>
<line x1="1208.78" y1="1606.30" x2="1208.78" y2="1609.80" stroke="#000" stroke-width="1.1" stroke-linecap="butt"/>
<line x1="1211.02" y1="1606.30" x2="1211.02" y2="1609.80" stroke="#000" stroke-width="1.1" stroke-linecap="butt"/>
<line x1="1213.26" y1="1606.30" x2="1213.26" y2="1609.80" stroke="#000" stroke-width="1.1" stroke-linecap="butt"/>
<line x1="1215.50" y1="1606.30" x2="1215.50" y2="1612.30" stroke="#000" stroke-width="1.8" stroke-linecap="butt"/>
<line x1="1228.95" y1="1606.30" x2="1228.95" y2="1609.80" stroke="#000" stroke-width="1.1" stroke-linecap="butt"/>
<line x1="1237.02" y1="1606.30" x2="1237.02" y2="1609.80" stroke="#000" stroke-width="1.1" stroke-linecap="butt"/>
<line x1="1242.40" y1="1606.30" x2="1242.40" y2="1609.80" stroke="#000" stroke-width="1.1" stroke-linecap="butt"/>
<line x1="1246.88" y1="1606.30" x2="1246.88" y2="1609.80" stroke="#000" stroke-width="1.1" stroke-linecap="butt"/>
<line x1="1250.47" y1="1606.30" x2="1250.47" y2="1609.80" stroke="#000" stroke-width="1.1" stroke-linecap="butt"/>
<line x1="1253.60" y1="1606.30" x2="1253.60" y2="1609.80" stroke="#000" stroke-width="1.1" stroke-linecap="butt"/>
<line x1="1255.85" y1="1606.30" x2="1255.85" y2="1609.80" stroke="#000" stroke-width="1.1" stroke-linecap="butt"/>
<line x1="1258.09" y1="1606.30" x2="1258.09" y2="1609.80" stroke="#000" stroke-width="1.1" stroke-linecap="butt"/>
<line x1="1260.33" y1="1606.30" x2="1260.33" y2="1612.30" stroke="#000" stroke-width="1.8" stroke-linecap="butt"/>
<line x1="1273.78" y1="1606.30" x2="1273.78" y2="1609.80" stroke="#000" stroke-width="1.1" stroke-linecap="butt"/>
<line x1="1292.10" y1="1363.70" x2="1536.00" y2="1363.70" stroke="#000" stroke-width="1.3" stroke-linecap="butt"/>
<line x1="1292.10" y1="1363.70" x2="1292.10" y2="1606.30" stroke="#000" stroke-width="1.3" stroke-linecap="butt"/>
<line x1="1288.10" y1="1606.30" x2="1536.00" y2="1606.30" stroke="#000" stroke-width="1.4" stroke-linecap="butt"/>
<line x1="1402.80" y1="1363.70" x2="1402.80" y2="1606.30" stroke="#000" stroke-width="1.3" stroke-linecap="butt"/>
<line x1="1292.10" y1="1504.70" x2="1536.00" y2="1504.70" stroke="#000" stroke-width="2.6" stroke-linecap="butt"/>
<line x1="1286.60" y1="1606.30" x2="1292.10" y2="1606.30" stroke="#000" stroke-width="2.0" stroke-linecap="butt"/>
<line x1="1289.10" y1="1592.89" x2="1292.10" y2="1592.89" stroke="#000" stroke-width="1.2" stroke-linecap="butt"/>
<line x1="1289.10" y1="1584.84" x2="1292.10" y2="1584.84" stroke="#000" stroke-width="1.2" stroke-linecap="butt"/>
<line x1="1289.10" y1="1579.48" x2="1292.10" y2="1579.48" stroke="#000" stroke-width="1.2" stroke-linecap="butt"/>
<line x1="1289.10" y1="1575.01" x2="1292.10" y2="1575.01" stroke="#000" stroke-width="1.2" stroke-linecap="butt"/>
<line x1="1289.10" y1="1571.43" x2="1292.10" y2="1571.43" stroke="#000" stroke-width="1.2" stroke-linecap="butt"/>
<line x1="1289.10" y1="1568.30" x2="1292.10" y2="1568.30" stroke="#000" stroke-width="1.2" stroke-linecap="butt"/>
<line x1="1289.10" y1="1566.07" x2="1292.10" y2="1566.07" stroke="#000" stroke-width="1.2" stroke-linecap="butt"/>
<line x1="1289.10" y1="1563.84" x2="1292.10" y2="1563.84" stroke="#000" stroke-width="1.2" stroke-linecap="butt"/>
<line x1="1286.60" y1="1561.60" x2="1292.10" y2="1561.60" stroke="#000" stroke-width="2.0" stroke-linecap="butt"/>
<line x1="1289.10" y1="1548.19" x2="1292.10" y2="1548.19" stroke="#000" stroke-width="1.2" stroke-linecap="butt"/>
<line x1="1289.10" y1="1540.14" x2="1292.10" y2="1540.14" stroke="#000" stroke-width="1.2" stroke-linecap="butt"/>
<line x1="1289.10" y1="1534.78" x2="1292.10" y2="1534.78" stroke="#000" stroke-width="1.2" stroke-linecap="butt"/>
<line x1="1289.10" y1="1530.31" x2="1292.10" y2="1530.31" stroke="#000" stroke-width="1.2" stroke-linecap="butt"/>
<line x1="1289.10" y1="1526.73" x2="1292.10" y2="1526.73" stroke="#000" stroke-width="1.2" stroke-linecap="butt"/>
<line x1="1289.10" y1="1523.61" x2="1292.10" y2="1523.61" stroke="#000" stroke-width="1.2" stroke-linecap="butt"/>
<line x1="1289.10" y1="1521.37" x2="1292.10" y2="1521.37" stroke="#000" stroke-width="1.2" stroke-linecap="butt"/>
<line x1="1289.10" y1="1519.13" x2="1292.10" y2="1519.13" stroke="#000" stroke-width="1.2" stroke-linecap="butt"/>
<line x1="1286.60" y1="1516.90" x2="1292.10" y2="1516.90" stroke="#000" stroke-width="2.0" stroke-linecap="butt"/>
<line x1="1289.10" y1="1503.49" x2="1292.10" y2="1503.49" stroke="#000" stroke-width="1.2" stroke-linecap="butt"/>
<line x1="1289.10" y1="1495.44" x2="1292.10" y2="1495.44" stroke="#000" stroke-width="1.2" stroke-linecap="butt"/>
<line x1="1289.10" y1="1490.08" x2="1292.10" y2="1490.08" stroke="#000" stroke-width="1.2" stroke-linecap="butt"/>
<line x1="1289.10" y1="1485.61" x2="1292.10" y2="1485.61" stroke="#000" stroke-width="1.2" stroke-linecap="butt"/>
<line x1="1289.10" y1="1482.03" x2="1292.10" y2="1482.03" stroke="#000" stroke-width="1.2" stroke-linecap="butt"/>
<line x1="1289.10" y1="1478.90" x2="1292.10" y2="1478.90" stroke="#000" stroke-width="1.2" stroke-linecap="butt"/>
<line x1="1289.10" y1="1476.67" x2="1292.10" y2="1476.67" stroke="#000" stroke-width="1.2" stroke-linecap="butt"/>
<line x1="1289.10" y1="1474.43" x2="1292.10" y2="1474.43" stroke="#000" stroke-width="1.2" stroke-linecap="butt"/>
<line x1="1286.60" y1="1472.20" x2="1292.10" y2="1472.20" stroke="#000" stroke-width="2.0" stroke-linecap="butt"/>
<line x1="1289.10" y1="1458.79" x2="1292.10" y2="1458.79" stroke="#000" stroke-width="1.2" stroke-linecap="butt"/>
<line x1="1289.10" y1="1450.74" x2="1292.10" y2="1450.74" stroke="#000" stroke-width="1.2" stroke-linecap="butt"/>
<line x1="1289.10" y1="1445.38" x2="1292.10" y2="1445.38" stroke="#000" stroke-width="1.2" stroke-linecap="butt"/>
<line x1="1289.10" y1="1440.91" x2="1292.10" y2="1440.91" stroke="#000" stroke-width="1.2" stroke-linecap="butt"/>
<line x1="1289.10" y1="1437.33" x2="1292.10" y2="1437.33" stroke="#000" stroke-width="1.2" stroke-linecap="butt"/>
<line x1="1289.10" y1="1434.20" x2="1292.10" y2="1434.20" stroke="#000" stroke-width="1.2" stroke-linecap="butt"/>
<line x1="1289.10" y1="1431.97" x2="1292.10" y2="1431.97" stroke="#000" stroke-width="1.2" stroke-linecap="butt"/>
<line x1="1289.10" y1="1429.74" x2="1292.10" y2="1429.74" stroke="#000" stroke-width="1.2" stroke-linecap="butt"/>
<line x1="1286.60" y1="1427.50" x2="1292.10" y2="1427.50" stroke="#000" stroke-width="2.0" stroke-linecap="butt"/>
<line x1="1289.10" y1="1414.09" x2="1292.10" y2="1414.09" stroke="#000" stroke-width="1.2" stroke-linecap="butt"/>
<line x1="1289.10" y1="1406.04" x2="1292.10" y2="1406.04" stroke="#000" stroke-width="1.2" stroke-linecap="butt"/>
<line x1="1289.10" y1="1400.68" x2="1292.10" y2="1400.68" stroke="#000" stroke-width="1.2" stroke-linecap="butt"/>
<line x1="1289.10" y1="1396.21" x2="1292.10" y2="1396.21" stroke="#000" stroke-width="1.2" stroke-linecap="butt"/>
<line x1="1289.10" y1="1392.63" x2="1292.10" y2="1392.63" stroke="#000" stroke-width="1.2" stroke-linecap="butt"/>
<line x1="1289.10" y1="1389.51" x2="1292.10" y2="1389.51" stroke="#000" stroke-width="1.2" stroke-linecap="butt"/>
<line x1="1289.10" y1="1387.27" x2="1292.10" y2="1387.27" stroke="#000" stroke-width="1.2" stroke-linecap="butt"/>
<line x1="1289.10" y1="1385.04" x2="1292.10" y2="1385.04" stroke="#000" stroke-width="1.2" stroke-linecap="butt"/>
<line x1="1286.60" y1="1382.80" x2="1292.10" y2="1382.80" stroke="#000" stroke-width="2.0" stroke-linecap="butt"/>
<line x1="1292.10" y1="1606.30" x2="1292.10" y2="1612.30" stroke="#000" stroke-width="1.8" stroke-linecap="butt"/>
<line x1="1305.80" y1="1606.30" x2="1305.80" y2="1609.80" stroke="#000" stroke-width="1.1" stroke-linecap="butt"/>
<line x1="1314.02" y1="1606.30" x2="1314.02" y2="1609.80" stroke="#000" stroke-width="1.1" stroke-linecap="butt"/>
<line x1="1319.50" y1="1606.30" x2="1319.50" y2="1609.80" stroke="#000" stroke-width="1.1" stroke-linecap="butt"/>
<line x1="1324.07" y1="1606.30" x2="1324.07" y2="1609.80" stroke="#000" stroke-width="1.1" stroke-linecap="butt"/>
<line x1="1327.72" y1="1606.30" x2="1327.72" y2="1609.80" stroke="#000" stroke-width="1.1" stroke-linecap="butt"/>
<line x1="1330.92" y1="1606.30" x2="1330.92" y2="1609.80" stroke="#000" stroke-width="1.1" stroke-linecap="butt"/>
<line x1="1333.20" y1="1606.30" x2="1333.20" y2="1609.80" stroke="#000" stroke-width="1.1" stroke-linecap="butt"/>
<line x1="1335.49" y1="1606.30" x2="1335.49" y2="1609.80" stroke="#000" stroke-width="1.1" stroke-linecap="butt"/>
<line x1="1337.77" y1="1606.30" x2="1337.77" y2="1612.30" stroke="#000" stroke-width="1.8" stroke-linecap="butt"/>
<line x1="1351.47" y1="1606.30" x2="1351.47" y2="1609.80" stroke="#000" stroke-width="1.1" stroke-linecap="butt"/>
<line x1="1359.69" y1="1606.30" x2="1359.69" y2="1609.80" stroke="#000" stroke-width="1.1" stroke-linecap="butt"/>
<line x1="1365.17" y1="1606.30" x2="1365.17" y2="1609.80" stroke="#000" stroke-width="1.1" stroke-linecap="butt"/>
<line x1="1369.74" y1="1606.30" x2="1369.74" y2="1609.80" stroke="#000" stroke-width="1.1" stroke-linecap="butt"/>
<line x1="1373.39" y1="1606.30" x2="1373.39" y2="1609.80" stroke="#000" stroke-width="1.1" stroke-linecap="butt"/>
<line x1="1376.59" y1="1606.30" x2="1376.59" y2="1609.80" stroke="#000" stroke-width="1.1" stroke-linecap="butt"/>
<line x1="1378.87" y1="1606.30" x2="1378.87" y2="1609.80" stroke="#000" stroke-width="1.1" stroke-linecap="butt"/>
<line x1="1381.16" y1="1606.30" x2="1381.16" y2="1609.80" stroke="#000" stroke-width="1.1" stroke-linecap="butt"/>
<line x1="1383.44" y1="1606.30" x2="1383.44" y2="1612.30" stroke="#000" stroke-width="1.8" stroke-linecap="butt"/>
<line x1="1397.14" y1="1606.30" x2="1397.14" y2="1609.80" stroke="#000" stroke-width="1.1" stroke-linecap="butt"/>
<line x1="1405.36" y1="1606.30" x2="1405.36" y2="1609.80" stroke="#000" stroke-width="1.1" stroke-linecap="butt"/>
<line x1="1410.84" y1="1606.30" x2="1410.84" y2="1609.80" stroke="#000" stroke-width="1.1" stroke-linecap="butt"/>
<line x1="1415.41" y1="1606.30" x2="1415.41" y2="1609.80" stroke="#000" stroke-width="1.1" stroke-linecap="butt"/>
<line x1="1419.06" y1="1606.30" x2="1419.06" y2="1609.80" stroke="#000" stroke-width="1.1" stroke-linecap="butt"/>
<line x1="1422.26" y1="1606.30" x2="1422.26" y2="1609.80" stroke="#000" stroke-width="1.1" stroke-linecap="butt"/>
<line x1="1424.54" y1="1606.30" x2="1424.54" y2="1609.80" stroke="#000" stroke-width="1.1" stroke-linecap="butt"/>
<line x1="1426.83" y1="1606.30" x2="1426.83" y2="1609.80" stroke="#000" stroke-width="1.1" stroke-linecap="butt"/>
<line x1="1429.11" y1="1606.30" x2="1429.11" y2="1612.30" stroke="#000" stroke-width="1.8" stroke-linecap="butt"/>
<line x1="1442.81" y1="1606.30" x2="1442.81" y2="1609.80" stroke="#000" stroke-width="1.1" stroke-linecap="butt"/>
<line x1="1451.03" y1="1606.30" x2="1451.03" y2="1609.80" stroke="#000" stroke-width="1.1" stroke-linecap="butt"/>
<line x1="1456.51" y1="1606.30" x2="1456.51" y2="1609.80" stroke="#000" stroke-width="1.1" stroke-linecap="butt"/>
<line x1="1461.08" y1="1606.30" x2="1461.08" y2="1609.80" stroke="#000" stroke-width="1.1" stroke-linecap="butt"/>
<line x1="1464.73" y1="1606.30" x2="1464.73" y2="1609.80" stroke="#000" stroke-width="1.1" stroke-linecap="butt"/>
<line x1="1467.93" y1="1606.30" x2="1467.93" y2="1609.80" stroke="#000" stroke-width="1.1" stroke-linecap="butt"/>
<line x1="1470.21" y1="1606.30" x2="1470.21" y2="1609.80" stroke="#000" stroke-width="1.1" stroke-linecap="butt"/>
<line x1="1472.50" y1="1606.30" x2="1472.50" y2="1609.80" stroke="#000" stroke-width="1.1" stroke-linecap="butt"/>
<line x1="1474.78" y1="1606.30" x2="1474.78" y2="1612.30" stroke="#000" stroke-width="1.8" stroke-linecap="butt"/>
<line x1="1488.48" y1="1606.30" x2="1488.48" y2="1609.80" stroke="#000" stroke-width="1.1" stroke-linecap="butt"/>
<line x1="1496.70" y1="1606.30" x2="1496.70" y2="1609.80" stroke="#000" stroke-width="1.1" stroke-linecap="butt"/>
<line x1="1502.18" y1="1606.30" x2="1502.18" y2="1609.80" stroke="#000" stroke-width="1.1" stroke-linecap="butt"/>
<line x1="1506.75" y1="1606.30" x2="1506.75" y2="1609.80" stroke="#000" stroke-width="1.1" stroke-linecap="butt"/>
<line x1="1510.40" y1="1606.30" x2="1510.40" y2="1609.80" stroke="#000" stroke-width="1.1" stroke-linecap="butt"/>
<line x1="1513.60" y1="1606.30" x2="1513.60" y2="1609.80" stroke="#000" stroke-width="1.1" stroke-linecap="butt"/>
<line x1="1515.88" y1="1606.30" x2="1515.88" y2="1609.80" stroke="#000" stroke-width="1.1" stroke-linecap="butt"/>
<line x1="1518.17" y1="1606.30" x2="1518.17" y2="1609.80" stroke="#000" stroke-width="1.1" stroke-linecap="butt"/>
<line x1="1520.45" y1="1606.30" x2="1520.45" y2="1612.30" stroke="#000" stroke-width="1.8" stroke-linecap="butt"/>
<line x1="1534.15" y1="1606.30" x2="1534.15" y2="1609.80" stroke="#000" stroke-width="1.1" stroke-linecap="butt"/>
<line x1="1036.20" y1="1622.80" x2="1036.20" y2="1864.20" stroke="#000" stroke-width="1.3" stroke-linecap="butt"/>
<line x1="1032.20" y1="1864.20" x2="1280.50" y2="1864.20" stroke="#000" stroke-width="1.4" stroke-linecap="butt"/>
<line x1="1280.50" y1="1622.80" x2="1280.50" y2="1864.20" stroke="#000" stroke-width="1.3" stroke-linecap="butt"/>
<line x1="1146.10" y1="1622.80" x2="1146.10" y2="1864.20" stroke="#000" stroke-width="2.6" stroke-linecap="butt"/>
<line x1="1036.20" y1="1763.00" x2="1280.50" y2="1763.00" stroke="#000" stroke-width="1.3" stroke-linecap="butt"/>
<line x1="1030.70" y1="1864.20" x2="1036.20" y2="1864.20" stroke="#000" stroke-width="2.0" stroke-linecap="butt"/>
<line x1="1033.20" y1="1850.79" x2="1036.20" y2="1850.79" stroke="#000" stroke-width="1.2" stroke-linecap="butt"/>
<line x1="1033.20" y1="1842.74" x2="1036.20" y2="1842.74" stroke="#000" stroke-width="1.2" stroke-linecap="butt"/>
<line x1="1033.20" y1="1837.38" x2="1036.20" y2="1837.38" stroke="#000" stroke-width="1.2" stroke-linecap="butt"/>
<line x1="1033.20" y1="1832.91" x2="1036.20" y2="1832.91" stroke="#000" stroke-width="1.2" stroke-linecap="butt"/>
<line x1="1033.20" y1="1829.33" x2="1036.20" y2="1829.33" stroke="#000" stroke-width="1.2" stroke-linecap="butt"/>
<line x1="1033.20" y1="1826.20" x2="1036.20" y2="1826.20" stroke="#000" stroke-width="1.2" stroke-linecap="butt"/>
<line x1="1033.20" y1="1823.97" x2="1036.20" y2="1823.97" stroke="#000" stroke-width="1.2" stroke-linecap="butt"/>
<line x1="1033.20" y1="1821.74" x2="1036.20" y2="1821.74" stroke="#000" stroke-width="1.2" stroke-linecap="butt"/>
<line x1="1030.70" y1="1819.50" x2="1036.20" y2="1819.50" stroke="#000" stroke-width="2.0" stroke-linecap="butt"/>
<line x1="1033.20" y1="1806.09" x2="1036.20" y2="1806.09" stroke="#000" stroke-width="1.2" stroke-linecap="butt"/>
<line x1="1033.20" y1="1798.04" x2="1036.20" y2="1798.04" stroke="#000" stroke-width="1.2" stroke-linecap="butt"/>
<line x1="1033.20" y1="1792.68" x2="1036.20" y2="1792.68" stroke="#000" stroke-width="1.2" stroke-linecap="butt"/>
<line x1="1033.20" y1="1788.21" x2="1036.20" y2="1788.21" stroke="#000" stroke-width="1.2" stroke-linecap="butt"/>
<line x1="1033.20" y1="1784.63" x2="1036.20" y2="1784.63" stroke="#000" stroke-width="1.2" stroke-linecap="butt"/>
<line x1="1033.20" y1="1781.51" x2="1036.20" y2="1781.51" stroke="#000" stroke-width="1.2" stroke-linecap="butt"/>
<line x1="1033.20" y1="1779.27" x2="1036.20" y2="1779.27" stroke="#000" stroke-width="1.2" stroke-linecap="butt"/>
<line x1="1033.20" y1="1777.04" x2="1036.20" y2="1777.04" stroke="#000" stroke-width="1.2" stroke-linecap="butt"/>
<line x1="1030.70" y1="1774.80" x2="1036.20" y2="1774.80" stroke="#000" stroke-width="2.0" stroke-linecap="butt"/>
<line x1="1033.20" y1="1761.39" x2="1036.20" y2="1761.39" stroke="#000" stroke-width="1.2" stroke-linecap="butt"/>
<line x1="1033.20" y1="1753.34" x2="1036.20" y2="1753.34" stroke="#000" stroke-width="1.2" stroke-linecap="butt"/>
<line x1="1033.20" y1="1747.98" x2="1036.20" y2="1747.98" stroke="#000" stroke-width="1.2" stroke-linecap="butt"/>
<line x1="1033.20" y1="1743.51" x2="1036.20" y2="1743.51" stroke="#000" stroke-width="1.2" stroke-linecap="butt"/>
<line x1="1033.20" y1="1739.93" x2="1036.20" y2="1739.93" stroke="#000" stroke-width="1.2" stroke-linecap="butt"/>
<line x1="1033.20" y1="1736.80" x2="1036.20" y2="1736.80" stroke="#000" stroke-width="1.2" stroke-linecap="butt"/>
<line x1="1033.20" y1="1734.57" x2="1036.20" y2="1734.57" stroke="#000" stroke-width="1.2" stroke-linecap="butt"/>
<line x1="1033.20" y1="1732.34" x2="1036.20" y2="1732.34" stroke="#000" stroke-width="1.2" stroke-linecap="butt"/>
<line x1="1030.70" y1="1730.10" x2="1036.20" y2="1730.10" stroke="#000" stroke-width="2.0" stroke-linecap="butt"/>
<line x1="1033.20" y1="1716.69" x2="1036.20" y2="1716.69" stroke="#000" stroke-width="1.2" stroke-linecap="butt"/>
<line x1="1033.20" y1="1708.64" x2="1036.20" y2="1708.64" stroke="#000" stroke-width="1.2" stroke-linecap="butt"/>
<line x1="1033.20" y1="1703.28" x2="1036.20" y2="1703.28" stroke="#000" stroke-width="1.2" stroke-linecap="butt"/>
<line x1="1033.20" y1="1698.81" x2="1036.20" y2="1698.81" stroke="#000" stroke-width="1.2" stroke-linecap="butt"/>
<line x1="1033.20" y1="1695.23" x2="1036.20" y2="1695.23" stroke="#000" stroke-width="1.2" stroke-linecap="butt"/>
<line x1="1033.20" y1="1692.11" x2="1036.20" y2="1692.11" stroke="#000" stroke-width="1.2" stroke-linecap="butt"/>
<line x1="1033.20" y1="1689.87" x2="1036.20" y2="1689.87" stroke="#000" stroke-width="1.2" stroke-linecap="butt"/>
<line x1="1033.20" y1="1687.64" x2="1036.20" y2="1687.64" stroke="#000" stroke-width="1.2" stroke-linecap="butt"/>
<line x1="1030.70" y1="1685.40" x2="1036.20" y2="1685.40" stroke="#000" stroke-width="2.0" stroke-linecap="butt"/>
<line x1="1033.20" y1="1671.99" x2="1036.20" y2="1671.99" stroke="#000" stroke-width="1.2" stroke-linecap="butt"/>
<line x1="1033.20" y1="1663.94" x2="1036.20" y2="1663.94" stroke="#000" stroke-width="1.2" stroke-linecap="butt"/>
<line x1="1033.20" y1="1658.58" x2="1036.20" y2="1658.58" stroke="#000" stroke-width="1.2" stroke-linecap="butt"/>
<line x1="1033.20" y1="1654.11" x2="1036.20" y2="1654.11" stroke="#000" stroke-width="1.2" stroke-linecap="butt"/>
<line x1="1033.20" y1="1650.53" x2="1036.20" y2="1650.53" stroke="#000" stroke-width="1.2" stroke-linecap="butt"/>
<line x1="1033.20" y1="1647.41" x2="1036.20" y2="1647.41" stroke="#000" stroke-width="1.2" stroke-linecap="butt"/>
<line x1="1033.20" y1="1645.17" x2="1036.20" y2="1645.17" stroke="#000" stroke-width="1.2" stroke-linecap="butt"/>
<line x1="1033.20" y1="1642.94" x2="1036.20" y2="1642.94" stroke="#000" stroke-width="1.2" stroke-linecap="butt"/>
<line x1="1030.70" y1="1640.70" x2="1036.20" y2="1640.70" stroke="#000" stroke-width="2.0" stroke-linecap="butt"/>
<line x1="1036.20" y1="1864.20" x2="1036.20" y2="1870.20" stroke="#000" stroke-width="1.8" stroke-linecap="butt"/>
<line x1="1049.65" y1="1864.20" x2="1049.65" y2="1867.70" stroke="#000" stroke-width="1.1" stroke-linecap="butt"/>
<line x1="1057.72" y1="1864.20" x2="1057.72" y2="1867.70" stroke="#000" stroke-width="1.1" stroke-linecap="butt"/>
<line x1="1063.10" y1="1864.20" x2="1063.10" y2="1867.70" stroke="#000" stroke-width="1.1" stroke-linecap="butt"/>
<line x1="1067.58" y1="1864.20" x2="1067.58" y2="1867.70" stroke="#000" stroke-width="1.1" stroke-linecap="butt"/>
<line x1="1071.16" y1="1864.20" x2="1071.16" y2="1867.70" stroke="#000" stroke-width="1.1" stroke-linecap="butt"/>
<line x1="1074.30" y1="1864.20" x2="1074.30" y2="1867.70" stroke="#000" stroke-width="1.1" stroke-linecap="butt"/>
<line x1="1076.54" y1="1864.20" x2="1076.54" y2="1867.70" stroke="#000" stroke-width="1.1" stroke-linecap="butt"/>
<line x1="1078.78" y1="1864.20" x2="1078.78" y2="1867.70" stroke="#000" stroke-width="1.1" stroke-linecap="butt"/>
<line x1="1081.03" y1="1864.20" x2="1081.03" y2="1870.20" stroke="#000" stroke-width="1.8" stroke-linecap="butt"/>
<line x1="1094.47" y1="1864.20" x2="1094.47" y2="1867.70" stroke="#000" stroke-width="1.1" stroke-linecap="butt"/>
<line x1="1102.54" y1="1864.20" x2="1102.54" y2="1867.70" stroke="#000" stroke-width="1.1" stroke-linecap="butt"/>
<line x1="1107.92" y1="1864.20" x2="1107.92" y2="1867.70" stroke="#000" stroke-width="1.1" stroke-linecap="butt"/>
<line x1="1112.40" y1="1864.20" x2="1112.40" y2="1867.70" stroke="#000" stroke-width="1.1" stroke-linecap="butt"/>
<line x1="1115.99" y1="1864.20" x2="1115.99" y2="1867.70" stroke="#000" stroke-width="1.1" stroke-linecap="butt"/>
<line x1="1119.13" y1="1864.20" x2="1119.13" y2="1867.70" stroke="#000" stroke-width="1.1" stroke-linecap="butt"/>
<line x1="1121.37" y1="1864.20" x2="1121.37" y2="1867.70" stroke="#000" stroke-width="1.1" stroke-linecap="butt"/>
<line x1="1123.61" y1="1864.20" x2="1123.61" y2="1867.70" stroke="#000" stroke-width="1.1" stroke-linecap="butt"/>
<line x1="1125.85" y1="1864.20" x2="1125.85" y2="1870.20" stroke="#000" stroke-width="1.8" stroke-linecap="butt"/>
<line x1="1139.30" y1="1864.20" x2="1139.30" y2="1867.70" stroke="#000" stroke-width="1.1" stroke-linecap="butt"/>
<line x1="1147.37" y1="1864.20" x2="1147.37" y2="1867.70" stroke="#000" stroke-width="1.1" stroke-linecap="butt"/>
<line x1="1152.75" y1="1864.20" x2="1152.75" y2="1867.70" stroke="#000" stroke-width="1.1" stroke-linecap="butt"/>
<line x1="1157.23" y1="1864.20" x2="1157.23" y2="1867.70" stroke="#000" stroke-width="1.1" stroke-linecap="butt"/>
<line x1="1160.82" y1="1864.20" x2="1160.82" y2="1867.70" stroke="#000" stroke-width="1.1" stroke-linecap="butt"/>
<line x1="1163.95" y1="1864.20" x2="1163.95" y2="1867.70" stroke="#000" stroke-width="1.1" stroke-linecap="butt"/>
<line x1="1166.19" y1="1864.20" x2="1166.19" y2="1867.70" stroke="#000" stroke-width="1.1" stroke-linecap="butt"/>
<line x1="1168.44" y1="1864.20" x2="1168.44" y2="1867.70" stroke="#000" stroke-width="1.1" stroke-linecap="butt"/>
<line x1="1170.68" y1="1864.20" x2="1170.68" y2="1870.20" stroke="#000" stroke-width="1.8" stroke-linecap="butt"/>
<line x1="1184.12" y1="1864.20" x2="1184.12" y2="1867.70" stroke="#000" stroke-width="1.1" stroke-linecap="butt"/>
<line x1="1192.19" y1="1864.20" x2="1192.19" y2="1867.70" stroke="#000" stroke-width="1.1" stroke-linecap="butt"/>
<line x1="1197.57" y1="1864.20" x2="1197.57" y2="1867.70" stroke="#000" stroke-width="1.1" stroke-linecap="butt"/>
<line x1="1202.06" y1="1864.20" x2="1202.06" y2="1867.70" stroke="#000" stroke-width="1.1" stroke-linecap="butt"/>
<line x1="1205.64" y1="1864.20" x2="1205.64" y2="1867.70" stroke="#000" stroke-width="1.1" stroke-linecap="butt"/>
<line x1="1208.78" y1="1864.20" x2="1208.78" y2="1867.70" stroke="#000" stroke-width="1.1" stroke-linecap="butt"/>
<line x1="1211.02" y1="1864.20" x2="1211.02" y2="1867.70" stroke="#000" stroke-width="1.1" stroke-linecap="butt"/>
<line x1="1213.26" y1="1864.20" x2="1213.26" y2="1867.70" stroke="#000" stroke-width="1.1" stroke-linecap="butt"/>
<line x1="1215.50" y1="1864.20" x2="1215.50" y2="1870.20" stroke="#000" stroke-width="1.8" stroke-linecap="butt"/>
<line x1="1228.95" y1="1864.20" x2="1228.95" y2="1867.70" stroke="#000" stroke-width="1.1" stroke-linecap="butt"/>
<line x1="1237.02" y1="1864.20" x2="1237.02" y2="1867.70" stroke="#000" stroke-width="1.1" stroke-linecap="butt"/>
<line x1="1242.40" y1="1864.20" x2="1242.40" y2="1867.70" stroke="#000" stroke-width="1.1" stroke-linecap="butt"/>
<line x1="1246.88" y1="1864.20" x2="1246.88" y2="1867.70" stroke="#000" stroke-width="1.1" stroke-linecap="butt"/>
<line x1="1250.47" y1="1864.20" x2="1250.47" y2="1867.70" stroke="#000" stroke-width="1.1" stroke-linecap="butt"/>
<line x1="1253.60" y1="1864.20" x2="1253.60" y2="1867.70" stroke="#000" stroke-width="1.1" stroke-linecap="butt"/>
<line x1="1255.85" y1="1864.20" x2="1255.85" y2="1867.70" stroke="#000" stroke-width="1.1" stroke-linecap="butt"/>
<line x1="1258.09" y1="1864.20" x2="1258.09" y2="1867.70" stroke="#000" stroke-width="1.1" stroke-linecap="butt"/>
<line x1="1260.33" y1="1864.20" x2="1260.33" y2="1870.20" stroke="#000" stroke-width="1.8" stroke-linecap="butt"/>
<line x1="1273.78" y1="1864.20" x2="1273.78" y2="1867.70" stroke="#000" stroke-width="1.1" stroke-linecap="butt"/>
<line x1="1292.10" y1="1622.80" x2="1292.10" y2="1864.20" stroke="#000" stroke-width="1.3" stroke-linecap="butt"/>
<line x1="1288.10" y1="1864.20" x2="1536.00" y2="1864.20" stroke="#000" stroke-width="1.4" stroke-linecap="butt"/>
<line x1="1402.80" y1="1622.80" x2="1402.80" y2="1864.20" stroke="#000" stroke-width="1.3" stroke-linecap="butt"/>
<line x1="1292.10" y1="1763.00" x2="1536.00" y2="1763.00" stroke="#000" stroke-width="1.3" stroke-linecap="butt"/>
<line x1="1286.60" y1="1864.20" x2="1292.10" y2="1864.20" stroke="#000" stroke-width="2.0" stroke-linecap="butt"/>
<line x1="1289.10" y1="1850.79" x2="1292.10" y2="1850.79" stroke="#000" stroke-width="1.2" stroke-linecap="butt"/>
<line x1="1289.10" y1="1842.74" x2="1292.10" y2="1842.74" stroke="#000" stroke-width="1.2" stroke-linecap="butt"/>
<line x1="1289.10" y1="1837.38" x2="1292.10" y2="1837.38" stroke="#000" stroke-width="1.2" stroke-linecap="butt"/>
<line x1="1289.10" y1="1832.91" x2="1292.10" y2="1832.91" stroke="#000" stroke-width="1.2" stroke-linecap="butt"/>
<line x1="1289.10" y1="1829.33" x2="1292.10" y2="1829.33" stroke="#000" stroke-width="1.2" stroke-linecap="butt"/>
<line x1="1289.10" y1="1826.20" x2="1292.10" y2="1826.20" stroke="#000" stroke-width="1.2" stroke-linecap="butt"/>
<line x1="1289.10" y1="1823.97" x2="1292.10" y2="1823.97" stroke="#000" stroke-width="1.2" stroke-linecap="butt"/>
<line x1="1289.10" y1="1821.74" x2="1292.10" y2="1821.74" stroke="#000" stroke-width="1.2" stroke-linecap="butt"/>
<line x1="1286.60" y1="1819.50" x2="1292.10" y2="1819.50" stroke="#000" stroke-width="2.0" stroke-linecap="butt"/>
<line x1="1289.10" y1="1806.09" x2="1292.10" y2="1806.09" stroke="#000" stroke-width="1.2" stroke-linecap="butt"/>
<line x1="1289.10" y1="1798.04" x2="1292.10" y2="1798.04" stroke="#000" stroke-width="1.2" stroke-linecap="butt"/>
<line x1="1289.10" y1="1792.68" x2="1292.10" y2="1792.68" stroke="#000" stroke-width="1.2" stroke-linecap="butt"/>
<line x1="1289.10" y1="1788.21" x2="1292.10" y2="1788.21" stroke="#000" stroke-width="1.2" stroke-linecap="butt"/>
<line x1="1289.10" y1="1784.63" x2="1292.10" y2="1784.63" stroke="#000" stroke-width="1.2" stroke-linecap="butt"/>
<line x1="1289.10" y1="1781.51" x2="1292.10" y2="1781.51" stroke="#000" stroke-width="1.2" stroke-linecap="butt"/>
<line x1="1289.10" y1="1779.27" x2="1292.10" y2="1779.27" stroke="#000" stroke-width="1.2" stroke-linecap="butt"/>
<line x1="1289.10" y1="1777.04" x2="1292.10" y2="1777.04" stroke="#000" stroke-width="1.2" stroke-linecap="butt"/>
<line x1="1286.60" y1="1774.80" x2="1292.10" y2="1774.80" stroke="#000" stroke-width="2.0" stroke-linecap="butt"/>
<line x1="1289.10" y1="1761.39" x2="1292.10" y2="1761.39" stroke="#000" stroke-width="1.2" stroke-linecap="butt"/>
<line x1="1289.10" y1="1753.34" x2="1292.10" y2="1753.34" stroke="#000" stroke-width="1.2" stroke-linecap="butt"/>
<line x1="1289.10" y1="1747.98" x2="1292.10" y2="1747.98" stroke="#000" stroke-width="1.2" stroke-linecap="butt"/>
<line x1="1289.10" y1="1743.51" x2="1292.10" y2="1743.51" stroke="#000" stroke-width="1.2" stroke-linecap="butt"/>
<line x1="1289.10" y1="1739.93" x2="1292.10" y2="1739.93" stroke="#000" stroke-width="1.2" stroke-linecap="butt"/>
<line x1="1289.10" y1="1736.80" x2="1292.10" y2="1736.80" stroke="#000" stroke-width="1.2" stroke-linecap="butt"/>
<line x1="1289.10" y1="1734.57" x2="1292.10" y2="1734.57" stroke="#000" stroke-width="1.2" stroke-linecap="butt"/>
<line x1="1289.10" y1="1732.34" x2="1292.10" y2="1732.34" stroke="#000" stroke-width="1.2" stroke-linecap="butt"/>
<line x1="1286.60" y1="1730.10" x2="1292.10" y2="1730.10" stroke="#000" stroke-width="2.0" stroke-linecap="butt"/>
<line x1="1289.10" y1="1716.69" x2="1292.10" y2="1716.69" stroke="#000" stroke-width="1.2" stroke-linecap="butt"/>
<line x1="1289.10" y1="1708.64" x2="1292.10" y2="1708.64" stroke="#000" stroke-width="1.2" stroke-linecap="butt"/>
<line x1="1289.10" y1="1703.28" x2="1292.10" y2="1703.28" stroke="#000" stroke-width="1.2" stroke-linecap="butt"/>
<line x1="1289.10" y1="1698.81" x2="1292.10" y2="1698.81" stroke="#000" stroke-width="1.2" stroke-linecap="butt"/>
<line x1="1289.10" y1="1695.23" x2="1292.10" y2="1695.23" stroke="#000" stroke-width="1.2" stroke-linecap="butt"/>
<line x1="1289.10" y1="1692.11" x2="1292.10" y2="1692.11" stroke="#000" stroke-width="1.2" stroke-linecap="butt"/>
<line x1="1289.10" y1="1689.87" x2="1292.10" y2="1689.87" stroke="#000" stroke-width="1.2" stroke-linecap="butt"/>
<line x1="1289.10" y1="1687.64" x2="1292.10" y2="1687.64" stroke="#000" stroke-width="1.2" stroke-linecap="butt"/>
<line x1="1286.60" y1="1685.40" x2="1292.10" y2="1685.40" stroke="#000" stroke-width="2.0" stroke-linecap="butt"/>
<line x1="1289.10" y1="1671.99" x2="1292.10" y2="1671.99" stroke="#000" stroke-width="1.2" stroke-linecap="butt"/>
<line x1="1289.10" y1="1663.94" x2="1292.10" y2="1663.94" stroke="#000" stroke-width="1.2" stroke-linecap="butt"/>
<line x1="1289.10" y1="1658.58" x2="1292.10" y2="1658.58" stroke="#000" stroke-width="1.2" stroke-linecap="butt"/>
<line x1="1289.10" y1="1654.11" x2="1292.10" y2="1654.11" stroke="#000" stroke-width="1.2" stroke-linecap="butt"/>
<line x1="1289.10" y1="1650.53" x2="1292.10" y2="1650.53" stroke="#000" stroke-width="1.2" stroke-linecap="butt"/>
<line x1="1289.10" y1="1647.41" x2="1292.10" y2="1647.41" stroke="#000" stroke-width="1.2" stroke-linecap="butt"/>
<line x1="1289.10" y1="1645.17" x2="1292.10" y2="1645.17" stroke="#000" stroke-width="1.2" stroke-linecap="butt"/>
<line x1="1289.10" y1="1642.94" x2="1292.10" y2="1642.94" stroke="#000" stroke-width="1.2" stroke-linecap="butt"/>
<line x1="1286.60" y1="1640.70" x2="1292.10" y2="1640.70" stroke="#000" stroke-width="2.0" stroke-linecap="butt"/>
<line x1="1292.10" y1="1864.20" x2="1292.10" y2="1870.20" stroke="#000" stroke-width="1.8" stroke-linecap="butt"/>
<line x1="1305.80" y1="1864.20" x2="1305.80" y2="1867.70" stroke="#000" stroke-width="1.1" stroke-linecap="butt"/>
<line x1="1314.02" y1="1864.20" x2="1314.02" y2="1867.70" stroke="#000" stroke-width="1.1" stroke-linecap="butt"/>
<line x1="1319.50" y1="1864.20" x2="1319.50" y2="1867.70" stroke="#000" stroke-width="1.1" stroke-linecap="butt"/>
<line x1="1324.07" y1="1864.20" x2="1324.07" y2="1867.70" stroke="#000" stroke-width="1.1" stroke-linecap="butt"/>
<line x1="1327.72" y1="1864.20" x2="1327.72" y2="1867.70" stroke="#000" stroke-width="1.1" stroke-linecap="butt"/>
<line x1="1330.92" y1="1864.20" x2="1330.92" y2="1867.70" stroke="#000" stroke-width="1.1" stroke-linecap="butt"/>
<line x1="1333.20" y1="1864.20" x2="1333.20" y2="1867.70" stroke="#000" stroke-width="1.1" stroke-linecap="butt"/>
<line x1="1335.49" y1="1864.20" x2="1335.49" y2="1867.70" stroke="#000" stroke-width="1.1" stroke-linecap="butt"/>
<line x1="1337.77" y1="1864.20" x2="1337.77" y2="1870.20" stroke="#000" stroke-width="1.8" stroke-linecap="butt"/>
<line x1="1351.47" y1="1864.20" x2="1351.47" y2="1867.70" stroke="#000" stroke-width="1.1" stroke-linecap="butt"/>
<line x1="1359.69" y1="1864.20" x2="1359.69" y2="1867.70" stroke="#000" stroke-width="1.1" stroke-linecap="butt"/>
<line x1="1365.17" y1="1864.20" x2="1365.17" y2="1867.70" stroke="#000" stroke-width="1.1" stroke-linecap="butt"/>
<line x1="1369.74" y1="1864.20" x2="1369.74" y2="1867.70" stroke="#000" stroke-width="1.1" stroke-linecap="butt"/>
<line x1="1373.39" y1="1864.20" x2="1373.39" y2="1867.70" stroke="#000" stroke-width="1.1" stroke-linecap="butt"/>
<line x1="1376.59" y1="1864.20" x2="1376.59" y2="1867.70" stroke="#000" stroke-width="1.1" stroke-linecap="butt"/>
<line x1="1378.87" y1="1864.20" x2="1378.87" y2="1867.70" stroke="#000" stroke-width="1.1" stroke-linecap="butt"/>
<line x1="1381.16" y1="1864.20" x2="1381.16" y2="1867.70" stroke="#000" stroke-width="1.1" stroke-linecap="butt"/>
<line x1="1383.44" y1="1864.20" x2="1383.44" y2="1870.20" stroke="#000" stroke-width="1.8" stroke-linecap="butt"/>
<line x1="1397.14" y1="1864.20" x2="1397.14" y2="1867.70" stroke="#000" stroke-width="1.1" stroke-linecap="butt"/>
<line x1="1405.36" y1="1864.20" x2="1405.36" y2="1867.70" stroke="#000" stroke-width="1.1" stroke-linecap="butt"/>
<line x1="1410.84" y1="1864.20" x2="1410.84" y2="1867.70" stroke="#000" stroke-width="1.1" stroke-linecap="butt"/>
<line x1="1415.41" y1="1864.20" x2="1415.41" y2="1867.70" stroke="#000" stroke-width="1.1" stroke-linecap="butt"/>
<line x1="1419.06" y1="1864.20" x2="1419.06" y2="1867.70" stroke="#000" stroke-width="1.1" stroke-linecap="butt"/>
<line x1="1422.26" y1="1864.20" x2="1422.26" y2="1867.70" stroke="#000" stroke-width="1.1" stroke-linecap="butt"/>
<line x1="1424.54" y1="1864.20" x2="1424.54" y2="1867.70" stroke="#000" stroke-width="1.1" stroke-linecap="butt"/>
<line x1="1426.83" y1="1864.20" x2="1426.83" y2="1867.70" stroke="#000" stroke-width="1.1" stroke-linecap="butt"/>
<line x1="1429.11" y1="1864.20" x2="1429.11" y2="1870.20" stroke="#000" stroke-width="1.8" stroke-linecap="butt"/>
<line x1="1442.81" y1="1864.20" x2="1442.81" y2="1867.70" stroke="#000" stroke-width="1.1" stroke-linecap="butt"/>
<line x1="1451.03" y1="1864.20" x2="1451.03" y2="1867.70" stroke="#000" stroke-width="1.1" stroke-linecap="butt"/>
<line x1="1456.51" y1="1864.20" x2="1456.51" y2="1867.70" stroke="#000" stroke-width="1.1" stroke-linecap="butt"/>
<line x1="1461.08" y1="1864.20" x2="1461.08" y2="1867.70" stroke="#000" stroke-width="1.1" stroke-linecap="butt"/>
<line x1="1464.73" y1="1864.20" x2="1464.73" y2="1867.70" stroke="#000" stroke-width="1.1" stroke-linecap="butt"/>
<line x1="1467.93" y1="1864.20" x2="1467.93" y2="1867.70" stroke="#000" stroke-width="1.1" stroke-linecap="butt"/>
<line x1="1470.21" y1="1864.20" x2="1470.21" y2="1867.70" stroke="#000" stroke-width="1.1" stroke-linecap="butt"/>
<line x1="1472.50" y1="1864.20" x2="1472.50" y2="1867.70" stroke="#000" stroke-width="1.1" stroke-linecap="butt"/>
<line x1="1474.78" y1="1864.20" x2="1474.78" y2="1870.20" stroke="#000" stroke-width="1.8" stroke-linecap="butt"/>
<line x1="1488.48" y1="1864.20" x2="1488.48" y2="1867.70" stroke="#000" stroke-width="1.1" stroke-linecap="butt"/>
<line x1="1496.70" y1="1864.20" x2="1496.70" y2="1867.70" stroke="#000" stroke-width="1.1" stroke-linecap="butt"/>
<line x1="1502.18" y1="1864.20" x2="1502.18" y2="1867.70" stroke="#000" stroke-width="1.1" stroke-linecap="butt"/>
<line x1="1506.75" y1="1864.20" x2="1506.75" y2="1867.70" stroke="#000" stroke-width="1.1" stroke-linecap="butt"/>
<line x1="1510.40" y1="1864.20" x2="1510.40" y2="1867.70" stroke="#000" stroke-width="1.1" stroke-linecap="butt"/>
<line x1="1513.60" y1="1864.20" x2="1513.60" y2="1867.70" stroke="#000" stroke-width="1.1" stroke-linecap="butt"/>
<line x1="1515.88" y1="1864.20" x2="1515.88" y2="1867.70" stroke="#000" stroke-width="1.1" stroke-linecap="butt"/>
<line x1="1518.17" y1="1864.20" x2="1518.17" y2="1867.70" stroke="#000" stroke-width="1.1" stroke-linecap="butt"/>
<line x1="1520.45" y1="1864.20" x2="1520.45" y2="1870.20" stroke="#000" stroke-width="1.8" stroke-linecap="butt"/>
<line x1="1534.15" y1="1864.20" x2="1534.15" y2="1867.70" stroke="#000" stroke-width="1.1" stroke-linecap="butt"/>
<line x1="1036.20" y1="1884.50" x2="1280.50" y2="1884.50" stroke="#000" stroke-width="1.3" stroke-linecap="butt"/>
<line x1="1036.20" y1="1884.50" x2="1036.20" y2="2127.20" stroke="#000" stroke-width="1.3" stroke-linecap="butt"/>
<line x1="1032.20" y1="2127.20" x2="1280.50" y2="2127.20" stroke="#000" stroke-width="1.4" stroke-linecap="butt"/>
<line x1="1280.50" y1="1884.50" x2="1280.50" y2="2127.20" stroke="#000" stroke-width="1.3" stroke-linecap="butt"/>
<line x1="1146.10" y1="1884.50" x2="1146.10" y2="2127.20" stroke="#000" stroke-width="2.6" stroke-linecap="butt"/>
<line x1="1036.20" y1="2025.50" x2="1280.50" y2="2025.50" stroke="#000" stroke-width="2.6" stroke-linecap="butt"/>
<line x1="1030.70" y1="2127.20" x2="1036.20" y2="2127.20" stroke="#000" stroke-width="2.0" stroke-linecap="butt"/>
<line x1="1033.20" y1="2113.79" x2="1036.20" y2="2113.79" stroke="#000" stroke-width="1.2" stroke-linecap="butt"/>
<line x1="1033.20" y1="2105.74" x2="1036.20" y2="2105.74" stroke="#000" stroke-width="1.2" stroke-linecap="butt"/>
<line x1="1033.20" y1="2100.38" x2="1036.20" y2="2100.38" stroke="#000" stroke-width="1.2" stroke-linecap="butt"/>
<line x1="1033.20" y1="2095.91" x2="1036.20" y2="2095.91" stroke="#000" stroke-width="1.2" stroke-linecap="butt"/>
<line x1="1033.20" y1="2092.33" x2="1036.20" y2="2092.33" stroke="#000" stroke-width="1.2" stroke-linecap="butt"/>
<line x1="1033.20" y1="2089.20" x2="1036.20" y2="2089.20" stroke="#000" stroke-width="1.2" stroke-linecap="butt"/>
<line x1="1033.20" y1="2086.97" x2="1036.20" y2="2086.97" stroke="#000" stroke-width="1.2" stroke-linecap="butt"/>
<line x1="1033.20" y1="2084.73" x2="1036.20" y2="2084.73" stroke="#000" stroke-width="1.2" stroke-linecap="butt"/>
<line x1="1030.70" y1="2082.50" x2="1036.20" y2="2082.50" stroke="#000" stroke-width="2.0" stroke-linecap="butt"/>
<line x1="1033.20" y1="2069.09" x2="1036.20" y2="2069.09" stroke="#000" stroke-width="1.2" stroke-linecap="butt"/>
<line x1="1033.20" y1="2061.04" x2="1036.20" y2="2061.04" stroke="#000" stroke-width="1.2" stroke-linecap="butt"/>
<line x1="1033.20" y1="2055.68" x2="1036.20" y2="2055.68" stroke="#000" stroke-width="1.2" stroke-linecap="butt"/>
<line x1="1033.20" y1="2051.21" x2="1036.20" y2="2051.21" stroke="#000" stroke-width="1.2" stroke-linecap="butt"/>
<line x1="1033.20" y1="2047.63" x2="1036.20" y2="2047.63" stroke="#000" stroke-width="1.2" stroke-linecap="butt"/>
<line x1="1033.20" y1="2044.51" x2="1036.20" y2="2044.51" stroke="#000" stroke-width="1.2" stroke-linecap="butt"/>
<line x1="1033.20" y1="2042.27" x2="1036.20" y2="2042.27" stroke="#000" stroke-width="1.2" stroke-linecap="butt"/>
<line x1="1033.20" y1="2040.04" x2="1036.20" y2="2040.04" stroke="#000" stroke-width="1.2" stroke-linecap="butt"/>
<line x1="1030.70" y1="2037.80" x2="1036.20" y2="2037.80" stroke="#000" stroke-width="2.0" stroke-linecap="butt"/>
<line x1="1033.20" y1="2024.39" x2="1036.20" y2="2024.39" stroke="#000" stroke-width="1.2" stroke-linecap="butt"/>
<line x1="1033.20" y1="2016.34" x2="1036.20" y2="2016.34" stroke="#000" stroke-width="1.2" stroke-linecap="butt"/>
<line x1="1033.20" y1="2010.98" x2="1036.20" y2="2010.98" stroke="#000" stroke-width="1.2" stroke-linecap="butt"/>
<line x1="1033.20" y1="2006.51" x2="1036.20" y2="2006.51" stroke="#000" stroke-width="1.2" stroke-linecap="butt"/>
<line x1="1033.20" y1="2002.93" x2="1036.20" y2="2002.93" stroke="#000" stroke-width="1.2" stroke-linecap="butt"/>
<line x1="1033.20" y1="1999.80" x2="1036.20" y2="1999.80" stroke="#000" stroke-width="1.2" stroke-linecap="butt"/>
<line x1="1033.20" y1="1997.57" x2="1036.20" y2="1997.57" stroke="#000" stroke-width="1.2" stroke-linecap="butt"/>
<line x1="1033.20" y1="1995.33" x2="1036.20" y2="1995.33" stroke="#000" stroke-width="1.2" stroke-linecap="butt"/>
<line x1="1030.70" y1="1993.10" x2="1036.20" y2="1993.10" stroke="#000" stroke-width="2.0" stroke-linecap="butt"/>
<line x1="1033.20" y1="1979.69" x2="1036.20" y2="1979.69" stroke="#000" stroke-width="1.2" stroke-linecap="butt"/>
<line x1="1033.20" y1="1971.64" x2="1036.20" y2="1971.64" stroke="#000" stroke-width="1.2" stroke-linecap="butt"/>
<line x1="1033.20" y1="1966.28" x2="1036.20" y2="1966.28" stroke="#000" stroke-width="1.2" stroke-linecap="butt"/>
<line x1="1033.20" y1="1961.81" x2="1036.20" y2="1961.81" stroke="#000" stroke-width="1.2" stroke-linecap="butt"/>
<line x1="1033.20" y1="1958.23" x2="1036.20" y2="1958.23" stroke="#000" stroke-width="1.2" stroke-linecap="butt"/>
<line x1="1033.20" y1="1955.11" x2="1036.20" y2="1955.11" stroke="#000" stroke-width="1.2" stroke-linecap="butt"/>
<line x1="1033.20" y1="1952.87" x2="1036.20" y2="1952.87" stroke="#000" stroke-width="1.2" stroke-linecap="butt"/>
<line x1="1033.20" y1="1950.63" x2="1036.20" y2="1950.63" stroke="#000" stroke-width="1.2" stroke-linecap="butt"/>
<line x1="1030.70" y1="1948.40" x2="1036.20" y2="1948.40" stroke="#000" stroke-width="2.0" stroke-linecap="butt"/>
<line x1="1033.20" y1="1934.99" x2="1036.20" y2="1934.99" stroke="#000" stroke-width="1.2" stroke-linecap="butt"/>
<line x1="1033.20" y1="1926.94" x2="1036.20" y2="1926.94" stroke="#000" stroke-width="1.2" stroke-linecap="butt"/>
<line x1="1033.20" y1="1921.58" x2="1036.20" y2="1921.58" stroke="#000" stroke-width="1.2" stroke-linecap="butt"/>
<line x1="1033.20" y1="1917.11" x2="1036.20" y2="1917.11" stroke="#000" stroke-width="1.2" stroke-linecap="butt"/>
<line x1="1033.20" y1="1913.53" x2="1036.20" y2="1913.53" stroke="#000" stroke-width="1.2" stroke-linecap="butt"/>
<line x1="1033.20" y1="1910.40" x2="1036.20" y2="1910.40" stroke="#000" stroke-width="1.2" stroke-linecap="butt"/>
<line x1="1033.20" y1="1908.17" x2="1036.20" y2="1908.17" stroke="#000" stroke-width="1.2" stroke-linecap="butt"/>
<line x1="1033.20" y1="1905.93" x2="1036.20" y2="1905.93" stroke="#000" stroke-width="1.2" stroke-linecap="butt"/>
<line x1="1030.70" y1="1903.70" x2="1036.20" y2="1903.70" stroke="#000" stroke-width="2.0" stroke-linecap="butt"/>
<line x1="1036.20" y1="2127.20" x2="1036.20" y2="2133.20" stroke="#000" stroke-width="1.8" stroke-linecap="butt"/>
<line x1="1049.65" y1="2127.20" x2="1049.65" y2="2130.70" stroke="#000" stroke-width="1.1" stroke-linecap="butt"/>
<line x1="1057.72" y1="2127.20" x2="1057.72" y2="2130.70" stroke="#000" stroke-width="1.1" stroke-linecap="butt"/>
<line x1="1063.10" y1="2127.20" x2="1063.10" y2="2130.70" stroke="#000" stroke-width="1.1" stroke-linecap="butt"/>
<line x1="1067.58" y1="2127.20" x2="1067.58" y2="2130.70" stroke="#000" stroke-width="1.1" stroke-linecap="butt"/>
<line x1="1071.16" y1="2127.20" x2="1071.16" y2="2130.70" stroke="#000" stroke-width="1.1" stroke-linecap="butt"/>
<line x1="1074.30" y1="2127.20" x2="1074.30" y2="2130.70" stroke="#000" stroke-width="1.1" stroke-linecap="butt"/>
<line x1="1076.54" y1="2127.20" x2="1076.54" y2="2130.70" stroke="#000" stroke-width="1.1" stroke-linecap="butt"/>
<line x1="1078.78" y1="2127.20" x2="1078.78" y2="2130.70" stroke="#000" stroke-width="1.1" stroke-linecap="butt"/>
<line x1="1081.03" y1="2127.20" x2="1081.03" y2="2133.20" stroke="#000" stroke-width="1.8" stroke-linecap="butt"/>
<line x1="1094.47" y1="2127.20" x2="1094.47" y2="2130.70" stroke="#000" stroke-width="1.1" stroke-linecap="butt"/>
<line x1="1102.54" y1="2127.20" x2="1102.54" y2="2130.70" stroke="#000" stroke-width="1.1" stroke-linecap="butt"/>
<line x1="1107.92" y1="2127.20" x2="1107.92" y2="2130.70" stroke="#000" stroke-width="1.1" stroke-linecap="butt"/>
<line x1="1112.40" y1="2127.20" x2="1112.40" y2="2130.70" stroke="#000" stroke-width="1.1" stroke-linecap="butt"/>
<line x1="1115.99" y1="2127.20" x2="1115.99" y2="2130.70" stroke="#000" stroke-width="1.1" stroke-linecap="butt"/>
<line x1="1119.13" y1="2127.20" x2="1119.13" y2="2130.70" stroke="#000" stroke-width="1.1" stroke-linecap="butt"/>
<line x1="1121.37" y1="2127.20" x2="1121.37" y2="2130.70" stroke="#000" stroke-width="1.1" stroke-linecap="butt"/>
<line x1="1123.61" y1="2127.20" x2="1123.61" y2="2130.70" stroke="#000" stroke-width="1.1" stroke-linecap="butt"/>
<line x1="1125.85" y1="2127.20" x2="1125.85" y2="2133.20" stroke="#000" stroke-width="1.8" stroke-linecap="butt"/>
<line x1="1139.30" y1="2127.20" x2="1139.30" y2="2130.70" stroke="#000" stroke-width="1.1" stroke-linecap="butt"/>
<line x1="1147.37" y1="2127.20" x2="1147.37" y2="2130.70" stroke="#000" stroke-width="1.1" stroke-linecap="butt"/>
<line x1="1152.75" y1="2127.20" x2="1152.75" y2="2130.70" stroke="#000" stroke-width="1.1" stroke-linecap="butt"/>
<line x1="1157.23" y1="2127.20" x2="1157.23" y2="2130.70" stroke="#000" stroke-width="1.1" stroke-linecap="butt"/>
<line x1="1160.82" y1="2127.20" x2="1160.82" y2="2130.70" stroke="#000" stroke-width="1.1" stroke-linecap="butt"/>
<line x1="1163.95" y1="2127.20" x2="1163.95" y2="2130.70" stroke="#000" stroke-width="1.1" stroke-linecap="butt"/>
<line x1="1166.19" y1="2127.20" x2="1166.19" y2="2130.70" stroke="#000" stroke-width="1.1" stroke-linecap="butt"/>
<line x1="1168.44" y1="2127.20" x2="1168.44" y2="2130.70" stroke="#000" stroke-width="1.1" stroke-linecap="butt"/>
<line x1="1170.68" y1="2127.20" x2="1170.68" y2="2133.20" stroke="#000" stroke-width="1.8" stroke-linecap="butt"/>
<line x1="1184.12" y1="2127.20" x2="1184.12" y2="2130.70" stroke="#000" stroke-width="1.1" stroke-linecap="butt"/>
<line x1="1192.19" y1="2127.20" x2="1192.19" y2="2130.70" stroke="#000" stroke-width="1.1" stroke-linecap="butt"/>
<line x1="1197.57" y1="2127.20" x2="1197.57" y2="2130.70" stroke="#000" stroke-width="1.1" stroke-linecap="butt"/>
<line x1="1202.06" y1="2127.20" x2="1202.06" y2="2130.70" stroke="#000" stroke-width="1.1" stroke-linecap="butt"/>
<line x1="1205.64" y1="2127.20" x2="1205.64" y2="2130.70" stroke="#000" stroke-width="1.1" stroke-linecap="butt"/>
<line x1="1208.78" y1="2127.20" x2="1208.78" y2="2130.70" stroke="#000" stroke-width="1.1" stroke-linecap="butt"/>
<line x1="1211.02" y1="2127.20" x2="1211.02" y2="2130.70" stroke="#000" stroke-width="1.1" stroke-linecap="butt"/>
<line x1="1213.26" y1="2127.20" x2="1213.26" y2="2130.70" stroke="#000" stroke-width="1.1" stroke-linecap="butt"/>
<line x1="1215.50" y1="2127.20" x2="1215.50" y2="2133.20" stroke="#000" stroke-width="1.8" stroke-linecap="butt"/>
<line x1="1228.95" y1="2127.20" x2="1228.95" y2="2130.70" stroke="#000" stroke-width="1.1" stroke-linecap="butt"/>
<line x1="1237.02" y1="2127.20" x2="1237.02" y2="2130.70" stroke="#000" stroke-width="1.1" stroke-linecap="butt"/>
<line x1="1242.40" y1="2127.20" x2="1242.40" y2="2130.70" stroke="#000" stroke-width="1.1" stroke-linecap="butt"/>
<line x1="1246.88" y1="2127.20" x2="1246.88" y2="2130.70" stroke="#000" stroke-width="1.1" stroke-linecap="butt"/>
<line x1="1250.47" y1="2127.20" x2="1250.47" y2="2130.70" stroke="#000" stroke-width="1.1" stroke-linecap="butt"/>
<line x1="1253.60" y1="2127.20" x2="1253.60" y2="2130.70" stroke="#000" stroke-width="1.1" stroke-linecap="butt"/>
<line x1="1255.85" y1="2127.20" x2="1255.85" y2="2130.70" stroke="#000" stroke-width="1.1" stroke-linecap="butt"/>
<line x1="1258.09" y1="2127.20" x2="1258.09" y2="2130.70" stroke="#000" stroke-width="1.1" stroke-linecap="butt"/>
<line x1="1260.33" y1="2127.20" x2="1260.33" y2="2133.20" stroke="#000" stroke-width="1.8" stroke-linecap="butt"/>
<line x1="1273.78" y1="2127.20" x2="1273.78" y2="2130.70" stroke="#000" stroke-width="1.1" stroke-linecap="butt"/>
<line x1="1292.10" y1="1884.50" x2="1536.00" y2="1884.50" stroke="#000" stroke-width="1.3" stroke-linecap="butt"/>
<line x1="1292.10" y1="1884.50" x2="1292.10" y2="2127.20" stroke="#000" stroke-width="1.3" stroke-linecap="butt"/>
<line x1="1288.10" y1="2127.20" x2="1536.00" y2="2127.20" stroke="#000" stroke-width="1.4" stroke-linecap="butt"/>
<line x1="1402.80" y1="1884.50" x2="1402.80" y2="2127.20" stroke="#000" stroke-width="1.3" stroke-linecap="butt"/>
<line x1="1292.10" y1="2025.50" x2="1536.00" y2="2025.50" stroke="#000" stroke-width="2.6" stroke-linecap="butt"/>
<line x1="1286.60" y1="2127.20" x2="1292.10" y2="2127.20" stroke="#000" stroke-width="2.0" stroke-linecap="butt"/>
<line x1="1289.10" y1="2113.79" x2="1292.10" y2="2113.79" stroke="#000" stroke-width="1.2" stroke-linecap="butt"/>
<line x1="1289.10" y1="2105.74" x2="1292.10" y2="2105.74" stroke="#000" stroke-width="1.2" stroke-linecap="butt"/>
<line x1="1289.10" y1="2100.38" x2="1292.10" y2="2100.38" stroke="#000" stroke-width="1.2" stroke-linecap="butt"/>
<line x1="1289.10" y1="2095.91" x2="1292.10" y2="2095.91" stroke="#000" stroke-width="1.2" stroke-linecap="butt"/>
<line x1="1289.10" y1="2092.33" x2="1292.10" y2="2092.33" stroke="#000" stroke-width="1.2" stroke-linecap="butt"/>
<line x1="1289.10" y1="2089.20" x2="1292.10" y2="2089.20" stroke="#000" stroke-width="1.2" stroke-linecap="butt"/>
<line x1="1289.10" y1="2086.97" x2="1292.10" y2="2086.97" stroke="#000" stroke-width="1.2" stroke-linecap="butt"/>
<line x1="1289.10" y1="2084.73" x2="1292.10" y2="2084.73" stroke="#000" stroke-width="1.2" stroke-linecap="butt"/>
<line x1="1286.60" y1="2082.50" x2="1292.10" y2="2082.50" stroke="#000" stroke-width="2.0" stroke-linecap="butt"/>
<line x1="1289.10" y1="2069.09" x2="1292.10" y2="2069.09" stroke="#000" stroke-width="1.2" stroke-linecap="butt"/>
<line x1="1289.10" y1="2061.04" x2="1292.10" y2="2061.04" stroke="#000" stroke-width="1.2" stroke-linecap="butt"/>
<line x1="1289.10" y1="2055.68" x2="1292.10" y2="2055.68" stroke="#000" stroke-width="1.2" stroke-linecap="butt"/>
<line x1="1289.10" y1="2051.21" x2="1292.10" y2="2051.21" stroke="#000" stroke-width="1.2" stroke-linecap="butt"/>
<line x1="1289.10" y1="2047.63" x2="1292.10" y2="2047.63" stroke="#000" stroke-width="1.2" stroke-linecap="butt"/>
<line x1="1289.10" y1="2044.51" x2="1292.10" y2="2044.51" stroke="#000" stroke-width="1.2" stroke-linecap="butt"/>
<line x1="1289.10" y1="2042.27" x2="1292.10" y2="2042.27" stroke="#000" stroke-width="1.2" stroke-linecap="butt"/>
<line x1="1289.10" y1="2040.04" x2="1292.10" y2="2040.04" stroke="#000" stroke-width="1.2" stroke-linecap="butt"/>
<line x1="1286.60" y1="2037.80" x2="1292.10" y2="2037.80" stroke="#000" stroke-width="2.0" stroke-linecap="butt"/>
<line x1="1289.10" y1="2024.39" x2="1292.10" y2="2024.39" stroke="#000" stroke-width="1.2" stroke-linecap="butt"/>
<line x1="1289.10" y1="2016.34" x2="1292.10" y2="2016.34" stroke="#000" stroke-width="1.2" stroke-linecap="butt"/>
<line x1="1289.10" y1="2010.98" x2="1292.10" y2="2010.98" stroke="#000" stroke-width="1.2" stroke-linecap="butt"/>
<line x1="1289.10" y1="2006.51" x2="1292.10" y2="2006.51" stroke="#000" stroke-width="1.2" stroke-linecap="butt"/>
<line x1="1289.10" y1="2002.93" x2="1292.10" y2="2002.93" stroke="#000" stroke-width="1.2" stroke-linecap="butt"/>
<line x1="1289.10" y1="1999.80" x2="1292.10" y2="1999.80" stroke="#000" stroke-width="1.2" stroke-linecap="butt"/>
<line x1="1289.10" y1="1997.57" x2="1292.10" y2="1997.57" stroke="#000" stroke-width="1.2" stroke-linecap="butt"/>
<line x1="1289.10" y1="1995.33" x2="1292.10" y2="1995.33" stroke="#000" stroke-width="1.2" stroke-linecap="butt"/>
<line x1="1286.60" y1="1993.10" x2="1292.10" y2="1993.10" stroke="#000" stroke-width="2.0" stroke-linecap="butt"/>
<line x1="1289.10" y1="1979.69" x2="1292.10" y2="1979.69" stroke="#000" stroke-width="1.2" stroke-linecap="butt"/>
<line x1="1289.10" y1="1971.64" x2="1292.10" y2="1971.64" stroke="#000" stroke-width="1.2" stroke-linecap="butt"/>
<line x1="1289.10" y1="1966.28" x2="1292.10" y2="1966.28" stroke="#000" stroke-width="1.2" stroke-linecap="butt"/>
<line x1="1289.10" y1="1961.81" x2="1292.10" y2="1961.81" stroke="#000" stroke-width="1.2" stroke-linecap="butt"/>
<line x1="1289.10" y1="1958.23" x2="1292.10" y2="1958.23" stroke="#000" stroke-width="1.2" stroke-linecap="butt"/>
<line x1="1289.10" y1="1955.11" x2="1292.10" y2="1955.11" stroke="#000" stroke-width="1.2" stroke-linecap="butt"/>
<line x1="1289.10" y1="1952.87" x2="1292.10" y2="1952.87" stroke="#000" stroke-width="1.2" stroke-linecap="butt"/>
<line x1="1289.10" y1="1950.63" x2="1292.10" y2="1950.63" stroke="#000" stroke-width="1.2" stroke-linecap="butt"/>
<line x1="1286.60" y1="1948.40" x2="1292.10" y2="1948.40" stroke="#000" stroke-width="2.0" stroke-linecap="butt"/>
<line x1="1289.10" y1="1934.99" x2="1292.10" y2="1934.99" stroke="#000" stroke-width="1.2" stroke-linecap="butt"/>
<line x1="1289.10" y1="1926.94" x2="1292.10" y2="1926.94" stroke="#000" stroke-width="1.2" stroke-linecap="butt"/>
<line x1="1289.10" y1="1921.58" x2="1292.10" y2="1921.58" stroke="#000" stroke-width="1.2" stroke-linecap="butt"/>
<line x1="1289.10" y1="1917.11" x2="1292.10" y2="1917.11" stroke="#000" stroke-width="1.2" stroke-linecap="butt"/>
<line x1="1289.10" y1="1913.53" x2="1292.10" y2="1913.53" stroke="#000" stroke-width="1.2" stroke-linecap="butt"/>
<line x1="1289.10" y1="1910.40" x2="1292.10" y2="1910.40" stroke="#000" stroke-width="1.2" stroke-linecap="butt"/>
<line x1="1289.10" y1="1908.17" x2="1292.10" y2="1908.17" stroke="#000" stroke-width="1.2" stroke-linecap="butt"/>
<line x1="1289.10" y1="1905.93" x2="1292.10" y2="1905.93" stroke="#000" stroke-width="1.2" stroke-linecap="butt"/>
<line x1="1286.60" y1="1903.70" x2="1292.10" y2="1903.70" stroke="#000" stroke-width="2.0" stroke-linecap="butt"/>
<line x1="1292.10" y1="2127.20" x2="1292.10" y2="2133.20" stroke="#000" stroke-width="1.8" stroke-linecap="butt"/>
<line x1="1305.80" y1="2127.20" x2="1305.80" y2="2130.70" stroke="#000" stroke-width="1.1" stroke-linecap="butt"/>
<line x1="1314.02" y1="2127.20" x2="1314.02" y2="2130.70" stroke="#000" stroke-width="1.1" stroke-linecap="butt"/>
<line x1="1319.50" y1="2127.20" x2="1319.50" y2="2130.70" stroke="#000" stroke-width="1.1" stroke-linecap="butt"/>
<line x1="1324.07" y1="2127.20" x2="1324.07" y2="2130.70" stroke="#000" stroke-width="1.1" stroke-linecap="butt"/>
<line x1="1327.72" y1="2127.20" x2="1327.72" y2="2130.70" stroke="#000" stroke-width="1.1" stroke-linecap="butt"/>
<line x1="1330.92" y1="2127.20" x2="1330.92" y2="2130.70" stroke="#000" stroke-width="1.1" stroke-linecap="butt"/>
<line x1="1333.20" y1="2127.20" x2="1333.20" y2="2130.70" stroke="#000" stroke-width="1.1" stroke-linecap="butt"/>
<line x1="1335.49" y1="2127.20" x2="1335.49" y2="2130.70" stroke="#000" stroke-width="1.1" stroke-linecap="butt"/>
<line x1="1337.77" y1="2127.20" x2="1337.77" y2="2133.20" stroke="#000" stroke-width="1.8" stroke-linecap="butt"/>
<line x1="1351.47" y1="2127.20" x2="1351.47" y2="2130.70" stroke="#000" stroke-width="1.1" stroke-linecap="butt"/>
<line x1="1359.69" y1="2127.20" x2="1359.69" y2="2130.70" stroke="#000" stroke-width="1.1" stroke-linecap="butt"/>
<line x1="1365.17" y1="2127.20" x2="1365.17" y2="2130.70" stroke="#000" stroke-width="1.1" stroke-linecap="butt"/>
<line x1="1369.74" y1="2127.20" x2="1369.74" y2="2130.70" stroke="#000" stroke-width="1.1" stroke-linecap="butt"/>
<line x1="1373.39" y1="2127.20" x2="1373.39" y2="2130.70" stroke="#000" stroke-width="1.1" stroke-linecap="butt"/>
<line x1="1376.59" y1="2127.20" x2="1376.59" y2="2130.70" stroke="#000" stroke-width="1.1" stroke-linecap="butt"/>
<line x1="1378.87" y1="2127.20" x2="1378.87" y2="2130.70" stroke="#000" stroke-width="1.1" stroke-linecap="butt"/>
<line x1="1381.16" y1="2127.20" x2="1381.16" y2="2130.70" stroke="#000" stroke-width="1.1" stroke-linecap="butt"/>
<line x1="1383.44" y1="2127.20" x2="1383.44" y2="2133.20" stroke="#000" stroke-width="1.8" stroke-linecap="butt"/>
<line x1="1397.14" y1="2127.20" x2="1397.14" y2="2130.70" stroke="#000" stroke-width="1.1" stroke-linecap="butt"/>
<line x1="1405.36" y1="2127.20" x2="1405.36" y2="2130.70" stroke="#000" stroke-width="1.1" stroke-linecap="butt"/>
<line x1="1410.84" y1="2127.20" x2="1410.84" y2="2130.70" stroke="#000" stroke-width="1.1" stroke-linecap="butt"/>
<line x1="1415.41" y1="2127.20" x2="1415.41" y2="2130.70" stroke="#000" stroke-width="1.1" stroke-linecap="butt"/>
<line x1="1419.06" y1="2127.20" x2="1419.06" y2="2130.70" stroke="#000" stroke-width="1.1" stroke-linecap="butt"/>
<line x1="1422.26" y1="2127.20" x2="1422.26" y2="2130.70" stroke="#000" stroke-width="1.1" stroke-linecap="butt"/>
<line x1="1424.54" y1="2127.20" x2="1424.54" y2="2130.70" stroke="#000" stroke-width="1.1" stroke-linecap="butt"/>
<line x1="1426.83" y1="2127.20" x2="1426.83" y2="2130.70" stroke="#000" stroke-width="1.1" stroke-linecap="butt"/>
<line x1="1429.11" y1="2127.20" x2="1429.11" y2="2133.20" stroke="#000" stroke-width="1.8" stroke-linecap="butt"/>
<line x1="1442.81" y1="2127.20" x2="1442.81" y2="2130.70" stroke="#000" stroke-width="1.1" stroke-linecap="butt"/>
<line x1="1451.03" y1="2127.20" x2="1451.03" y2="2130.70" stroke="#000" stroke-width="1.1" stroke-linecap="butt"/>
<line x1="1456.51" y1="2127.20" x2="1456.51" y2="2130.70" stroke="#000" stroke-width="1.1" stroke-linecap="butt"/>
<line x1="1461.08" y1="2127.20" x2="1461.08" y2="2130.70" stroke="#000" stroke-width="1.1" stroke-linecap="butt"/>
<line x1="1464.73" y1="2127.20" x2="1464.73" y2="2130.70" stroke="#000" stroke-width="1.1" stroke-linecap="butt"/>
<line x1="1467.93" y1="2127.20" x2="1467.93" y2="2130.70" stroke="#000" stroke-width="1.1" stroke-linecap="butt"/>
<line x1="1470.21" y1="2127.20" x2="1470.21" y2="2130.70" stroke="#000" stroke-width="1.1" stroke-linecap="butt"/>
<line x1="1472.50" y1="2127.20" x2="1472.50" y2="2130.70" stroke="#000" stroke-width="1.1" stroke-linecap="butt"/>
<line x1="1474.78" y1="2127.20" x2="1474.78" y2="2133.20" stroke="#000" stroke-width="1.8" stroke-linecap="butt"/>
<line x1="1488.48" y1="2127.20" x2="1488.48" y2="2130.70" stroke="#000" stroke-width="1.1" stroke-linecap="butt"/>
<line x1="1496.70" y1="2127.20" x2="1496.70" y2="2130.70" stroke="#000" stroke-width="1.1" stroke-linecap="butt"/>
<line x1="1502.18" y1="2127.20" x2="1502.18" y2="2130.70" stroke="#000" stroke-width="1.1" stroke-linecap="butt"/>
<line x1="1506.75" y1="2127.20" x2="1506.75" y2="2130.70" stroke="#000" stroke-width="1.1" stroke-linecap="butt"/>
<line x1="1510.40" y1="2127.20" x2="1510.40" y2="2130.70" stroke="#000" stroke-width="1.1" stroke-linecap="butt"/>
<line x1="1513.60" y1="2127.20" x2="1513.60" y2="2130.70" stroke="#000" stroke-width="1.1" stroke-linecap="butt"/>
<line x1="1515.88" y1="2127.20" x2="1515.88" y2="2130.70" stroke="#000" stroke-width="1.1" stroke-linecap="butt"/>
<line x1="1518.17" y1="2127.20" x2="1518.17" y2="2130.70" stroke="#000" stroke-width="1.1" stroke-linecap="butt"/>
<line x1="1520.45" y1="2127.20" x2="1520.45" y2="2133.20" stroke="#000" stroke-width="1.8" stroke-linecap="butt"/>
<line x1="1534.15" y1="2127.20" x2="1534.15" y2="2130.70" stroke="#000" stroke-width="1.1" stroke-linecap="butt"/>
<line x1="1036.20" y1="2149.90" x2="1036.20" y2="2393.40" stroke="#000" stroke-width="1.3" stroke-linecap="butt"/>
<line x1="1032.20" y1="2393.40" x2="1280.50" y2="2393.40" stroke="#000" stroke-width="1.4" stroke-linecap="butt"/>
<line x1="1280.50" y1="2149.90" x2="1280.50" y2="2393.40" stroke="#000" stroke-width="1.3" stroke-linecap="butt"/>
<line x1="1146.10" y1="2149.90" x2="1146.10" y2="2393.40" stroke="#000" stroke-width="2.6" stroke-linecap="butt"/>
<line x1="1036.20" y1="2290.90" x2="1280.50" y2="2290.90" stroke="#000" stroke-width="1.3" stroke-linecap="butt"/>
<line x1="1030.70" y1="2393.40" x2="1036.20" y2="2393.40" stroke="#000" stroke-width="2.0" stroke-linecap="butt"/>
<line x1="1033.20" y1="2379.99" x2="1036.20" y2="2379.99" stroke="#000" stroke-width="1.2" stroke-linecap="butt"/>
<line x1="1033.20" y1="2371.94" x2="1036.20" y2="2371.94" stroke="#000" stroke-width="1.2" stroke-linecap="butt"/>
<line x1="1033.20" y1="2366.58" x2="1036.20" y2="2366.58" stroke="#000" stroke-width="1.2" stroke-linecap="butt"/>
<line x1="1033.20" y1="2362.11" x2="1036.20" y2="2362.11" stroke="#000" stroke-width="1.2" stroke-linecap="butt"/>
<line x1="1033.20" y1="2358.53" x2="1036.20" y2="2358.53" stroke="#000" stroke-width="1.2" stroke-linecap="butt"/>
<line x1="1033.20" y1="2355.41" x2="1036.20" y2="2355.41" stroke="#000" stroke-width="1.2" stroke-linecap="butt"/>
<line x1="1033.20" y1="2353.17" x2="1036.20" y2="2353.17" stroke="#000" stroke-width="1.2" stroke-linecap="butt"/>
<line x1="1033.20" y1="2350.93" x2="1036.20" y2="2350.93" stroke="#000" stroke-width="1.2" stroke-linecap="butt"/>
<line x1="1030.70" y1="2348.70" x2="1036.20" y2="2348.70" stroke="#000" stroke-width="2.0" stroke-linecap="butt"/>
<line x1="1033.20" y1="2335.29" x2="1036.20" y2="2335.29" stroke="#000" stroke-width="1.2" stroke-linecap="butt"/>
<line x1="1033.20" y1="2327.24" x2="1036.20" y2="2327.24" stroke="#000" stroke-width="1.2" stroke-linecap="butt"/>
<line x1="1033.20" y1="2321.88" x2="1036.20" y2="2321.88" stroke="#000" stroke-width="1.2" stroke-linecap="butt"/>
<line x1="1033.20" y1="2317.41" x2="1036.20" y2="2317.41" stroke="#000" stroke-width="1.2" stroke-linecap="butt"/>
<line x1="1033.20" y1="2313.83" x2="1036.20" y2="2313.83" stroke="#000" stroke-width="1.2" stroke-linecap="butt"/>
<line x1="1033.20" y1="2310.71" x2="1036.20" y2="2310.71" stroke="#000" stroke-width="1.2" stroke-linecap="butt"/>
<line x1="1033.20" y1="2308.47" x2="1036.20" y2="2308.47" stroke="#000" stroke-width="1.2" stroke-linecap="butt"/>
<line x1="1033.20" y1="2306.24" x2="1036.20" y2="2306.24" stroke="#000" stroke-width="1.2" stroke-linecap="butt"/>
<line x1="1030.70" y1="2304.00" x2="1036.20" y2="2304.00" stroke="#000" stroke-width="2.0" stroke-linecap="butt"/>
<line x1="1033.20" y1="2290.59" x2="1036.20" y2="2290.59" stroke="#000" stroke-width="1.2" stroke-linecap="butt"/>
<line x1="1033.20" y1="2282.54" x2="1036.20" y2="2282.54" stroke="#000" stroke-width="1.2" stroke-linecap="butt"/>
<line x1="1033.20" y1="2277.18" x2="1036.20" y2="2277.18" stroke="#000" stroke-width="1.2" stroke-linecap="butt"/>
<line x1="1033.20" y1="2272.71" x2="1036.20" y2="2272.71" stroke="#000" stroke-width="1.2" stroke-linecap="butt"/>
<line x1="1033.20" y1="2269.13" x2="1036.20" y2="2269.13" stroke="#000" stroke-width="1.2" stroke-linecap="butt"/>
<line x1="1033.20" y1="2266.01" x2="1036.20" y2="2266.01" stroke="#000" stroke-width="1.2" stroke-linecap="butt"/>
<line x1="1033.20" y1="2263.77" x2="1036.20" y2="2263.77" stroke="#000" stroke-width="1.2" stroke-linecap="butt"/>
<line x1="1033.20" y1="2261.53" x2="1036.20" y2="2261.53" stroke="#000" stroke-width="1.2" stroke-linecap="butt"/>
<line x1="1030.70" y1="2259.30" x2="1036.20" y2="2259.30" stroke="#000" stroke-width="2.0" stroke-linecap="butt"/>
<line x1="1033.20" y1="2245.89" x2="1036.20" y2="2245.89" stroke="#000" stroke-width="1.2" stroke-linecap="butt"/>
<line x1="1033.20" y1="2237.84" x2="1036.20" y2="2237.84" stroke="#000" stroke-width="1.2" stroke-linecap="butt"/>
<line x1="1033.20" y1="2232.48" x2="1036.20" y2="2232.48" stroke="#000" stroke-width="1.2" stroke-linecap="butt"/>
<line x1="1033.20" y1="2228.01" x2="1036.20" y2="2228.01" stroke="#000" stroke-width="1.2" stroke-linecap="butt"/>
<line x1="1033.20" y1="2224.43" x2="1036.20" y2="2224.43" stroke="#000" stroke-width="1.2" stroke-linecap="butt"/>
<line x1="1033.20" y1="2221.31" x2="1036.20" y2="2221.31" stroke="#000" stroke-width="1.2" stroke-linecap="butt"/>
<line x1="1033.20" y1="2219.07" x2="1036.20" y2="2219.07" stroke="#000" stroke-width="1.2" stroke-linecap="butt"/>
<line x1="1033.20" y1="2216.84" x2="1036.20" y2="2216.84" stroke="#000" stroke-width="1.2" stroke-linecap="butt"/>
<line x1="1030.70" y1="2214.60" x2="1036.20" y2="2214.60" stroke="#000" stroke-width="2.0" stroke-linecap="butt"/>
<line x1="1033.20" y1="2201.19" x2="1036.20" y2="2201.19" stroke="#000" stroke-width="1.2" stroke-linecap="butt"/>
<line x1="1033.20" y1="2193.14" x2="1036.20" y2="2193.14" stroke="#000" stroke-width="1.2" stroke-linecap="butt"/>
<line x1="1033.20" y1="2187.78" x2="1036.20" y2="2187.78" stroke="#000" stroke-width="1.2" stroke-linecap="butt"/>
<line x1="1033.20" y1="2183.31" x2="1036.20" y2="2183.31" stroke="#000" stroke-width="1.2" stroke-linecap="butt"/>
<line x1="1033.20" y1="2179.73" x2="1036.20" y2="2179.73" stroke="#000" stroke-width="1.2" stroke-linecap="butt"/>
<line x1="1033.20" y1="2176.61" x2="1036.20" y2="2176.61" stroke="#000" stroke-width="1.2" stroke-linecap="butt"/>
<line x1="1033.20" y1="2174.37" x2="1036.20" y2="2174.37" stroke="#000" stroke-width="1.2" stroke-linecap="butt"/>
<line x1="1033.20" y1="2172.13" x2="1036.20" y2="2172.13" stroke="#000" stroke-width="1.2" stroke-linecap="butt"/>
<line x1="1030.70" y1="2169.90" x2="1036.20" y2="2169.90" stroke="#000" stroke-width="2.0" stroke-linecap="butt"/>
<line x1="1036.20" y1="2393.40" x2="1036.20" y2="2399.40" stroke="#000" stroke-width="1.8" stroke-linecap="butt"/>
<line x1="1049.65" y1="2393.40" x2="1049.65" y2="2396.90" stroke="#000" stroke-width="1.1" stroke-linecap="butt"/>
<line x1="1057.72" y1="2393.40" x2="1057.72" y2="2396.90" stroke="#000" stroke-width="1.1" stroke-linecap="butt"/>
<line x1="1063.10" y1="2393.40" x2="1063.10" y2="2396.90" stroke="#000" stroke-width="1.1" stroke-linecap="butt"/>
<line x1="1067.58" y1="2393.40" x2="1067.58" y2="2396.90" stroke="#000" stroke-width="1.1" stroke-linecap="butt"/>
<line x1="1071.16" y1="2393.40" x2="1071.16" y2="2396.90" stroke="#000" stroke-width="1.1" stroke-linecap="butt"/>
<line x1="1074.30" y1="2393.40" x2="1074.30" y2="2396.90" stroke="#000" stroke-width="1.1" stroke-linecap="butt"/>
<line x1="1076.54" y1="2393.40" x2="1076.54" y2="2396.90" stroke="#000" stroke-width="1.1" stroke-linecap="butt"/>
<line x1="1078.78" y1="2393.40" x2="1078.78" y2="2396.90" stroke="#000" stroke-width="1.1" stroke-linecap="butt"/>
<line x1="1081.03" y1="2393.40" x2="1081.03" y2="2399.40" stroke="#000" stroke-width="1.8" stroke-linecap="butt"/>
<line x1="1094.47" y1="2393.40" x2="1094.47" y2="2396.90" stroke="#000" stroke-width="1.1" stroke-linecap="butt"/>
<line x1="1102.54" y1="2393.40" x2="1102.54" y2="2396.90" stroke="#000" stroke-width="1.1" stroke-linecap="butt"/>
<line x1="1107.92" y1="2393.40" x2="1107.92" y2="2396.90" stroke="#000" stroke-width="1.1" stroke-linecap="butt"/>
<line x1="1112.40" y1="2393.40" x2="1112.40" y2="2396.90" stroke="#000" stroke-width="1.1" stroke-linecap="butt"/>
<line x1="1115.99" y1="2393.40" x2="1115.99" y2="2396.90" stroke="#000" stroke-width="1.1" stroke-linecap="butt"/>
<line x1="1119.13" y1="2393.40" x2="1119.13" y2="2396.90" stroke="#000" stroke-width="1.1" stroke-linecap="butt"/>
<line x1="1121.37" y1="2393.40" x2="1121.37" y2="2396.90" stroke="#000" stroke-width="1.1" stroke-linecap="butt"/>
<line x1="1123.61" y1="2393.40" x2="1123.61" y2="2396.90" stroke="#000" stroke-width="1.1" stroke-linecap="butt"/>
<line x1="1125.85" y1="2393.40" x2="1125.85" y2="2399.40" stroke="#000" stroke-width="1.8" stroke-linecap="butt"/>
<line x1="1139.30" y1="2393.40" x2="1139.30" y2="2396.90" stroke="#000" stroke-width="1.1" stroke-linecap="butt"/>
<line x1="1147.37" y1="2393.40" x2="1147.37" y2="2396.90" stroke="#000" stroke-width="1.1" stroke-linecap="butt"/>
<line x1="1152.75" y1="2393.40" x2="1152.75" y2="2396.90" stroke="#000" stroke-width="1.1" stroke-linecap="butt"/>
<line x1="1157.23" y1="2393.40" x2="1157.23" y2="2396.90" stroke="#000" stroke-width="1.1" stroke-linecap="butt"/>
<line x1="1160.82" y1="2393.40" x2="1160.82" y2="2396.90" stroke="#000" stroke-width="1.1" stroke-linecap="butt"/>
<line x1="1163.95" y1="2393.40" x2="1163.95" y2="2396.90" stroke="#000" stroke-width="1.1" stroke-linecap="butt"/>
<line x1="1166.19" y1="2393.40" x2="1166.19" y2="2396.90" stroke="#000" stroke-width="1.1" stroke-linecap="butt"/>
<line x1="1168.44" y1="2393.40" x2="1168.44" y2="2396.90" stroke="#000" stroke-width="1.1" stroke-linecap="butt"/>
<line x1="1170.68" y1="2393.40" x2="1170.68" y2="2399.40" stroke="#000" stroke-width="1.8" stroke-linecap="butt"/>
<line x1="1184.12" y1="2393.40" x2="1184.12" y2="2396.90" stroke="#000" stroke-width="1.1" stroke-linecap="butt"/>
<line x1="1192.19" y1="2393.40" x2="1192.19" y2="2396.90" stroke="#000" stroke-width="1.1" stroke-linecap="butt"/>
<line x1="1197.57" y1="2393.40" x2="1197.57" y2="2396.90" stroke="#000" stroke-width="1.1" stroke-linecap="butt"/>
<line x1="1202.06" y1="2393.40" x2="1202.06" y2="2396.90" stroke="#000" stroke-width="1.1" stroke-linecap="butt"/>
<line x1="1205.64" y1="2393.40" x2="1205.64" y2="2396.90" stroke="#000" stroke-width="1.1" stroke-linecap="butt"/>
<line x1="1208.78" y1="2393.40" x2="1208.78" y2="2396.90" stroke="#000" stroke-width="1.1" stroke-linecap="butt"/>
<line x1="1211.02" y1="2393.40" x2="1211.02" y2="2396.90" stroke="#000" stroke-width="1.1" stroke-linecap="butt"/>
<line x1="1213.26" y1="2393.40" x2="1213.26" y2="2396.90" stroke="#000" stroke-width="1.1" stroke-linecap="butt"/>
<line x1="1215.50" y1="2393.40" x2="1215.50" y2="2399.40" stroke="#000" stroke-width="1.8" stroke-linecap="butt"/>
<line x1="1228.95" y1="2393.40" x2="1228.95" y2="2396.90" stroke="#000" stroke-width="1.1" stroke-linecap="butt"/>
<line x1="1237.02" y1="2393.40" x2="1237.02" y2="2396.90" stroke="#000" stroke-width="1.1" stroke-linecap="butt"/>
<line x1="1242.40" y1="2393.40" x2="1242.40" y2="2396.90" stroke="#000" stroke-width="1.1" stroke-linecap="butt"/>
<line x1="1246.88" y1="2393.40" x2="1246.88" y2="2396.90" stroke="#000" stroke-width="1.1" stroke-linecap="butt"/>
<line x1="1250.47" y1="2393.40" x2="1250.47" y2="2396.90" stroke="#000" stroke-width="1.1" stroke-linecap="butt"/>
<line x1="1253.60" y1="2393.40" x2="1253.60" y2="2396.90" stroke="#000" stroke-width="1.1" stroke-linecap="butt"/>
<line x1="1255.85" y1="2393.40" x2="1255.85" y2="2396.90" stroke="#000" stroke-width="1.1" stroke-linecap="butt"/>
<line x1="1258.09" y1="2393.40" x2="1258.09" y2="2396.90" stroke="#000" stroke-width="1.1" stroke-linecap="butt"/>
<line x1="1260.33" y1="2393.40" x2="1260.33" y2="2399.40" stroke="#000" stroke-width="1.8" stroke-linecap="butt"/>
<line x1="1273.78" y1="2393.40" x2="1273.78" y2="2396.90" stroke="#000" stroke-width="1.1" stroke-linecap="butt"/>
<line x1="1292.10" y1="2149.90" x2="1292.10" y2="2393.40" stroke="#000" stroke-width="1.3" stroke-linecap="butt"/>
<line x1="1288.10" y1="2393.40" x2="1536.00" y2="2393.40" stroke="#000" stroke-width="1.4" stroke-linecap="butt"/>
<line x1="1402.80" y1="2149.90" x2="1402.80" y2="2393.40" stroke="#000" stroke-width="1.3" stroke-linecap="butt"/>
<line x1="1292.10" y1="2290.90" x2="1536.00" y2="2290.90" stroke="#000" stroke-width="1.3" stroke-linecap="butt"/>
<line x1="1286.60" y1="2393.40" x2="1292.10" y2="2393.40" stroke="#000" stroke-width="2.0" stroke-linecap="butt"/>
<line x1="1289.10" y1="2379.99" x2="1292.10" y2="2379.99" stroke="#000" stroke-width="1.2" stroke-linecap="butt"/>
<line x1="1289.10" y1="2371.94" x2="1292.10" y2="2371.94" stroke="#000" stroke-width="1.2" stroke-linecap="butt"/>
<line x1="1289.10" y1="2366.58" x2="1292.10" y2="2366.58" stroke="#000" stroke-width="1.2" stroke-linecap="butt"/>
<line x1="1289.10" y1="2362.11" x2="1292.10" y2="2362.11" stroke="#000" stroke-width="1.2" stroke-linecap="butt"/>
<line x1="1289.10" y1="2358.53" x2="1292.10" y2="2358.53" stroke="#000" stroke-width="1.2" stroke-linecap="butt"/>
<line x1="1289.10" y1="2355.41" x2="1292.10" y2="2355.41" stroke="#000" stroke-width="1.2" stroke-linecap="butt"/>
<line x1="1289.10" y1="2353.17" x2="1292.10" y2="2353.17" stroke="#000" stroke-width="1.2" stroke-linecap="butt"/>
<line x1="1289.10" y1="2350.93" x2="1292.10" y2="2350.93" stroke="#000" stroke-width="1.2" stroke-linecap="butt"/>
<line x1="1286.60" y1="2348.70" x2="1292.10" y2="2348.70" stroke="#000" stroke-width="2.0" stroke-linecap="butt"/>
<line x1="1289.10" y1="2335.29" x2="1292.10" y2="2335.29" stroke="#000" stroke-width="1.2" stroke-linecap="butt"/>
<line x1="1289.10" y1="2327.24" x2="1292.10" y2="2327.24" stroke="#000" stroke-width="1.2" stroke-linecap="butt"/>
<line x1="1289.10" y1="2321.88" x2="1292.10" y2="2321.88" stroke="#000" stroke-width="1.2" stroke-linecap="butt"/>
<line x1="1289.10" y1="2317.41" x2="1292.10" y2="2317.41" stroke="#000" stroke-width="1.2" stroke-linecap="butt"/>
<line x1="1289.10" y1="2313.83" x2="1292.10" y2="2313.83" stroke="#000" stroke-width="1.2" stroke-linecap="butt"/>
<line x1="1289.10" y1="2310.71" x2="1292.10" y2="2310.71" stroke="#000" stroke-width="1.2" stroke-linecap="butt"/>
<line x1="1289.10" y1="2308.47" x2="1292.10" y2="2308.47" stroke="#000" stroke-width="1.2" stroke-linecap="butt"/>
<line x1="1289.10" y1="2306.24" x2="1292.10" y2="2306.24" stroke="#000" stroke-width="1.2" stroke-linecap="butt"/>
<line x1="1286.60" y1="2304.00" x2="1292.10" y2="2304.00" stroke="#000" stroke-width="2.0" stroke-linecap="butt"/>
<line x1="1289.10" y1="2290.59" x2="1292.10" y2="2290.59" stroke="#000" stroke-width="1.2" stroke-linecap="butt"/>
<line x1="1289.10" y1="2282.54" x2="1292.10" y2="2282.54" stroke="#000" stroke-width="1.2" stroke-linecap="butt"/>
<line x1="1289.10" y1="2277.18" x2="1292.10" y2="2277.18" stroke="#000" stroke-width="1.2" stroke-linecap="butt"/>
<line x1="1289.10" y1="2272.71" x2="1292.10" y2="2272.71" stroke="#000" stroke-width="1.2" stroke-linecap="butt"/>
<line x1="1289.10" y1="2269.13" x2="1292.10" y2="2269.13" stroke="#000" stroke-width="1.2" stroke-linecap="butt"/>
<line x1="1289.10" y1="2266.01" x2="1292.10" y2="2266.01" stroke="#000" stroke-width="1.2" stroke-linecap="butt"/>
<line x1="1289.10" y1="2263.77" x2="1292.10" y2="2263.77" stroke="#000" stroke-width="1.2" stroke-linecap="butt"/>
<line x1="1289.10" y1="2261.53" x2="1292.10" y2="2261.53" stroke="#000" stroke-width="1.2" stroke-linecap="butt"/>
<line x1="1286.60" y1="2259.30" x2="1292.10" y2="2259.30" stroke="#000" stroke-width="2.0" stroke-linecap="butt"/>
<line x1="1289.10" y1="2245.89" x2="1292.10" y2="2245.89" stroke="#000" stroke-width="1.2" stroke-linecap="butt"/>
<line x1="1289.10" y1="2237.84" x2="1292.10" y2="2237.84" stroke="#000" stroke-width="1.2" stroke-linecap="butt"/>
<line x1="1289.10" y1="2232.48" x2="1292.10" y2="2232.48" stroke="#000" stroke-width="1.2" stroke-linecap="butt"/>
<line x1="1289.10" y1="2228.01" x2="1292.10" y2="2228.01" stroke="#000" stroke-width="1.2" stroke-linecap="butt"/>
<line x1="1289.10" y1="2224.43" x2="1292.10" y2="2224.43" stroke="#000" stroke-width="1.2" stroke-linecap="butt"/>
<line x1="1289.10" y1="2221.31" x2="1292.10" y2="2221.31" stroke="#000" stroke-width="1.2" stroke-linecap="butt"/>
<line x1="1289.10" y1="2219.07" x2="1292.10" y2="2219.07" stroke="#000" stroke-width="1.2" stroke-linecap="butt"/>
<line x1="1289.10" y1="2216.84" x2="1292.10" y2="2216.84" stroke="#000" stroke-width="1.2" stroke-linecap="butt"/>
<line x1="1286.60" y1="2214.60" x2="1292.10" y2="2214.60" stroke="#000" stroke-width="2.0" stroke-linecap="butt"/>
<line x1="1289.10" y1="2201.19" x2="1292.10" y2="2201.19" stroke="#000" stroke-width="1.2" stroke-linecap="butt"/>
<line x1="1289.10" y1="2193.14" x2="1292.10" y2="2193.14" stroke="#000" stroke-width="1.2" stroke-linecap="butt"/>
<line x1="1289.10" y1="2187.78" x2="1292.10" y2="2187.78" stroke="#000" stroke-width="1.2" stroke-linecap="butt"/>
<line x1="1289.10" y1="2183.31" x2="1292.10" y2="2183.31" stroke="#000" stroke-width="1.2" stroke-linecap="butt"/>
<line x1="1289.10" y1="2179.73" x2="1292.10" y2="2179.73" stroke="#000" stroke-width="1.2" stroke-linecap="butt"/>
<line x1="1289.10" y1="2176.61" x2="1292.10" y2="2176.61" stroke="#000" stroke-width="1.2" stroke-linecap="butt"/>
<line x1="1289.10" y1="2174.37" x2="1292.10" y2="2174.37" stroke="#000" stroke-width="1.2" stroke-linecap="butt"/>
<line x1="1289.10" y1="2172.13" x2="1292.10" y2="2172.13" stroke="#000" stroke-width="1.2" stroke-linecap="butt"/>
<line x1="1286.60" y1="2169.90" x2="1292.10" y2="2169.90" stroke="#000" stroke-width="2.0" stroke-linecap="butt"/>
<line x1="1292.10" y1="2393.40" x2="1292.10" y2="2399.40" stroke="#000" stroke-width="1.8" stroke-linecap="butt"/>
<line x1="1305.80" y1="2393.40" x2="1305.80" y2="2396.90" stroke="#000" stroke-width="1.1" stroke-linecap="butt"/>
<line x1="1314.02" y1="2393.40" x2="1314.02" y2="2396.90" stroke="#000" stroke-width="1.1" stroke-linecap="butt"/>
<line x1="1319.50" y1="2393.40" x2="1319.50" y2="2396.90" stroke="#000" stroke-width="1.1" stroke-linecap="butt"/>
<line x1="1324.07" y1="2393.40" x2="1324.07" y2="2396.90" stroke="#000" stroke-width="1.1" stroke-linecap="butt"/>
<line x1="1327.72" y1="2393.40" x2="1327.72" y2="2396.90" stroke="#000" stroke-width="1.1" stroke-linecap="butt"/>
<line x1="1330.92" y1="2393.40" x2="1330.92" y2="2396.90" stroke="#000" stroke-width="1.1" stroke-linecap="butt"/>
<line x1="1333.20" y1="2393.40" x2="1333.20" y2="2396.90" stroke="#000" stroke-width="1.1" stroke-linecap="butt"/>
<line x1="1335.49" y1="2393.40" x2="1335.49" y2="2396.90" stroke="#000" stroke-width="1.1" stroke-linecap="butt"/>
<line x1="1337.77" y1="2393.40" x2="1337.77" y2="2399.40" stroke="#000" stroke-width="1.8" stroke-linecap="butt"/>
<line x1="1351.47" y1="2393.40" x2="1351.47" y2="2396.90" stroke="#000" stroke-width="1.1" stroke-linecap="butt"/>
<line x1="1359.69" y1="2393.40" x2="1359.69" y2="2396.90" stroke="#000" stroke-width="1.1" stroke-linecap="butt"/>
<line x1="1365.17" y1="2393.40" x2="1365.17" y2="2396.90" stroke="#000" stroke-width="1.1" stroke-linecap="butt"/>
<line x1="1369.74" y1="2393.40" x2="1369.74" y2="2396.90" stroke="#000" stroke-width="1.1" stroke-linecap="butt"/>
<line x1="1373.39" y1="2393.40" x2="1373.39" y2="2396.90" stroke="#000" stroke-width="1.1" stroke-linecap="butt"/>
<line x1="1376.59" y1="2393.40" x2="1376.59" y2="2396.90" stroke="#000" stroke-width="1.1" stroke-linecap="butt"/>
<line x1="1378.87" y1="2393.40" x2="1378.87" y2="2396.90" stroke="#000" stroke-width="1.1" stroke-linecap="butt"/>
<line x1="1381.16" y1="2393.40" x2="1381.16" y2="2396.90" stroke="#000" stroke-width="1.1" stroke-linecap="butt"/>
<line x1="1383.44" y1="2393.40" x2="1383.44" y2="2399.40" stroke="#000" stroke-width="1.8" stroke-linecap="butt"/>
<line x1="1397.14" y1="2393.40" x2="1397.14" y2="2396.90" stroke="#000" stroke-width="1.1" stroke-linecap="butt"/>
<line x1="1405.36" y1="2393.40" x2="1405.36" y2="2396.90" stroke="#000" stroke-width="1.1" stroke-linecap="butt"/>
<line x1="1410.84" y1="2393.40" x2="1410.84" y2="2396.90" stroke="#000" stroke-width="1.1" stroke-linecap="butt"/>
<line x1="1415.41" y1="2393.40" x2="1415.41" y2="2396.90" stroke="#000" stroke-width="1.1" stroke-linecap="butt"/>
<line x1="1419.06" y1="2393.40" x2="1419.06" y2="2396.90" stroke="#000" stroke-width="1.1" stroke-linecap="butt"/>
<line x1="1422.26" y1="2393.40" x2="1422.26" y2="2396.90" stroke="#000" stroke-width="1.1" stroke-linecap="butt"/>
<line x1="1424.54" y1="2393.40" x2="1424.54" y2="2396.90" stroke="#000" stroke-width="1.1" stroke-linecap="butt"/>
<line x1="1426.83" y1="2393.40" x2="1426.83" y2="2396.90" stroke="#000" stroke-width="1.1" stroke-linecap="butt"/>
<line x1="1429.11" y1="2393.40" x2="1429.11" y2="2399.40" stroke="#000" stroke-width="1.8" stroke-linecap="butt"/>
<line x1="1442.81" y1="2393.40" x2="1442.81" y2="2396.90" stroke="#000" stroke-width="1.1" stroke-linecap="butt"/>
<line x1="1451.03" y1="2393.40" x2="1451.03" y2="2396.90" stroke="#000" stroke-width="1.1" stroke-linecap="butt"/>
<line x1="1456.51" y1="2393.40" x2="1456.51" y2="2396.90" stroke="#000" stroke-width="1.1" stroke-linecap="butt"/>
<line x1="1461.08" y1="2393.40" x2="1461.08" y2="2396.90" stroke="#000" stroke-width="1.1" stroke-linecap="butt"/>
<line x1="1464.73" y1="2393.40" x2="1464.73" y2="2396.90" stroke="#000" stroke-width="1.1" stroke-linecap="butt"/>
<line x1="1467.93" y1="2393.40" x2="1467.93" y2="2396.90" stroke="#000" stroke-width="1.1" stroke-linecap="butt"/>
<line x1="1470.21" y1="2393.40" x2="1470.21" y2="2396.90" stroke="#000" stroke-width="1.1" stroke-linecap="butt"/>
<line x1="1472.50" y1="2393.40" x2="1472.50" y2="2396.90" stroke="#000" stroke-width="1.1" stroke-linecap="butt"/>
<line x1="1474.78" y1="2393.40" x2="1474.78" y2="2399.40" stroke="#000" stroke-width="1.8" stroke-linecap="butt"/>
<line x1="1488.48" y1="2393.40" x2="1488.48" y2="2396.90" stroke="#000" stroke-width="1.1" stroke-linecap="butt"/>
<line x1="1496.70" y1="2393.40" x2="1496.70" y2="2396.90" stroke="#000" stroke-width="1.1" stroke-linecap="butt"/>
<line x1="1502.18" y1="2393.40" x2="1502.18" y2="2396.90" stroke="#000" stroke-width="1.1" stroke-linecap="butt"/>
<line x1="1506.75" y1="2393.40" x2="1506.75" y2="2396.90" stroke="#000" stroke-width="1.1" stroke-linecap="butt"/>
<line x1="1510.40" y1="2393.40" x2="1510.40" y2="2396.90" stroke="#000" stroke-width="1.1" stroke-linecap="butt"/>
<line x1="1513.60" y1="2393.40" x2="1513.60" y2="2396.90" stroke="#000" stroke-width="1.1" stroke-linecap="butt"/>
<line x1="1515.88" y1="2393.40" x2="1515.88" y2="2396.90" stroke="#000" stroke-width="1.1" stroke-linecap="butt"/>
<line x1="1518.17" y1="2393.40" x2="1518.17" y2="2396.90" stroke="#000" stroke-width="1.1" stroke-linecap="butt"/>
<line x1="1520.45" y1="2393.40" x2="1520.45" y2="2399.40" stroke="#000" stroke-width="1.8" stroke-linecap="butt"/>
<line x1="1534.15" y1="2393.40" x2="1534.15" y2="2396.90" stroke="#000" stroke-width="1.1" stroke-linecap="butt"/>
<text x="1078.00" y="1310.60" font-size="27.7" font-weight="normal" fill="#222" text-anchor="start">Gated on CD25<tspan dy="-12.19" font-size="21.05">+</tspan><tspan dy="12.19">​</tspan> CD4<tspan dy="-12.19" font-size="21.05">+</tspan><tspan dy="12.19">​</tspan> FOXP3<tspan dy="-12.19" font-size="21.05">+</tspan><tspan dy="12.19">​</tspan> TILs</text>
<text x="1078.00" y="1353.30" font-size="27.8" font-weight="normal" fill="#222" text-anchor="start">Injected</text>
<text x="1332.00" y="1350.40" font-size="27.8" font-weight="normal" fill="#222" text-anchor="start">Contralateral</text>
<text x="911.00" y="1498.50" font-size="31.7" font-weight="normal" fill="#222" text-anchor="start">Control</text>
<text x="897.50" y="1746.00" font-size="31.7" font-weight="normal" fill="#222" text-anchor="start">C-REV</text>
<text x="868.00" y="1994.40" font-size="31.7" font-weight="normal" fill="#222" text-anchor="start">Metformin</text>
<text x="850.00" y="2226.20" font-size="31.7" font-weight="normal" fill="#222" text-anchor="start">Combination</text>
<text x="1187.50" y="1410.00" font-size="27.8" font-weight="normal" fill="#222" text-anchor="start">42.8</text>
<text x="1464.00" y="1409.80" font-size="27.8" font-weight="normal" fill="#222" text-anchor="start">46.4</text>
<text x="1191.50" y="1661.50" font-size="27.8" font-weight="normal" fill="#222" text-anchor="start">33.1</text>
<text x="1463.80" y="1661.00" font-size="27.8" font-weight="normal" fill="#222" text-anchor="start">39.5</text>
<text x="1206.00" y="1937.20" font-size="27.8" font-weight="normal" fill="#222" text-anchor="start">25.2</text>
<text x="1458.40" y="1937.20" font-size="27.8" font-weight="normal" fill="#222" text-anchor="start">26.3</text>
<text x="1184.20" y="2201.30" font-size="27.8" font-weight="normal" fill="#222" text-anchor="start">31.4</text>
<text x="1464.20" y="2201.30" font-size="27.8" font-weight="normal" fill="#222" text-anchor="start">28.9</text>
<line x1="1014.20" y1="2440.80" x2="1014.20" y2="2334.00" stroke="#000" stroke-width="6" stroke-linecap="butt"/>
<path d="M1001.8,2336.1 L1014.2,2315.4 L1025.8,2336.1 Z" fill="#000"/>
<line x1="1011.20" y1="2437.80" x2="1107.00" y2="2437.80" stroke="#000" stroke-width="6" stroke-linecap="butt"/>
<path d="M1105.4,2425.7 L1126.2,2437.8 L1105.4,2449.4 Z" fill="#000"/>
<text x="992.00" y="2369.00" font-size="28" font-weight="normal" fill="#222" text-anchor="middle" transform="rotate(-90 992.00 2369.00)">KLRG-1</text>
<text x="1013.00" y="2476.30" font-size="28" font-weight="normal" fill="#222" text-anchor="start">CD103</text>
<text x="1.00" y="40.30" font-size="42.5" font-weight="bold" fill="#222" text-anchor="start">a</text>
<text x="854.00" y="40.60" font-size="42.5" font-weight="bold" fill="#222" text-anchor="start">b</text>
<text x="1.00" y="467.50" font-size="42.5" font-weight="bold" fill="#222" text-anchor="start">c</text>
<text x="0.00" y="921.20" font-size="42.5" font-weight="bold" fill="#222" text-anchor="start">d</text>
<text x="1503.00" y="40.30" font-size="42.5" font-weight="bold" fill="#222" text-anchor="start">e</text>
<text x="2.00" y="1375.00" font-size="42.5" font-weight="bold" fill="#222" text-anchor="start">f</text>
<text x="854.00" y="1307.80" font-size="42.5" font-weight="bold" fill="#222" text-anchor="start">g</text>
<text x="1.00" y="1827.70" font-size="42.5" font-weight="bold" fill="#222" text-anchor="start">h</text>
</svg></body></html>
